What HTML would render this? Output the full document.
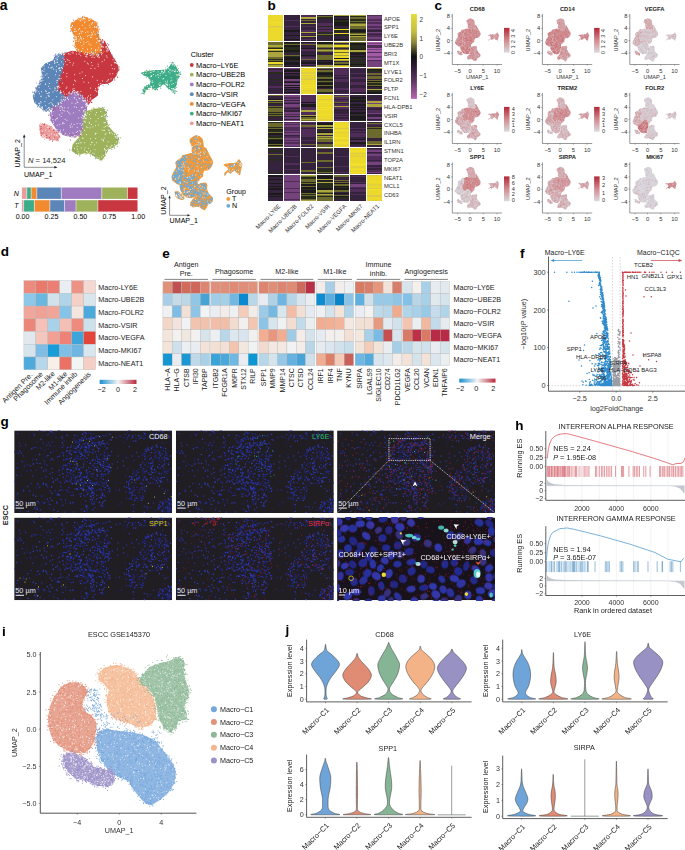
<!DOCTYPE html>
<html><head><meta charset="utf-8"><title>Figure</title>
<style>html,body{margin:0;padding:0;background:#fff;}svg{display:block;}text{font-family:"Liberation Sans", sans-serif;}</style>
</head><body>
<svg width="685" height="850" viewBox="0 0 685 850" font-family='"Liberation Sans", sans-serif'>
<rect width="685" height="850" fill="#fff"/>
<text x="-0.3" y="10.27" font-size="14" font-weight="bold" fill="#000">a</text>
<defs><path id="uVEGFA" d="M71.6 23.9L78.2 19.5L84 17.6L91.3 19.5L96.4 23.9L97.9 30.4L98.6 37.7L101.5 43.6L102.3 52.3L98.6 55.3L92.8 54.5L85.5 53.8L78.2 52.3L75.3 46.5L76 39.2L73.8 33.4L70.9 27.5Z"/><path id="uLY6E" d="M62.8 54.5L72.3 51.6L78.2 52.3L85.5 53.8L98.6 55.3L102.3 52.3L101.5 43.6L100.1 39.9L104.5 42.1L109.6 52.3L112 57L115.5 62L117.5 66.5L117.8 70L115.5 75.5L112 80L107.5 83L100.1 83.4L97.2 89.2L97.2 95L91.3 99.4L88.4 103.8L85.5 100.9L79.6 93.6L73.8 91.4L66.5 98L62.1 95L57 89.2L57.7 81.9L61.4 71.7L63.6 62.9Z"/><path id="uVSIR" d="M56.3 55.3L62.8 54.5L63.6 62.9L61.4 71.7L57.7 81.9L57 89.2L62.1 95L66.5 98L59.2 103.8L53.4 108.2L50.4 111.1L44.6 109.6L38.8 105.3L35.1 102.3L33.6 96.5L35.8 90.7L38.8 84.8L43.1 79L42.4 71.7L41.7 68.4L46.1 64L53.4 61.1Z"/><path id="uFOLR2" d="M66.5 98L73.8 91.4L79.6 93.6L85.5 100.9L86.2 109.6L84 118.4L82.6 127.2L79.6 134.5L72.3 136.6L63.6 134.5L57.7 130.1L51.9 121.3L50.4 114L51.9 109.6L59.2 103.8Z"/><path id="uUBE2B" d="M85.2 112.2L94.3 109.5L103.5 108.5L106.2 112.2L105.3 119.5L108 126.8L114.4 134.1L118 137.7L117.2 143.2L112.6 146.9L108 148.7L105.3 154.2L101.6 159.6L97.1 157.8L92.5 154.2L85.2 152.3L77.9 154.2L72.4 150.5L73.4 145L77.9 139.6L81.6 135.9L83.4 126.8L84.3 119.5Z"/><path id="uNEAT1" d="M40.2 125.7L44.6 124.2L51.9 128.6L57.7 133L58.5 138.8L53.4 139.6L46.1 137.4L41 133Z"/><path id="uMKI67" d="M142 73.3L146.8 71.9L150.4 71.5L155.5 70.8L161.4 70.8L167.2 70L170.1 66.8L172.3 63.5L174.5 65.3L176 68.2L178.9 72.6L178.1 77L176.7 79.9L176 84.3L174.5 87.2L175.2 90.8L173.8 91.9L170.1 88.7L167.2 86.5L165.7 84.3L162.8 83.5L159.9 85.7L157 87.2L155.5 89.4L152.6 87.2L148.9 86.5L145.3 90.1L143.5 93.4L143.8 88.7L148.2 85.7L151.1 83.5L150.4 79.1L148.2 76.2L144.6 74.8Z"/></defs>
<g id="umapA"><use href="#uVEGFA" fill="#f28a30" stroke="#f28a30" stroke-width="1.6" stroke-linejoin="round"/><use href="#uLY6E" fill="#c8373f" stroke="#c8373f" stroke-width="1.6" stroke-linejoin="round"/><use href="#uVSIR" fill="#5c86b8" stroke="#5c86b8" stroke-width="1.6" stroke-linejoin="round"/><use href="#uFOLR2" fill="#9e7cbf" stroke="#9e7cbf" stroke-width="1.6" stroke-linejoin="round"/><use href="#uUBE2B" fill="#9db25b" stroke="#9db25b" stroke-width="1.6" stroke-linejoin="round"/><use href="#uNEAT1" fill="#ec9b9c" stroke="#ec9b9c" stroke-width="1.6" stroke-linejoin="round"/><use href="#uMKI67" fill="#3dac88" stroke="#3dac88" stroke-width="1.6" stroke-linejoin="round"/><path d="M85.6 54h0M94.4 21.6h0M78 19.7h0M72.9 45h0M79.2 20.2h0M82.2 19.3h0M92.7 21.4h0M93.6 21.2h0M87.2 17.8h0M73.4 41.4h0M83.8 51.7h0M101.2 45.5h0M86.7 57h0M94.4 22.6h0M73 30.8h0M89.6 55.3h0M76.6 39.3h0M84 16.2h0M74.1 38.6h0M76.9 21h0M73.7 32.5h0M102.9 46.4h0M96 33h0M75.7 41.3h0M79.9 53.3h0M85.4 18.7h0M71.8 29.3h0M96.1 27.7h0M95.9 28.2h0M82.7 16.7h0M76.1 50.8h0M78.7 52.2h0M97.6 30.9h0M98.6 26.9h0M89.9 18.9h0M97.8 54.4h0M96.9 23.2h0M74 33h0M100.1 52.5h0M100.7 43.2h0M76.1 22.1h0M89 20h0M98.4 34.4h0M71.5 28.3h0M101.7 40.8h0M99.9 45.4h0M76.1 20.5h0M85.3 51.9h0M85.9 54.4h0M89.6 52.7h0M73.6 20.2h0M90.9 19.9h0M100.8 42.3h0M93.8 53.9h0M76.8 36.3h0M100 37.9h0M75.5 36.2h0M71.1 30.6h0M97 22.4h0M95.1 21.3h0M101.2 43.4h0M95.8 53.9h0M77.6 41.1h0M75.1 34.1h0M71.8 28.1h0M72.8 33.5h0M94.9 25.3h0M78.7 18.7h0M96.5 23.6h0M81.3 18h0M86.2 17.6h0M70.8 28.1h0M72.3 31.7h0M99.5 54.6h0M76.6 39.2h0M88.2 19.2h0M94.6 54.3h0M86.6 51.7h0M104 51.4h0M98.9 37.1h0M75 39.9h0M83.1 53.1h0M76 36.8h0M98.6 56.1h0M103 52.6h0M84.2 19.5h0M74.7 37.9h0M79 50.7h0M93.7 55h0M75.9 40.2h0M91.7 20.2h0M86.1 18.2h0M75.9 40.3h0M74.1 23.8h0M102.4 53.4h0M95.8 56h0M99.3 29h0M78.1 18.1h0M100.1 41.9h0M73.5 41.1h0M71.3 27.2h0M100.6 41.1h0M77.4 46.3h0M72 22.7h0M97.4 29.9h0M71.2 25.9h0M98.7 56.1h0M76.2 22h0M91.9 54.1h0M83.9 53.9h0" stroke="#f28a30" stroke-width="1.2" stroke-linecap="round" fill="none"/><path d="M107.5 48.5h0M63.9 53.7h0M98.1 89.6h0M102.6 39.5h0M100.6 51.1h0M117.5 67.9h0M111.1 55.4h0M57.3 90.8h0M81.6 96h0M103.4 83h0M88 101.1h0M82 96.4h0M91.9 102.3h0M101.3 83.9h0M104.2 41h0M74.6 91.3h0M106.9 82.2h0M84.6 55.4h0M104.6 41.3h0M118.3 66.3h0M75.7 51.7h0M98.8 52.9h0M94.2 97.5h0M110.1 52.5h0M109.5 80.7h0M114.2 78.9h0M112.1 56.8h0M111.7 75.7h0M108.7 44.8h0M83.3 54.2h0M62.1 58.9h0M108.8 50.4h0M60.4 73.4h0M62.3 59.1h0M99.7 54.4h0M112 54.9h0M97.9 55.4h0M77.2 93.8h0M56.7 85.8h0M108.8 51.2h0M88.3 102.6h0M106 48.3h0M63.8 93.8h0M91.1 100.2h0M102.2 41.5h0M114.8 80h0M112.3 79.9h0M110 82.1h0M73.8 93.1h0M110.5 54.1h0M91.5 102.4h0M108.6 81.9h0M71 94.9h0M78.6 52.2h0M113.9 62.2h0M73.2 92.9h0M100.8 42.5h0M106.4 49.2h0M103.3 82.7h0M107.9 52.3h0M116.9 73.4h0M62.3 55h0M64.4 96.6h0M119 69.2h0M112.1 80.4h0M99.7 54.8h0M57.3 89.3h0M115.2 75.8h0M100.8 53.8h0M111 55.9h0M116.5 74.1h0M100.8 84.2h0M64.8 96.3h0M113.7 78.7h0M102.3 41.8h0M63.1 59.1h0M100.3 40.7h0M104.7 44.9h0M111.2 81.1h0M88.2 102.7h0M58.2 88.3h0M111.9 57.1h0M107.6 52.5h0M110.3 81.1h0M63.5 65.6h0M119 66.9h0M118.7 70.7h0M60.1 75.1h0M84.7 54.3h0M61.6 67.3h0M76.7 93.5h0M102.6 51.6h0M117.6 77.2h0M101.1 41.3h0M65.8 97.1h0M115.7 64.8h0M75.5 91.8h0M62.9 96.7h0M116 75.4h0M78.4 92.8h0M114.7 61.2h0M82.3 95.4h0M76.6 91.2h0M63.8 61.9h0M80.9 93.6h0M109.4 50.9h0M111.8 78.8h0M59 91.6h0M56 88.3h0M81.4 53.5h0" stroke="#c8373f" stroke-width="1.2" stroke-linecap="round" fill="none"/><path d="M36.4 102.2h0M49 111.1h0M63.4 65.5h0M39.4 84.8h0M56.2 83.8h0M42.2 72.3h0M51.5 108.6h0M58.1 105.5h0M58.1 83.6h0M64 66.3h0M62.7 102.5h0M60.9 55.7h0M36.5 91.4h0M59.5 71h0M64.7 99.4h0M35.2 91.4h0M55.7 54.3h0M62.1 95.4h0M58.7 101.5h0M60.7 55.2h0M43.6 68.9h0M41.1 76.5h0M54.7 57.5h0M58.6 94.8h0M55.2 59h0M41.6 68.9h0M40 107.5h0M59.4 55.4h0M63.6 65.7h0M58.2 90.1h0M37.7 104.3h0M39.2 84.3h0M62.7 95.4h0M63.6 95.6h0M35.5 87.9h0M60.1 69.4h0M61.2 91.7h0M45.8 64.1h0M62.9 94.9h0M43.9 110.8h0M60.6 94.4h0M62.8 61.1h0M34.2 92.6h0M34.6 101.6h0M41.8 107.8h0M44.9 64.3h0M44.5 65.1h0M37.9 88.8h0M42.8 109.7h0M64.5 56.7h0M45.5 109.9h0M41.5 78h0M63.7 54.6h0M62 73.5h0M60.4 92.4h0M41 107.9h0M43.2 66.6h0M41.5 79.4h0M43.8 66.4h0M58.5 90.9h0M46.1 111.4h0M60.6 80.2h0M32.8 92.2h0M58.4 73.8h0M44.5 108.4h0M43.4 108.6h0M46.9 65.7h0M59.6 104.7h0M55.8 54.1h0M64.5 98.1h0M41.6 83.1h0M44.7 65.5h0M41.5 108.1h0M33.6 98.5h0M45.4 64.9h0M61 102.2h0M57.3 87.2h0M55.5 108.8h0M39.8 106.3h0M42 82.9h0M63.5 55.1h0M57.3 89.4h0M43 75.3h0M39.8 81.2h0M42.1 68.5h0M63.4 61.6h0M44.1 77.4h0M33.4 95.5h0M60.1 73.9h0M54.9 108.3h0M36.6 96.9h0M52.2 109.9h0M38.8 85.5h0M66.2 96.9h0M37.7 106.7h0M54.9 61.1h0M43.7 74.1h0M58.9 53.5h0M49.9 111.4h0M41.9 68.9h0M60.7 80.6h0M57.5 56.5h0M63.3 60h0M42.7 71.8h0M44.5 73.4h0M38.6 105.5h0M65.1 61.5h0M61.2 69.5h0M61.3 71.5h0M52.2 109.2h0" stroke="#5c86b8" stroke-width="1.2" stroke-linecap="round" fill="none"/><path d="M85.9 118.3h0M62.8 101.6h0M53.9 106h0M69.8 94.1h0M50.2 120.2h0M52.8 108.5h0M69.9 96.3h0M65.3 98h0M53.1 110.1h0M55.1 106.3h0M53.1 107.1h0M79.4 92.2h0M51.8 117.8h0M74.3 93.7h0M75.6 91.5h0M86.7 111.2h0M77.9 132.4h0M82.8 95.6h0M56.3 129.1h0M57.1 103.2h0M82 96.2h0M83.4 102.5h0M85.7 107.2h0M58.4 105.2h0M85.2 106.6h0M86.8 106.5h0M51.2 115.4h0M87.7 104h0M51.4 119.7h0M60.3 104.2h0M67.3 97h0M85 104.3h0M81.1 95.4h0M84.8 109.4h0M51.9 115.2h0M52.9 120.7h0M53.8 108.8h0M81.3 129.1h0M80.5 130h0M80 96h0M56.9 130.5h0M52.2 107h0M80.5 133h0M86 116h0M87 106.3h0M70.3 136.2h0M50.5 110.2h0M77.6 133.9h0M51.6 108.4h0M57.2 130.7h0M68.4 96.7h0M55.6 127.8h0M54.1 117.5h0M51.2 109.9h0M65.4 97.8h0M74.5 133.9h0M80.4 94.6h0M56.8 107.2h0M57.5 128.1h0M53.1 106.7h0M78.6 132.4h0M50.9 113.7h0M75.7 135.2h0M63.8 100.8h0M66.2 97.1h0M81.9 98.7h0M59.2 129.5h0M83 113.9h0M83.8 99.8h0M60.7 101.1h0M51.3 115.3h0M62.6 99.9h0M72.8 135.6h0M75.1 136.3h0M82.7 129.9h0M71.5 93.8h0M83.7 104.7h0M66.9 98.5h0M75.3 135h0M79.3 133.9h0M84.6 124.3h0M55.4 123.6h0M74.4 92.7h0M67.6 96.9h0M78 94.2h0M68.2 135h0M81.5 121.4h0M84.4 112.8h0M83.9 117.9h0M73.4 137h0M86.4 110.6h0M68.4 95h0M63.3 134.4h0M84.2 108.3h0M73.5 92h0M62 132.4h0M64.6 101.4h0M75.8 137.3h0M52.5 107h0M58 129.5h0M84.9 115.5h0M83.9 127.6h0M59.4 130.9h0M72.7 91.4h0M50.3 114.7h0M82.4 131.5h0M82 97.3h0M56.2 125h0M82.4 126.7h0M52.9 108.7h0" stroke="#9e7cbf" stroke-width="1.2" stroke-linecap="round" fill="none"/><path d="M86.6 111h0M112.7 134.9h0M85 112.8h0M81 130.8h0M113.3 146.7h0M93.3 107.8h0M104 111.3h0M79.7 155.9h0M90.5 155.8h0M104.9 113.6h0M95.1 154.9h0M112.8 145.7h0M98.9 107.3h0M76.7 136.5h0M106.5 125h0M117.1 138.4h0M117.3 142.2h0M117.3 146.3h0M98.4 111h0M76 143.9h0M74 146.2h0M103.9 110.6h0M118.8 139.8h0M84.4 119.8h0M101.2 159.8h0M102.1 108.2h0M75.4 153h0M115.8 136.3h0M102 158.8h0M107.1 120.7h0M105.4 115h0M105.6 153.1h0M86.7 114.1h0M74.8 142h0M117 144.2h0M81.5 136.3h0M117.8 137.9h0M100.3 108.1h0M104.2 109.8h0M85.1 113.9h0M82.9 134.5h0M112.4 132.5h0M120.3 137.7h0M104.3 107.4h0M94.9 109.1h0M85.9 153.9h0M116.4 137.9h0M81.4 135.7h0M105 115.8h0M108.7 125.4h0M118.4 138.7h0M107.6 110.2h0M109.8 124.5h0M97 157.2h0M107.2 151h0M104.8 155.3h0M85.6 115.4h0M105.5 121.8h0M114 147.2h0M114 147.2h0M104.5 113.2h0M82.3 119.3h0M106.3 115.1h0M113.1 146.7h0M111.8 149.4h0M111.2 146.2h0M76.1 153h0M76.1 153.4h0M95.6 156.8h0M111.4 131.3h0M79.5 140.1h0M79.9 154.3h0M84.6 120.3h0M114 132.9h0M98.6 109.7h0M83 128h0M83.8 151.8h0M76.7 141h0M103.8 156.5h0M86.4 152.8h0M118 141.5h0M83 112.1h0M109.8 148.1h0M78 153.5h0M117.3 143.7h0M103.3 113.5h0M85.8 111.3h0M92 109h0M119.2 142.9h0M84.3 119.4h0M75.5 142.8h0M96.9 157.8h0M116.2 137.7h0M115.6 133.9h0M85.4 115.3h0M98.2 158.2h0M99.9 160.2h0M78.7 139.6h0M69.7 149.9h0M103 156.3h0M105.3 155.7h0M116.8 136h0M99.5 157.6h0M94.1 108.8h0M82.6 120.8h0M100 110.2h0M96.5 157.1h0M104 158.7h0M74.2 151.6h0M104.2 122.5h0" stroke="#9db25b" stroke-width="1.2" stroke-linecap="round" fill="none"/><path d="M42.9 136.6h0M53.1 138.6h0M44.8 135.3h0M54.4 139.5h0M58.5 136.2h0M44.7 139.1h0M57.6 135.7h0M58 134.1h0M48.1 128.2h0M40.7 135.2h0M57.4 136.4h0M43.4 137.2h0M52.5 139.3h0M39.7 129.9h0M55.2 131.1h0M49.6 126.1h0M41.5 135.2h0M46.2 126.2h0M50.2 139.8h0M44.6 134.6h0M40.3 131.5h0M53.9 131.1h0M52.2 137.1h0M49.7 140.2h0M40.2 128h0M54 138.2h0M41.8 134.9h0M45.3 135.8h0M39.6 124.9h0M46 126h0M58.2 132.2h0M41.6 126.5h0M44.6 127.7h0M57.7 140.7h0M49.7 137.7h0M40.9 134.3h0M58.4 136.6h0M48.7 125.7h0M43.3 124.7h0M43.8 124.6h0M43.6 125.9h0M55.1 138.7h0M54.8 131.4h0M54.6 130.9h0M43.8 124.7h0M42.1 133.9h0M52.4 140.2h0M43.3 126.7h0M46.1 126.1h0M39.7 126.5h0M41.5 124.5h0M40.3 125.1h0M44.5 123.5h0M50.9 139.6h0M57.6 135.6h0M45.4 135.1h0M58.3 134.4h0M44.1 125.6h0M47.7 125h0M49.5 129.6h0M57 135.5h0M45.4 136.4h0M53.8 130.2h0M53.2 131.4h0M56.8 135.3h0M42.1 134.2h0M40.8 130.5h0M58.8 132.7h0M40 129.3h0M57.8 132.1h0M48.3 128.5h0M45.8 136.7h0M42.5 125.5h0M57.7 134.4h0M47.6 137.1h0M57.6 140.8h0M42.7 137.5h0M57.8 133.7h0M48.5 137.9h0M41.4 130.3h0M47.7 126.6h0M58.6 137.2h0M54.4 129.9h0M40.8 123h0M58 135.5h0M40.4 133.3h0M50.8 127h0M42.6 123.5h0M59.2 137.2h0M49.4 138.8h0M40.4 132.5h0M48.3 125.4h0M48.2 136h0M40.3 128.6h0M55.7 133.3h0M58.6 140.6h0M58.1 136.5h0M52.2 139.7h0M52.3 127.6h0M60 137.2h0M56.8 133.5h0M55.4 132.7h0M48.6 125.9h0M53.6 131.7h0M57.5 134.7h0M58.5 132.7h0M49.2 127.5h0M49.3 138.2h0M41.9 125h0M40.3 129.4h0" stroke="#ec9b9c" stroke-width="1.2" stroke-linecap="round" fill="none"/><path d="M172.2 91.6h0M175.7 84.3h0M167.3 66.1h0M173 90.7h0M150.1 70.8h0M174.4 79.4h0M178.6 72.1h0M161.1 83.5h0M173.8 88.2h0M174.3 91.5h0M146.8 89.3h0M150.3 76.9h0M167.7 70.1h0M149.7 87.1h0M176.4 81.1h0M146.3 77.2h0M145.9 75h0M146.3 70.3h0M180.6 74.3h0M154.8 88.7h0M145.8 73.7h0M180.3 72.1h0M159 72.2h0M142 93.4h0M161.7 83.3h0M176.4 79.2h0M176.9 72.2h0M144.7 92.5h0M174.4 93.6h0M173.6 62.5h0M176.3 83.5h0M148.4 85h0M143 74.1h0M166.9 71.1h0M145.7 74.7h0M148.4 75.1h0M178.6 78h0M167.7 69.2h0M176.8 91.3h0M175.7 86h0M170 67h0M156.7 86.6h0M146.7 72.9h0M142.1 73.1h0M155 86.8h0M173.1 63.1h0M154.7 88.3h0M144.8 88.4h0M172.3 91h0M148.8 86.2h0M168.4 86.7h0M177.1 70.4h0M149.6 70.4h0M147.5 89.2h0M146.6 86.4h0M162.6 70.3h0M176 67.2h0M152.8 88.9h0M155.9 89h0M171.4 88.1h0M153.5 70.5h0M150.7 87h0M144.2 75.2h0M172.3 62.4h0M170.5 67.5h0M177.4 73h0M153.3 87.5h0M147.2 86.1h0M152.3 80h0M157.4 89.7h0M147.9 86h0M179.5 76.6h0M168.7 88.8h0M160.6 88.1h0M176.9 78.9h0M145.6 89h0M160.1 86.3h0M149 71h0M147 72.2h0M165.5 84h0M160.8 70.5h0M158.7 86.8h0M145.7 72.1h0M161.5 85.6h0M160.7 84.5h0M168.4 69.1h0M147.8 87.5h0M161.5 84.7h0M160.2 86h0M144.3 74.7h0M142.7 89.8h0M177.1 70.5h0M170.5 89.3h0M162.2 83.3h0M168.2 87.7h0M172.2 92.1h0M154.3 88.3h0M169.5 66.6h0M147.6 75.1h0M155.2 86.5h0M177.5 76.3h0M146.6 85.8h0M155.1 89.7h0M147.1 71.5h0M146 89.6h0M153.4 85.6h0M176.2 87.5h0M175.4 92.8h0M170 88h0M180.2 73.9h0" stroke="#3dac88" stroke-width="1.2" stroke-linecap="round" fill="none"/><path d="M80.3 20.9h0M78.7 29.7h0M90.1 53.7h0M95.5 49.7h0M95.2 34.2h0M84.6 22.9h0M100.3 43.4h0M80.4 36.5h0M81.9 45.9h0M85.5 32.6h0M83.9 41.8h0M91.8 32.6h0M81.4 51.3h0M89.3 25.2h0M89 43.9h0M87.9 41.5h0M87.5 49.3h0M101.4 49.8h0M71.4 27.7h0M81.1 19.2h0M85.1 28.2h0M81.3 33.1h0M79.3 33.5h0M87.9 32h0M75.6 46.3h0M98.6 47.9h0M99.1 41.5h0M78.4 36.5h0M96.8 42.6h0M83.6 38.7h0M92.4 34.3h0M91.9 34.8h0M89 35.4h0M91.2 35.3h0M81.7 38.2h0M82.8 48.7h0M95.7 50.4h0M82.1 20h0M91.6 48.7h0M91.8 52.4h0M94.9 27.5h0M97.3 49.9h0M81.8 39.8h0M82.3 25.3h0M76.2 31.4h0M92.1 23.3h0M91.7 24.3h0M100.6 49.9h0M91.4 51.9h0M81 31.2h0M98 33.7h0M83.8 44.1h0M82.7 31.4h0M91.7 37.3h0M80.4 42.6h0M79.5 28.6h0M84.9 21.8h0M90.8 45.1h0M76.4 37.1h0M86.2 42.5h0M90.5 37.3h0M96.1 27.1h0M79.1 39.9h0M80.5 38.1h0M79.2 34.1h0M87.4 36.2h0M95.4 52.3h0M93.4 31.8h0M90 27.3h0M78.4 49.6h0" stroke="#ffffff" stroke-width="1" stroke-linecap="round" fill="none"/><path d="M99.1 33.4h0M85.8 56.4h0M88.3 20.2h0M69.5 25.9h0M92.8 22.5h0M72.7 44h0M76.7 38.7h0M75.9 19.5h0M83.2 18.9h0M76.7 48.5h0M89.8 18.8h0M102.2 41.7h0M91.3 54.9h0M76.8 41.4h0M84 18.8h0M72.3 25.6h0M70.7 27.5h0M93.9 54.8h0M80 20.3h0M75.9 41.2h0M77.5 16.4h0M73.8 31.7h0M92.9 53.5h0M83 18.1h0M92.8 56h0M101.3 40.1h0M75 35.9h0M96.9 38.8h0M80.9 17.5h0M74.9 31.5h0M97.3 32.2h0M93.1 54.5h0M99.2 40.9h0M89.2 20.5h0M98.3 54.9h0M84.1 18.4h0M75.6 39.3h0M87.4 52.8h0M101.5 52.6h0M103.2 47.3h0M96.7 54.9h0M76.2 39.5h0M78.2 51h0M103.1 42.9h0M98.2 55.2h0M85.2 19.1h0M83.1 18.4h0M101.4 50.4h0M94.4 26.5h0M97.5 56.6h0M101.3 47h0M93.7 53.1h0M94 22.1h0M77.2 18.7h0M97.3 26.1h0M97.8 32.5h0M78.3 19.1h0M97.6 26.2h0M96.5 27h0M75.1 37.6h0M101.4 54.7h0M103.4 42.3h0M71.6 27h0M81.5 16.8h0M102.8 46.7h0M73.9 21.6h0M90.8 19.4h0M72.4 25.3h0M87.5 54.3h0M97.1 38.5h0M75.2 36.9h0M78.3 41.3h0M97.2 27.9h0M80.8 55.7h0M87.7 54h0M72.5 33h0M88.9 18.3h0M83.2 17.3h0M81.8 51.4h0M75 29.7h0M83.8 15.9h0M99.3 31.4h0M72.8 26h0M92.2 17.3h0M100.2 44.7h0M74.8 28.8h0M81 16.3h0M86.3 54.3h0M89.2 53.2h0M98.3 55.3h0" stroke="#ffffff" stroke-width="1" stroke-linecap="round" fill="none"/><path d="M63.7 91.8h0M82.5 78.5h0M84.8 61.3h0M70 62.5h0M108.3 79.5h0M73.5 84.7h0M83.9 82.1h0M106.1 47.6h0M107 51.7h0M79 54.2h0M111.1 78.9h0M111.3 65.1h0M87.4 101h0M87.8 103.1h0M68.5 93h0M66.9 73.6h0M114.5 68.9h0M106.2 55.9h0M90.6 95h0M88.2 64h0M94.9 68.3h0M115.2 63h0M97.2 80.3h0M79.9 73.3h0M87.3 63.1h0M90.9 68.5h0M92.7 76.8h0M102.4 80.9h0M74.1 88.6h0M74.7 74.7h0M96.4 91.3h0M98.1 64.2h0M99 57.6h0M66.8 76.7h0M88.4 96h0M66.9 87.1h0M67.4 59.8h0M69 60.4h0M72.8 65.1h0M73.2 52.9h0M112.3 68.7h0M107.9 80.6h0M104.3 60h0M66.2 88.3h0M85.6 75.6h0M97.8 88h0M73.7 63.1h0M112.8 73.7h0M74.5 80.2h0M72.8 89.2h0M91.4 62.5h0M90.4 88.1h0M98.2 66.3h0M106.1 47h0M75.7 81.1h0M102.1 61.7h0M80.9 91.4h0M110 73.9h0M88.7 82.7h0M82.1 72h0M92.1 65.7h0M91.9 57.4h0M108 49.6h0M87.4 97.3h0M106.9 81.4h0M94.2 57.5h0M61.1 78.5h0M107.1 57.3h0M70 54.2h0M62.7 83.1h0" stroke="#ffffff" stroke-width="1" stroke-linecap="round" fill="none"/><path d="M59.3 75.4h0M80 52.2h0M114 79.2h0M76.5 51.3h0M72.9 51h0M104.7 39.1h0M103.8 85.7h0M102.9 42.3h0M85.4 100.3h0M103.1 85.6h0M107 48.8h0M98.7 84.5h0M62.6 68.4h0M114.3 62.3h0M95.2 90.6h0M82.6 98.2h0M90.6 55.3h0M76.8 91.9h0M63.8 96.9h0M98.5 86.8h0M64.3 94.1h0M78.6 94.7h0M57.4 88h0M106.1 46.5h0M115.3 62.4h0M101.4 46.4h0M83.3 98h0M101.2 53.1h0M85.3 52.1h0M58.1 87.9h0M107.4 48.3h0M72.1 52.8h0M55 90.2h0M118.7 66.2h0M99.1 57.1h0M119 63.1h0M84.4 53.8h0M98.3 87.7h0M95.5 88.7h0M101.9 44.8h0M57.5 80.4h0M98.1 40.6h0M85.9 101.9h0M76 91.4h0M89.1 101.4h0M91.3 100.2h0M97 54.9h0M103.7 41.6h0M98.1 92h0M76 95.2h0M100.8 40.7h0M106.6 41.4h0M75.8 49.8h0M103.1 42.8h0M65.7 61.7h0M100.3 50.7h0M113 54.7h0M63.6 64.1h0M87 103h0M90.4 98h0M86.5 103.6h0M68.4 53.7h0M100.8 83.5h0M87.3 99.1h0M90.2 98.9h0M86.9 56.8h0M86.5 55.1h0M106.9 50.6h0M72.8 92.9h0M85 100.8h0M113.7 79.1h0M99.9 37.7h0M63.6 72.3h0M87.3 100.6h0M57 80.5h0M108.1 50.5h0M114.9 62.7h0M99.7 41.1h0M69.3 93.2h0M113 59.8h0M64.8 53.2h0M60.7 90.7h0M59.7 78.8h0M76.4 54h0M116.7 63.4h0M99.7 40.2h0M64.4 54.5h0M67.6 98.3h0M113.1 54.4h0M117 73.9h0" stroke="#ffffff" stroke-width="1" stroke-linecap="round" fill="none"/><path d="M48 93.4h0M56.3 96.7h0M58.4 68.6h0M56.3 66.3h0M54.8 88h0M55.2 88.3h0M56.5 71.7h0M49.8 109.4h0M56.2 70h0M58.9 64.6h0M47.1 93.5h0M48.2 95.7h0M44.9 101.6h0M41 102.9h0M39.8 105.7h0M38.8 91.8h0M52.9 91.9h0M46.2 91.4h0M52.3 67.1h0M61.6 61.9h0M57.4 62.3h0M59.5 68.7h0M45.6 84.1h0M59.8 70.6h0M46.1 97.8h0M45.6 90.8h0M49.1 103.7h0M61.1 67.8h0M57 59.8h0M49 107.5h0M40.9 96.6h0M52.1 103.8h0M50.9 68.1h0M39.2 103.4h0M42.3 106.8h0M48.8 95.9h0M44.1 66.1h0M55.4 74.9h0M49.4 64.7h0M49.1 96.4h0M51.3 67.7h0M50 88.7h0M55 62.7h0M58 103h0M45.7 105.6h0M53.3 105.5h0M49.3 83.5h0M40.7 101.7h0M48.6 67.3h0M47 73.9h0M53.6 69.1h0M48.5 86.3h0M57 62.3h0M52.7 104.7h0M39.1 87.6h0M48.5 77.6h0M42.4 107.8h0M51 102.5h0M41.6 91.7h0M52.9 99.8h0M39.6 93.7h0M45.7 84.2h0M55.9 58.7h0M49.1 92.5h0M59.9 55h0M49.2 92.9h0M56.9 91.1h0M59.4 67.7h0M47.8 108.7h0M41.2 96.1h0" stroke="#ffffff" stroke-width="1" stroke-linecap="round" fill="none"/><path d="M41.1 108h0M62.3 101.2h0M38.2 84.8h0M61.4 67.4h0M42.4 75h0M60.4 91.9h0M60.5 92.8h0M49.6 109.1h0M42.5 70.8h0M51.7 110.5h0M36.8 90.3h0M64.9 96.9h0M43 77.1h0M57.4 90.6h0M57.4 86.7h0M57 55.6h0M61.9 96.9h0M48.7 107.8h0M50.8 111.4h0M67 64.7h0M57 86.4h0M32.9 87.3h0M64.2 59.6h0M51.6 112.8h0M35.3 89.7h0M35.6 90.9h0M60.3 70.4h0M57 54.8h0M49.4 61h0M41 81.4h0M57.2 57.1h0M35.7 92.4h0M51 110.6h0M63.3 53.8h0M56.5 54.4h0M46.5 112.6h0M51.5 111.5h0M56.9 82.4h0M58.8 56.3h0M41.9 78.3h0M51.5 110.8h0M39.5 105h0M39.1 85h0M32.9 98.9h0M48 111.1h0M54.7 63.4h0M41.1 78.5h0M52.7 108.5h0M49.1 111.2h0M58.7 78.6h0M54.2 60.6h0M60 93.1h0M65.4 97.5h0M49.5 109.6h0M42.9 80.4h0M38.9 103.4h0M50.4 111h0M58.6 86.5h0M40.3 83.9h0M37 82.3h0M44.2 69h0M46.2 109.7h0M61.7 54.5h0M58.5 104.4h0M47.9 113.4h0M41.8 107.4h0M53.5 111.6h0M34.2 96.1h0M60.3 102.4h0M61.3 92.6h0M47.4 63.5h0M61.2 103.3h0M40 106.8h0M59.8 87.4h0M45.3 75.1h0M43.9 71.3h0M36 91.3h0M49 110.8h0M63.5 54.8h0M41.9 67.2h0M34.4 94.3h0M35.7 102.2h0M35.3 91h0M42.7 108.3h0M38.9 84.5h0M54.5 61.5h0M57.6 59.3h0M62.9 58.2h0M58.8 86h0M41.6 81h0" stroke="#ffffff" stroke-width="1" stroke-linecap="round" fill="none"/><path d="M77.1 127.6h0M64 123.5h0M83.7 100.5h0M61.2 106.3h0M76.6 99.8h0M70 114h0M74.3 97.9h0M70.5 127.3h0M70.1 125.7h0M81.5 107.7h0M83.5 100.8h0M51.2 114.1h0M84.6 114.5h0M83.8 116.7h0M55.5 119.9h0M79.2 110.6h0M72 103.1h0M60.3 110.4h0M68.8 112.6h0M62.6 123.8h0M77.2 102.1h0M59.6 114.8h0M56.7 118.7h0M82.8 100.5h0M71.4 124h0M77.2 123.6h0M75.8 103.7h0M74.7 97.8h0M66.9 120.3h0M77.8 102.5h0M65.1 119.3h0M57.3 105.7h0M68.5 99.7h0M67.6 111.3h0M85.2 113.4h0M84.2 112.7h0M57.5 118.2h0M85 109.6h0M63.1 110.6h0M63 122.6h0M81.3 117.3h0M76.5 107.4h0M73 133h0M64.8 111h0M61.1 116.5h0M74.1 124.6h0M63.5 129.9h0M78.7 118.1h0M74.6 106.8h0M84.2 116.2h0M64.8 99.6h0M62 113.1h0M68.1 107.8h0M82.4 107.2h0M69.4 133.4h0M73.3 113h0M62.3 108.9h0M72.2 126.9h0M59.7 108.1h0M64.3 107.8h0M83.1 115.8h0M60.3 106.4h0M79.8 98.6h0M75.1 92.4h0M79.2 98h0M59.8 124.6h0M76.2 132.5h0M84.3 116.3h0M83.5 111h0M57.3 125.2h0" stroke="#ffffff" stroke-width="1" stroke-linecap="round" fill="none"/><path d="M55.5 106.3h0M47.6 113.6h0M67.3 97.8h0M82.5 124.1h0M80.7 95.6h0M87.2 103.8h0M79.9 130.7h0M73.5 90.6h0M85.4 98.2h0M55.3 129.2h0M69.4 92h0M71.2 93.7h0M82.3 124.2h0M72.5 91.7h0M84.8 100.3h0M65.7 133.3h0M71.2 94.1h0M85.7 104.4h0M74.4 135.7h0M84.4 130.4h0M86.7 105.3h0M58.6 133.6h0M83.5 118.2h0M67.5 138.7h0M76.9 92.1h0M77.6 131.4h0M60.6 132.1h0M59.9 131.8h0M74.7 93.9h0M50.5 110.9h0M74.6 90.5h0M77.4 94.2h0M61.2 100.8h0M52.1 109.3h0M74 137.8h0M52.9 119.4h0M83.9 101.3h0M55.8 105.7h0M53.4 121.8h0M71.4 136.6h0M58.4 104.4h0M60.4 130.2h0M80.1 123.6h0M53.6 123.5h0M71.6 138.7h0M86.1 104h0M62.2 107.5h0M84.3 116.2h0M67.8 135.1h0M80.6 131.9h0M50.4 117.2h0M64.7 134.2h0M55.8 131.7h0M58.6 103.3h0M86.3 115.5h0M61.3 133.6h0M80.5 134.1h0M61 134.9h0M82.4 96.1h0M78.1 93.9h0M51.3 108.6h0M61.1 99.4h0M57 129.4h0M84.2 121.9h0M76.4 92.8h0M69.8 137.3h0M56.9 129.8h0M86 106.7h0M74.6 92.2h0M64.8 100.6h0M63.5 99.5h0M63.5 136h0M76.4 93.1h0M49.5 120.8h0M81.5 134.8h0M52.2 115.6h0M82.5 115.4h0M77.9 91.5h0M59.5 133.1h0M81.3 125.6h0M85.4 115.1h0M77.5 91.9h0M68.7 136.3h0M76.1 135.7h0M82.3 128.2h0M65.2 99.6h0M73.9 136.4h0M66.8 94.2h0M72.4 137h0M61 103h0" stroke="#ffffff" stroke-width="1" stroke-linecap="round" fill="none"/><path d="M87.5 113h0M102 130.1h0M86.5 134.7h0M104.6 130.4h0M78 151.8h0M102 116.5h0M100.9 111.5h0M95.5 125.6h0M77.1 146.4h0M105.1 134.6h0M80.1 142.7h0M92.2 142.3h0M90.6 118.6h0M76.4 143.6h0M84.5 142.8h0M103.8 130.5h0M95.3 133.5h0M81.2 142.7h0M95 149.8h0M109.5 132.7h0M78.2 143.5h0M104.2 138h0M105 149.4h0M105.4 126.3h0M104.1 127.2h0M104.9 122.7h0M105.5 152.7h0M101.4 116.4h0M112.2 145.1h0M103 108.7h0M99.2 158h0M101.8 156.9h0M98.2 118.5h0M96.1 133.2h0M87.8 127.6h0M95.7 138.5h0M95.3 134.2h0M91.5 142.4h0M85 147.8h0M104.5 148.4h0M96 121.2h0M114.6 134.6h0M89.5 123.3h0M90.7 144.7h0M109.7 133.2h0M93 126.8h0M86.4 126.9h0M106.8 146h0M108.2 141.9h0M103.2 141h0M104 122.4h0M96.3 142.7h0M77.4 149.2h0M106 133.4h0M89.2 122.3h0M94.6 144.9h0M91.6 124.5h0M87.5 152h0M81.2 148h0M89.5 114.6h0M90.5 138.9h0M90.2 127.9h0M107.1 125.5h0M103.4 140.4h0M103.1 139.7h0M85.8 118.7h0M83 138.4h0M98.6 125h0M101.8 139.3h0M95.7 114.8h0" stroke="#ffffff" stroke-width="1" stroke-linecap="round" fill="none"/><path d="M119.1 135.6h0M96.5 112.5h0M116.4 141.9h0M120.1 140.4h0M111.6 145.8h0M85 112.7h0M77.3 138h0M104.6 158.3h0M86.5 151.6h0M119.7 137.8h0M108.8 130.2h0M107.6 149.7h0M82.8 118.2h0M103.3 155.5h0M99 160.6h0M74.8 141.6h0M86.2 118.2h0M74.4 148.6h0M102.8 116.4h0M109.5 155.5h0M115.4 137h0M117.6 137.8h0M103.6 159.1h0M105.4 151h0M78.8 153.7h0M112.3 133.9h0M107.5 122.6h0M105 149.8h0M78.1 140.4h0M114.6 134.4h0M76.1 138.5h0M106.5 150.5h0M88.7 153.6h0M104.8 111.5h0M85 111.3h0M104.8 107.7h0M90.9 111.1h0M84.8 117.1h0M105.4 153.9h0M107.2 150.6h0M105.5 110.6h0M110.7 147h0M89.8 152.7h0M92.5 109h0M105.2 110.6h0M82.4 138.1h0M90.7 151h0M117.7 136.6h0M117.7 138.8h0M107.3 113.4h0M74 153.1h0M84.9 118.1h0M85.6 122h0M91.2 154.8h0M116.8 138.3h0M105.5 114.7h0M110 147.1h0M94.2 154h0M105.2 122.4h0M108.2 126.4h0M104.4 115.6h0M92.9 153.3h0M107.5 116h0M108.3 148.9h0M105.1 117.6h0M109.6 129.9h0M78.4 154.7h0M117.6 134.4h0M106.2 118.5h0M107 146.2h0M111 132.7h0M106.8 113.1h0M114.6 144.6h0M78.3 140.6h0M104.7 108.5h0M109.1 130.1h0M105.4 154.5h0M119.1 144h0M88.3 148.3h0M115.1 136.6h0M82.3 128.2h0M106 108.6h0M84.1 121h0M84.6 150.1h0M97.1 157.3h0M79.1 140.1h0M104.2 114.9h0M83.9 110.7h0M116.9 136.7h0M85.6 114.5h0" stroke="#ffffff" stroke-width="1" stroke-linecap="round" fill="none"/><path d="M45.6 130.1h0M53.4 132.2h0M44.4 125.2h0M41.1 125.4h0M41 128.7h0M54.8 134.8h0M43.2 125.6h0M45.7 136.2h0M57 135.1h0M51.5 134h0M53.7 138h0M42.4 131.3h0M49.1 131h0M47.2 127.3h0M49 135.2h0" stroke="#ffffff" stroke-width="1" stroke-linecap="round" fill="none"/><path d="M44.1 134.5h0M48.2 125.9h0M56.3 135.1h0M50.8 139.1h0M54.1 141.3h0M44.1 135.7h0M51.6 140.4h0M52.3 129h0M42.1 126.4h0M45.3 125.1h0M48.7 127.2h0M46.2 123.5h0" stroke="#ffffff" stroke-width="1" stroke-linecap="round" fill="none"/><path d="M173 64.9h0M176.9 75.7h0M167.6 81.1h0M168.6 71.8h0M158.1 71.9h0M163.6 72.4h0M152.1 82.7h0M160.6 85h0M155.8 75.8h0M174.9 71.7h0M171.9 80.2h0M144.9 89.3h0M159.1 84.8h0M166 84.1h0M177.4 75.2h0M157.7 74.7h0M167.7 85.6h0M166 75.5h0M163 78.9h0M173 70.7h0M169.4 84.9h0M174.4 71.5h0M171.1 77.7h0M153.5 74.5h0M171.5 88.7h0M173.2 83.5h0M153.2 71.5h0M158.1 74.9h0M163.5 78.6h0M151.1 72.1h0M177.8 74.6h0M171.9 84.3h0M151.8 75.4h0M165.2 81.4h0M162.9 73.3h0M176.2 74.6h0M145.8 73.5h0M165.8 83.3h0M158.4 77.3h0M170 73h0M171.9 70.9h0M160.2 73.5h0M170.8 81h0M150.8 72.6h0M160.1 75.3h0" stroke="#ffffff" stroke-width="1" stroke-linecap="round" fill="none"/><path d="M150.6 76.8h0M143.4 92.6h0M173.6 61.8h0M151.5 76.5h0M151.8 86.9h0M173.9 90.2h0M142.2 74.3h0M169.7 65.8h0M144.9 70.2h0M167.1 82.8h0M169.7 87.3h0M174.1 91.3h0M154.4 69.9h0M141.6 88h0M149.8 70.4h0M175.8 71.2h0M154.2 70.9h0M160 82.8h0M173.7 88.8h0M175.4 89.6h0M142.3 71.4h0M179.4 69h0M177.2 89h0M179.1 73.3h0M166.9 84.6h0M152.2 80.8h0M140.8 71.8h0M164.5 71.1h0M166.9 84.6h0M151.3 86.6h0M175.1 62.9h0M178 91.5h0M173.7 89.2h0M143.7 73.4h0M175.1 69.9h0M177.4 71.5h0M172.3 91.7h0M153 89.6h0M172.7 64h0M162 86.1h0M149.1 83.5h0M168.8 68.3h0M169.9 70.2h0M148.6 88.9h0M145.2 93.1h0M177.1 78.8h0M149.5 83.8h0M151.3 87.7h0M172.3 64.9h0M150.5 81.7h0M170.7 63.2h0M171.2 90.9h0M178.5 75h0M150.8 86.3h0M173.4 63.9h0M145.9 90.5h0M167.3 84.8h0M150 80.2h0M172.4 88.8h0M146.2 71.4h0M179.9 86.1h0M176 82.4h0M175.1 89.6h0M149.6 84.8h0M164.9 72.1h0M142.3 91.4h0M172.4 90.9h0M139.5 95.4h0M142.3 88.6h0M161.4 71.2h0M170 69.6h0M147.3 86.3h0M162.6 71.3h0M179.2 71.2h0M161.6 72h0M172 63.6h0M146.4 90.2h0M173.9 88.3h0M152.9 82.2h0M174.6 65.9h0M164.6 70.3h0M175.3 92.2h0M174.9 89.6h0M143.5 88.6h0M175.1 90.2h0M154.9 88.6h0M153.5 85.8h0M148.2 69.8h0M159.5 85.4h0M177.6 86.3h0" stroke="#ffffff" stroke-width="1" stroke-linecap="round" fill="none"/><path d="M90.5 54.2h0M95.1 28.9h0M98.5 39.4h0M101.2 43.7h0M96.3 53.1h0M97.9 34.8h0M97 32.6h0M78.1 42.2h0M92.7 51.6h0M94.5 53.2h0M73.4 25.5h0M74.2 46.6h0M93.3 54.8h0M97.8 26.2h0M93.3 22h0M73.7 37.7h0M82.5 17.5h0M97.8 34.6h0M102.8 56.1h0M101.2 42.8h0M70.6 31.4h0M100.7 43.4h0M73.2 31.9h0M99.2 53.5h0M97.3 36h0" stroke="#5c86b8" stroke-width="1" stroke-linecap="round" fill="none"/><path d="M56.6 88.3h0M114.9 58.8h0M117.6 66.9h0M108.6 84.5h0M62.2 53.2h0M62.4 56.2h0M64.2 63.4h0M89.8 99.4h0M69.2 97h0M60.3 96.1h0M112 55.3h0M103.7 49.9h0M117.3 70.5h0M87.5 101.2h0M94.7 95.3h0M63.6 56.8h0M65 52.6h0M107.7 43.4h0M103.3 43.1h0M87.8 103.2h0M60.8 56.3h0M103.1 85.7h0M58.8 89h0M99.6 53.9h0M105.8 81.9h0" stroke="#5c86b8" stroke-width="1" stroke-linecap="round" fill="none"/><path d="M57.8 106.6h0M51.1 64.6h0M43.8 75.2h0M57 56.3h0M66.4 58.7h0M36.7 83h0M64.7 99.6h0M62 93.9h0M34.7 92h0M45.5 110.3h0M60.9 71.5h0M40.2 80.1h0M54.2 55.7h0M37.1 87.5h0M46.5 111.2h0M41.9 75.1h0M57.7 105.3h0M59.7 56.2h0M59.3 93.5h0M59.5 55.9h0M37.8 90.8h0M60.5 104h0M37.8 88.7h0M40.3 106.7h0M37.2 90.9h0" stroke="#9e7cbf" stroke-width="1" stroke-linecap="round" fill="none"/><path d="M76.1 93.7h0M53.6 109.2h0M79.4 93h0M64.1 133.9h0M86.5 107.8h0M76.7 91.5h0M53.5 117h0M75.1 91.7h0M80.6 135.6h0M53.5 110.8h0M83.9 99.7h0M71.9 134.8h0M74.5 137.1h0M76.5 133.7h0M78.9 136.1h0M79.2 135.9h0M81.8 128.7h0M58.6 108.4h0M70.5 140h0M54 107.9h0M48.7 115.2h0M79.5 96.8h0M68.8 133.8h0M79.9 95.1h0M52 107.9h0" stroke="#c8373f" stroke-width="1" stroke-linecap="round" fill="none"/><path d="M112.6 144h0M102.4 107.4h0M107.6 116.7h0M75.4 151.7h0M117.8 134.7h0M107.5 150.2h0M106.3 112.5h0M73.5 149.5h0M79.8 136.1h0M114.7 148.1h0M104.6 111.5h0M95.3 158.7h0M82.1 127h0M78 140.9h0M116.9 139.7h0M92.6 154.7h0M103.2 109.3h0M78.6 140.5h0M84.3 112.4h0M92.9 155.1h0M109.6 129.1h0M107 122.7h0M117.9 139.3h0M104 152.7h0M102.9 117.2h0" stroke="#5c86b8" stroke-width="1" stroke-linecap="round" fill="none"/><path d="M56.2 140.4h0M46.8 137.9h0M43 133h0M56.1 132.7h0M52.5 141.2h0M41.7 128.6h0M51.1 126.5h0M41.4 135.9h0M50.5 139h0M54.5 137.2h0M46.6 135.5h0M53.7 130.2h0M59.2 135.3h0M44.5 124.4h0M59.6 136.7h0M49.6 128.7h0M41.2 133h0M57.4 139.2h0M41.8 126.6h0M54 132.2h0M49.6 137.6h0M40.4 128.9h0M41.1 126.5h0M43.8 124.9h0M44.4 125.2h0" stroke="#c8373f" stroke-width="1" stroke-linecap="round" fill="none"/><path d="M165.7 67.9h0M144.5 86.6h0M150.6 75.6h0M144.5 94h0M177.3 65.8h0M174.8 88.1h0M148.2 72h0M143.9 89.4h0M161.6 82.7h0M177.3 74.9h0M152.1 71h0M146.7 72.8h0M148.7 78h0M170.1 62.5h0M152.6 88.7h0M158.4 83.5h0M178.5 68.5h0M165.4 70.3h0M176.3 91.5h0M145.4 91.6h0M144.8 71.4h0M153.1 88.4h0M149.2 89.4h0M149.3 72h0M147.2 71.2h0" stroke="#9db25b" stroke-width="1" stroke-linecap="round" fill="none"/></g>
<line x1="24.2" y1="167.3" x2="24.2" y2="136.5" stroke="#231f20" stroke-width="0.5"/>
<path d="M24.2 134.2L22.9 137.4L25.5 137.4Z" fill="#231f20"/>
<line x1="24.2" y1="167.3" x2="55.5" y2="167.3" stroke="#231f20" stroke-width="0.5"/>
<path d="M57.6 167.3L54.4 166L54.4 168.6Z" fill="#231f20"/>
<text transform="translate(17.3 153.3) rotate(-90)" x="0" y="2.52" font-size="7.1" text-anchor="middle">UMAP_2</text>
<text x="24" y="176.52" font-size="7.1">UMAP_1</text>
<text x="28" y="162.9" font-size="7.6" fill="#231f20"><tspan font-style="italic">N</tspan> = 14,524</text>
<text x="190.7" y="57.29" font-size="7.3">Cluster</text>
<circle cx="191.8" cy="65" r="1.9" fill="#c8373f"/>
<text x="196" y="67.63" font-size="7.4">Macro−LY6E</text>
<circle cx="191.8" cy="74.72" r="1.9" fill="#9db25b"/>
<text x="196" y="77.35" font-size="7.4">Macro−UBE2B</text>
<circle cx="191.8" cy="84.44" r="1.9" fill="#9e7cbf"/>
<text x="196" y="87.07" font-size="7.4">Macro−FOLR2</text>
<circle cx="191.8" cy="94.16" r="1.9" fill="#5c86b8"/>
<text x="196" y="96.79" font-size="7.4">Macro−VSIR</text>
<circle cx="191.8" cy="103.88" r="1.9" fill="#f28a30"/>
<text x="196" y="106.51" font-size="7.4">Macro−VEGFA</text>
<circle cx="191.8" cy="113.6" r="1.9" fill="#3dac88"/>
<text x="196" y="116.23" font-size="7.4">Macro−MKI67</text>
<circle cx="191.8" cy="123.32" r="1.9" fill="#ec9b9c"/>
<text x="196" y="125.95" font-size="7.4">Macro−NEAT1</text>
<rect x="21.9" y="187.5" width="4.86" height="11.4" fill="#ec9b9c"/>
<rect x="26.76" y="187.5" width="4.39" height="11.4" fill="#3dac88"/>
<rect x="31.15" y="187.5" width="5.66" height="11.4" fill="#f28a30"/>
<rect x="36.81" y="187.5" width="24.51" height="11.4" fill="#5c86b8"/>
<rect x="61.32" y="187.5" width="40.46" height="11.4" fill="#9e7cbf"/>
<rect x="101.78" y="187.5" width="25.66" height="11.4" fill="#9db25b"/>
<rect x="127.44" y="187.5" width="10.06" height="11.4" fill="#c8373f"/>
<line x1="26.76" y1="187.5" x2="26.76" y2="198.9" stroke="#fff" stroke-width="0.5"/>
<line x1="31.15" y1="187.5" x2="31.15" y2="198.9" stroke="#fff" stroke-width="0.5"/>
<line x1="36.81" y1="187.5" x2="36.81" y2="198.9" stroke="#fff" stroke-width="0.5"/>
<line x1="61.32" y1="187.5" x2="61.32" y2="198.9" stroke="#fff" stroke-width="0.5"/>
<line x1="101.78" y1="187.5" x2="101.78" y2="198.9" stroke="#fff" stroke-width="0.5"/>
<line x1="127.44" y1="187.5" x2="127.44" y2="198.9" stroke="#fff" stroke-width="0.5"/>
<rect x="21.9" y="200.2" width="1.73" height="11.4" fill="#ec9b9c"/>
<rect x="23.63" y="200.2" width="10.75" height="11.4" fill="#3dac88"/>
<rect x="34.38" y="200.2" width="15.49" height="11.4" fill="#f28a30"/>
<rect x="49.88" y="200.2" width="14.68" height="11.4" fill="#5c86b8"/>
<rect x="64.56" y="200.2" width="11.44" height="11.4" fill="#9e7cbf"/>
<rect x="76" y="200.2" width="21.85" height="11.4" fill="#9db25b"/>
<rect x="97.85" y="200.2" width="39.65" height="11.4" fill="#c8373f"/>
<line x1="23.63" y1="200.2" x2="23.63" y2="211.6" stroke="#fff" stroke-width="0.5"/>
<line x1="34.38" y1="200.2" x2="34.38" y2="211.6" stroke="#fff" stroke-width="0.5"/>
<line x1="49.88" y1="200.2" x2="49.88" y2="211.6" stroke="#fff" stroke-width="0.5"/>
<line x1="64.56" y1="200.2" x2="64.56" y2="211.6" stroke="#fff" stroke-width="0.5"/>
<line x1="76" y1="200.2" x2="76" y2="211.6" stroke="#fff" stroke-width="0.5"/>
<line x1="97.85" y1="200.2" x2="97.85" y2="211.6" stroke="#fff" stroke-width="0.5"/>
<text x="16.4" y="195.72" font-size="7.1" text-anchor="middle" font-style="italic">N</text>
<text x="16.4" y="208.42" font-size="7.1" text-anchor="middle" font-style="italic">T</text>
<text x="22.6" y="219.32" font-size="7.1" text-anchor="middle">0.00</text>
<text x="51.5" y="219.32" font-size="7.1" text-anchor="middle">0.25</text>
<text x="80.4" y="219.32" font-size="7.1" text-anchor="middle">0.50</text>
<text x="109.3" y="219.32" font-size="7.1" text-anchor="middle">0.75</text>
<text x="138.2" y="219.32" font-size="7.1" text-anchor="middle">1.00</text>
<g transform="matrix(0.481 0 0 0.52 155.83 126.75)" fill="#f29a3a" stroke="#f29a3a" stroke-width="2.2" stroke-linejoin="round"><use href="#uVEGFA"/><use href="#uLY6E"/><use href="#uVSIR"/><use href="#uFOLR2"/><use href="#uUBE2B"/><use href="#uNEAT1"/><use href="#uMKI67"/></g>
<path d="M200.6 148.7h0M195.2 138.7h0M202 144.9h0M201.9 154.9h0M194.1 146.1h0M200 152.4h0M196.1 146.9h0M198 147.2h0M196.6 139.5h0M196.1 147.5h0M196.4 136h0M191.9 140.9h0M202.1 152.8h0M199 143h0M193.5 147.4h0M191.6 140.3h0M194.8 142.1h0M197.1 139.1h0M196 149.6h0M194.8 151.5h0M192.7 137.9h0M199.4 144.8h0M201.2 149h0M195.5 138.4h0M199.2 150.8h0M197.1 145.2h0M200.3 147.8h0M196.3 139.5h0M196.9 146.7h0M198.3 142.3h0M193.3 148.3h0M201.1 140.8h0M195.8 154.3h0M196.5 148.7h0M190.9 141.9h0M197.1 150.5h0M199.5 154.1h0M196.4 136.4h0M197.9 148.3h0M193 152.7h0M193.7 168.1h0M199.1 156.2h0M190.5 158.2h0M209 164.1h0M201.1 174.4h0M186.4 173.4h0M194.7 164.9h0M195.6 162.1h0M202.9 168.5h0M192.4 156.4h0M210.2 165.2h0M186 175.5h0M207.5 164.6h0M186.8 158.3h0M195.4 173.1h0M206.7 166.8h0M185.6 172.4h0M189.9 158.3h0M197.8 170.8h0M198.5 173h0M193.1 161.2h0M209.2 157.8h0M200 161.1h0M199.8 160.6h0M208.5 168.5h0M191 164.4h0M199 163.5h0M209.8 166.7h0M201.9 166.9h0M206.2 159.7h0M206.4 151.7h0M194.4 154.3h0M190.4 158.3h0M195.4 159.5h0M186.8 164.1h0M192.6 168h0M202.9 168.4h0M201.4 160.1h0M205.7 153.2h0M193.4 154.2h0M207.6 160.2h0M200 169.9h0M190.1 160.2h0M186.2 174h0M191.4 168.8h0M201.9 164.9h0M189.4 165.3h0M188.2 155.5h0M189.6 167.2h0M186 166.3h0M205.8 155.5h0M200.5 165.1h0M194.8 161.6h0M199 175.4h0M199 171.3h0M189.6 166.4h0M196.1 155.2h0M206.1 154.8h0M204 163.8h0M195.7 171h0M191 169.7h0M197.7 178.7h0M196.3 159.4h0M198.8 157.7h0M186.3 163.6h0M196.2 159.1h0M197.9 165.1h0M193.5 158.1h0M205 163.9h0M194 160.8h0M196.1 166.6h0M200.6 175h0M211.2 165.3h0M205 159.9h0M202 156.9h0M210.1 159.8h0M189.8 156.5h0M206.5 150h0M195.4 173.5h0M193.7 174.5h0M197 177.1h0M197.2 156.1h0M187.7 164h0M208.8 166.6h0M197.3 163.1h0M180 173h0M185.8 159.9h0M180.1 172.2h0M179.3 168.9h0M174.2 176.2h0M180.5 164.2h0M179.1 162.6h0M179.2 170.3h0M184.4 160.6h0M173.5 177.2h0M178.7 182.3h0M175.5 180.9h0M178.1 183.7h0M177.6 176.2h0M181.2 168.2h0M177.2 179.5h0M182.9 158.6h0M176.2 173.8h0M185.7 158.7h0M184.5 177.5h0M181.5 158.6h0M181.6 173.5h0M185.6 155.4h0M176.1 162.9h0M185.7 158.4h0M180.9 173h0M181.7 177.8h0M175.5 174.3h0M176 178.5h0M180.6 165.6h0M175.8 171.7h0M178.9 172.1h0M174.9 172.2h0M177.1 169h0M183.3 155.7h0M180 164.3h0M181.5 179.2h0M179.4 173.6h0M176.6 162.6h0M180.1 170.8h0M175.5 177.6h0M179.9 165.6h0M176 179.7h0M177.3 168.1h0M182.8 159.8h0M177.8 178.2h0M182.8 172.3h0M182.1 171.9h0M180.2 163.4h0M179.3 182.7h0M177.6 160.9h0M181.9 170.1h0M179.5 182.4h0M184.1 157.7h0M172.5 175.7h0M181.4 174.3h0M179.1 179.7h0M180.6 159.9h0M184.8 157.7h0M179.3 178.9h0M180.8 183.2h0M181.8 180.9h0M182.2 181.7h0M184.1 157.3h0M173.3 175.8h0M180.5 181.6h0M179.8 164.7h0M182.5 176h0M179.3 163.2h0M178.6 176.1h0M179.6 174.5h0M184.2 164.1h0M185.7 178h0M172.7 175.8h0M181.8 169.3h0M182.5 170.4h0M174.9 175.6h0M180.1 176h0M179.8 166.4h0M182.3 159.7h0M181.6 176.9h0M176.2 179.6h0M180.6 177.4h0M185.3 162.6h0M178.5 165.7h0M182.8 169.5h0M180.6 181h0M182.9 170.8h0M179.9 162.7h0M175.5 174.8h0M177.4 182.7h0M176.4 170.2h0M187.1 177.5h0M177.7 163.2h0M182.2 166.5h0M178.7 173h0M180.3 180.6h0M182.2 174.4h0M179.5 183.7h0M175.1 173.8h0M183.7 159.7h0M185.1 178.4h0M180.7 179.4h0M182.6 160.3h0M177.3 164.7h0M185.6 178.1h0M178.1 180.2h0M180.4 173.6h0M179 168.6h0M180.3 169.2h0M180 178.6h0M186 156.4h0M182.3 159.4h0M183.9 167.9h0M178.6 166.9h0M180.2 163.4h0M177.5 176.3h0M177.8 182.4h0M176.7 167.8h0M177 170.8h0M176.4 174.8h0M178.5 175.9h0M176.6 168.5h0M180.8 176.2h0M182.3 167.7h0M174.9 174.6h0M177.4 181.8h0M182.8 172.1h0M176 178.9h0M182.7 167.7h0M181.6 174.4h0M177.8 182.9h0M177.9 173.9h0M173.4 177.9h0M177.9 170.2h0M174 175.3h0M180 183.2h0M181.7 173.3h0M178.9 167.6h0M181.1 163.2h0M185.1 161.2h0M182.2 171.4h0M179.7 170.5h0M184.9 161.1h0M184.7 161.9h0M173.3 175.9h0M179.5 182.8h0M178.2 171.5h0M178.6 170h0M181.2 165.3h0M178 172.8h0M180.7 161h0M172.5 176.7h0M174.6 171.7h0M174.6 174.3h0M182.4 170.5h0M179.7 180.3h0M172.7 179.7h0M179.5 161.5h0M181.2 161.5h0M183.1 160.2h0M182.9 173.3h0M176.7 175.2h0M178.3 181.4h0M185 177.6h0M181.5 162.8h0M185.3 178.7h0M179.2 166.7h0M180.5 180.8h0M185.3 157.7h0M174.1 177.3h0M182.7 167.2h0M181.4 171.4h0M180.5 168.7h0M178.5 175.4h0M173.8 175.5h0M186.7 177.5h0M180.6 165.5h0M180.5 181h0M185.7 160.5h0M183.8 178.8h0M179.6 180.3h0M180.1 176.5h0M179.1 164h0M178.6 161.7h0M179.6 175.9h0M177.7 174.6h0M180.6 183.3h0M180.1 160.2h0M176.8 181.7h0M179 162h0M180.2 174.2h0M176.9 177h0M181.7 181.9h0M181.6 160.5h0M174.9 175.8h0M184.8 156.9h0M178.6 163.4h0M179.4 180.8h0M180.8 177h0M184.1 163.3h0M181.8 166.1h0M179.5 170.7h0M182.5 160h0M185.3 159.8h0M176.9 180.1h0M172.5 177.5h0M174.5 177.2h0M179.4 165.3h0M180.3 160.1h0M177.1 161.6h0M175.1 173.2h0M177.1 177.7h0M181.1 179.4h0M173.4 180h0M180 173.7h0M175.8 175.6h0M178.4 176.3h0M181.2 159.2h0M176.7 177.2h0M180.6 176.1h0M177.2 169.1h0M179.5 177.1h0M176.1 172.4h0M175.7 181.4h0M177.7 181h0M183.6 163h0M179.8 174.8h0M176.6 181.9h0M176.8 176h0M173.1 179.7h0M175.9 178.7h0M182.9 168.8h0M186.3 178.7h0M181.1 176.7h0M182.6 166.9h0M179.9 170h0M183 175.4h0M180.1 172h0M179 183.6h0M185 156.1h0M184.6 178.6h0M179.1 183.1h0M180.6 175.1h0M185 162.4h0M175 176h0M177 170.6h0M173.2 179.6h0M182.9 165.1h0M174 177.1h0M193.8 181.7h0M190.7 183.4h0M196.9 180.4h0M196.5 181.6h0M187.3 181.7h0M191.3 195h0M191.9 178.6h0M188.8 194.2h0M181.9 188.3h0M193.6 192.5h0M191.7 175.7h0M188.3 180.6h0M190.5 183.6h0M187.9 186.9h0M190.2 195.2h0M184.9 180.7h0M182.2 182.7h0M184.4 186.1h0M188.2 190.3h0M193.8 194.9h0M194.6 189.6h0M185.2 193.6h0M196.5 179.5h0M191.2 177.7h0M191.5 190.1h0M184.1 185.5h0M190.9 190.5h0M190.8 175.7h0M195.3 192.6h0M188.9 188.2h0M188.5 192h0M189.2 180.8h0M189 179.3h0M195.1 191.2h0M183.7 186.2h0M190.1 187.9h0M188 186.2h0M191.9 195h0M188.9 192.7h0M191.8 177.1h0M184.5 181.6h0M186.2 185.8h0M192.7 183h0M192.1 196h0M182.8 189.1h0M196.6 183.1h0M195.2 193.2h0M194 184h0M186.1 185.2h0M192.6 195.3h0M183.1 183h0M188.3 177.4h0M191.3 183.9h0M184.3 190.4h0M194.5 192h0M195.2 181.2h0M184.6 190.6h0M191.3 187.2h0M182.6 188.2h0M192.9 193.4h0M193 178.5h0M189.6 176.2h0M186.6 193.2h0M189.4 193h0M181.8 191.3h0M188.8 192.2h0M183.7 194.3h0M192.2 177.9h0M192.6 175.2h0M188.1 180.3h0M193.2 191.2h0M191.8 178.9h0M180.8 189.3h0M194.5 195.4h0M186.3 186.5h0M191.3 196h0M191.3 186.4h0M193.3 185.8h0M180.6 187.1h0M187.2 182.2h0M186.9 179.5h0M185.4 191.8h0M195.3 185h0M194.6 177.2h0M189 191.8h0M193.5 183.4h0M190.6 189.6h0M189.9 183.8h0M195.4 189.9h0M193.1 187.7h0M193 177.4h0M190.4 178.7h0M181.6 190.9h0M192.6 189.9h0M184.5 185.7h0M193.3 189.3h0M190.8 186.8h0M181.3 184.1h0M191.6 194.7h0M181.4 186.3h0M193.8 177h0M187.3 190.9h0M196.2 187.4h0M196.5 184.3h0M189.1 186.6h0M191.7 183.8h0M181.7 185.5h0M181.4 187.2h0M182 187h0M192.2 188.5h0M184.5 184.5h0M189.1 183.2h0M189.8 176.4h0M186.9 186.2h0M193 193.4h0M192.8 183.2h0M192.3 179h0M186.1 191.6h0M187.8 194.4h0M191.2 192.5h0M189.1 188.5h0M191.9 178.5h0M189.8 197h0M184.4 193.5h0M187.7 184.1h0M186.3 194.9h0M189.8 195.4h0M195.5 191h0M187.8 180h0M189.8 181.6h0M191 182.2h0M187.3 187h0M196.5 186.6h0M189.8 178.9h0M193.7 185.7h0M193.2 195.9h0M190.8 190.6h0M189.5 177.4h0M190.5 179.6h0M183.8 189.2h0M192.4 188h0M188.5 184.2h0M189.1 182.2h0M194.6 193.3h0M193.8 185.8h0M188.7 194.1h0M180.3 185.8h0M187.9 196.7h0M196.1 183.8h0M193 186.5h0M193.7 182.2h0M184.2 181.6h0M194.7 176.7h0M191.7 195.1h0M180.9 185.6h0M184.3 191.6h0M190 177.3h0M188.2 196.9h0M190.9 188.3h0M189 192.5h0M189.2 181.7h0M191.6 196.6h0M180.9 185.7h0M182.5 191.8h0M187.5 194h0M191.6 196.8h0M190.1 188.3h0M191.5 196.6h0M190.5 191.8h0M190.3 179.5h0M189.7 180.5h0M184.6 194.9h0M190.7 191.9h0M194.1 184.5h0M187.8 184.4h0M186.2 192.6h0M195.3 181.3h0M192.3 179.3h0M193.4 182h0M185.6 192.1h0M194.6 177.6h0M195.8 184.5h0M184.8 183.2h0M189.2 186.7h0M190.9 191.1h0M192 183.6h0M189.6 186.6h0M184 186.6h0M181.3 189.7h0M188.8 186.9h0M194.5 189.3h0M194.2 181.8h0M186.8 186.6h0M193.5 175.6h0M189.4 187.6h0M192.4 182.3h0M190.5 191.6h0M186.6 190.3h0M195.6 183h0M189.1 185.7h0M196.9 193.6h0M205 187.3h0M206.7 194.1h0M203.2 185.6h0M212.1 198.8h0M200.7 183.9h0M196.1 192.1h0M204.9 187.8h0M201.3 190.4h0M203 201.5h0M202 203.1h0M204.3 185.4h0M205.1 196h0M198.4 205.8h0M195.7 200.4h0M190.8 205.1h0M200.4 195.2h0M201.6 193.1h0M195.7 201.6h0M204.4 184.6h0M196.9 191h0M203.3 193.1h0M196.9 201.1h0M197.4 186.7h0M200.1 192.8h0M204.8 186.7h0M204 206.6h0M205.9 203.4h0M191.2 202.7h0M198.7 191.9h0M198.7 189h0M200.4 191.4h0M200.9 205.9h0M199.4 194.4h0M207.2 201.9h0M211.6 197.3h0M202.2 192.6h0M207.8 201.1h0M205.4 196.1h0M192.7 205.3h0M207.3 195.9h0M203 204.5h0M201.5 195.8h0M201.3 202.7h0M206.8 192.1h0M207.7 193.1h0M205.4 193.2h0M207.7 193.3h0M198.4 194.7h0M203.9 184.1h0M202.6 207.8h0M206.5 202.3h0M207.2 194.4h0M193.2 205.9h0M209.9 202.3h0M195.4 196.4h0M201.9 192.8h0M201.4 195.3h0M212.2 199.8h0M194.5 203.7h0M199 199h0M203 202.8h0M197.2 201.2h0M198.8 204h0M201.5 200.3h0M202.2 200.3h0M199.2 202.5h0M199.9 192.9h0M198.2 194.1h0M202.9 200.2h0M197.2 203.5h0M201.6 189h0M196.2 205.8h0M204.7 195h0M204.7 188.1h0M203.3 188.1h0M202.5 191.8h0M196.4 202.8h0M198.6 202.9h0M207.1 193.1h0M202.7 198.6h0M205.7 197.7h0M211.9 199.5h0M210.3 199h0M199.7 198.4h0M202.3 208.1h0M198.8 200.2h0M198.4 201h0M203.4 202.4h0M205.3 184.9h0M211 201.5h0M204.6 198.7h0M201.9 200.6h0M201.5 193.7h0M199.6 201.2h0M200.2 193.8h0M201.1 190.7h0M203.3 203.7h0M194.8 200.3h0M205.5 189h0M199.3 195.3h0M199.3 188.4h0M201.3 184.6h0M205.8 196.8h0M208.2 202.3h0M196.2 199.1h0M206.5 196.3h0M198.6 185.2h0M202.8 203.7h0M205.7 195.7h0M208 194.1h0M197.7 197.4h0M203.5 195.1h0M208.6 201.9h0M201.7 197.6h0M203.5 183.6h0M208.5 195.1h0M194.1 205.9h0M202.9 202.8h0M206.9 199.7h0M198 187.5h0M204.6 189h0M200.6 195.5h0M199.4 187.6h0M200.8 187.5h0M197.8 185.1h0M204.9 203.3h0M201.2 206.8h0M193.9 202.3h0M209.3 194.8h0M201.9 205.7h0M199 190h0M197.4 192.5h0M200.2 186h0M198.7 190.9h0M192.3 204.1h0M203.7 190.7h0M208.9 194.6h0M212.2 198h0M198.9 201.5h0M206.6 200.6h0M202.6 186h0M200 188h0M200 199.3h0M205.2 201.4h0M204.9 204.5h0M208.5 199.8h0M211.4 200.9h0M204.7 191.3h0M201.3 196.5h0M210.2 202.4h0M203.1 208.3h0M210 203.1h0M202.6 184.3h0M195.5 200.5h0M193.2 200.3h0M198.3 193.5h0M207 195h0M211 199.3h0M205.1 188.4h0M207.2 201.4h0M201 205.1h0M211.2 201.7h0M206.1 192.9h0M192.8 202.5h0M193 199.9h0M204.8 188.5h0M204.4 197.8h0M204.2 188.1h0M201.1 205.4h0M204.2 189.6h0M201.9 194.6h0M209.1 195.3h0M197.1 195.2h0M208.8 203.4h0M202.1 203.2h0M201.7 205.7h0M205.4 186.6h0M199.6 197.9h0M203.7 186.3h0M198 193h0M206.8 204h0M205.9 188h0M200.8 197.2h0M203.8 191.6h0M207.2 202.2h0M199.8 187.2h0M207.4 201.8h0M203 203h0M205.8 204.6h0M182.9 197.6h0M178.4 195h0M180.3 197.8h0M177.1 195.5h0M176.4 192.7h0M177.7 191.7h0M180.2 196.3h0M178.6 197.7h0M180 196.8h0M175.9 194h0M175.3 192.6h0M180.4 194.4h0M181.1 198.3h0M182.5 199.1h0M177.6 194h0M179.8 198.1h0M181.1 196.1h0M178.7 194.4h0M178.7 197.1h0M179.1 197h0M178.7 193.1h0M182.9 197.3h0M177.4 194.6h0M178.8 197h0M177.7 194.2h0M179.6 193.2h0M178.9 197.3h0M178.2 195.9h0M177.2 194.4h0M180.1 194.3h0M225.3 173.9h0M233.8 166.1h0M231 164.8h0M236.4 168.6h0M240.3 162.3h0M230.2 170.5h0M240.2 167h0M238.1 161.5h0M235.5 164.9h0M236.4 164.4h0M237 170.8h0M240.3 166.2h0M228.7 170.9h0M232.8 166.7h0M237.4 166.9h0M239.8 172.3h0M239.6 162.1h0M234.4 164h0M230.9 167h0M236 169.5h0M229.1 165.4h0M235.2 163.8h0M230.4 166.7h0M239.9 171.8h0M230.5 172.5h0M231.8 165.8h0M235.6 170.4h0M239.3 163.8h0M233.5 165.1h0M233.9 165.8h0" stroke="#6aaad9" stroke-width="1.3" stroke-linecap="round" fill="none"/>
<path d="M195.1 154h0M195 145h0M195.5 152.9h0M195.5 149.2h0M192.6 146.5h0M194 153.8h0M198.5 142.6h0M198.3 154.1h0M200.4 152.1h0M198.5 148h0M199.6 148.6h0M194.5 150.9h0M197.9 142.2h0M200.2 152.4h0M200.4 143.4h0M204.4 153.7h0M200.1 144.4h0M197.5 136.8h0M203.4 152.2h0M198.9 145h0M196 140.8h0M199.1 142.8h0M199.1 153.5h0M196.1 138.2h0M197 144.6h0M197.1 166.5h0M189.7 169h0M186.2 157.1h0M206.9 156.6h0M200.4 175.8h0M201.7 167.6h0M195.7 174.8h0M198.8 159.2h0M197.7 163.2h0M188.7 169.8h0M207.6 169.2h0M205.7 151.9h0M198 170.2h0M198.9 158.5h0M183.7 170.9h0M188.1 167.5h0M198.6 171.5h0M188.6 171.4h0M194.3 170.8h0M203.7 161.1h0M211 162.1h0M196.9 171.3h0M187.7 177.3h0M200.5 155.5h0M184.6 166.9h0M173.3 176.2h0M180.6 182.5h0M183.1 174.7h0M182 170.2h0M179.2 182.1h0M187 177.5h0M178.9 159.7h0M179.8 169.5h0M178.1 178.2h0M185.1 162h0M183.5 163.1h0M178.5 168.9h0M175.9 179.3h0M179 176.9h0M180.6 183.4h0M183.9 164.4h0M174.9 170.9h0M175.6 179h0M178.6 168.1h0M179.1 183.9h0M176.8 171h0M182.2 164.9h0M181.9 167.5h0M183 166.6h0M179.6 175.8h0M192.4 175.2h0M195 186.2h0M187.1 182.4h0M187.5 192.4h0M188 191.2h0M188.9 191.7h0M188.6 187.9h0M187.3 196.3h0M189.7 176.7h0M189.8 196.1h0M184.2 192.5h0M184.5 191.1h0M184.9 188.3h0M194.5 186.6h0M184.3 181.5h0M189.6 191.7h0M184.1 189.2h0M187 192.2h0M192.6 182.9h0M190.2 177.7h0M190.6 189.5h0M184.1 189.9h0M189.5 195.9h0M191.6 179.3h0M192.7 188.7h0M199 201.6h0M207.3 201.2h0M198.2 188.2h0M196 196.2h0M204.1 194h0M206.2 190h0M201.1 188.8h0M198.7 191h0M202.5 186.9h0M199.7 206.4h0M204.9 197.7h0M198.7 202.1h0M195.5 199.3h0M199.8 186.9h0M208.2 203.4h0M200.2 195.2h0M205.9 193h0M203 192.9h0M207.4 194.7h0M194 206.4h0M210.9 201.8h0M208.9 194.4h0M200.2 185.7h0M202.4 197.8h0M204.5 187.8h0M182.1 198.3h0M178.9 192.4h0M180.2 193.7h0M180.1 193.5h0M177.3 197.1h0M179.3 196h0M177.8 196.2h0M176.2 194.6h0M176.5 195.7h0M180.4 196.3h0M183 196.2h0M182.8 198.8h0M180.4 198h0M180 194.8h0M176.6 195.2h0M181.4 197.7h0M183 195.5h0M179.9 197.5h0M177.2 191.5h0M182.7 195.9h0M176.4 195.5h0M176.5 196.1h0M181.1 196.2h0M175.6 195.6h0M178.3 194.5h0M229.2 170.5h0M234.2 164.2h0M240.3 163.7h0M236.6 170.5h0M234.7 165h0M233.9 170h0M238.7 173.3h0M240.3 165.2h0M229 171.8h0M240.4 163.1h0M231.1 171.7h0M231.8 166.7h0M239.7 163.8h0M234.3 164.5h0M241.2 164.1h0M240.8 166.6h0M238.7 170.3h0M239.7 165.5h0M232.5 169.4h0M241.4 165.5h0M233.8 166.2h0M238.1 162.4h0M228.1 166.8h0M229.9 169.2h0M234.2 165h0" stroke="#ffffff" stroke-width="0.8" stroke-linecap="round" fill="none"/>
<line x1="169.6" y1="215.3" x2="169.6" y2="197.5" stroke="#231f20" stroke-width="0.5"/>
<path d="M169.6 195.4L168.5 198.3L170.7 198.3Z" fill="#231f20"/>
<line x1="169.6" y1="215.3" x2="188.2" y2="215.3" stroke="#231f20" stroke-width="0.5"/>
<path d="M190.3 215.3L187.4 214.2L187.4 216.4Z" fill="#231f20"/>
<text transform="translate(163.2 200.5) rotate(-90)" x="0" y="2.52" font-size="7.1" text-anchor="middle">UMAP_2</text>
<text x="169.6" y="223.42" font-size="7.1">UMAP_1</text>
<text x="226.3" y="193.82" font-size="7.1">Group</text>
<circle cx="228.3" cy="198.9" r="1.9" fill="#f29a3a"/>
<circle cx="228.3" cy="205.8" r="1.9" fill="#6aaad9"/>
<text x="232" y="201.42" font-size="7.1">T</text>
<text x="232" y="208.32" font-size="7.1">N</text>
<text x="267.6" y="9.79" font-size="13.5" font-weight="bold" fill="#000">b</text>
<g shape-rendering="crispEdges">
<path d="M268 15h15v26h-15zM301 68h15v26h-15zM317 95h16v26h-16zM334 122h15v25h-15zM350 148h16v26h-16zM367 175h15v26h-15z" fill="#edd92b"/>
<path d="M268 22.09h15v1.18h-15zM301 73.91h15v1.18h-15zM301 84.55h15v1.18h-15zM301 86.91h15v1.18h-15zM317 102.09h16v1.18h-16zM317 106.82h16v1.18h-16zM317 109.18h16v1.18h-16zM317 113.91h16v1.18h-16zM334 129.95h15v1.14h-15zM334 136.77h15v1.14h-15zM334 137.91h15v1.14h-15zM334 142.45h15v1.14h-15zM350 150.36h16v1.18h-16zM350 163.36h16v1.18h-16zM350 164.55h16v1.18h-16zM350 169.27h16v1.18h-16zM350 171.64h16v1.18h-16zM367 180.91h15v1.18h-15zM367 189.18h15v1.18h-15z" fill="#f2df2a"/>
<path d="M268 25.64h15v1.18h-15zM301 72.73h15v1.18h-15zM301 75.09h15v1.18h-15zM301 78.64h15v1.18h-15zM317 98.55h16v1.18h-16zM334 127.68h15v1.14h-15zM350 152.73h16v1.18h-16zM367 175h15v1.18h-15zM367 188h15v1.18h-15zM367 195.09h15v1.18h-15zM367 196.27h15v1.18h-15z" fill="#dccb45"/>
<path d="M268 26.82h15v1.18h-15zM268 39.82h15v1.18h-15zM301 71.55h15v1.18h-15zM301 77.45h15v1.18h-15zM301 90.45h15v1.18h-15zM317 118.64h16v1.18h-16zM317 119.82h16v1.18h-16zM334 122h15v1.14h-15zM334 132.23h15v1.14h-15zM334 140.18h15v1.14h-15zM334 144.73h15v1.14h-15zM350 155.09h16v1.18h-16zM350 156.27h16v1.18h-16zM350 165.73h16v1.18h-16zM350 166.91h16v1.18h-16zM367 184.45h15v1.18h-15zM367 199.82h15v1.18h-15z" fill="#e3d23a"/>
<path d="M284 15h16v1.19h-16zM284 16.18h16v1.19h-16zM284 17.36h16v1.19h-16zM284 18.55h16v1.19h-16zM284 20.91h16v1.19h-16zM284 22.09h16v1.19h-16zM284 23.27h16v1.19h-16zM284 24.45h16v1.19h-16zM284 26.82h16v1.19h-16zM284 28h16v1.19h-16zM284 29.18h16v1.19h-16zM284 31.55h16v1.19h-16zM284 32.73h16v1.19h-16zM284 33.91h16v1.19h-16zM284 36.27h16v1.19h-16zM284 37.45h16v1.19h-16zM284 39.82h16v1.19h-16zM301 18.55h15v1.19h-15zM301 20.91h15v1.19h-15zM301 22.09h15v1.19h-15zM301 24.45h15v1.19h-15zM301 26.82h15v1.19h-15zM301 28h15v1.19h-15zM301 29.18h15v1.19h-15zM301 32.73h15v1.19h-15zM301 35.09h15v1.19h-15zM301 37.45h15v1.19h-15zM301 39.82h15v1.19h-15zM317 15h16v1.19h-16zM317 18.55h16v1.19h-16zM317 19.73h16v1.19h-16zM317 20.91h16v1.19h-16zM317 22.09h16v1.19h-16zM317 29.18h16v1.19h-16zM317 32.73h16v1.19h-16zM317 36.27h16v1.19h-16zM317 37.45h16v1.19h-16zM317 38.64h16v1.19h-16zM317 39.82h16v1.19h-16zM334 17.36h15v1.19h-15zM334 25.64h15v1.19h-15zM334 26.82h15v1.19h-15zM334 31.55h15v1.19h-15zM334 36.27h15v1.19h-15zM334 37.45h15v1.19h-15zM334 39.82h15v1.19h-15zM367 30.36h15v1.19h-15zM367 33.91h15v1.19h-15zM284 53.36h16v1.15h-16zM284 61.32h16v1.15h-16zM284 64.73h16v1.15h-16zM301 45.41h15v1.15h-15zM301 46.55h15v1.15h-15zM301 51.09h15v1.15h-15zM301 52.23h15v1.15h-15zM301 53.36h15v1.15h-15zM301 55.64h15v1.15h-15zM301 60.18h15v1.15h-15zM301 61.32h15v1.15h-15zM301 64.73h15v1.15h-15zM317 47.68h16v1.15h-16zM317 52.23h16v1.15h-16zM317 53.36h16v1.15h-16zM317 61.32h16v1.15h-16zM317 63.59h16v1.15h-16zM334 43.14h15v1.15h-15zM334 47.68h15v1.15h-15zM334 61.32h15v1.15h-15zM350 54.5h16v1.15h-16zM350 57.91h16v1.15h-16zM350 61.32h16v1.15h-16zM268 69.18h15v1.19h-15zM268 73.91h15v1.19h-15zM268 75.09h15v1.19h-15zM268 76.27h15v1.19h-15zM268 77.45h15v1.19h-15zM268 79.82h15v1.19h-15zM268 81h15v1.19h-15zM268 83.36h15v1.19h-15zM268 84.55h15v1.19h-15zM268 88.09h15v1.19h-15zM268 89.27h15v1.19h-15zM268 90.45h15v1.19h-15zM268 91.64h15v1.19h-15zM284 69.18h16v1.19h-16zM284 73.91h16v1.19h-16zM284 75.09h16v1.19h-16zM284 81h16v1.19h-16zM284 90.45h16v1.19h-16zM317 69.18h16v1.19h-16zM317 88.09h16v1.19h-16zM317 92.82h16v1.19h-16zM334 75.09h15v1.19h-15zM334 77.45h15v1.19h-15zM334 82.18h15v1.19h-15zM334 83.36h15v1.19h-15zM334 84.55h15v1.19h-15zM334 85.73h15v1.19h-15zM334 86.91h15v1.19h-15zM334 90.45h15v1.19h-15zM334 91.64h15v1.19h-15zM350 69.18h16v1.19h-16zM350 70.36h16v1.19h-16zM350 71.55h16v1.19h-16zM350 73.91h16v1.19h-16zM350 75.09h16v1.19h-16zM350 76.27h16v1.19h-16zM350 78.64h16v1.19h-16zM350 79.82h16v1.19h-16zM350 81h16v1.19h-16zM350 84.55h16v1.19h-16zM350 85.73h16v1.19h-16zM350 86.91h16v1.19h-16zM350 91.64h16v1.19h-16zM350 92.82h16v1.19h-16zM367 71.55h15v1.19h-15zM367 75.09h15v1.19h-15zM367 78.64h15v1.19h-15zM367 86.91h15v1.19h-15zM367 88.09h15v1.19h-15zM268 96.18h15v1.19h-15zM268 97.36h15v1.19h-15zM268 100.91h15v1.19h-15zM268 104.45h15v1.19h-15zM268 117.45h15v1.19h-15zM268 118.64h15v1.19h-15zM284 99.73h16v1.19h-16zM284 103.27h16v1.19h-16zM284 108h16v1.19h-16zM284 110.36h16v1.19h-16zM284 116.27h16v1.19h-16zM284 118.64h16v1.19h-16zM334 98.55h15v1.19h-15zM334 103.27h15v1.19h-15zM334 109.18h15v1.19h-15zM334 110.36h15v1.19h-15zM334 111.55h15v1.19h-15zM334 112.73h15v1.19h-15zM334 115.09h15v1.19h-15zM334 117.45h15v1.19h-15zM350 95h16v1.19h-16zM350 96.18h16v1.19h-16zM350 102.09h16v1.19h-16zM350 103.27h16v1.19h-16zM350 105.64h16v1.19h-16zM350 108h16v1.19h-16zM350 110.36h16v1.19h-16zM350 113.91h16v1.19h-16zM367 95h15v1.19h-15zM367 96.18h15v1.19h-15zM367 97.36h15v1.19h-15zM367 98.55h15v1.19h-15zM367 108h15v1.19h-15zM367 109.18h15v1.19h-15zM367 113.91h15v1.19h-15zM367 115.09h15v1.19h-15zM367 116.27h15v1.19h-15zM367 118.64h15v1.19h-15zM268 134.5h15v1.15h-15zM284 134.5h16v1.15h-16zM301 123.14h15v1.15h-15zM301 127.68h15v1.15h-15zM301 136.77h15v1.15h-15zM301 137.91h15v1.15h-15zM301 139.05h15v1.15h-15zM301 141.32h15v1.15h-15zM301 142.45h15v1.15h-15zM301 145.86h15v1.15h-15zM317 122h16v1.15h-16zM317 128.82h16v1.15h-16zM317 131.09h16v1.15h-16zM317 134.5h16v1.15h-16zM317 142.45h16v1.15h-16zM350 122h16v1.15h-16zM350 123.14h16v1.15h-16zM350 124.27h16v1.15h-16zM350 125.41h16v1.15h-16zM350 126.55h16v1.15h-16zM350 128.82h16v1.15h-16zM350 129.95h16v1.15h-16zM350 132.23h16v1.15h-16zM350 136.77h16v1.15h-16zM350 137.91h16v1.15h-16zM350 143.59h16v1.15h-16zM350 144.73h16v1.15h-16zM367 122h15v1.15h-15zM367 125.41h15v1.15h-15zM367 137.91h15v1.15h-15zM367 139.05h15v1.15h-15zM367 140.18h15v1.15h-15zM367 144.73h15v1.15h-15zM367 145.86h15v1.15h-15zM268 148h15v1.19h-15zM268 149.18h15v1.19h-15zM268 151.55h15v1.19h-15zM268 152.73h15v1.19h-15zM268 155.09h15v1.19h-15zM268 157.45h15v1.19h-15zM268 159.82h15v1.19h-15zM268 162.18h15v1.19h-15zM268 163.36h15v1.19h-15zM268 164.55h15v1.19h-15zM268 165.73h15v1.19h-15zM268 166.91h15v1.19h-15zM268 168.09h15v1.19h-15zM268 169.27h15v1.19h-15zM268 170.45h15v1.19h-15zM268 172.82h15v1.19h-15zM284 148h16v1.19h-16zM284 149.18h16v1.19h-16zM284 150.36h16v1.19h-16zM284 151.55h16v1.19h-16zM284 152.73h16v1.19h-16zM284 153.91h16v1.19h-16zM284 155.09h16v1.19h-16zM284 157.45h16v1.19h-16zM284 158.64h16v1.19h-16zM284 159.82h16v1.19h-16zM284 161h16v1.19h-16zM284 162.18h16v1.19h-16zM284 164.55h16v1.19h-16zM284 165.73h16v1.19h-16zM284 166.91h16v1.19h-16zM284 168.09h16v1.19h-16zM284 170.45h16v1.19h-16zM284 171.64h16v1.19h-16zM301 148h15v1.19h-15zM301 149.18h15v1.19h-15zM301 150.36h15v1.19h-15zM301 151.55h15v1.19h-15zM301 152.73h15v1.19h-15zM301 153.91h15v1.19h-15zM301 155.09h15v1.19h-15zM301 156.27h15v1.19h-15zM301 157.45h15v1.19h-15zM301 158.64h15v1.19h-15zM301 159.82h15v1.19h-15zM301 161h15v1.19h-15zM301 163.36h15v1.19h-15zM301 164.55h15v1.19h-15zM301 165.73h15v1.19h-15zM301 166.91h15v1.19h-15zM301 168.09h15v1.19h-15zM301 169.27h15v1.19h-15zM301 171.64h15v1.19h-15zM301 172.82h15v1.19h-15zM317 149.18h16v1.19h-16zM317 150.36h16v1.19h-16zM317 153.91h16v1.19h-16zM317 155.09h16v1.19h-16zM317 156.27h16v1.19h-16zM317 157.45h16v1.19h-16zM317 158.64h16v1.19h-16zM317 162.18h16v1.19h-16zM317 163.36h16v1.19h-16zM317 164.55h16v1.19h-16zM317 165.73h16v1.19h-16zM317 168.09h16v1.19h-16zM317 172.82h16v1.19h-16zM334 148h15v1.19h-15zM334 149.18h15v1.19h-15zM334 150.36h15v1.19h-15zM334 151.55h15v1.19h-15zM334 152.73h15v1.19h-15zM334 153.91h15v1.19h-15zM334 155.09h15v1.19h-15zM334 157.45h15v1.19h-15zM334 158.64h15v1.19h-15zM334 159.82h15v1.19h-15zM334 161h15v1.19h-15zM334 162.18h15v1.19h-15zM334 163.36h15v1.19h-15zM334 164.55h15v1.19h-15zM334 166.91h15v1.19h-15zM334 168.09h15v1.19h-15zM334 169.27h15v1.19h-15zM334 170.45h15v1.19h-15zM334 172.82h15v1.19h-15zM367 148h15v1.19h-15zM367 151.55h15v1.19h-15zM367 159.82h15v1.19h-15zM367 164.55h15v1.19h-15zM367 165.73h15v1.19h-15zM367 168.09h15v1.19h-15zM367 169.27h15v1.19h-15zM367 172.82h15v1.19h-15zM268 177.36h15v1.19h-15zM268 179.73h15v1.19h-15zM268 180.91h15v1.19h-15zM268 182.09h15v1.19h-15zM268 184.45h15v1.19h-15zM268 186.82h15v1.19h-15zM268 190.36h15v1.19h-15zM268 191.55h15v1.19h-15zM268 195.09h15v1.19h-15zM268 197.45h15v1.19h-15zM268 198.64h15v1.19h-15zM268 199.82h15v1.19h-15zM334 177.36h15v1.19h-15zM334 178.55h15v1.19h-15zM334 180.91h15v1.19h-15zM334 191.55h15v1.19h-15zM334 193.91h15v1.19h-15zM334 198.64h15v1.19h-15zM334 199.82h15v1.19h-15zM350 175h16v1.19h-16zM350 177.36h16v1.19h-16zM350 178.55h16v1.19h-16zM350 179.73h16v1.19h-16zM350 180.91h16v1.19h-16zM350 183.27h16v1.19h-16zM350 188h16v1.19h-16zM350 191.55h16v1.19h-16zM350 192.73h16v1.19h-16zM350 195.09h16v1.19h-16zM350 196.27h16v1.19h-16zM350 197.45h16v1.19h-16zM350 198.64h16v1.19h-16zM350 199.82h16v1.19h-16z" fill="#35223d"/>
<path d="M284 19.73h16v1.19h-16zM284 25.64h16v1.19h-16zM301 15h15v1.19h-15zM301 16.18h15v1.19h-15zM301 25.64h15v1.19h-15zM301 30.36h15v1.19h-15zM301 33.91h15v1.19h-15zM301 38.64h15v1.19h-15zM317 23.27h16v1.19h-16zM317 24.45h16v1.19h-16zM317 26.82h16v1.19h-16zM317 28h16v1.19h-16zM317 30.36h16v1.19h-16zM367 15h15v1.19h-15zM367 18.55h15v1.19h-15zM367 19.73h15v1.19h-15zM367 22.09h15v1.19h-15zM367 23.27h15v1.19h-15zM367 25.64h15v1.19h-15zM367 26.82h15v1.19h-15zM367 29.18h15v1.19h-15zM367 32.73h15v1.19h-15zM367 35.09h15v1.19h-15zM367 36.27h15v1.19h-15zM367 38.64h15v1.19h-15zM367 39.82h15v1.19h-15zM301 43.14h15v1.15h-15zM301 48.82h15v1.15h-15zM301 49.95h15v1.15h-15zM301 56.77h15v1.15h-15zM301 57.91h15v1.15h-15zM301 63.59h15v1.15h-15zM367 45.41h15v1.15h-15zM367 46.55h15v1.15h-15zM367 52.23h15v1.15h-15zM367 60.18h15v1.15h-15zM268 68h15v1.19h-15zM268 70.36h15v1.19h-15zM268 85.73h15v1.19h-15zM268 86.91h15v1.19h-15zM268 92.82h15v1.19h-15zM284 71.55h16v1.19h-16zM284 88.09h16v1.19h-16zM284 92.82h16v1.19h-16zM334 68h15v1.19h-15zM334 69.18h15v1.19h-15zM334 70.36h15v1.19h-15zM334 71.55h15v1.19h-15zM334 72.73h15v1.19h-15zM334 73.91h15v1.19h-15zM334 76.27h15v1.19h-15zM334 78.64h15v1.19h-15zM334 79.82h15v1.19h-15zM334 81h15v1.19h-15zM334 88.09h15v1.19h-15zM334 89.27h15v1.19h-15zM334 92.82h15v1.19h-15zM350 68h16v1.19h-16zM350 72.73h16v1.19h-16zM350 77.45h16v1.19h-16zM350 82.18h16v1.19h-16zM350 83.36h16v1.19h-16zM350 88.09h16v1.19h-16zM350 89.27h16v1.19h-16zM350 90.45h16v1.19h-16zM284 97.36h16v1.19h-16zM284 102.09h16v1.19h-16zM284 106.82h16v1.19h-16zM284 109.18h16v1.19h-16zM284 113.91h16v1.19h-16zM301 95h15v1.19h-15zM301 96.18h15v1.19h-15zM301 97.36h15v1.19h-15zM301 98.55h15v1.19h-15zM301 99.73h15v1.19h-15zM301 100.91h15v1.19h-15zM301 103.27h15v1.19h-15zM301 106.82h15v1.19h-15zM301 108h15v1.19h-15zM301 109.18h15v1.19h-15zM301 111.55h15v1.19h-15zM301 112.73h15v1.19h-15zM301 113.91h15v1.19h-15zM334 95h15v1.19h-15zM334 97.36h15v1.19h-15zM334 99.73h15v1.19h-15zM334 100.91h15v1.19h-15zM334 104.45h15v1.19h-15zM334 106.82h15v1.19h-15zM334 108h15v1.19h-15zM334 113.91h15v1.19h-15zM334 116.27h15v1.19h-15zM334 118.64h15v1.19h-15zM334 119.82h15v1.19h-15zM367 99.73h15v1.19h-15zM367 106.82h15v1.19h-15zM367 110.36h15v1.19h-15zM367 111.55h15v1.19h-15zM367 119.82h15v1.19h-15zM284 122h16v1.15h-16zM284 124.27h16v1.15h-16zM284 126.55h16v1.15h-16zM284 127.68h16v1.15h-16zM284 128.82h16v1.15h-16zM284 129.95h16v1.15h-16zM284 132.23h16v1.15h-16zM284 135.64h16v1.15h-16zM284 136.77h16v1.15h-16zM284 140.18h16v1.15h-16zM284 142.45h16v1.15h-16zM284 145.86h16v1.15h-16zM301 122h15v1.15h-15zM301 124.27h15v1.15h-15zM301 126.55h15v1.15h-15zM301 128.82h15v1.15h-15zM301 129.95h15v1.15h-15zM301 131.09h15v1.15h-15zM301 132.23h15v1.15h-15zM301 133.36h15v1.15h-15zM301 134.5h15v1.15h-15zM301 135.64h15v1.15h-15zM301 140.18h15v1.15h-15zM301 144.73h15v1.15h-15zM350 127.68h16v1.15h-16zM350 131.09h16v1.15h-16zM350 133.36h16v1.15h-16zM350 134.5h16v1.15h-16zM350 135.64h16v1.15h-16zM350 140.18h16v1.15h-16zM350 141.32h16v1.15h-16zM350 145.86h16v1.15h-16zM367 124.27h15v1.15h-15zM284 156.27h16v1.19h-16zM284 163.36h16v1.19h-16zM284 169.27h16v1.19h-16zM284 172.82h16v1.19h-16zM334 156.27h15v1.19h-15zM334 165.73h15v1.19h-15zM334 171.64h15v1.19h-15zM367 149.18h15v1.19h-15zM367 152.73h15v1.19h-15zM367 156.27h15v1.19h-15zM367 157.45h15v1.19h-15zM367 158.64h15v1.19h-15zM367 161h15v1.19h-15zM367 166.91h15v1.19h-15zM367 170.45h15v1.19h-15zM284 180.91h16v1.19h-16zM284 188h16v1.19h-16zM284 191.55h16v1.19h-16zM284 198.64h16v1.19h-16zM350 176.18h16v1.19h-16zM350 182.09h16v1.19h-16zM350 186.82h16v1.19h-16zM350 189.18h16v1.19h-16zM350 190.36h16v1.19h-16zM350 193.91h16v1.19h-16z" fill="#4f2d58"/>
<path d="M284 30.36h16v1.19h-16zM284 35.09h16v1.19h-16zM284 38.64h16v1.19h-16zM334 16.18h15v1.19h-15zM334 18.55h15v1.19h-15zM334 22.09h15v1.19h-15zM334 23.27h15v1.19h-15zM334 24.45h15v1.19h-15zM334 38.64h15v1.19h-15zM350 30.36h16v1.19h-16zM284 42h16v1.15h-16zM284 45.41h16v1.15h-16zM284 49.95h16v1.15h-16zM284 51.09h16v1.15h-16zM284 56.77h16v1.15h-16zM284 57.91h16v1.15h-16zM284 59.05h16v1.15h-16zM284 62.45h16v1.15h-16zM284 63.59h16v1.15h-16zM284 65.86h16v1.15h-16zM301 42h15v1.15h-15zM301 47.68h15v1.15h-15zM301 54.5h15v1.15h-15zM301 62.45h15v1.15h-15zM317 42h16v1.15h-16zM317 43.14h16v1.15h-16zM317 60.18h16v1.15h-16zM317 62.45h16v1.15h-16zM334 57.91h15v1.15h-15zM334 63.59h15v1.15h-15zM350 43.14h16v1.15h-16zM350 44.27h16v1.15h-16zM350 48.82h16v1.15h-16zM350 53.36h16v1.15h-16zM350 55.64h16v1.15h-16zM350 63.59h16v1.15h-16zM284 70.36h16v1.19h-16zM284 72.73h16v1.19h-16zM284 76.27h16v1.19h-16zM284 77.45h16v1.19h-16zM284 82.18h16v1.19h-16zM284 84.55h16v1.19h-16zM284 86.91h16v1.19h-16zM284 89.27h16v1.19h-16zM284 91.64h16v1.19h-16zM317 72.73h16v1.19h-16zM317 73.91h16v1.19h-16zM317 78.64h16v1.19h-16zM317 83.36h16v1.19h-16zM317 85.73h16v1.19h-16zM317 86.91h16v1.19h-16zM367 69.18h15v1.19h-15zM367 81h15v1.19h-15zM367 85.73h15v1.19h-15zM367 91.64h15v1.19h-15zM367 92.82h15v1.19h-15zM268 98.55h15v1.19h-15zM301 102.09h15v1.19h-15zM301 104.45h15v1.19h-15zM301 105.64h15v1.19h-15zM301 116.27h15v1.19h-15zM350 97.36h16v1.19h-16zM350 99.73h16v1.19h-16zM350 100.91h16v1.19h-16zM350 104.45h16v1.19h-16zM350 106.82h16v1.19h-16zM350 109.18h16v1.19h-16zM350 111.55h16v1.19h-16zM350 112.73h16v1.19h-16zM350 116.27h16v1.19h-16zM350 117.45h16v1.19h-16zM350 118.64h16v1.19h-16zM268 128.82h15v1.15h-15zM268 133.36h15v1.15h-15zM268 140.18h15v1.15h-15zM268 141.32h15v1.15h-15zM268 142.45h15v1.15h-15zM268 144.73h15v1.15h-15zM317 123.14h16v1.15h-16zM317 124.27h16v1.15h-16zM317 132.23h16v1.15h-16zM350 139.05h16v1.15h-16zM350 142.45h16v1.15h-16zM268 175h15v1.19h-15zM268 176.18h15v1.19h-15zM268 178.55h15v1.19h-15zM268 183.27h15v1.19h-15zM268 185.64h15v1.19h-15zM268 188h15v1.19h-15zM268 189.18h15v1.19h-15zM268 192.73h15v1.19h-15zM268 193.91h15v1.19h-15zM268 196.27h15v1.19h-15zM301 184.45h15v1.19h-15zM301 186.82h15v1.19h-15zM301 188h15v1.19h-15zM301 190.36h15v1.19h-15zM301 191.55h15v1.19h-15zM317 176.18h16v1.19h-16zM317 177.36h16v1.19h-16zM317 179.73h16v1.19h-16zM317 188h16v1.19h-16zM317 189.18h16v1.19h-16zM334 183.27h15v1.19h-15zM334 185.64h15v1.19h-15zM334 188h15v1.19h-15zM334 189.18h15v1.19h-15zM334 192.73h15v1.19h-15zM334 196.27h15v1.19h-15z" fill="#1d1a1e"/>
<path d="M301 17.36h15v1.19h-15zM301 23.27h15v1.19h-15zM301 31.55h15v1.19h-15zM301 36.27h15v1.19h-15zM334 15h15v1.19h-15zM350 15h16v1.19h-16zM350 24.45h16v1.19h-16zM350 33.91h16v1.19h-16zM350 36.27h16v1.19h-16zM268 45.41h15v1.15h-15zM268 49.95h15v1.15h-15zM268 52.23h15v1.15h-15zM268 53.36h15v1.15h-15zM268 54.5h15v1.15h-15zM268 55.64h15v1.15h-15zM268 64.73h15v1.15h-15zM268 65.86h15v1.15h-15zM317 45.41h16v1.15h-16zM317 49.95h16v1.15h-16zM317 64.73h16v1.15h-16zM317 65.86h16v1.15h-16zM334 42h15v1.15h-15zM334 54.5h15v1.15h-15zM334 60.18h15v1.15h-15zM334 64.73h15v1.15h-15zM350 49.95h16v1.15h-16zM350 51.09h16v1.15h-16zM367 68h15v1.19h-15zM367 89.27h15v1.19h-15zM268 99.73h15v1.19h-15zM301 110.36h15v1.19h-15zM301 115.09h15v1.19h-15zM301 118.64h15v1.19h-15zM334 105.64h15v1.19h-15zM367 100.91h15v1.19h-15zM367 102.09h15v1.19h-15zM367 104.45h15v1.19h-15zM367 105.64h15v1.19h-15zM317 125.41h16v1.15h-16zM317 127.68h16v1.15h-16zM317 133.36h16v1.15h-16zM317 135.64h16v1.15h-16zM317 137.91h16v1.15h-16zM367 143.59h15v1.15h-15zM301 175h15v1.19h-15zM301 199.82h15v1.19h-15zM317 178.55h16v1.19h-16zM317 182.09h16v1.19h-16zM317 190.36h16v1.19h-16zM317 193.91h16v1.19h-16z" fill="#aba63e"/>
<path d="M301 19.73h15v1.19h-15zM317 16.18h16v1.19h-16zM317 33.91h16v1.19h-16zM350 17.36h16v1.19h-16zM350 20.91h16v1.19h-16zM350 23.27h16v1.19h-16zM350 25.64h16v1.19h-16zM350 26.82h16v1.19h-16zM350 28h16v1.19h-16zM350 32.73h16v1.19h-16zM350 37.45h16v1.19h-16zM350 38.64h16v1.19h-16zM350 39.82h16v1.19h-16zM268 42h15v1.15h-15zM268 43.14h15v1.15h-15zM268 44.27h15v1.15h-15zM268 46.55h15v1.15h-15zM268 56.77h15v1.15h-15zM268 57.91h15v1.15h-15zM268 60.18h15v1.15h-15zM268 63.59h15v1.15h-15zM284 44.27h16v1.15h-16zM284 54.5h16v1.15h-16zM301 44.27h15v1.15h-15zM301 59.05h15v1.15h-15zM301 65.86h15v1.15h-15zM317 44.27h16v1.15h-16zM317 46.55h16v1.15h-16zM317 48.82h16v1.15h-16zM317 51.09h16v1.15h-16zM317 54.5h16v1.15h-16zM317 55.64h16v1.15h-16zM317 56.77h16v1.15h-16zM317 57.91h16v1.15h-16zM317 59.05h16v1.15h-16zM334 44.27h15v1.15h-15zM334 46.55h15v1.15h-15zM334 48.82h15v1.15h-15zM334 52.23h15v1.15h-15zM334 62.45h15v1.15h-15zM350 42h16v1.15h-16zM317 68h16v1.19h-16zM317 70.36h16v1.19h-16zM317 77.45h16v1.19h-16zM317 81h16v1.19h-16zM317 84.55h16v1.19h-16zM317 89.27h16v1.19h-16zM317 90.45h16v1.19h-16zM367 72.73h15v1.19h-15zM367 73.91h15v1.19h-15zM367 76.27h15v1.19h-15zM367 77.45h15v1.19h-15zM367 79.82h15v1.19h-15zM367 82.18h15v1.19h-15zM367 84.55h15v1.19h-15zM268 95h15v1.19h-15zM268 102.09h15v1.19h-15zM268 105.64h15v1.19h-15zM268 108h15v1.19h-15zM268 109.18h15v1.19h-15zM268 110.36h15v1.19h-15zM268 112.73h15v1.19h-15zM268 115.09h15v1.19h-15zM301 117.45h15v1.19h-15zM301 119.82h15v1.19h-15zM334 96.18h15v1.19h-15zM334 102.09h15v1.19h-15zM268 123.14h15v1.15h-15zM268 124.27h15v1.15h-15zM268 125.41h15v1.15h-15zM268 127.68h15v1.15h-15zM268 132.23h15v1.15h-15zM268 137.91h15v1.15h-15zM268 143.59h15v1.15h-15zM268 145.86h15v1.15h-15zM301 125.41h15v1.15h-15zM301 143.59h15v1.15h-15zM317 136.77h16v1.15h-16zM317 139.05h16v1.15h-16zM317 140.18h16v1.15h-16zM317 141.32h16v1.15h-16zM317 143.59h16v1.15h-16zM317 144.73h16v1.15h-16zM317 145.86h16v1.15h-16zM367 123.14h15v1.15h-15zM367 126.55h15v1.15h-15zM367 128.82h15v1.15h-15zM367 129.95h15v1.15h-15zM367 131.09h15v1.15h-15zM367 132.23h15v1.15h-15zM367 133.36h15v1.15h-15zM367 134.5h15v1.15h-15zM367 135.64h15v1.15h-15zM367 136.77h15v1.15h-15zM367 141.32h15v1.15h-15zM367 142.45h15v1.15h-15zM268 153.91h15v1.19h-15zM301 162.18h15v1.19h-15zM301 170.45h15v1.19h-15zM317 148h16v1.19h-16zM317 151.55h16v1.19h-16zM317 152.73h16v1.19h-16zM317 159.82h16v1.19h-16zM317 161h16v1.19h-16zM317 166.91h16v1.19h-16zM317 171.64h16v1.19h-16zM301 176.18h15v1.19h-15zM301 178.55h15v1.19h-15zM301 179.73h15v1.19h-15zM301 180.91h15v1.19h-15zM301 183.27h15v1.19h-15zM301 185.64h15v1.19h-15zM301 192.73h15v1.19h-15zM301 195.09h15v1.19h-15zM301 198.64h15v1.19h-15zM317 191.55h16v1.19h-16zM317 195.09h16v1.19h-16zM317 197.45h16v1.19h-16zM317 198.64h16v1.19h-16zM317 199.82h16v1.19h-16zM334 175h15v1.19h-15zM334 176.18h15v1.19h-15zM334 179.73h15v1.19h-15zM334 182.09h15v1.19h-15zM334 184.45h15v1.19h-15zM334 190.36h15v1.19h-15zM334 195.09h15v1.19h-15z" fill="#6c6a2d"/>
<path d="M317 17.36h16v1.19h-16zM317 25.64h16v1.19h-16zM317 31.55h16v1.19h-16zM317 35.09h16v1.19h-16zM334 19.73h15v1.19h-15zM334 20.91h15v1.19h-15zM334 28h15v1.19h-15zM334 30.36h15v1.19h-15zM334 33.91h15v1.19h-15zM334 35.09h15v1.19h-15zM350 16.18h16v1.19h-16zM350 18.55h16v1.19h-16zM350 19.73h16v1.19h-16zM350 22.09h16v1.19h-16zM350 29.18h16v1.19h-16zM350 31.55h16v1.19h-16zM350 35.09h16v1.19h-16zM268 47.68h15v1.15h-15zM268 51.09h15v1.15h-15zM268 59.05h15v1.15h-15zM268 61.32h15v1.15h-15zM284 43.14h16v1.15h-16zM284 46.55h16v1.15h-16zM284 47.68h16v1.15h-16zM284 48.82h16v1.15h-16zM284 52.23h16v1.15h-16zM284 55.64h16v1.15h-16zM284 60.18h16v1.15h-16zM350 45.41h16v1.15h-16zM350 46.55h16v1.15h-16zM350 47.68h16v1.15h-16zM350 52.23h16v1.15h-16zM350 56.77h16v1.15h-16zM350 59.05h16v1.15h-16zM350 60.18h16v1.15h-16zM350 62.45h16v1.15h-16zM350 64.73h16v1.15h-16zM350 65.86h16v1.15h-16zM268 71.55h15v1.19h-15zM268 72.73h15v1.19h-15zM268 78.64h15v1.19h-15zM268 82.18h15v1.19h-15zM317 71.55h16v1.19h-16zM317 75.09h16v1.19h-16zM317 76.27h16v1.19h-16zM317 79.82h16v1.19h-16zM317 82.18h16v1.19h-16zM317 91.64h16v1.19h-16zM367 70.36h15v1.19h-15zM367 83.36h15v1.19h-15zM367 90.45h15v1.19h-15zM268 103.27h15v1.19h-15zM268 106.82h15v1.19h-15zM268 111.55h15v1.19h-15zM268 113.91h15v1.19h-15zM268 116.27h15v1.19h-15zM268 119.82h15v1.19h-15zM350 98.55h16v1.19h-16zM350 115.09h16v1.19h-16zM350 119.82h16v1.19h-16zM268 122h15v1.15h-15zM268 126.55h15v1.15h-15zM268 129.95h15v1.15h-15zM268 131.09h15v1.15h-15zM268 135.64h15v1.15h-15zM268 136.77h15v1.15h-15zM268 139.05h15v1.15h-15zM317 126.55h16v1.15h-16zM317 129.95h16v1.15h-16zM367 127.68h15v1.15h-15zM268 150.36h15v1.19h-15zM268 156.27h15v1.19h-15zM268 158.64h15v1.19h-15zM268 161h15v1.19h-15zM268 171.64h15v1.19h-15zM317 169.27h16v1.19h-16zM317 170.45h16v1.19h-16zM301 177.36h15v1.19h-15zM301 182.09h15v1.19h-15zM301 189.18h15v1.19h-15zM301 193.91h15v1.19h-15zM301 196.27h15v1.19h-15zM301 197.45h15v1.19h-15zM317 175h16v1.19h-16zM317 180.91h16v1.19h-16zM317 183.27h16v1.19h-16zM317 184.45h16v1.19h-16zM317 185.64h16v1.19h-16zM317 186.82h16v1.19h-16zM317 192.73h16v1.19h-16zM317 196.27h16v1.19h-16zM334 186.82h15v1.19h-15zM334 197.45h15v1.19h-15z" fill="#272c1d"/>
<path d="M334 29.18h15v1.19h-15zM334 32.73h15v1.19h-15zM268 48.82h15v1.15h-15zM268 62.45h15v1.15h-15zM334 45.41h15v1.15h-15zM334 49.95h15v1.15h-15zM334 51.09h15v1.15h-15zM334 53.36h15v1.15h-15zM334 55.64h15v1.15h-15zM334 56.77h15v1.15h-15zM334 59.05h15v1.15h-15zM334 65.86h15v1.15h-15z" fill="#ecd92c"/>
<path d="M367 16.18h15v1.19h-15zM367 17.36h15v1.19h-15zM367 20.91h15v1.19h-15zM367 24.45h15v1.19h-15zM367 28h15v1.19h-15zM367 31.55h15v1.19h-15zM367 37.45h15v1.19h-15zM367 43.14h15v1.15h-15zM367 48.82h15v1.15h-15zM367 55.64h15v1.15h-15zM367 56.77h15v1.15h-15zM367 61.32h15v1.15h-15zM367 62.45h15v1.15h-15zM367 63.59h15v1.15h-15zM367 64.73h15v1.15h-15zM367 65.86h15v1.15h-15zM284 68h16v1.19h-16zM284 78.64h16v1.19h-16zM284 79.82h16v1.19h-16zM284 83.36h16v1.19h-16zM284 85.73h16v1.19h-16zM284 95h16v1.19h-16zM284 96.18h16v1.19h-16zM284 98.55h16v1.19h-16zM284 100.91h16v1.19h-16zM284 104.45h16v1.19h-16zM284 105.64h16v1.19h-16zM284 111.55h16v1.19h-16zM284 112.73h16v1.19h-16zM284 115.09h16v1.19h-16zM284 117.45h16v1.19h-16zM284 119.82h16v1.19h-16zM367 103.27h15v1.19h-15zM367 112.73h15v1.19h-15zM367 117.45h15v1.19h-15zM284 123.14h16v1.15h-16zM284 125.41h16v1.15h-16zM284 131.09h16v1.15h-16zM284 133.36h16v1.15h-16zM284 137.91h16v1.15h-16zM284 139.05h16v1.15h-16zM284 141.32h16v1.15h-16zM284 143.59h16v1.15h-16zM284 144.73h16v1.15h-16zM367 150.36h15v1.19h-15zM367 153.91h15v1.19h-15zM367 155.09h15v1.19h-15zM367 162.18h15v1.19h-15zM367 163.36h15v1.19h-15zM367 171.64h15v1.19h-15zM284 175h16v1.19h-16zM284 176.18h16v1.19h-16zM284 177.36h16v1.19h-16zM284 178.55h16v1.19h-16zM284 179.73h16v1.19h-16zM284 182.09h16v1.19h-16zM284 183.27h16v1.19h-16zM284 184.45h16v1.19h-16zM284 185.64h16v1.19h-16zM284 186.82h16v1.19h-16zM284 189.18h16v1.19h-16zM284 190.36h16v1.19h-16zM284 192.73h16v1.19h-16zM284 193.91h16v1.19h-16zM284 195.09h16v1.19h-16zM284 196.27h16v1.19h-16zM284 197.45h16v1.19h-16zM284 199.82h16v1.19h-16zM350 184.45h16v1.19h-16zM350 185.64h16v1.19h-16z" fill="#74437c"/>
<path d="M367 42h15v1.15h-15zM367 44.27h15v1.15h-15zM367 47.68h15v1.15h-15zM367 49.95h15v1.15h-15zM367 51.09h15v1.15h-15zM367 53.36h15v1.15h-15zM367 54.5h15v1.15h-15zM367 57.91h15v1.15h-15zM367 59.05h15v1.15h-15z" fill="#a45ca6"/>
</g>
<text x="384" y="20.66" font-size="5.8" fill="#333">APOE</text>
<text x="384" y="29.49" font-size="5.8" fill="#333">SPP1</text>
<text x="384" y="38.32" font-size="5.8" fill="#333">LY6E</text>
<text x="384" y="47.15" font-size="5.8" fill="#333">UBE2B</text>
<text x="384" y="55.98" font-size="5.8" fill="#333">BRI3</text>
<text x="384" y="64.81" font-size="5.8" fill="#333">MT1X</text>
<text x="384" y="73.64" font-size="5.8" fill="#333">LYVE1</text>
<text x="384" y="82.47" font-size="5.8" fill="#333">FOLR2</text>
<text x="384" y="91.3" font-size="5.8" fill="#333">PLTP</text>
<text x="384" y="100.13" font-size="5.8" fill="#333">FCN1</text>
<text x="384" y="108.96" font-size="5.8" fill="#333">HLA-DPB1</text>
<text x="384" y="117.79" font-size="5.8" fill="#333">VSIR</text>
<text x="384" y="126.62" font-size="5.8" fill="#333">CXCL5</text>
<text x="384" y="135.45" font-size="5.8" fill="#333">INHBA</text>
<text x="384" y="144.28" font-size="5.8" fill="#333">IL1RN</text>
<text x="384" y="153.11" font-size="5.8" fill="#333">STMN1</text>
<text x="384" y="161.94" font-size="5.8" fill="#333">TOP2A</text>
<text x="384" y="170.77" font-size="5.8" fill="#333">MKI67</text>
<text x="384" y="179.6" font-size="5.8" fill="#333">NEAT1</text>
<text x="384" y="188.43" font-size="5.8" fill="#333">MCL1</text>
<text x="384" y="197.26" font-size="5.8" fill="#333">CD63</text>
<text transform="translate(279.4 205.2) rotate(-45)" x="0" y="2.09" font-size="5.9" text-anchor="end" fill="#333">Macro-LY6E</text>
<text transform="translate(295.85 205.2) rotate(-45)" x="0" y="2.09" font-size="5.9" text-anchor="end" fill="#333">Macro-UBE2B</text>
<text transform="translate(312.3 205.2) rotate(-45)" x="0" y="2.09" font-size="5.9" text-anchor="end" fill="#333">Macro-FOLR2</text>
<text transform="translate(328.75 205.2) rotate(-45)" x="0" y="2.09" font-size="5.9" text-anchor="end" fill="#333">Macro-VSIR</text>
<text transform="translate(345.2 205.2) rotate(-45)" x="0" y="2.09" font-size="5.9" text-anchor="end" fill="#333">Macro-VEGFA</text>
<text transform="translate(361.65 205.2) rotate(-45)" x="0" y="2.09" font-size="5.9" text-anchor="end" fill="#333">Macro-MKI67</text>
<text transform="translate(378.1 205.2) rotate(-45)" x="0" y="2.09" font-size="5.9" text-anchor="end" fill="#333">Macro-NEAT1</text>
<defs><linearGradient id="gb" x1="0" y1="0" x2="0" y2="1"><stop offset="0" stop-color="#e6dc3c"/><stop offset="0.2" stop-color="#c6c042"/><stop offset="0.33" stop-color="#8e8a3c"/><stop offset="0.5" stop-color="#121112"/><stop offset="0.62" stop-color="#2e1b35"/><stop offset="0.78" stop-color="#5a3563"/><stop offset="1" stop-color="#b865b0"/></linearGradient></defs>
<rect x="411" y="14" width="5.9" height="84.9" fill="url(#gb)"/>
<text x="419.5" y="21.87" font-size="6.4" fill="#333">2</text>
<text x="419.5" y="40.57" font-size="6.4" fill="#333">1</text>
<text x="419.5" y="59.17" font-size="6.4" fill="#333">0</text>
<text x="419.5" y="77.97" font-size="6.4" fill="#333">−1</text>
<text x="419.5" y="96.57" font-size="6.4" fill="#333">−2</text>
<text x="434.6" y="10.09" font-size="13.5" font-weight="bold" fill="#000">c</text>
<defs><linearGradient id="gc" x1="0" y1="1" x2="0" y2="0"><stop offset="0" stop-color="#d9d9df"/><stop offset="0.5" stop-color="#d28a8e"/><stop offset="1" stop-color="#b3283a"/></linearGradient></defs>
<g transform="matrix(0.303 0 0 0.303 444.9 12.97)"><use href="#uVEGFA" fill="#d2999e"/><use href="#uLY6E" fill="#d08b8f"/><use href="#uVSIR" fill="#d19297"/><use href="#uFOLR2" fill="#d08b8f"/><use href="#uUBE2B" fill="#d2999e"/><use href="#uNEAT1" fill="#d3aeb3"/><use href="#uMKI67" fill="#d2999e"/></g>
<path d="M466.5 20.8h0M475.1 27h0M472.3 19.7h0M469.2 22.4h0M469.3 25.2h0M472.8 22.2h0M474.2 23.8h0M471 26.3h0M473.5 28h0M474 28.1h0M475.6 46.4h0M468.9 57.9h0M470.6 53.1h0M476 47.8h0M473.2 47h0M475.1 48h0M472 57.8h0M476.5 47.2h0M475.7 51.6h0M470.2 54.6h0M474.4 57.2h0M473.5 56.8h0M475.3 58.1h0M473.8 46.4h0M477 54h0M474.5 58.7h0M478.3 55.5h0M475.5 49.6h0M477.1 54.5h0M467.4 58.6h0M475.3 55.3h0M467.7 56.4h0M473.3 48.2h0M471.7 47.1h0M475.4 55.9h0M470.9 47.5h0M477.5 51.1h0M470.4 52.2h0M473.8 47.5h0M474.6 50.3h0M474.3 52.6h0M475.6 60.1h0M478 54h0M474.8 53.6h0M497.3 33.5h0M493.3 36.9h0M497.4 37.8h0M495.6 34.2h0M493 35.9h0M497.8 38.7h0M490.1 35.2h0M497.3 35.5h0M494.7 35.5h0M494.7 37.1h0M496.1 35.9h0M497.5 39.3h0" stroke="#d5c2c8" stroke-width="0.84" stroke-linecap="round" fill="none"/>
<path d="M472.2 31.1h0M477.4 33.9h0M473.8 40.3h0M477.7 30.8h0M480.2 33.8h0M475.6 34.3h0M471.4 31.6h0M468.9 38.7h0M474.1 36.3h0M471.7 35.3h0M473.9 39h0M464.6 31.2h0M467.3 33h0M477.5 32.3h0M472.6 37h0M469.1 33.4h0M479 36.6h0M480.2 34.7h0M471.2 30.6h0M464.4 37.1h0M476.6 29.8h0M467.6 36.8h0M464.3 39.8h0M472 31.6h0M471.9 34h0M475.9 36.5h0M478.5 35.6h0M475.2 37.3h0M479 32.5h0M477.9 28.9h0M471 35.7h0M473 40.8h0M464.9 36.9h0M465.1 37.1h0M469.2 47.4h0M468 53h0M465.7 48.7h0M464.4 45h0M463.6 45.9h0M465.8 44.6h0M463.2 50.5h0M468.2 49h0M465.8 52.9h0M466.8 46h0M464.2 52.8h0M468.5 43.7h0M468.1 46.4h0M465.9 53.1h0M468.1 41.5h0M469.3 47.2h0M467 53.9h0M462.4 45.8h0M467.6 50.8h0M464.5 48.1h0M461.4 48.8h0M468.4 50.5h0M461.4 47.2h0M468.2 53.2h0M468.7 48.5h0M460.7 46.4h0M467.4 41.7h0M468.5 45.6h0M462.9 46.9h0M465 47.1h0M467.6 47.6h0M464.4 51.3h0" stroke="#d4b4b9" stroke-width="0.84" stroke-linecap="round" fill="none"/>
<path d="M458.2 39.8h0M455.6 41.4h0M460.6 40.1h0M455.4 41.9h0M461.9 33.3h0M458.6 33.5h0M461.2 35.5h0M459.9 42.5h0M459.4 37.5h0M457.9 33.5h0M456.3 40.9h0M461.8 42h0M459.1 46.2h0M458.2 37.5h0M462.4 41.8h0M460 45.5h0M459.1 38.6h0M463.6 33.2h0M459.6 43.7h0M460.8 33.7h0M462.1 30.3h0M457.9 35.9h0M457.7 41.1h0M461.2 33.4h0M458.7 35.1h0M456.8 41.6h0M464.4 43.1h0M458.2 45.2h0M456.1 43.4h0M459.9 44.6h0M457.1 39.1h0M462.6 33.6h0M461.2 36.4h0" stroke="#d5bbc1" stroke-width="0.84" stroke-linecap="round" fill="none"/>
<path d="M458 51h0M460.5 54.6h0M460.3 51.8h0M457.8 52.6h0M457.3 53.1h0M461.7 53.6h0M459.9 52.6h0" stroke="#d7d7dd" stroke-width="0.84" stroke-linecap="round" fill="none"/>
<path d="M472.3 26.8h0M475.4 26.8h0M475.4 25.7h0M468.7 24.5h0M472.8 20.6h0M473 29.3h0M473.9 22.5h0M468.3 26.9h0M469.8 24.3h0M469.6 25.3h0M477.5 52.2h0M472.8 50h0M473.4 54.8h0M477.5 52.3h0M471 52.8h0M474.2 56.9h0M471 48.4h0M471.7 53.5h0M471.6 48.1h0M470.5 50.1h0M475 47.7h0M475.8 59.7h0M477.3 53.8h0M476.3 52.8h0M470.5 53.5h0M479.3 54.4h0M472.6 58h0M470.5 55.6h0M475.6 58.9h0M472.1 55.7h0M476.7 52.2h0M473.9 60.3h0M473.3 47.4h0M472.8 49.1h0M473.3 52.7h0M473.3 57.6h0M496.8 39.2h0M497.3 37.8h0M492.7 34.9h0M495.6 39.1h0M492.6 38.2h0M497.3 35.2h0M492.7 36.2h0M490.5 34.9h0" stroke="#ca7479" stroke-width="0.84" stroke-linecap="round" fill="none"/>
<path d="M464.9 38.4h0M469.6 29.7h0M467.2 40.2h0M468.8 40.3h0M475 37.9h0M471.1 40h0M472.2 29.9h0M470.7 40.9h0M476.9 31.8h0M471 38.4h0M476.5 36.3h0M469.9 37.1h0M465.1 33.6h0M466.2 38.3h0M470.7 32.4h0M473 29.7h0M472.2 31.6h0M469.9 40.8h0M473.2 36h0M467.6 40.2h0M474.1 36.7h0M466.8 33.9h0M476.5 33.3h0M470.1 30.6h0M466.4 40.9h0M466.2 37.6h0M468.8 45.1h0M469.5 49.2h0M467.8 46.1h0M469 53.3h0M467.4 48h0M464.1 48.8h0M466.5 51.1h0M468.3 49.8h0M469.9 50.1h0M467.3 53h0M467.6 48.2h0M463.5 44.3h0M469.9 43h0M466.3 52h0M463.2 49h0M461.4 48.4h0M466.6 49.5h0M463.6 52.3h0M470.2 43.8h0M466.9 42.1h0M468.2 51.8h0M467.9 53.3h0M467.6 47.4h0M463.3 47.5h0M463.8 52.3h0M461.2 47.2h0M466 46h0M466.6 53h0" stroke="#c6656b" stroke-width="0.84" stroke-linecap="round" fill="none"/>
<path d="M460.8 42.2h0M461.4 38.2h0M460.6 33.8h0M462.4 32.6h0M461.6 30.9h0M461 33.6h0M459.9 35h0M463.3 31.9h0M456.4 43.7h0M461 39.3h0M459.8 44.7h0M458.8 36.1h0M458.8 45.6h0M461.8 37.6h0M457.5 41h0M461.5 36.9h0M460.5 45.3h0M460.5 37.8h0M458.8 40.2h0M456 42.7h0M459.3 34.9h0M460.6 44.8h0M459.5 43.5h0M462.1 34.1h0M455.7 42.6h0M460.9 43.7h0M459.4 37.1h0" stroke="#c86d72" stroke-width="0.84" stroke-linecap="round" fill="none"/>
<path d="M457.8 51.5h0M458.9 53.4h0M459.8 54.7h0M458.6 52.2h0M460.7 54.1h0M460.7 52.6h0M460.8 52.2h0M459.9 53.9h0M461.5 54.2h0M457.7 51.5h0M460.7 53.3h0M461.2 52.3h0M461.3 52.7h0" stroke="#d08a8e" stroke-width="0.84" stroke-linecap="round" fill="none"/>
<line x1="452.3" y1="13.9" x2="452.3" y2="64.5" stroke="#333" stroke-width="0.5"/>
<line x1="452.3" y1="64.5" x2="502.1" y2="64.5" stroke="#333" stroke-width="0.5"/>
<line x1="451.1" y1="16" x2="452.3" y2="16" stroke="#333" stroke-width="0.4"/>
<text x="450.1" y="18.06" font-size="5.8" text-anchor="end" fill="#333">8</text>
<line x1="451.1" y1="28.4" x2="452.3" y2="28.4" stroke="#333" stroke-width="0.4"/>
<text x="450.1" y="30.46" font-size="5.8" text-anchor="end" fill="#333">4</text>
<line x1="451.1" y1="40.6" x2="452.3" y2="40.6" stroke="#333" stroke-width="0.4"/>
<text x="450.1" y="42.66" font-size="5.8" text-anchor="end" fill="#333">0</text>
<line x1="451.1" y1="53.1" x2="452.3" y2="53.1" stroke="#333" stroke-width="0.4"/>
<text x="450.1" y="55.16" font-size="5.8" text-anchor="end" fill="#333">−4</text>
<line x1="457.6" y1="64.5" x2="457.6" y2="65.7" stroke="#333" stroke-width="0.4"/>
<text x="457.6" y="72.76" font-size="5.8" text-anchor="middle" fill="#333">−5</text>
<line x1="470" y1="64.5" x2="470" y2="65.7" stroke="#333" stroke-width="0.4"/>
<text x="470" y="72.76" font-size="5.8" text-anchor="middle" fill="#333">0</text>
<line x1="483.3" y1="64.5" x2="483.3" y2="65.7" stroke="#333" stroke-width="0.4"/>
<text x="483.3" y="72.76" font-size="5.8" text-anchor="middle" fill="#333">5</text>
<line x1="497.1" y1="64.5" x2="497.1" y2="65.7" stroke="#333" stroke-width="0.4"/>
<text x="497.1" y="72.76" font-size="5.8" text-anchor="middle" fill="#333">10</text>
<text x="477.3" y="78.99" font-size="5.6" text-anchor="middle" fill="#333">UMAP_1</text>
<text transform="translate(438.2 40.2) rotate(-90)" x="0" y="1.99" font-size="5.6" text-anchor="middle" fill="#333">UMAP_2</text>
<text x="477.2" y="10.66" font-size="5.8" text-anchor="middle" font-weight="bold" fill="#222">CD68</text>
<rect x="504" y="27.9" width="5.5" height="24.8" fill="url(#gc)"/>
<text transform="translate(512.9 52.5) rotate(-90)" x="0" y="1.99" font-size="5.6" text-anchor="middle" fill="#333">0</text>
<text transform="translate(512.9 47.05) rotate(-90)" x="0" y="1.99" font-size="5.6" text-anchor="middle" fill="#333">1</text>
<text transform="translate(512.9 41.6) rotate(-90)" x="0" y="1.99" font-size="5.6" text-anchor="middle" fill="#333">2</text>
<text transform="translate(512.9 36.15) rotate(-90)" x="0" y="1.99" font-size="5.6" text-anchor="middle" fill="#333">3</text>
<text transform="translate(512.9 30.7) rotate(-90)" x="0" y="1.99" font-size="5.6" text-anchor="middle" fill="#333">4</text>
<g transform="matrix(0.303 0 0 0.303 535 12.97)"><use href="#uVEGFA" fill="#d2a0a5"/><use href="#uLY6E" fill="#d08b8f"/><use href="#uVSIR" fill="#d08b8f"/><use href="#uFOLR2" fill="#d08b8f"/><use href="#uUBE2B" fill="#d2a0a5"/><use href="#uNEAT1" fill="#d3aeb3"/><use href="#uMKI67" fill="#d19297"/></g>
<path d="M565.2 25.6h0M561.4 23.7h0M557.9 21.5h0M558.8 21.6h0M559.4 28.9h0M557.3 22.2h0M563 23.6h0M557 20.9h0M562.3 22.9h0M562.1 20.3h0M559.2 25.8h0M560.8 20.1h0M566.3 49.9h0M563.2 49.5h0M558.9 57.3h0M559.8 56.8h0M569.3 56.1h0M563 56.8h0M569.7 55.9h0M567.7 56.9h0M565.7 60.2h0M558.4 56.4h0M567.7 57.1h0M563.7 52h0M566.2 58.5h0M560.4 58.2h0M562.1 57.9h0M561.2 53.5h0M570.2 56.2h0M566.6 57.5h0M560.8 50.6h0M561.6 57.1h0M565.9 53.8h0M567.1 47.4h0M564.8 58.9h0M569.7 54h0M567 57h0M563.7 50h0M561.8 55.1h0M564.7 54.7h0M560.6 52.1h0" stroke="#d6c9cf" stroke-width="0.84" stroke-linecap="round" fill="none"/>
<path d="M555.5 34.2h0M560.7 30.4h0M560.3 36.9h0M567.3 37.8h0M557.3 35.2h0M566.8 29.3h0M558 29.9h0M555.5 39h0M569.1 35.8h0M562.8 30.5h0M557.1 33.9h0M563.2 31.3h0M566.8 30.8h0M557.8 29.5h0M564.5 36.4h0M563.9 38.4h0M554 39.4h0M564.3 31.1h0M561.5 30.8h0M565.1 37.2h0M560.4 30h0M564.6 39h0M561.6 37.9h0M566.2 29.4h0M560.9 43.2h0M570.2 34.6h0M564.4 35.9h0M568.8 34.3h0M548.7 33.8h0M551.5 37.7h0M550.4 34.1h0M553 31.3h0M552.5 43.4h0M550.7 34.7h0M549.4 38.4h0M548.3 45.7h0M548.2 42.8h0M551.9 38.4h0M548.5 33.5h0M550.1 42.9h0M550 44.7h0M547.4 38.3h0M549.9 41.9h0M548.7 36.6h0M547.4 40.4h0M549.9 45.7h0M552.3 32.8h0M552 35.1h0M551.9 35.6h0M548.4 34h0M550.1 36.7h0M551 39.4h0M546.5 42h0M552.8 36.1h0M552.1 34.2h0M552 40.7h0M553.3 35.1h0M552.7 41.1h0M557.2 54.2h0M554 44h0M560.1 48.8h0M557.1 41.3h0M554.3 44.2h0M556.4 51.9h0M557.9 45.8h0M558.6 50.4h0M552.4 50.7h0M555.4 50h0M556.7 43.5h0M553.1 45.4h0M557.8 43.2h0M557.6 47.8h0M551.5 46.7h0M555.4 52.8h0M553.2 46.4h0M556.3 48.9h0M559.2 48.3h0M558.4 43.3h0M558.2 44.3h0M556.5 51.5h0M553 45.8h0M552 46h0M555.7 43.4h0M559.3 49.4h0M553.5 47.1h0M557.1 52.7h0" stroke="#d4b4b9" stroke-width="0.84" stroke-linecap="round" fill="none"/>
<path d="M552 53.6h0M551.7 53.6h0M552.5 54.2h0M550.2 52.2h0M548.8 50.9h0M548.5 51.4h0M547.5 53.1h0M548.9 51.2h0M548.3 52.8h0M548.7 51.6h0M550 52.3h0M551.1 52.9h0" stroke="#d7d7dd" stroke-width="0.84" stroke-linecap="round" fill="none"/>
<path d="M582.8 38.6h0M583.5 36.7h0M579.6 39.4h0M588.2 34.1h0M583.3 37h0M582.9 35.3h0M586.7 36.1h0" stroke="#d5bbc1" stroke-width="0.84" stroke-linecap="round" fill="none"/>
<path d="M562.9 19.7h0M557.4 22.2h0M563 23.5h0M559 27.7h0M559.8 24.1h0M561.9 23.5h0M557.7 23.3h0M559.4 22.5h0M564.4 54.5h0M559.6 57.9h0M563.3 49.4h0M561.4 53.1h0M562.2 53.1h0M568.8 55.6h0M559.5 58.3h0M563.7 56.3h0M561.5 54.3h0M560.9 54.1h0M566.6 50h0M565.4 51.6h0M558.7 59.4h0M562.7 49.6h0M565.3 50.5h0M567.4 51.1h0M562.8 56.6h0M562.6 46.5h0M567.8 53.7h0M558.8 57.4h0M561.1 51.8h0M561 52.7h0M563 48.5h0M568.8 55h0M565.4 57.5h0M565.8 61.2h0M563.7 52.9h0M565.4 53.4h0M559.4 55.8h0M566 57.9h0M566.4 54.6h0" stroke="#cd7c80" stroke-width="0.84" stroke-linecap="round" fill="none"/>
<path d="M565 34.9h0M567.8 37h0M568.6 32.2h0M559.5 41.6h0M554.7 39.5h0M559.7 30h0M561.5 36.3h0M557.9 31.6h0M561.2 41.3h0M558.1 37.3h0M565.7 29.1h0M554.5 36.5h0M565.8 34.5h0M555.7 34.1h0M561 35.2h0M557.8 35.9h0M560.9 36.7h0M554.7 33.7h0M556.5 30.5h0M562.2 40h0M564.9 32.2h0M563.6 38h0M565.2 29.5h0M561.9 39h0M558.2 38.9h0M553.8 40.1h0M562.2 40.3h0M555 34.5h0M566.2 31.5h0M562.1 38h0M557.4 30.8h0M556.7 38h0M548.2 37.5h0M554.2 32h0M551.4 38.5h0M550.1 33.1h0M550.9 34.5h0M551.7 45.1h0M552.6 42.4h0M546.9 44.6h0M548.2 34.7h0M550.2 37.8h0M551.4 39.6h0M551.9 45h0M547 39.4h0M548 44.7h0M552.3 31.9h0M548 40.1h0M549.9 39.1h0M551.4 44.1h0M548.9 42.5h0M550.4 42.3h0M546.5 43.5h0M552.8 33.2h0M551.1 43h0M552.5 36.9h0M548.2 33.4h0M551.2 45.1h0M550.2 40.6h0M549.2 34.1h0M554 29.9h0M547.1 43.3h0M560.4 45.2h0M557.7 41.6h0M560.6 47.5h0M557.7 44.3h0M556.9 53.8h0M551.1 48.3h0M553.7 48.6h0M558.8 48.6h0M560 49h0M553.2 45.6h0M555.3 43.5h0M556.2 46.5h0M554.2 52.1h0M555.9 44.2h0M553.2 52.4h0M560.4 43.8h0M556.1 44.2h0M554.3 52.8h0M555.3 52.9h0M557.7 50.1h0M555.3 47.4h0M557.5 47.4h0M557 42.4h0M557.3 52.7h0M554.4 46h0M555 51.6h0M554.8 53.3h0M553.3 45.4h0M557.4 52.5h0M556.8 45.9h0M556.3 43.1h0M552.9 49.3h0" stroke="#c6656b" stroke-width="0.84" stroke-linecap="round" fill="none"/>
<path d="M551.3 53.2h0M547.9 52.6h0M548.8 53.9h0M548.2 52.5h0M550.9 55h0M549.8 53.5h0M551 53h0M550 51.5h0" stroke="#d08a8e" stroke-width="0.84" stroke-linecap="round" fill="none"/>
<path d="M584.5 34.7h0M586.6 39.6h0M584 37.2h0M586.9 39.7h0M585.1 36.6h0M587.3 38.8h0M581.7 38.8h0M587.3 36.5h0M587.4 36.9h0M586.7 37.5h0M580.2 35.7h0M582.3 37.4h0M587.3 36.1h0" stroke="#c86d72" stroke-width="0.84" stroke-linecap="round" fill="none"/>
<line x1="542.4" y1="13.9" x2="542.4" y2="64.5" stroke="#333" stroke-width="0.5"/>
<line x1="542.4" y1="64.5" x2="592.2" y2="64.5" stroke="#333" stroke-width="0.5"/>
<line x1="541.2" y1="16" x2="542.4" y2="16" stroke="#333" stroke-width="0.4"/>
<text x="540.2" y="18.06" font-size="5.8" text-anchor="end" fill="#333">8</text>
<line x1="541.2" y1="28.4" x2="542.4" y2="28.4" stroke="#333" stroke-width="0.4"/>
<text x="540.2" y="30.46" font-size="5.8" text-anchor="end" fill="#333">4</text>
<line x1="541.2" y1="40.6" x2="542.4" y2="40.6" stroke="#333" stroke-width="0.4"/>
<text x="540.2" y="42.66" font-size="5.8" text-anchor="end" fill="#333">0</text>
<line x1="541.2" y1="53.1" x2="542.4" y2="53.1" stroke="#333" stroke-width="0.4"/>
<text x="540.2" y="55.16" font-size="5.8" text-anchor="end" fill="#333">−4</text>
<line x1="547.7" y1="64.5" x2="547.7" y2="65.7" stroke="#333" stroke-width="0.4"/>
<text x="547.7" y="72.76" font-size="5.8" text-anchor="middle" fill="#333">−5</text>
<line x1="560.1" y1="64.5" x2="560.1" y2="65.7" stroke="#333" stroke-width="0.4"/>
<text x="560.1" y="72.76" font-size="5.8" text-anchor="middle" fill="#333">0</text>
<line x1="573.4" y1="64.5" x2="573.4" y2="65.7" stroke="#333" stroke-width="0.4"/>
<text x="573.4" y="72.76" font-size="5.8" text-anchor="middle" fill="#333">5</text>
<line x1="587.2" y1="64.5" x2="587.2" y2="65.7" stroke="#333" stroke-width="0.4"/>
<text x="587.2" y="72.76" font-size="5.8" text-anchor="middle" fill="#333">10</text>
<text x="567.4" y="78.99" font-size="5.6" text-anchor="middle" fill="#333">UMAP_1</text>
<text transform="translate(528.3 40.2) rotate(-90)" x="0" y="1.99" font-size="5.6" text-anchor="middle" fill="#333">UMAP_2</text>
<text x="567.3" y="10.66" font-size="5.8" text-anchor="middle" font-weight="bold" fill="#222">CD14</text>
<rect x="594.1" y="27.9" width="5.5" height="24.8" fill="url(#gc)"/>
<text transform="translate(603 52.5) rotate(-90)" x="0" y="1.99" font-size="5.6" text-anchor="middle" fill="#333">0</text>
<text transform="translate(603 47.05) rotate(-90)" x="0" y="1.99" font-size="5.6" text-anchor="middle" fill="#333">1</text>
<text transform="translate(603 41.6) rotate(-90)" x="0" y="1.99" font-size="5.6" text-anchor="middle" fill="#333">2</text>
<text transform="translate(603 36.15) rotate(-90)" x="0" y="1.99" font-size="5.6" text-anchor="middle" fill="#333">3</text>
<text transform="translate(603 30.7) rotate(-90)" x="0" y="1.99" font-size="5.6" text-anchor="middle" fill="#333">4</text>
<g transform="matrix(0.303 0 0 0.303 622.4 12.97)"><use href="#uVEGFA" fill="#d3abb0"/><use href="#uLY6E" fill="#d6c7cd"/><use href="#uVSIR" fill="#d4b9bf"/><use href="#uFOLR2" fill="#d6d0d5"/><use href="#uUBE2B" fill="#d7d2d8"/><use href="#uNEAT1" fill="#d3aeb3"/><use href="#uMKI67" fill="#d6c7cd"/></g>
<path d="M651.8 26.6h0M645.7 26.7h0M648.5 28.4h0M647.1 20h0M644.1 21.8h0M646.3 22.2h0M646.6 24.5h0M649.3 21.5h0M651.7 22.7h0M645.5 26.4h0M647.6 27.1h0M647.8 19.8h0" stroke="#d7d4da" stroke-width="0.84" stroke-linecap="round" fill="none"/>
<path d="M657.5 32.9h0M646 32.2h0M642.7 30.9h0M648.2 40.1h0M655.8 35.4h0M644.9 39.4h0M644.1 34.6h0M643.3 35.2h0M654.1 28.8h0M649.6 29.5h0M656.1 31.1h0M656.3 35.6h0M651.6 40.6h0M656.9 35h0M651.1 42.1h0M644.8 36.1h0M652.5 34.3h0M644.9 40.1h0M648.1 29.9h0M651.5 31.2h0M647.7 38.8h0M650.3 34.2h0M643 31.7h0M643.5 41.8h0M648.3 39.5h0M650.8 40.8h0M656.5 30.6h0M647.4 40.4h0M651.5 34.6h0M649.9 35.5h0M640.3 31.3h0M641.3 32.8h0M634.7 44.6h0M640.9 33.9h0M638.4 39.8h0M636.1 34.6h0M636.7 41.6h0M639.2 37.6h0M637.6 38h0M641.6 42.2h0M634.1 42.4h0M638 38.4h0M634.5 41.3h0M637.1 44h0M634.9 39.9h0M640.4 42.9h0M640.4 43.1h0M638.8 34.6h0M640.4 44.3h0M638.4 39.2h0M637.9 41.5h0M641.5 42.4h0M636.2 33.6h0M635.9 39.9h0M638.6 40.9h0M639.7 36h0M643.9 48.8h0M641.7 49.4h0M647.6 48h0M645 44.2h0M645 49.5h0M644.6 41h0M643.3 47.1h0M644.7 45.5h0M644.5 48.9h0M647.6 48.7h0M645.7 46.5h0M645.5 41.1h0M643.3 45.7h0M645.3 43.8h0M641.9 49h0M640.2 48.1h0M640.4 47.6h0M644.9 44.6h0M641.3 48.2h0M645.4 43.2h0M647.5 47.1h0M639.6 50.5h0M644.4 50.5h0M643.5 43.3h0M647.8 44.6h0M645 53.4h0M644.1 49.7h0M647.8 46.7h0M647.3 50.7h0M644.6 51.4h0M640 46.3h0M645.2 49.4h0M640.2 51.3h0M652.2 54.1h0M653.6 48.9h0M651.5 50h0M651.4 55.4h0M654.3 58.8h0M650.3 52.9h0M650 53.9h0M653 51.7h0M654.9 55.1h0M645.1 58.8h0M645.9 58.9h0M653.9 50h0M655 57.2h0M650.1 54h0M645.4 57.7h0M645.1 58.6h0M646.7 54.6h0M650.7 52.8h0M653 60.3h0M653.2 61.1h0M652.5 53.5h0M648.1 57.7h0M651 47.5h0M650.8 47h0M649.9 53.8h0M645.7 57.7h0M648.6 56.2h0M654.3 48.4h0M651.2 50.9h0M650.5 51.1h0M653 59.6h0M670.8 36.1h0M675.2 38.9h0M674.1 38h0M672.9 37.4h0M674 37.6h0M673.3 39.3h0M673.8 36.3h0M674.3 37.9h0M668.6 35h0" stroke="#d7d8de" stroke-width="0.84" stroke-linecap="round" fill="none"/>
<path d="M636.5 53.4h0M636.5 53.8h0M639.5 53.9h0M637.8 54.6h0M636.8 53.7h0M636.2 51h0M636.4 52.1h0M637.3 54.2h0M637.6 54.8h0M635.9 53h0" stroke="#d7d7dd" stroke-width="0.84" stroke-linecap="round" fill="none"/>
<path d="M646.4 21.2h0M650 29h0M647.8 27.7h0M644.9 19.8h0M652.4 29h0M644.8 22.5h0M647.2 28.4h0M649.5 28.8h0" stroke="#d0878b" stroke-width="0.84" stroke-linecap="round" fill="none"/>
<path d="M654 30.9h0M642.5 35.6h0M652.6 31.6h0M647 41.3h0M643.6 41.4h0M650.3 42.8h0M655.3 36h0M645.8 32.2h0M644.4 37.1h0M640.6 36h0M656 33.2h0M647.9 36.4h0M643.9 35.6h0M653.5 36.3h0M647.8 32.8h0M653.2 26h0M647.9 38.5h0M655.1 28.7h0M649.3 32.7h0M649 42.3h0M645.8 36.1h0M651.5 40.9h0M645.6 31.8h0M657.6 34.9h0M654.9 31.2h0M642 41.9h0M642.2 31.8h0M644.8 40.4h0M652.3 32.5h0M652 36.3h0M669.5 37.7h0M673.3 34.6h0M674.7 38.1h0M675.2 36.7h0M672.2 36.6h0M672.1 35.9h0M673.6 36.5h0M675.7 37.8h0M667.5 38.9h0M672.8 38.4h0M674.2 34.8h0" stroke="#d2a3a8" stroke-width="0.84" stroke-linecap="round" fill="none"/>
<path d="M635.2 37.7h0M634.5 38.8h0M639 41h0M638.9 34.5h0M640 30h0M638.3 35.1h0M637.6 37.1h0M637.9 36.2h0M633 43.1h0M637.3 44.4h0M636.6 36h0M638.7 41.4h0M638.7 34.9h0M638.8 39.7h0M641.2 42h0M639.8 43.3h0M638.6 37h0M639 39.8h0M641.6 32.1h0M635.5 38.3h0M638.3 39.6h0M640.7 29.6h0M635.1 40.2h0M640.7 32.4h0M640.1 36.7h0M635.5 41.2h0M638.7 38.8h0M641.3 42.1h0M636 42.2h0M641.3 33h0M637.3 32.3h0M636.1 42.5h0M637.7 40.8h0M635.1 44.4h0" stroke="#d1959a" stroke-width="0.84" stroke-linecap="round" fill="none"/>
<path d="M647.3 46.1h0M642.5 52.7h0M646.3 52.9h0M641.7 49.8h0M648.2 45.7h0M643.8 44.5h0M645.9 48h0M642.6 52.7h0M646.6 44.2h0M640.7 48.7h0M646.3 43.9h0M642.4 52.7h0M638.9 47.7h0M645.5 43.9h0M642.4 52.3h0M641.3 50.2h0M644.9 46.5h0M643.3 42.1h0M645.4 47.2h0M647.5 49.2h0M643.5 52.4h0M642.4 43.1h0M638.9 47.7h0M644.7 42h0M645.8 48.3h0M643.5 45.9h0M645.2 41.2h0" stroke="#d3acb0" stroke-width="0.84" stroke-linecap="round" fill="none"/>
<path d="M652.4 57.1h0M653.2 58h0M652.8 53.1h0M653.8 47.4h0M648.3 52.3h0M652.8 47.3h0M654.1 55.4h0M653 46.4h0M656.9 54.3h0M651 52.4h0M653.1 61.1h0M650.5 46.5h0M650.8 56.9h0M646.7 59.3h0M645.4 59h0M651.6 52.9h0M648 53.6h0M649.4 53.7h0M653.7 56.1h0M653.3 56.5h0M652.8 53.6h0M649.1 49.6h0M651.5 60.2h0M648.6 48.8h0M648.7 49h0M653.9 50h0M654.2 56.5h0M650.6 59.5h0M649 58.3h0" stroke="#d3aeb3" stroke-width="0.84" stroke-linecap="round" fill="none"/>
<path d="M639.1 54.8h0M638.9 54.3h0M638.8 53.8h0M639.6 54.1h0M636.5 53.8h0M639.3 55.1h0M637 51.7h0M636.3 53.1h0M639 53.4h0M636.9 54.3h0" stroke="#d08a8e" stroke-width="0.84" stroke-linecap="round" fill="none"/>
<line x1="629.8" y1="13.9" x2="629.8" y2="64.5" stroke="#333" stroke-width="0.5"/>
<line x1="629.8" y1="64.5" x2="679.6" y2="64.5" stroke="#333" stroke-width="0.5"/>
<line x1="628.6" y1="16" x2="629.8" y2="16" stroke="#333" stroke-width="0.4"/>
<text x="627.6" y="18.06" font-size="5.8" text-anchor="end" fill="#333">8</text>
<line x1="628.6" y1="28.4" x2="629.8" y2="28.4" stroke="#333" stroke-width="0.4"/>
<text x="627.6" y="30.46" font-size="5.8" text-anchor="end" fill="#333">4</text>
<line x1="628.6" y1="40.6" x2="629.8" y2="40.6" stroke="#333" stroke-width="0.4"/>
<text x="627.6" y="42.66" font-size="5.8" text-anchor="end" fill="#333">0</text>
<line x1="628.6" y1="53.1" x2="629.8" y2="53.1" stroke="#333" stroke-width="0.4"/>
<text x="627.6" y="55.16" font-size="5.8" text-anchor="end" fill="#333">−4</text>
<line x1="635.1" y1="64.5" x2="635.1" y2="65.7" stroke="#333" stroke-width="0.4"/>
<text x="635.1" y="72.76" font-size="5.8" text-anchor="middle" fill="#333">−5</text>
<line x1="647.5" y1="64.5" x2="647.5" y2="65.7" stroke="#333" stroke-width="0.4"/>
<text x="647.5" y="72.76" font-size="5.8" text-anchor="middle" fill="#333">0</text>
<line x1="660.8" y1="64.5" x2="660.8" y2="65.7" stroke="#333" stroke-width="0.4"/>
<text x="660.8" y="72.76" font-size="5.8" text-anchor="middle" fill="#333">5</text>
<line x1="674.6" y1="64.5" x2="674.6" y2="65.7" stroke="#333" stroke-width="0.4"/>
<text x="674.6" y="72.76" font-size="5.8" text-anchor="middle" fill="#333">10</text>
<text x="654.8" y="78.99" font-size="5.6" text-anchor="middle" fill="#333">UMAP_1</text>
<text transform="translate(615.7 40.2) rotate(-90)" x="0" y="1.99" font-size="5.6" text-anchor="middle" fill="#333">UMAP_2</text>
<text x="654.7" y="10.66" font-size="5.8" text-anchor="middle" font-weight="bold" fill="#222">VEGFA</text>
<g transform="matrix(0.303 0 0 0.303 444.9 91.97)"><use href="#uVEGFA" fill="#d6c7cd"/><use href="#uLY6E" fill="#d19297"/><use href="#uVSIR" fill="#d3aeb3"/><use href="#uFOLR2" fill="#d4b9bf"/><use href="#uUBE2B" fill="#d4b1b6"/><use href="#uNEAT1" fill="#d5c3c9"/><use href="#uMKI67" fill="#d2a0a5"/></g>
<path d="M472.9 101.6h0M470.3 97.7h0M472 99.2h0M474.2 102.9h0M471.4 107.4h0M472.2 101.6h0M472.6 103.2h0M471.3 97.8h0M470.6 104.8h0M468.8 103.5h0M468.5 129.6h0M463.1 125.1h0M462.6 124.6h0M463.4 128.9h0M464.5 130.4h0M467.3 126.4h0M465 122h0M468 124.1h0M465 125.3h0M467.5 132h0M464.9 126.3h0M460.7 127h0M466.1 129h0M465.8 122.5h0M467.5 132.5h0M464 123.9h0M461.4 124.6h0M468.4 127.1h0M465.1 123.2h0M465.3 125.7h0M465.1 131.4h0M470.7 123.4h0M465.3 121.5h0M467.6 128h0M461 125.8h0M466.9 123.9h0M469 130.9h0M469.1 130.7h0M466.9 126.2h0M470 131.7h0M474.7 130.9h0M475.3 129h0M473.4 126.8h0M473.7 136h0M476.3 129.8h0M477.1 132.8h0M473.6 136.5h0M475.4 134h0M473.5 138.3h0M477.9 131.7h0M471.5 129.9h0M471.1 132.1h0M470.6 137.7h0M475.3 132.4h0M475.4 135.2h0M470.4 131.8h0M475 137.5h0M478.5 134.1h0M474.5 134.2h0M473.7 132h0M477.3 129.9h0M472 131.3h0M470.2 137.6h0M460.1 132.6h0M460.5 133.7h0M460.8 133.2h0M461 134h0M458.3 132.7h0M460.6 132.5h0M457.9 131.2h0M459.8 132.3h0M458 132.3h0M458.4 132.4h0M458.2 130.4h0M461.4 132h0" stroke="#d7d8de" stroke-width="0.84" stroke-linecap="round" fill="none"/>
<path d="M463.5 113.7h0M466.1 111h0M475.6 113.9h0M474.6 117.1h0M463.3 118.5h0M475 116.3h0M472.3 112.9h0M476.6 110.5h0M473.8 110.7h0M473.4 119.1h0M465.7 120h0M477.2 115.3h0M468.4 117h0M464.6 111.7h0M476.3 115.6h0M472.4 115.6h0M477.6 112h0M473 109.2h0M466.1 119.3h0M474.4 117.2h0M465.3 112.6h0M475.5 109.5h0M470.7 110.5h0M476.2 113.1h0M478.2 108.3h0M474.3 108.8h0M471.5 121.5h0M467.7 109.1h0M469 114.6h0M478.8 112.9h0M468.2 115h0M468.8 115h0M477 109.5h0" stroke="#d5bbc1" stroke-width="0.84" stroke-linecap="round" fill="none"/>
<path d="M460.9 116.1h0M461 117.8h0M460.1 115.6h0M459.9 122.6h0M456.1 119.6h0M459.8 114.6h0M460.9 111.2h0M460 115.5h0M459.3 120.2h0M457.4 117.1h0M459.6 119.4h0M457.9 112.7h0M461.2 113.9h0M461.7 114.6h0M460.5 117.2h0M459.6 123.4h0M458.4 120.5h0M462 123.3h0M461.4 116.9h0M457.8 118.2h0M459 113.4h0M461 121.3h0M462.5 122.9h0M459.3 124.4h0M459.6 119.7h0M457.4 119.7h0M464 121.1h0M460.2 118.8h0M461.6 122h0" stroke="#d7d7dd" stroke-width="0.84" stroke-linecap="round" fill="none"/>
<path d="M489 119.1h0M491.1 118h0M495.4 116.2h0M490.9 115.1h0M492.5 116.7h0M496.5 117.9h0M496.9 118.7h0M489 113.9h0M492.2 117h0M492.7 116.9h0" stroke="#d6c9cf" stroke-width="0.84" stroke-linecap="round" fill="none"/>
<path d="M468.7 103.1h0M472 105.9h0M470.9 106.4h0M467 100.3h0M472.2 101.8h0M469.4 102.1h0M475.6 105.6h0M471 99.6h0M470.9 107.8h0M470.3 107.1h0" stroke="#d2a3a8" stroke-width="0.84" stroke-linecap="round" fill="none"/>
<path d="M473.8 111.6h0M476.1 111.6h0M475.6 111.8h0M476.7 112.8h0M466.2 119.4h0M469 109.9h0M469.9 118.1h0M478.6 114.5h0M471.2 113.9h0M477.5 115.4h0M478.6 111.7h0M466.3 117.6h0M475.9 104.9h0M463.3 116.4h0M479.9 113.4h0M471.8 109h0M473.8 109.5h0M472.9 116.4h0M475.6 108.2h0M475.9 108.6h0M467.4 110h0M464.9 109.6h0M472.6 122h0M479.1 113.2h0M466.3 115.6h0M476 111.1h0M465.9 110.9h0" stroke="#c86d72" stroke-width="0.84" stroke-linecap="round" fill="none"/>
<path d="M458.3 113h0M460.5 117.6h0M459.1 125h0M457 121.2h0M460.2 118.9h0M461.3 112.5h0M464.9 121.8h0M457.5 120.2h0M457.5 118.7h0M458.6 123.7h0M457.3 119h0M456.8 117.5h0M462.3 120.2h0M462.3 116.1h0M462.3 121.7h0M459.3 123.9h0M458.5 118.7h0M463.1 112.5h0M458.2 113.6h0M461.4 118.8h0M457.7 121.6h0M460.7 113.8h0M462.3 112h0M461 123.4h0M462.1 112.7h0M457.2 120.2h0M457.9 120h0M455.6 120.7h0M457.6 120.1h0M462.4 111.1h0M456.2 121.9h0" stroke="#d08a8e" stroke-width="0.84" stroke-linecap="round" fill="none"/>
<path d="M464.1 123.5h0M467.9 127.9h0M469.6 121.5h0M467.2 126.7h0M462.4 128.3h0M468.2 125.2h0M465.5 123h0M467.1 123.8h0M462.3 128.8h0M462.7 124.3h0M470.3 124.6h0M464.7 132.5h0M467.9 124.6h0M460.8 128h0M466.8 127.8h0M460.7 125.8h0M469.7 122.7h0M460.5 126.1h0M469.7 122.3h0M462.6 124.2h0M465.7 128.2h0M468.6 125.8h0M463.6 123.5h0M469.6 129.3h0M466.7 129.9h0M462.7 127.1h0M467.1 128.1h0M463.3 127.6h0M464.6 127.2h0M461.3 124.8h0M465.7 126h0" stroke="#d1959a" stroke-width="0.84" stroke-linecap="round" fill="none"/>
<path d="M474.1 132.7h0M477.3 130.5h0M477.8 134.9h0M475.9 125.4h0M479.5 134.2h0M474.2 136.4h0M467.5 136.4h0M469.2 136.4h0M475.3 132.3h0M474.3 125.6h0M467.4 136.1h0M477.9 132.2h0M472.4 133.1h0M468.6 135.5h0M476.8 126.8h0M478.6 135.6h0M473.9 132.2h0M468.5 137.2h0M473.9 133.7h0M471.8 132.2h0M473.7 134.9h0M472.8 129.5h0M472.2 132.6h0M469.4 133.5h0M475.1 139.9h0M475.5 136.1h0M476.8 126.8h0M475.6 136.9h0M473.5 134.1h0M475.8 130.1h0M472.4 133.9h0M475 137.8h0M471.2 136.8h0M469.5 135.5h0M470.9 134.3h0M474.8 134h0" stroke="#d18d91" stroke-width="0.84" stroke-linecap="round" fill="none"/>
<path d="M461.9 133.9h0M459 131.2h0M461.4 132.4h0M460.5 133h0M457.7 132h0M461.6 133.7h0M458.3 131.5h0M461.6 133.1h0" stroke="#d29fa4" stroke-width="0.84" stroke-linecap="round" fill="none"/>
<path d="M494.4 116.1h0M493.6 115.1h0M492.1 118.7h0M493.3 114.2h0M496.3 114.1h0M497.6 114.7h0M496.7 116.5h0M492.8 114.4h0M498.8 114.6h0M496.8 118.7h0" stroke="#cd7c80" stroke-width="0.84" stroke-linecap="round" fill="none"/>
<line x1="452.3" y1="92.9" x2="452.3" y2="143.5" stroke="#333" stroke-width="0.5"/>
<line x1="452.3" y1="143.5" x2="502.1" y2="143.5" stroke="#333" stroke-width="0.5"/>
<line x1="451.1" y1="95" x2="452.3" y2="95" stroke="#333" stroke-width="0.4"/>
<text x="450.1" y="97.06" font-size="5.8" text-anchor="end" fill="#333">8</text>
<line x1="451.1" y1="107.4" x2="452.3" y2="107.4" stroke="#333" stroke-width="0.4"/>
<text x="450.1" y="109.46" font-size="5.8" text-anchor="end" fill="#333">4</text>
<line x1="451.1" y1="119.6" x2="452.3" y2="119.6" stroke="#333" stroke-width="0.4"/>
<text x="450.1" y="121.66" font-size="5.8" text-anchor="end" fill="#333">0</text>
<line x1="451.1" y1="132.1" x2="452.3" y2="132.1" stroke="#333" stroke-width="0.4"/>
<text x="450.1" y="134.16" font-size="5.8" text-anchor="end" fill="#333">−4</text>
<line x1="457.6" y1="143.5" x2="457.6" y2="144.7" stroke="#333" stroke-width="0.4"/>
<text x="457.6" y="151.76" font-size="5.8" text-anchor="middle" fill="#333">−5</text>
<line x1="470" y1="143.5" x2="470" y2="144.7" stroke="#333" stroke-width="0.4"/>
<text x="470" y="151.76" font-size="5.8" text-anchor="middle" fill="#333">0</text>
<line x1="483.3" y1="143.5" x2="483.3" y2="144.7" stroke="#333" stroke-width="0.4"/>
<text x="483.3" y="151.76" font-size="5.8" text-anchor="middle" fill="#333">5</text>
<line x1="497.1" y1="143.5" x2="497.1" y2="144.7" stroke="#333" stroke-width="0.4"/>
<text x="497.1" y="151.76" font-size="5.8" text-anchor="middle" fill="#333">10</text>
<text transform="translate(438.2 119.2) rotate(-90)" x="0" y="1.99" font-size="5.6" text-anchor="middle" fill="#333">UMAP_2</text>
<text x="477.2" y="89.66" font-size="5.8" text-anchor="middle" font-weight="bold" fill="#222">LY6E</text>
<rect x="504" y="106.9" width="5.5" height="24.8" fill="url(#gc)"/>
<text x="513.4" y="132.69" font-size="5.6" text-anchor="middle" fill="#333">0</text>
<text x="513.4" y="127.26" font-size="5.6" text-anchor="middle" fill="#333">1</text>
<text x="513.4" y="121.83" font-size="5.6" text-anchor="middle" fill="#333">2</text>
<text x="513.4" y="116.4" font-size="5.6" text-anchor="middle" fill="#333">3</text>
<text x="513.4" y="110.97" font-size="5.6" text-anchor="middle" fill="#333">4</text>
<g transform="matrix(0.303 0 0 0.303 535 91.97)"><use href="#uVEGFA" fill="#d4b5ba"/><use href="#uLY6E" fill="#d19297"/><use href="#uVSIR" fill="#d3aeb3"/><use href="#uFOLR2" fill="#d4b5ba"/><use href="#uUBE2B" fill="#d5bcc1"/><use href="#uNEAT1" fill="#d6cad0"/><use href="#uMKI67" fill="#d3a7ac"/></g>
<path d="M565.6 106h0M563.8 107.1h0M562 103.1h0M564.7 106.3h0M564.2 101.7h0M561.3 98.3h0M558.3 99.2h0M560.4 103.1h0M560.4 104.8h0M559.4 98.2h0M562.8 102.8h0M560.6 123.4h0M555.3 131.6h0M560.1 128.2h0M556.4 122.7h0M554.7 127h0M557.8 129.9h0M559.4 123.6h0M553 130.7h0M553.8 132.1h0M559.2 127.5h0M559.8 125.6h0M557.7 124h0M552.5 125.9h0M558.6 131.2h0M556.2 123.7h0M554.7 131.2h0M560.4 121.9h0M557.4 132.8h0M552.9 131.6h0M556.5 124.2h0M552.7 124.4h0M559.7 127.3h0M557.5 123.8h0M560.1 126.9h0M558.5 128.6h0M557.2 132.4h0M555.2 125.5h0M558.5 125.3h0M566 128.9h0M568.7 135.9h0M565.5 125.4h0M562.4 128.1h0M563.1 127.8h0M564.8 137.8h0M560.9 126.4h0M565.6 130.6h0M562.3 126.2h0M563.7 131.1h0M565.6 130.3h0M558.5 136.8h0M566.9 128.7h0M563.8 138.7h0M561.5 129.1h0M566.8 138.8h0M568.4 133.7h0M563.2 136.3h0M562.5 129.5h0M566.9 134.7h0M563.2 132.8h0M565.6 130h0M566.6 134.2h0M564.8 133.6h0M563.2 131.8h0M563.1 134.2h0M562.7 126.3h0M564.8 132.7h0M563.5 132.4h0M549.3 132.2h0M551 132.4h0M549.3 131.4h0M548.9 132.1h0M550 131.7h0M548 129.9h0M549.8 131.3h0M548.9 132.9h0M551.8 132.7h0M551.1 131.6h0M550.5 133.2h0M552.4 134h0" stroke="#d7d8de" stroke-width="0.84" stroke-linecap="round" fill="none"/>
<path d="M559.6 110.6h0M561.8 118.6h0M556.7 111.2h0M556.1 114.7h0M555.1 120.1h0M564.5 109.3h0M562 121h0M555.6 119.7h0M568.7 111.7h0M565.3 116.8h0M568.2 113h0M563.4 109.4h0M567.7 112.6h0M560.1 111.3h0M556.4 118.3h0M556.6 112.6h0M557.8 112.7h0M558.4 108.9h0M555.2 109.7h0M564.1 113.2h0M561.8 116.7h0M559.5 120.6h0M552.7 117.2h0M559.7 119.1h0M569.7 110.9h0M565 110.3h0M565 118h0M560.4 114.5h0" stroke="#d5bbc1" stroke-width="0.84" stroke-linecap="round" fill="none"/>
<path d="M553.5 120.5h0M550.5 124.5h0M548.1 121.9h0M549.7 113.4h0M548.5 123.2h0M552.9 119.8h0M550.2 122.6h0M552.1 113.7h0M549.5 122.8h0M548.5 125h0M550.8 113h0M547.3 123.7h0M550.4 124.1h0M551.7 113h0M551.8 114h0M551.9 111h0M550 125.4h0M549.3 123.2h0M547.2 124h0M551.5 119.1h0M552.4 114.4h0M552.7 114.8h0" stroke="#d7d7dd" stroke-width="0.84" stroke-linecap="round" fill="none"/>
<path d="M580.9 113.9h0M582.6 115.9h0M588.3 116.8h0M585.3 114.6h0M587.6 112.1h0M587.6 113.7h0M580.8 116.6h0" stroke="#d6d0d6" stroke-width="0.84" stroke-linecap="round" fill="none"/>
<path d="M559.6 107.1h0M561.3 100.1h0M564.4 105h0M559.6 98.4h0M562 101.3h0M558.1 106.1h0M559.6 103.5h0M562.8 107.8h0M563.4 106.9h0M559.5 128.4h0M554 123.1h0M552.5 130.4h0M558 122.8h0M557 128.8h0M555.3 128.6h0M555.4 131.9h0M552.1 130.2h0M560.7 123.1h0M554.1 126.6h0M558.2 124.5h0M553.5 126.7h0M559.2 130.7h0M557.7 121.7h0M557.4 120.7h0M556 122.7h0M556.8 123.7h0M555.4 125.8h0M558 125.7h0M554.8 126h0M560.4 123.6h0M558.4 132.1h0M555.6 122.4h0M556.2 133h0M558 124h0M556.4 123.2h0M556.5 128h0M559.2 123.3h0M559.6 126.2h0M557 131.4h0M559.4 122h0M555.9 124.3h0" stroke="#d19195" stroke-width="0.84" stroke-linecap="round" fill="none"/>
<path d="M567.9 107.3h0M566.5 115.9h0M560.6 114.4h0M566.7 113.1h0M555.6 120.7h0M560.2 113.5h0M565.3 111.1h0M566.4 112.6h0M565 115.2h0M560.2 112.1h0M566 106.4h0M564.2 108.8h0M553.2 118.2h0M564.4 117.3h0M558.1 111.9h0M565.4 109.8h0M563.2 112.8h0M563.1 116h0M565.3 114.4h0M560.8 113.1h0M556.3 116h0M560.6 119.8h0M569.1 111.4h0M556 116.5h0M555.6 115.1h0M561.9 113.8h0M559 119.8h0M555.4 114h0M555 120.2h0M554.7 113.3h0M562.3 109.9h0M560 116.6h0" stroke="#c86d72" stroke-width="0.84" stroke-linecap="round" fill="none"/>
<path d="M550.1 118h0M551.9 115.6h0M553.8 111.4h0M552.7 109h0M547.3 123.1h0M550.1 116.6h0M548.7 120.5h0M551.9 111.1h0M550.9 120.7h0M548.4 118.1h0M550.7 122.6h0M549.2 111.4h0M547.4 123.7h0M548.7 120.2h0M552.1 111.2h0M547.3 122.8h0M550.1 118.2h0M551.6 119.7h0M546.3 119.8h0M547.7 119.7h0M545.4 121.4h0M548.1 116.3h0M553.8 122.4h0M552.2 109h0M553 122.3h0M549.5 112.8h0M549.6 121.7h0M550.5 118.8h0M548.1 114.5h0M547 120.7h0M550.3 112.7h0M549.2 120.3h0M549.8 119.9h0M550.7 124.9h0M553.9 112.3h0M553 120.1h0M550 116.1h0M549.2 122.7h0" stroke="#d08a8e" stroke-width="0.84" stroke-linecap="round" fill="none"/>
<path d="M565.6 134.7h0M568.3 131.6h0M568.8 134.5h0M562.6 134.8h0M566.8 129.7h0M561.8 127h0M570.2 135.3h0M568.3 133.6h0M563.1 136.6h0M566.5 136.5h0M564 129.2h0M568.7 134.6h0M562.4 135.8h0M564.6 139.2h0M565.9 138h0M560 133.6h0M565.2 135.8h0M564.7 134h0M559.3 134.4h0M562.7 135.2h0M568.2 134.2h0M561.6 133.2h0M563 126.1h0M566.5 138.8h0M568.5 135.2h0M564.9 132.9h0M561.7 131.2h0M564.8 130h0M562.1 132.5h0M561.7 128.9h0M562.2 134.6h0" stroke="#d2989c" stroke-width="0.84" stroke-linecap="round" fill="none"/>
<path d="M547.5 130.9h0M548.1 131.2h0M547.7 132h0M550.9 133.2h0M551.1 133.3h0M548 131.6h0M552.1 132.3h0M548.7 132.9h0" stroke="#d3a6ab" stroke-width="0.84" stroke-linecap="round" fill="none"/>
<path d="M587.4 117.2h0M586.4 116h0M587.7 112.6h0M586.7 114.8h0M583.7 116.4h0M586 117.4h0M585.1 113.6h0M585.6 117h0M587 118h0M580.7 114h0M586.1 116.2h0M586 115h0M585.7 114.1h0" stroke="#cf8387" stroke-width="0.84" stroke-linecap="round" fill="none"/>
<line x1="542.4" y1="92.9" x2="542.4" y2="143.5" stroke="#333" stroke-width="0.5"/>
<line x1="542.4" y1="143.5" x2="592.2" y2="143.5" stroke="#333" stroke-width="0.5"/>
<line x1="541.2" y1="95" x2="542.4" y2="95" stroke="#333" stroke-width="0.4"/>
<text x="540.2" y="97.06" font-size="5.8" text-anchor="end" fill="#333">8</text>
<line x1="541.2" y1="107.4" x2="542.4" y2="107.4" stroke="#333" stroke-width="0.4"/>
<text x="540.2" y="109.46" font-size="5.8" text-anchor="end" fill="#333">4</text>
<line x1="541.2" y1="119.6" x2="542.4" y2="119.6" stroke="#333" stroke-width="0.4"/>
<text x="540.2" y="121.66" font-size="5.8" text-anchor="end" fill="#333">0</text>
<line x1="541.2" y1="132.1" x2="542.4" y2="132.1" stroke="#333" stroke-width="0.4"/>
<text x="540.2" y="134.16" font-size="5.8" text-anchor="end" fill="#333">−4</text>
<line x1="547.7" y1="143.5" x2="547.7" y2="144.7" stroke="#333" stroke-width="0.4"/>
<text x="547.7" y="151.76" font-size="5.8" text-anchor="middle" fill="#333">−5</text>
<line x1="560.1" y1="143.5" x2="560.1" y2="144.7" stroke="#333" stroke-width="0.4"/>
<text x="560.1" y="151.76" font-size="5.8" text-anchor="middle" fill="#333">0</text>
<line x1="573.4" y1="143.5" x2="573.4" y2="144.7" stroke="#333" stroke-width="0.4"/>
<text x="573.4" y="151.76" font-size="5.8" text-anchor="middle" fill="#333">5</text>
<line x1="587.2" y1="143.5" x2="587.2" y2="144.7" stroke="#333" stroke-width="0.4"/>
<text x="587.2" y="151.76" font-size="5.8" text-anchor="middle" fill="#333">10</text>
<text transform="translate(528.3 119.2) rotate(-90)" x="0" y="1.99" font-size="5.6" text-anchor="middle" fill="#333">UMAP_2</text>
<text x="567.3" y="89.66" font-size="5.8" text-anchor="middle" font-weight="bold" fill="#222">TREM2</text>
<rect x="594.1" y="106.9" width="5.5" height="24.8" fill="url(#gc)"/>
<text x="603.5" y="132.69" font-size="5.6" text-anchor="middle" fill="#333">0</text>
<text x="603.5" y="127.26" font-size="5.6" text-anchor="middle" fill="#333">1</text>
<text x="603.5" y="121.83" font-size="5.6" text-anchor="middle" fill="#333">2</text>
<text x="603.5" y="116.4" font-size="5.6" text-anchor="middle" fill="#333">3</text>
<text x="603.5" y="110.97" font-size="5.6" text-anchor="middle" fill="#333">4</text>
<g transform="matrix(0.303 0 0 0.303 622.4 91.97)"><use href="#uVEGFA" fill="#d7d2d8"/><use href="#uLY6E" fill="#d6c7cd"/><use href="#uVSIR" fill="#d4b5ba"/><use href="#uFOLR2" fill="#d0878b"/><use href="#uUBE2B" fill="#d6cdd3"/><use href="#uNEAT1" fill="#d5c3c9"/><use href="#uMKI67" fill="#d6c7cd"/></g>
<path d="M648.2 97.6h0M650.3 105.2h0M650.8 101.2h0M645.7 98.8h0M650.8 103.1h0M647.6 99.8h0M648.2 101.6h0M651.8 106.1h0M650 104.1h0M641.1 118.4h0M641 118.3h0M654.1 111.1h0M646.9 112.4h0M649.4 114.7h0M647.5 111.3h0M642.3 119.5h0M650.7 113.5h0M650.4 115.5h0M647.1 109.6h0M652 118.5h0M644.4 107.6h0M644.8 110.4h0M652.8 111.5h0M649.2 111.1h0M642.8 114.6h0M642.8 116.5h0M649.7 110.5h0M640.9 116.9h0M649.1 119.9h0M648.9 112.6h0M648.1 110.7h0M650.6 120.5h0M645.2 111.6h0M643.5 109.3h0M651.1 118.3h0M647.4 113.6h0M650.6 115h0M651.8 118.7h0M651.4 119.4h0M654.7 106.9h0M644.6 115.3h0M648.4 120.1h0M648.3 120.7h0M642.6 117.6h0M637.6 123.5h0M637.7 112h0M637.9 111.6h0M638.6 117.9h0M635.3 123.4h0M635.1 118.2h0M637.9 114.6h0M638.8 117h0M639.8 113.8h0M639 111.4h0M637.3 123.7h0M636.9 123.4h0M638.4 118.4h0M638.1 115.6h0M639 118.5h0M640 109.1h0M633.7 122.6h0M637.4 115.5h0M633.1 123h0M637.1 111.5h0M633.6 119.7h0M638.8 119h0M639.9 111.8h0M641.1 110.7h0M640 110.9h0M637.1 111.9h0M639.6 114.6h0M635.2 119.1h0M655.6 131.5h0M652.1 127.1h0M654.3 129.6h0M657.3 134.2h0M653.1 132.1h0M655.8 132.4h0M652 139.6h0M648.7 135h0M653.5 127.9h0M648.7 127.3h0M655.6 131.2h0M649.5 135.9h0M650.9 126.3h0M648.6 134.7h0M648.5 136.2h0M646 136.4h0M654.3 127.3h0M655 133.4h0M651.4 133.6h0M654 125.8h0M654.6 134.4h0M650.4 130.3h0M657.2 135.8h0M652.2 136.5h0M652 138.3h0M656.2 133.6h0M650.6 128.5h0M657.1 135.4h0M648.1 127.3h0M655.4 133.3h0M651.1 130.6h0M648 128.4h0M635.5 131.3h0M638 131.4h0M639.2 133.6h0M634.7 130.2h0M639.6 133.1h0M636.8 131.7h0M639.6 134.1h0M638 130.9h0M635.7 130.4h0M637.5 132.4h0M668.5 117.3h0M669 114.9h0M669.9 114.9h0M671.6 114.2h0M670.3 114.9h0M674.1 112.4h0M675.8 115.4h0M670.6 113.9h0M669.3 117.1h0M668.1 116.6h0" stroke="#d7d8de" stroke-width="0.84" stroke-linecap="round" fill="none"/>
<path d="M645.3 126.4h0M643.3 125.4h0M646.5 121.4h0M643.6 130.4h0M645.6 127.5h0M644.7 129.4h0M638.1 127h0M641.9 132.3h0M644.1 132.2h0M643.7 130.8h0M641 129.6h0M646.9 131h0M643.3 125.7h0M641.1 130.8h0M645.4 125h0M643.3 122.7h0M644.1 127.6h0M642 124.2h0M647.1 122.9h0M644.5 127.1h0M640.2 126.9h0M641 129.6h0M644.6 131.1h0M638.3 128.2h0M645 120h0M643.7 122.5h0M638.3 128.7h0M644.3 124.4h0M647 121.4h0M646.1 121.5h0" stroke="#d4b0b5" stroke-width="0.84" stroke-linecap="round" fill="none"/>
<path d="M644.7 100.3h0M650.8 101.1h0M648 100.7h0M651 101.4h0M648.9 105.1h0M645.7 105.1h0M647.8 103.8h0M648.3 107.9h0M650.9 100h0M646.7 105.7h0M648 99.3h0" stroke="#d3aeb3" stroke-width="0.84" stroke-linecap="round" fill="none"/>
<path d="M647.2 117.8h0M655.3 114.2h0M655.4 115.6h0M650.1 113h0M650.1 120h0M645 108.6h0M645.4 113.6h0M641.1 117.8h0M653.3 114.3h0M641.6 113.8h0M649.1 122.7h0M655.8 108.9h0M651.3 116h0M642.4 112h0M644 116.2h0M643.8 108.5h0M650.9 109.4h0M644.2 107.9h0M648.9 121.7h0M651.7 110.5h0M647.4 111h0M647.6 108.9h0M644.2 118.9h0M651.4 120.2h0M645.6 118h0M669.1 113.8h0M670.2 114.2h0M668.7 115.3h0M675.7 112.9h0M670 113.9h0M674.6 115h0M674.9 113.1h0M669.3 114.9h0M675.3 112.3h0M670 113.5h0" stroke="#d2a3a8" stroke-width="0.84" stroke-linecap="round" fill="none"/>
<path d="M639.3 116h0M640.6 114.5h0M637.7 125.1h0M638 122.6h0M634.2 123.5h0M639.5 113.3h0M636.1 116.8h0M638.7 114.4h0M637.2 124.8h0M635.6 121.6h0M634.9 116.7h0M641.1 113.3h0M638.2 124.9h0M640.8 121.6h0M634.4 118.9h0M637.8 117.4h0M634.9 123.9h0M635.7 120.3h0M635.6 112.5h0M635.2 121.1h0M636.9 119.8h0M638.6 117.3h0M639.6 118h0M639.4 116.5h0M639.4 110.2h0M639.8 120.4h0M636.1 114.4h0M639.1 114.6h0M640.3 112.2h0M637.4 112.2h0M640.3 114.3h0M636 117.4h0" stroke="#d19195" stroke-width="0.84" stroke-linecap="round" fill="none"/>
<path d="M639.1 127.4h0M638.6 128.5h0M643.6 126.8h0M640.7 128.3h0M639.6 126.9h0M643.5 122.6h0M646.4 127.5h0M641.6 128.5h0M647.6 126.8h0M643.8 126.9h0M640.5 126.2h0M645.1 128.2h0M639.8 127.1h0M647.6 127.3h0M647.8 123.8h0M646.1 120.3h0M639.5 126.8h0M643.6 121.9h0M646.3 123.4h0M646.7 127.7h0M641.6 124.8h0M639.5 129.3h0M645.2 131.6h0M645.7 123.6h0M641.3 130.8h0M646.4 132.5h0M641.3 129.1h0M646.8 128h0M645.7 131.9h0M640.6 128.2h0" stroke="#c46167" stroke-width="0.84" stroke-linecap="round" fill="none"/>
<path d="M647.7 137.7h0M654.1 137.3h0M650.9 138.7h0M646.4 134.3h0M649.9 138.1h0M654.1 133.9h0M656.1 133.3h0M652.2 135.3h0M649.5 133.4h0M657.3 133.1h0M650.2 138.2h0M648.7 137.2h0M653.7 137.4h0M656.1 135h0M652.4 134.1h0M647.8 135.6h0M651.2 126.2h0M644.9 136.6h0M649.4 137.8h0M651.1 137.3h0M652.4 138.6h0M648.3 135.1h0M652 131.8h0M652.9 137.7h0M649.5 127h0M656.5 135.8h0M651.7 125.3h0M650.6 135.8h0" stroke="#d3a9ae" stroke-width="0.84" stroke-linecap="round" fill="none"/>
<path d="M637.2 131.2h0M635.5 132.1h0M637 133.5h0M637 133.2h0M636.9 131.1h0M636 130.7h0M637.5 130.6h0M637.3 133.2h0M639.8 132.5h0M636.7 133.4h0" stroke="#d29fa4" stroke-width="0.84" stroke-linecap="round" fill="none"/>
<line x1="629.8" y1="92.9" x2="629.8" y2="143.5" stroke="#333" stroke-width="0.5"/>
<line x1="629.8" y1="143.5" x2="679.6" y2="143.5" stroke="#333" stroke-width="0.5"/>
<line x1="628.6" y1="95" x2="629.8" y2="95" stroke="#333" stroke-width="0.4"/>
<text x="627.6" y="97.06" font-size="5.8" text-anchor="end" fill="#333">8</text>
<line x1="628.6" y1="107.4" x2="629.8" y2="107.4" stroke="#333" stroke-width="0.4"/>
<text x="627.6" y="109.46" font-size="5.8" text-anchor="end" fill="#333">4</text>
<line x1="628.6" y1="119.6" x2="629.8" y2="119.6" stroke="#333" stroke-width="0.4"/>
<text x="627.6" y="121.66" font-size="5.8" text-anchor="end" fill="#333">0</text>
<line x1="628.6" y1="132.1" x2="629.8" y2="132.1" stroke="#333" stroke-width="0.4"/>
<text x="627.6" y="134.16" font-size="5.8" text-anchor="end" fill="#333">−4</text>
<line x1="635.1" y1="143.5" x2="635.1" y2="144.7" stroke="#333" stroke-width="0.4"/>
<text x="635.1" y="151.76" font-size="5.8" text-anchor="middle" fill="#333">−5</text>
<line x1="647.5" y1="143.5" x2="647.5" y2="144.7" stroke="#333" stroke-width="0.4"/>
<text x="647.5" y="151.76" font-size="5.8" text-anchor="middle" fill="#333">0</text>
<line x1="660.8" y1="143.5" x2="660.8" y2="144.7" stroke="#333" stroke-width="0.4"/>
<text x="660.8" y="151.76" font-size="5.8" text-anchor="middle" fill="#333">5</text>
<line x1="674.6" y1="143.5" x2="674.6" y2="144.7" stroke="#333" stroke-width="0.4"/>
<text x="674.6" y="151.76" font-size="5.8" text-anchor="middle" fill="#333">10</text>
<text transform="translate(615.7 119.2) rotate(-90)" x="0" y="1.99" font-size="5.6" text-anchor="middle" fill="#333">UMAP_2</text>
<text x="654.7" y="89.66" font-size="5.8" text-anchor="middle" font-weight="bold" fill="#222">FOLR2</text>
<g transform="matrix(0.303 0 0 0.303 444.9 161.47)"><use href="#uVEGFA" fill="#d3a7ac"/><use href="#uLY6E" fill="#d08b8f"/><use href="#uVSIR" fill="#d6d0d5"/><use href="#uFOLR2" fill="#d6d0d5"/><use href="#uUBE2B" fill="#d5bfc4"/><use href="#uNEAT1" fill="#d6d1d7"/><use href="#uMKI67" fill="#d3a7ac"/></g>
<path d="M471.2 171.4h0M471.5 168.3h0M468.4 175.2h0M469.7 175.6h0M468.6 171.2h0M473.9 171.1h0M472.7 176h0M469 168.9h0M470.4 176.2h0M467.8 172h0M471.7 177.8h0M475.3 176.1h0M471.2 170h0M469.7 171h0M490 183.2h0M492.9 187.3h0M492.3 186.4h0M490.2 187.6h0M493.7 183.4h0M494.7 186.7h0M498.3 183.4h0M496.5 183.4h0M497.7 188.9h0M495.3 186.3h0M496.3 182h0M491.1 184.9h0M498.6 184.3h0M495.3 185.2h0" stroke="#d6d0d6" stroke-width="0.84" stroke-linecap="round" fill="none"/>
<path d="M468.3 182.1h0M467.6 180.4h0M471 184.2h0M472.2 180.9h0M471.2 180.3h0M473.1 179.4h0M466.2 180.5h0M473.4 189.3h0M472.4 179.3h0M470.6 180.3h0M475.9 185.4h0M479 183.5h0M472.2 189.4h0M476.5 183.4h0M474.2 185.8h0M470.1 180.5h0M464.4 181.5h0M466.8 189.1h0M479.3 181.7h0M465.4 189.6h0M473.2 189.9h0M477.4 181.4h0M471.7 182.4h0M475.5 185.1h0M470.8 183.3h0M477.4 185.1h0M469 184.9h0M467.5 178h0M478.6 178.3h0M477.5 179.9h0M462.7 189h0M472.6 181.1h0M472.6 190.8h0M465.6 179.9h0M464.1 185.7h0M474.2 181.2h0" stroke="#d4b4b9" stroke-width="0.84" stroke-linecap="round" fill="none"/>
<path d="M458.8 183.6h0M462.7 182.9h0M460.4 181.8h0M460.2 181.9h0M461.9 181.9h0M461.5 180.8h0M460.4 190.2h0M459.6 181.5h0M462.7 193h0M462.4 180.2h0M458.3 190.8h0M462.2 182.5h0M462.4 189h0M460.5 188.3h0M457.4 188.4h0M459 188.1h0M461.9 185.7h0M461.9 183.4h0M455.9 191.5h0M459.4 185.8h0M458 192h0M460.5 193.7h0M461.9 178.7h0M457.9 184.5h0M459.5 184.1h0M461.9 184.8h0M460.8 193.3h0M456.3 188.6h0M459.3 180.8h0M462.9 180.9h0M462.2 183h0M460.9 181.5h0M462.7 183.9h0M463.3 180.7h0M468.1 196.1h0M463.4 196h0M468.5 198.6h0M463.7 201.6h0M464.7 193.1h0M467.2 191.8h0M463.8 194h0M468.2 191.2h0M461.9 196.5h0M464 192.2h0M468.5 201.9h0M466.1 193.6h0M468.8 198h0M465.6 197h0M465.7 191.1h0M468.5 199h0M462.7 196.2h0M466.3 191.2h0M466.6 194.6h0M472.8 194.9h0M468 207.2h0M475.1 206.8h0M475.4 200.4h0M476.5 200.6h0M476.5 196.3h0M475.7 195h0M474.1 203.6h0M469.9 207h0M474.8 199.2h0M473.9 202.6h0M475.8 207.9h0M478.5 202.4h0M472.5 197.5h0M474.9 203.9h0M470.8 206.2h0M470.2 207.2h0M470.4 197.9h0M475.7 196.9h0M474.7 206.2h0M474.9 196.4h0M471.4 205.4h0M477.9 200.7h0M474.2 199.9h0M469.8 204.3h0M476.3 201h0M471.7 199.8h0M476.8 204h0M476.9 204.9h0M472.2 197.7h0M476.1 195.4h0M468.3 208h0M462 203.2h0M461.7 202.7h0M461.9 201.7h0M461.8 203.6h0M459.7 201.9h0M460.2 202.9h0M459.9 201.5h0M457.8 201.9h0" stroke="#d7d8de" stroke-width="0.84" stroke-linecap="round" fill="none"/>
<path d="M467.1 170.1h0M467.1 169.4h0M474.4 172.2h0M471.2 168.2h0M471.8 177.4h0M467.9 172.1h0M490.6 187.5h0M491.6 188.2h0M493.5 187h0M494.2 184.8h0M497.5 185.6h0M495.6 184.2h0" stroke="#cf8387" stroke-width="0.84" stroke-linecap="round" fill="none"/>
<path d="M466.5 179.1h0M475 179.8h0M466.3 177.5h0M479.9 184.1h0M466.9 188.5h0M470.4 184.6h0M467.6 187.2h0M466.9 182.1h0M467.2 178.3h0M474.1 178.5h0M478.1 184.2h0M464.9 189.3h0M472.4 182.7h0M472 179.6h0M470 186.6h0M462.8 185.9h0M469.5 183.6h0M467.7 180.3h0M467.2 185h0M467.9 184.5h0M477.5 181.3h0M469.2 180h0M469.9 177.8h0M465.6 179.1h0" stroke="#c6656b" stroke-width="0.84" stroke-linecap="round" fill="none"/>
<path d="M461.7 182h0M461 183.4h0M461.4 180h0M457.1 187.4h0M462.2 191.8h0M459.9 193.3h0M455.2 190.7h0M458.1 193.2h0M459.2 189.1h0M459.4 187.8h0M459.7 193.7h0M461 182.8h0M461 182.9h0M457.9 188.9h0M455.4 191.1h0M459.1 181.7h0M462.2 183.6h0M458 187.8h0M463.5 190.3h0M461.1 189.1h0M461.7 184.2h0M460.7 184.7h0M463.1 178.1h0M461.4 181.9h0M461.4 183.7h0M459 186.3h0M469.5 197.7h0M469.1 199.9h0M464.3 199h0M468.4 190.1h0M461.4 196.1h0M470.4 196.4h0M467.1 200.2h0M465.8 197.2h0M466.4 196.5h0M464.7 200.6h0M467 201.4h0M462.1 199.2h0M467.1 196.1h0M467 202.6h0M467 196.2h0M468.7 198h0M465 197.1h0M466.3 194h0M467.4 193.2h0M462.2 199.3h0M462.7 195.5h0M468.1 192.1h0M462.4 195.7h0M464 201.6h0M468.4 191.7h0M464.4 194.7h0M467.2 192h0M467 195.6h0M462.7 198.9h0M461.6 195.8h0M462.7 198.1h0M463.7 201.7h0M464.4 202h0M462.9 194.4h0M463.9 198.4h0M466.1 194.8h0M470.7 192.5h0M468.5 197.3h0M466.9 197.9h0M463.1 195.5h0M469.1 200h0" stroke="#d3acb0" stroke-width="0.84" stroke-linecap="round" fill="none"/>
<path d="M477.4 206.3h0M475 201.8h0M470.6 204h0M472.9 199h0M473 195.9h0M471.6 205.9h0M479.2 202.6h0M475.3 199h0M479.6 204.7h0M476.7 195.3h0M474.5 207.6h0M471.9 201.9h0M480 203.9h0M472.6 203.1h0M476.9 203h0M476.2 195.1h0M467.9 205.3h0M476.2 196.4h0M471.4 201.1h0M472.8 200.4h0M473.7 203.4h0M470.5 205.4h0M472.4 205.5h0M478.2 203.6h0M472.3 195.8h0M468.4 205.2h0M473.1 199.1h0M475.1 208.9h0" stroke="#d29b9f" stroke-width="0.84" stroke-linecap="round" fill="none"/>
<path d="M461 201h0M461.6 203.6h0M458.2 202.4h0M458.3 200.7h0M457.5 200.5h0M459.3 201.4h0M460.3 203.1h0M459.1 201.8h0M458.5 201.1h0M458.3 199.6h0M461.4 201.5h0M459.4 202.1h0" stroke="#d3adb2" stroke-width="0.84" stroke-linecap="round" fill="none"/>
<line x1="452.3" y1="162.4" x2="452.3" y2="213" stroke="#333" stroke-width="0.5"/>
<line x1="452.3" y1="213" x2="502.1" y2="213" stroke="#333" stroke-width="0.5"/>
<line x1="451.1" y1="164.5" x2="452.3" y2="164.5" stroke="#333" stroke-width="0.4"/>
<text x="450.1" y="166.56" font-size="5.8" text-anchor="end" fill="#333">8</text>
<line x1="451.1" y1="176.9" x2="452.3" y2="176.9" stroke="#333" stroke-width="0.4"/>
<text x="450.1" y="178.96" font-size="5.8" text-anchor="end" fill="#333">4</text>
<line x1="451.1" y1="189.1" x2="452.3" y2="189.1" stroke="#333" stroke-width="0.4"/>
<text x="450.1" y="191.16" font-size="5.8" text-anchor="end" fill="#333">0</text>
<line x1="451.1" y1="201.6" x2="452.3" y2="201.6" stroke="#333" stroke-width="0.4"/>
<text x="450.1" y="203.66" font-size="5.8" text-anchor="end" fill="#333">−4</text>
<line x1="457.6" y1="213" x2="457.6" y2="214.2" stroke="#333" stroke-width="0.4"/>
<text x="457.6" y="221.26" font-size="5.8" text-anchor="middle" fill="#333">−5</text>
<line x1="470" y1="213" x2="470" y2="214.2" stroke="#333" stroke-width="0.4"/>
<text x="470" y="221.26" font-size="5.8" text-anchor="middle" fill="#333">0</text>
<line x1="483.3" y1="213" x2="483.3" y2="214.2" stroke="#333" stroke-width="0.4"/>
<text x="483.3" y="221.26" font-size="5.8" text-anchor="middle" fill="#333">5</text>
<line x1="497.1" y1="213" x2="497.1" y2="214.2" stroke="#333" stroke-width="0.4"/>
<text x="497.1" y="221.26" font-size="5.8" text-anchor="middle" fill="#333">10</text>
<text transform="translate(438.2 188.7) rotate(-90)" x="0" y="1.99" font-size="5.6" text-anchor="middle" fill="#333">UMAP_2</text>
<text x="477.2" y="159.16" font-size="5.8" text-anchor="middle" font-weight="bold" fill="#222">SPP1</text>
<rect x="504" y="176.4" width="5.5" height="24.8" fill="url(#gc)"/>
<text x="513.4" y="202.19" font-size="5.6" text-anchor="middle" fill="#333">0</text>
<text x="513.4" y="196.49" font-size="5.6" text-anchor="middle" fill="#333">2</text>
<text x="513.4" y="190.79" font-size="5.6" text-anchor="middle" fill="#333">4</text>
<text x="513.4" y="185.09" font-size="5.6" text-anchor="middle" fill="#333">6</text>
<text x="513.4" y="179.39" font-size="5.6" text-anchor="middle" fill="#333">8</text>
<g transform="matrix(0.303 0 0 0.303 535 161.47)"><use href="#uVEGFA" fill="#d3aeb3"/><use href="#uLY6E" fill="#d2999e"/><use href="#uVSIR" fill="#d3aeb3"/><use href="#uFOLR2" fill="#d4b1b6"/><use href="#uUBE2B" fill="#d4b9bf"/><use href="#uNEAT1" fill="#d4b5ba"/><use href="#uMKI67" fill="#d3a7ac"/></g>
<path d="M561.5 167.8h0M562.5 168.4h0M561.8 167.9h0M564.1 171.7h0M558.5 176.4h0M562.2 174.8h0M564.2 175.8h0M559.2 173.2h0M561.9 172.2h0M550.9 182.9h0M548.3 185.6h0M548.5 187.4h0M552.1 190.6h0M552.5 189.6h0M552.7 183.7h0M546.2 190.4h0M547.3 191.9h0M550.1 181.7h0M553.8 191h0M547.8 182.2h0M547.2 193.3h0M546.4 190.2h0M554.4 191.7h0M548.9 187.6h0M551.1 183.3h0M548.3 182.1h0M549.8 188h0M547.7 188h0M548 188.3h0M552 188h0M548.5 189.8h0M550.2 192.9h0M548.9 188.6h0M548.3 193.3h0M553.2 182.3h0M552.5 179.4h0M548 183.9h0" stroke="#d7d7dd" stroke-width="0.84" stroke-linecap="round" fill="none"/>
<path d="M560.4 183.3h0M561.4 184.1h0M566.1 186.6h0M554.5 187.1h0M562 187.4h0M557.8 178h0M559.5 185.5h0M569.3 182.9h0M566.9 183.6h0M567.1 185.8h0M564.3 187.8h0M566.3 179.5h0M556.6 183h0M555.8 184.1h0M556.3 183.8h0M552.9 188.8h0M563.2 188.6h0M566.3 174.2h0M558.8 184.4h0M562.5 178.7h0M556 178.3h0M557.1 181.1h0M559.8 182.7h0M556.8 184.5h0M566.9 184h0M560.3 179.2h0M568.6 181.9h0M553.9 183.8h0M563.9 187.2h0M562 184.9h0M560 186.4h0M560.2 180.2h0M567 179.1h0M564.3 186.4h0M560.2 183.3h0M556.3 179.1h0M559.3 178.7h0" stroke="#d5c2c8" stroke-width="0.84" stroke-linecap="round" fill="none"/>
<path d="M555.8 201.3h0M558 197.3h0M559.6 193.4h0M556.3 201.9h0M559 199.2h0M554.7 197.1h0M559.7 192.6h0M556.7 198.2h0M560.7 193.9h0M560.1 191.6h0M556.2 199.4h0M553.4 195.7h0M555.8 202.1h0M560.6 193.1h0M554 199.3h0M557.3 202.3h0M553.8 192.8h0M558.6 192.1h0M555.8 192.7h0M558 193.8h0M552.9 196.3h0M553.9 195h0M557.4 202.3h0M551.3 198.5h0M553.7 198.6h0M554.8 191.5h0M557.6 199.2h0M560.4 196h0M559.3 200.2h0M556.7 200.8h0M556.5 198.9h0M554.7 192.5h0M558.8 190.8h0M566.6 196.9h0M567.1 199.5h0M565.1 206.2h0M567.9 200.4h0M559.8 204.3h0M565.8 204.3h0M561.9 199.5h0M562 203.2h0M563.5 201.4h0M563.3 206.2h0M560.6 200.3h0M562.4 206.1h0M568.6 205.5h0M568.8 202.6h0M569.8 204.8h0M557.4 206.8h0M562.5 197.6h0M566 202.9h0M557.7 206.5h0M567.9 204.2h0M551.3 202.2h0M550.3 201.7h0M549.8 200h0M552.1 202.4h0M549.3 201.7h0M548 201.9h0M550.5 203.3h0M551 201.2h0M551.7 202.1h0M550.1 202.1h0M549.5 200.3h0M548.3 202.1h0" stroke="#d7d8de" stroke-width="0.84" stroke-linecap="round" fill="none"/>
<path d="M578.6 188.5h0M581.3 183.8h0M585.4 183.7h0M582.2 188.1h0M587.5 185.7h0M582.6 184.5h0M586.5 184.6h0M583 185.7h0M584.3 183.3h0M588.2 183.9h0" stroke="#d6d0d6" stroke-width="0.84" stroke-linecap="round" fill="none"/>
<path d="M559.8 168.5h0M562.6 170.2h0M559.3 172.8h0M563.5 174h0M562.8 174.9h0M559.9 170.3h0M560.3 173.1h0M563.3 176.4h0M558.8 168.9h0M562.6 168.2h0M560 176.8h0M553.6 180.7h0M547.5 188.1h0M549 183h0M551.9 180.1h0M550.4 190.6h0M549.3 194.2h0M548.9 184.3h0M549.2 182h0M548.9 186.2h0M550.8 189.3h0M550.7 188.9h0M545.8 191.5h0M549.4 187.9h0M552.6 193.1h0M546.6 193.1h0M551.6 190h0M552.2 189.5h0M550 182.2h0M553.2 178.7h0M554.2 180.8h0M550.8 182.6h0M552.3 189.6h0M551.9 190.3h0M549.7 184.7h0M552.5 185h0M551.6 190.6h0M553.4 192.5h0M553.3 192.5h0M549.3 191h0M550.1 189.8h0M546.5 191h0M553.3 182.4h0" stroke="#d08a8e" stroke-width="0.84" stroke-linecap="round" fill="none"/>
<path d="M553.9 182.4h0M569.5 181.6h0M560.5 184h0M568.9 179.9h0M558.6 182h0M559 180.4h0M559.2 188.7h0M562 181.6h0M562.4 180.8h0M568.2 182.7h0M552.5 186.3h0M567.2 176.4h0M553.5 184.4h0M566.5 178.4h0M557.7 180.6h0M564.5 188.2h0M562.6 185.3h0M559 179h0M560.9 186.3h0M565.4 180.5h0M557.7 186.4h0M565.7 174.4h0M561.5 178.8h0" stroke="#ca7479" stroke-width="0.84" stroke-linecap="round" fill="none"/>
<path d="M554.5 201.4h0M555.4 200.6h0M556.8 192.8h0M559.3 197.5h0M557.3 202.3h0M555.2 192.6h0M557.9 195.3h0M555.2 197.7h0M560 191.4h0M554.5 198.8h0M560.3 193.5h0M555.6 202.5h0M560.3 195.2h0M556.6 199.9h0M551.9 198.9h0M558.1 196.2h0M552.1 196h0M559.8 195.4h0M553.1 195.7h0M560.8 195.7h0M554.3 201.7h0M559.8 196.5h0M559 191h0M557.7 189.9h0M557.1 202.4h0M555.3 194.7h0M557.3 193.3h0" stroke="#d18d91" stroke-width="0.84" stroke-linecap="round" fill="none"/>
<path d="M565.8 195h0M563.1 204.6h0M566.2 195.3h0M560.8 197h0M560.9 204.4h0M561.6 205.7h0M565.8 198.1h0M563.3 200h0M558.6 206.3h0M561.8 202.7h0M564.7 204.8h0M563.5 201.8h0M558.3 207.4h0M565.4 199h0M569.9 203.9h0M560.6 206.6h0M560.6 203.7h0M569.8 202.7h0M560.4 205.4h0M559.2 203.9h0M567.1 199.7h0M564 195.7h0M566.4 196.4h0M565 204.7h0M564.1 204h0M563 203h0M559.8 206.5h0M560.8 201.9h0M566.1 203.5h0M563.1 203.5h0M569.3 205.8h0M565.4 198.8h0M560.7 206.9h0M563.6 195.4h0M563.2 196.2h0M562.4 196.5h0M562 204.7h0M561.5 202.1h0M567 206.2h0M569.7 203h0" stroke="#d1959a" stroke-width="0.84" stroke-linecap="round" fill="none"/>
<path d="M550.8 202.8h0M550.6 201.9h0M550.7 200.5h0M548.3 199.4h0M551.8 202.8h0M550.3 203.3h0M549.7 201.9h0M548.7 200.4h0" stroke="#d19195" stroke-width="0.84" stroke-linecap="round" fill="none"/>
<path d="M584.1 185.2h0M586.8 182.6h0M586.2 182.9h0M587.1 188.7h0M582.9 185.2h0M587 185.9h0M582.1 185.2h0M586.2 187.9h0M579.5 183.3h0M583.5 184.9h0" stroke="#cf8387" stroke-width="0.84" stroke-linecap="round" fill="none"/>
<line x1="542.4" y1="162.4" x2="542.4" y2="213" stroke="#333" stroke-width="0.5"/>
<line x1="542.4" y1="213" x2="592.2" y2="213" stroke="#333" stroke-width="0.5"/>
<line x1="541.2" y1="164.5" x2="542.4" y2="164.5" stroke="#333" stroke-width="0.4"/>
<text x="540.2" y="166.56" font-size="5.8" text-anchor="end" fill="#333">8</text>
<line x1="541.2" y1="176.9" x2="542.4" y2="176.9" stroke="#333" stroke-width="0.4"/>
<text x="540.2" y="178.96" font-size="5.8" text-anchor="end" fill="#333">4</text>
<line x1="541.2" y1="189.1" x2="542.4" y2="189.1" stroke="#333" stroke-width="0.4"/>
<text x="540.2" y="191.16" font-size="5.8" text-anchor="end" fill="#333">0</text>
<line x1="541.2" y1="201.6" x2="542.4" y2="201.6" stroke="#333" stroke-width="0.4"/>
<text x="540.2" y="203.66" font-size="5.8" text-anchor="end" fill="#333">−4</text>
<line x1="547.7" y1="213" x2="547.7" y2="214.2" stroke="#333" stroke-width="0.4"/>
<text x="547.7" y="221.26" font-size="5.8" text-anchor="middle" fill="#333">−5</text>
<line x1="560.1" y1="213" x2="560.1" y2="214.2" stroke="#333" stroke-width="0.4"/>
<text x="560.1" y="221.26" font-size="5.8" text-anchor="middle" fill="#333">0</text>
<line x1="573.4" y1="213" x2="573.4" y2="214.2" stroke="#333" stroke-width="0.4"/>
<text x="573.4" y="221.26" font-size="5.8" text-anchor="middle" fill="#333">5</text>
<line x1="587.2" y1="213" x2="587.2" y2="214.2" stroke="#333" stroke-width="0.4"/>
<text x="587.2" y="221.26" font-size="5.8" text-anchor="middle" fill="#333">10</text>
<text transform="translate(528.3 188.7) rotate(-90)" x="0" y="1.99" font-size="5.6" text-anchor="middle" fill="#333">UMAP_2</text>
<text x="567.3" y="159.16" font-size="5.8" text-anchor="middle" font-weight="bold" fill="#222">SIRPA</text>
<rect x="594.1" y="176.4" width="5.5" height="24.8" fill="url(#gc)"/>
<text x="603.5" y="202.19" font-size="5.6" text-anchor="middle" fill="#333">0</text>
<text x="603.5" y="194.79" font-size="5.6" text-anchor="middle" fill="#333">1</text>
<text x="603.5" y="187.39" font-size="5.6" text-anchor="middle" fill="#333">2</text>
<text x="603.5" y="179.99" font-size="5.6" text-anchor="middle" fill="#333">3</text>
<g transform="matrix(0.303 0 0 0.303 622.4 161.47)"><use href="#uVEGFA" fill="#d7d5db"/><use href="#uLY6E" fill="#d7d5db"/><use href="#uVSIR" fill="#d7d5db"/><use href="#uFOLR2" fill="#d7d5db"/><use href="#uUBE2B" fill="#d7d5db"/><use href="#uNEAT1" fill="#d7d5db"/><use href="#uMKI67" fill="#d19297"/></g>
<path d="M648.8 175.7h0M652.7 177.2h0M648.6 173.3h0M648.7 167.9h0M650.2 176.9h0M649.8 173.9h0M650.5 176.8h0M650.3 168h0M651.3 173.8h0M651.3 174.8h0M647.5 173.3h0M650.3 181.9h0M656.9 181.9h0M655.8 181.7h0M640.9 188.5h0M645.7 186.7h0M648 187.9h0M655.6 183.8h0M651 181.3h0M650.8 182.1h0M642.2 186h0M643.6 181.2h0M649.5 181.2h0M645.3 183.4h0M653.1 183.1h0M653.9 177.4h0M641.6 182.1h0M640.4 185.3h0M651 188.5h0M656.9 182.8h0M645.2 177.4h0M642.9 188.6h0M655.8 185.2h0M646.2 187.4h0M641.9 179.8h0M651 183.2h0M652.3 181.6h0M638.8 192.1h0M634.7 189h0M639.4 193h0M635.1 189.5h0M636.9 188.6h0M638.2 180.9h0M641.5 191.7h0M634.3 192.8h0M639.4 188.3h0M635 189.5h0M635.4 191.3h0M639.3 185.2h0M635.4 193h0M635.5 192.2h0M638.7 183.6h0M636.6 190h0M635 192.5h0M638.9 191.4h0M638.3 189.8h0M640.5 180.3h0M635.4 191.6h0M634.9 186.7h0M632.6 190.7h0M639.3 191.5h0M640.4 192.8h0M633 191.6h0M638 188.5h0M637.5 192.6h0M637.8 182h0M637.8 192.8h0M639.2 189h0M639.8 199.7h0M638.9 198h0M643.7 196.5h0M642.1 192.1h0M645.2 194.9h0M647.4 198.8h0M638.3 195.9h0M646 198.5h0M642.2 197.1h0M642.4 199.6h0M638 197.5h0M642.4 191.5h0M644.1 200.8h0M642.7 199.5h0M643.6 198.9h0M643.9 200.8h0M647.8 194h0M640.8 194.4h0M639.9 198h0M643.9 200.5h0M645.9 199h0M647 196.3h0M645.3 197.9h0M642.5 199.9h0M645.8 197.2h0M645 196.8h0M645.1 189.4h0M653.6 207.9h0M650.7 201.4h0M657.7 204.2h0M653 198.3h0M651.1 195.6h0M653.3 196.6h0M656.8 203.4h0M649.2 207.8h0M648.6 206.4h0M649.6 205.8h0M648.9 196.1h0M653.5 202.4h0M651 203.2h0M655.7 202.2h0M644.7 205.4h0M651 204.8h0M647.3 205.8h0M649.4 198.3h0M653.3 205.9h0M650.9 203h0M655.8 201.1h0M653.8 208.8h0M649.4 199.9h0M650.5 208.1h0M653.2 201.4h0M648.3 206h0M653.1 208.3h0M654.8 204h0M656.9 205.4h0M649.2 196.2h0M655.6 203.8h0M653.3 209h0M638.7 203.1h0M637.2 202h0M635.5 202.3h0M639.7 203.4h0M635.3 201.8h0M635.8 199.5h0M635.2 201.6h0M636.6 200.5h0M639.4 201.9h0M635.8 199.8h0" stroke="#d7d8de" stroke-width="0.84" stroke-linecap="round" fill="none"/>
<path d="M665.6 183.7h0M672.8 186.1h0M673.1 184.3h0M673.8 185.1h0M670.9 183.1h0M672.8 186.9h0M672.6 186h0M675.1 182.3h0M666 183.6h0" stroke="#d5bbc1" stroke-width="0.84" stroke-linecap="round" fill="none"/>
<path d="M647 177.2h0M646.3 172.1h0M652.8 176.2h0M646.8 169.3h0M648.5 172h0M646.4 169.4h0M646 174.3h0M647.3 170.2h0M647.8 175.4h0M647.9 187.5h0M647.1 189.2h0M648.9 183.8h0M646.1 180.9h0M646.4 187.9h0M640.8 184.5h0M647.2 190.6h0M651.9 180.7h0M650.6 187.4h0M643.8 181h0M649 181.9h0M652.9 179.5h0M646.4 187.7h0M646.6 183.6h0M653.3 174.2h0M648.6 184.3h0M655.6 180.1h0M650.2 179.1h0M656.9 181.9h0M644 183.4h0M649 179.9h0M650.4 190h0M649.2 181.7h0M655.5 181.5h0M644.2 189.3h0M650.9 186.8h0M646.8 180.4h0M648.3 190.9h0M649.3 185.2h0M651 187.4h0M647.9 184.4h0M643.1 180.9h0M646.4 180.4h0M647.9 179.3h0M635.5 186.3h0M638.3 193.4h0M636.4 186.7h0M634.3 189.1h0M636.9 187.1h0M636.8 193.7h0M638.8 181.4h0M637.1 183.5h0M636.3 193.4h0M635.7 189h0M636.6 186.2h0M640.6 183.3h0M639.2 185.4h0M635.1 192.5h0M635.8 192h0M636.3 192.6h0M640.5 178.7h0M638.8 193.9h0M639.9 190.2h0M634.2 193h0M636.9 184.9h0M639.6 190.4h0M637.6 190.4h0M637.6 182.4h0M633.1 189.6h0M634.8 193.3h0M635.1 186.9h0M637 193.6h0M637.9 191.1h0M643.4 197h0M646 190.7h0M644.5 195.9h0M641.9 194.4h0M640.6 201h0M646.2 202h0M644.3 194.1h0M646.8 190.5h0M638.7 195.1h0M642.6 193.5h0M648.1 193.4h0M642 195.7h0M640.6 196.2h0M639.8 199.4h0M642.9 194.2h0M647.2 199.3h0M639.6 198.5h0M644.2 197.7h0M643.5 196.9h0M642 199.2h0M645.3 195.7h0M646.7 192.4h0M646.8 190.6h0M639.2 194.7h0M643 194.7h0M641.6 197.6h0M648.3 192.7h0M639.3 198.9h0M639.9 194.6h0M639.9 199.7h0M644.4 200.4h0M644.5 193.7h0M645.5 197.4h0M648.3 202.8h0M652.9 195.2h0M653.4 201.9h0M650.1 206.4h0M651.6 197.5h0M652.9 208.1h0M653.1 194.8h0M647.5 206.6h0M656.6 202h0M650.7 196.9h0M648.3 203.2h0M650.5 198.5h0M652.5 199.9h0M646.4 206.5h0M650.5 201.2h0M651.3 205.4h0M655.1 205.8h0M650.6 206.4h0M652.1 199h0M652.2 196.8h0M650.8 204.3h0M651.2 205.3h0M656.2 204.8h0M655.7 206.3h0M655.4 204.7h0M653.4 197.5h0M656.4 204h0M655.9 203.6h0M639.2 202.4h0M639.7 201.6h0M635.4 201.6h0M637.6 201.2h0M635.2 201.4h0M639.1 201.6h0M639.9 202.4h0M635.1 199.8h0M637.2 201.2h0M637.9 201.7h0" stroke="#d4b1b6" stroke-width="0.84" stroke-linecap="round" fill="none"/>
<path d="M669.7 186.7h0M674.9 185.9h0M669.6 188h0M668.5 187.8h0M671 183h0M668 187.6h0M670.2 183.9h0M675.6 185.3h0M673.4 186.1h0M670.9 184.8h0M672.2 186.3h0" stroke="#c86d72" stroke-width="0.84" stroke-linecap="round" fill="none"/>
<line x1="629.8" y1="162.4" x2="629.8" y2="213" stroke="#333" stroke-width="0.5"/>
<line x1="629.8" y1="213" x2="679.6" y2="213" stroke="#333" stroke-width="0.5"/>
<line x1="628.6" y1="164.5" x2="629.8" y2="164.5" stroke="#333" stroke-width="0.4"/>
<text x="627.6" y="166.56" font-size="5.8" text-anchor="end" fill="#333">8</text>
<line x1="628.6" y1="176.9" x2="629.8" y2="176.9" stroke="#333" stroke-width="0.4"/>
<text x="627.6" y="178.96" font-size="5.8" text-anchor="end" fill="#333">4</text>
<line x1="628.6" y1="189.1" x2="629.8" y2="189.1" stroke="#333" stroke-width="0.4"/>
<text x="627.6" y="191.16" font-size="5.8" text-anchor="end" fill="#333">0</text>
<line x1="628.6" y1="201.6" x2="629.8" y2="201.6" stroke="#333" stroke-width="0.4"/>
<text x="627.6" y="203.66" font-size="5.8" text-anchor="end" fill="#333">−4</text>
<line x1="635.1" y1="213" x2="635.1" y2="214.2" stroke="#333" stroke-width="0.4"/>
<text x="635.1" y="221.26" font-size="5.8" text-anchor="middle" fill="#333">−5</text>
<line x1="647.5" y1="213" x2="647.5" y2="214.2" stroke="#333" stroke-width="0.4"/>
<text x="647.5" y="221.26" font-size="5.8" text-anchor="middle" fill="#333">0</text>
<line x1="660.8" y1="213" x2="660.8" y2="214.2" stroke="#333" stroke-width="0.4"/>
<text x="660.8" y="221.26" font-size="5.8" text-anchor="middle" fill="#333">5</text>
<line x1="674.6" y1="213" x2="674.6" y2="214.2" stroke="#333" stroke-width="0.4"/>
<text x="674.6" y="221.26" font-size="5.8" text-anchor="middle" fill="#333">10</text>
<text transform="translate(615.7 188.7) rotate(-90)" x="0" y="1.99" font-size="5.6" text-anchor="middle" fill="#333">UMAP_2</text>
<text x="654.7" y="159.16" font-size="5.8" text-anchor="middle" font-weight="bold" fill="#222">MKI67</text>
<text x="0.8" y="255.99" font-size="13.5" font-weight="bold" fill="#000">d</text>
<rect x="23.9" y="280.6" width="11.95" height="12.73" fill="#ec8a7e" stroke="#b4b4b4" stroke-width="0.35"/>
<rect x="35.85" y="280.6" width="11.95" height="12.73" fill="#e9796b" stroke="#b4b4b4" stroke-width="0.35"/>
<rect x="47.8" y="280.6" width="11.95" height="12.73" fill="#ec7f73" stroke="#b4b4b4" stroke-width="0.35"/>
<rect x="59.75" y="280.6" width="11.95" height="12.73" fill="#e8eef2" stroke="#b4b4b4" stroke-width="0.35"/>
<rect x="71.7" y="280.6" width="11.95" height="12.73" fill="#ee9286" stroke="#b4b4b4" stroke-width="0.35"/>
<rect x="83.65" y="280.6" width="11.95" height="12.73" fill="#f3d9d1" stroke="#b4b4b4" stroke-width="0.35"/>
<text x="98.3" y="289.52" font-size="7.2" fill="#222">Macro-LY6E</text>
<rect x="23.9" y="293.33" width="11.95" height="12.73" fill="#8ec8e8" stroke="#b4b4b4" stroke-width="0.35"/>
<rect x="35.85" y="293.33" width="11.95" height="12.73" fill="#6ab7e0" stroke="#b4b4b4" stroke-width="0.35"/>
<rect x="47.8" y="293.33" width="11.95" height="12.73" fill="#d2e2ea" stroke="#b4b4b4" stroke-width="0.35"/>
<rect x="59.75" y="293.33" width="11.95" height="12.73" fill="#b1d5e8" stroke="#b4b4b4" stroke-width="0.35"/>
<rect x="71.7" y="293.33" width="11.95" height="12.73" fill="#f5d0c6" stroke="#b4b4b4" stroke-width="0.35"/>
<rect x="83.65" y="293.33" width="11.95" height="12.73" fill="#d9e6ed" stroke="#b4b4b4" stroke-width="0.35"/>
<text x="98.3" y="302.25" font-size="7.2" fill="#222">Macro-UBE2B</text>
<rect x="23.9" y="306.06" width="11.95" height="12.73" fill="#f0a69b" stroke="#b4b4b4" stroke-width="0.35"/>
<rect x="35.85" y="306.06" width="11.95" height="12.73" fill="#efa196" stroke="#b4b4b4" stroke-width="0.35"/>
<rect x="47.8" y="306.06" width="11.95" height="12.73" fill="#f0a599" stroke="#b4b4b4" stroke-width="0.35"/>
<rect x="59.75" y="306.06" width="11.95" height="12.73" fill="#85c3e8" stroke="#b4b4b4" stroke-width="0.35"/>
<rect x="71.7" y="306.06" width="11.95" height="12.73" fill="#f4e6df" stroke="#b4b4b4" stroke-width="0.35"/>
<rect x="83.65" y="306.06" width="11.95" height="12.73" fill="#4ca9dc" stroke="#b4b4b4" stroke-width="0.35"/>
<text x="98.3" y="314.98" font-size="7.2" fill="#222">Macro-FOLR2</text>
<rect x="23.9" y="318.79" width="11.95" height="12.73" fill="#ec867a" stroke="#b4b4b4" stroke-width="0.35"/>
<rect x="35.85" y="318.79" width="11.95" height="12.73" fill="#f5c1b8" stroke="#b4b4b4" stroke-width="0.35"/>
<rect x="47.8" y="318.79" width="11.95" height="12.73" fill="#a8d2ea" stroke="#b4b4b4" stroke-width="0.35"/>
<rect x="59.75" y="318.79" width="11.95" height="12.73" fill="#f4c0b6" stroke="#b4b4b4" stroke-width="0.35"/>
<rect x="71.7" y="318.79" width="11.95" height="12.73" fill="#ee8a7e" stroke="#b4b4b4" stroke-width="0.35"/>
<rect x="83.65" y="318.79" width="11.95" height="12.73" fill="#cde1ea" stroke="#b4b4b4" stroke-width="0.35"/>
<text x="98.3" y="327.71" font-size="7.2" fill="#222">Macro-VSIR</text>
<rect x="23.9" y="331.52" width="11.95" height="12.73" fill="#e1e9ef" stroke="#b4b4b4" stroke-width="0.35"/>
<rect x="35.85" y="331.52" width="11.95" height="12.73" fill="#f5c6bd" stroke="#b4b4b4" stroke-width="0.35"/>
<rect x="47.8" y="331.52" width="11.95" height="12.73" fill="#f1a094" stroke="#b4b4b4" stroke-width="0.35"/>
<rect x="59.75" y="331.52" width="11.95" height="12.73" fill="#ee8277" stroke="#b4b4b4" stroke-width="0.35"/>
<rect x="71.7" y="331.52" width="11.95" height="12.73" fill="#3da5d9" stroke="#b4b4b4" stroke-width="0.35"/>
<rect x="83.65" y="331.52" width="11.95" height="12.73" fill="#e2463b" stroke="#b4b4b4" stroke-width="0.35"/>
<text x="98.3" y="340.44" font-size="7.2" fill="#222">Macro-VEGFA</text>
<rect x="23.9" y="344.25" width="11.95" height="12.73" fill="#d6e4ee" stroke="#b4b4b4" stroke-width="0.35"/>
<rect x="35.85" y="344.25" width="11.95" height="12.73" fill="#80bde6" stroke="#b4b4b4" stroke-width="0.35"/>
<rect x="47.8" y="344.25" width="11.95" height="12.73" fill="#1a9cd8" stroke="#b4b4b4" stroke-width="0.35"/>
<rect x="59.75" y="344.25" width="11.95" height="12.73" fill="#7fbee6" stroke="#b4b4b4" stroke-width="0.35"/>
<rect x="71.7" y="344.25" width="11.95" height="12.73" fill="#6fb7e2" stroke="#b4b4b4" stroke-width="0.35"/>
<rect x="83.65" y="344.25" width="11.95" height="12.73" fill="#d8e6ed" stroke="#b4b4b4" stroke-width="0.35"/>
<text x="98.3" y="353.17" font-size="7.2" fill="#222">Macro-MKI67</text>
<rect x="23.9" y="356.98" width="11.95" height="12.73" fill="#4eaadb" stroke="#b4b4b4" stroke-width="0.35"/>
<rect x="35.85" y="356.98" width="11.95" height="12.73" fill="#b7d7ea" stroke="#b4b4b4" stroke-width="0.35"/>
<rect x="47.8" y="356.98" width="11.95" height="12.73" fill="#f7efe8" stroke="#b4b4b4" stroke-width="0.35"/>
<rect x="59.75" y="356.98" width="11.95" height="12.73" fill="#ea7164" stroke="#b4b4b4" stroke-width="0.35"/>
<rect x="71.7" y="356.98" width="11.95" height="12.73" fill="#f1f5f3" stroke="#b4b4b4" stroke-width="0.35"/>
<rect x="83.65" y="356.98" width="11.95" height="12.73" fill="#f5cfc5" stroke="#b4b4b4" stroke-width="0.35"/>
<text x="98.3" y="365.9" font-size="7.2" fill="#222">Macro-NEAT1</text>
<text transform="translate(31.2 373.6) rotate(-45)" x="0" y="2.56" font-size="7.2" text-anchor="end" fill="#222">Antigen Pre.</text>
<text transform="translate(41.6 372.8) rotate(-45)" x="0" y="2.56" font-size="7.2" text-anchor="end" fill="#222">Phagosome</text>
<text transform="translate(53.4 372.4) rotate(-45)" x="0" y="2.56" font-size="7.2" text-anchor="end" fill="#222">M2-like</text>
<text transform="translate(66 372.6) rotate(-45)" x="0" y="2.56" font-size="7.2" text-anchor="end" fill="#222">M1-like</text>
<text transform="translate(76 372.8) rotate(-45)" x="0" y="2.56" font-size="7.2" text-anchor="end" fill="#222">Immune inhib</text>
<text transform="translate(89.6 372.8) rotate(-45)" x="0" y="2.56" font-size="7.2" text-anchor="end" fill="#222">Angiogenesis</text>
<defs><linearGradient id="gd" x1="0" y1="0" x2="1" y2="0"><stop offset="0" stop-color="#1a8fd0"/><stop offset="0.5" stop-color="#f4f4f4"/><stop offset="1" stop-color="#b8283a"/></linearGradient></defs>
<rect x="99.7" y="379.8" width="36.8" height="4.2" fill="url(#gd)"/>
<text x="101.6" y="392.16" font-size="7.2" text-anchor="middle" fill="#222">−2</text>
<text x="118.1" y="392.16" font-size="7.2" text-anchor="middle" fill="#222">0</text>
<text x="134.9" y="392.16" font-size="7.2" text-anchor="middle" fill="#222">2</text>
<text x="162.2" y="257.99" font-size="13.5" font-weight="bold" fill="#000">e</text>
<rect x="162.9" y="281.6" width="9.34" height="12" fill="#e0917a" stroke="#b4b4b4" stroke-width="0.35"/>
<rect x="172.24" y="281.6" width="9.34" height="12" fill="#c0504f" stroke="#b4b4b4" stroke-width="0.35"/>
<rect x="181.58" y="281.6" width="9.34" height="12" fill="#d16b5b" stroke="#b4b4b4" stroke-width="0.35"/>
<rect x="190.92" y="281.6" width="9.34" height="12" fill="#cf665b" stroke="#b4b4b4" stroke-width="0.35"/>
<rect x="200.26" y="281.6" width="9.34" height="12" fill="#dd8570" stroke="#b4b4b4" stroke-width="0.35"/>
<rect x="162.9" y="293.6" width="9.34" height="12" fill="#a9cfe6" stroke="#b4b4b4" stroke-width="0.35"/>
<rect x="172.24" y="293.6" width="9.34" height="12" fill="#c5dbe8" stroke="#b4b4b4" stroke-width="0.35"/>
<rect x="181.58" y="293.6" width="9.34" height="12" fill="#bcd8e6" stroke="#b4b4b4" stroke-width="0.35"/>
<rect x="190.92" y="293.6" width="9.34" height="12" fill="#92c6e6" stroke="#b4b4b4" stroke-width="0.35"/>
<rect x="200.26" y="293.6" width="9.34" height="12" fill="#47a3d6" stroke="#b4b4b4" stroke-width="0.35"/>
<rect x="162.9" y="305.6" width="9.34" height="12" fill="#eef0f2" stroke="#b4b4b4" stroke-width="0.35"/>
<rect x="172.24" y="305.6" width="9.34" height="12" fill="#7fbde6" stroke="#b4b4b4" stroke-width="0.35"/>
<rect x="181.58" y="305.6" width="9.34" height="12" fill="#f3e0d4" stroke="#b4b4b4" stroke-width="0.35"/>
<rect x="190.92" y="305.6" width="9.34" height="12" fill="#8ec4e6" stroke="#b4b4b4" stroke-width="0.35"/>
<rect x="200.26" y="305.6" width="9.34" height="12" fill="#f1f3f5" stroke="#b4b4b4" stroke-width="0.35"/>
<rect x="162.9" y="317.6" width="9.34" height="12" fill="#f3d6c8" stroke="#b4b4b4" stroke-width="0.35"/>
<rect x="172.24" y="317.6" width="9.34" height="12" fill="#f2e4dc" stroke="#b4b4b4" stroke-width="0.35"/>
<rect x="181.58" y="317.6" width="9.34" height="12" fill="#f1f2f4" stroke="#b4b4b4" stroke-width="0.35"/>
<rect x="190.92" y="317.6" width="9.34" height="12" fill="#f2c4b0" stroke="#b4b4b4" stroke-width="0.35"/>
<rect x="200.26" y="317.6" width="9.34" height="12" fill="#f3c2ad" stroke="#b4b4b4" stroke-width="0.35"/>
<rect x="162.9" y="329.6" width="9.34" height="12" fill="#f3e5dc" stroke="#b4b4b4" stroke-width="0.35"/>
<rect x="172.24" y="329.6" width="9.34" height="12" fill="#f2f1f0" stroke="#b4b4b4" stroke-width="0.35"/>
<rect x="181.58" y="329.6" width="9.34" height="12" fill="#f1e7e1" stroke="#b4b4b4" stroke-width="0.35"/>
<rect x="190.92" y="329.6" width="9.34" height="12" fill="#f2f1f0" stroke="#b4b4b4" stroke-width="0.35"/>
<rect x="200.26" y="329.6" width="9.34" height="12" fill="#d8e4ec" stroke="#b4b4b4" stroke-width="0.35"/>
<rect x="162.9" y="341.6" width="9.34" height="12" fill="#f3e4da" stroke="#b4b4b4" stroke-width="0.35"/>
<rect x="172.24" y="341.6" width="9.34" height="12" fill="#cde0ec" stroke="#b4b4b4" stroke-width="0.35"/>
<rect x="181.58" y="341.6" width="9.34" height="12" fill="#eceff2" stroke="#b4b4b4" stroke-width="0.35"/>
<rect x="190.92" y="341.6" width="9.34" height="12" fill="#e9edf1" stroke="#b4b4b4" stroke-width="0.35"/>
<rect x="200.26" y="341.6" width="9.34" height="12" fill="#f3e2d8" stroke="#b4b4b4" stroke-width="0.35"/>
<rect x="162.9" y="353.6" width="9.34" height="12" fill="#1596d2" stroke="#b4b4b4" stroke-width="0.35"/>
<rect x="172.24" y="353.6" width="9.34" height="12" fill="#e8ecf0" stroke="#b4b4b4" stroke-width="0.35"/>
<rect x="181.58" y="353.6" width="9.34" height="12" fill="#1a98d3" stroke="#b4b4b4" stroke-width="0.35"/>
<rect x="190.92" y="353.6" width="9.34" height="12" fill="#c0d9e8" stroke="#b4b4b4" stroke-width="0.35"/>
<rect x="200.26" y="353.6" width="9.34" height="12" fill="#a8d0e6" stroke="#b4b4b4" stroke-width="0.35"/>
<line x1="164.5" y1="279.4" x2="208" y2="279.4" stroke="#333" stroke-width="0.6"/>
<text x="186.25" y="266.76" font-size="7.2" text-anchor="middle" fill="#222">Antigen</text>
<text x="186.25" y="275.56" font-size="7.2" text-anchor="middle" fill="#222">Pre.</text>
<text transform="translate(167.57 368.3) rotate(-90)" x="0" y="2.48" font-size="7.0" text-anchor="end" fill="#222">HLA−A</text>
<text transform="translate(176.91 368.3) rotate(-90)" x="0" y="2.48" font-size="7.0" text-anchor="end" fill="#222">HLA−G</text>
<text transform="translate(186.25 368.3) rotate(-90)" x="0" y="2.48" font-size="7.0" text-anchor="end" fill="#222">CTSB</text>
<text transform="translate(195.59 368.3) rotate(-90)" x="0" y="2.48" font-size="7.0" text-anchor="end" fill="#222">IFI30</text>
<text transform="translate(204.93 368.3) rotate(-90)" x="0" y="2.48" font-size="7.0" text-anchor="end" fill="#222">TAPBP</text>
<rect x="210.8" y="281.6" width="9.34" height="12" fill="#e0907a" stroke="#b4b4b4" stroke-width="0.35"/>
<rect x="220.14" y="281.6" width="9.34" height="12" fill="#e08e78" stroke="#b4b4b4" stroke-width="0.35"/>
<rect x="229.48" y="281.6" width="9.34" height="12" fill="#de8a74" stroke="#b4b4b4" stroke-width="0.35"/>
<rect x="238.82" y="281.6" width="9.34" height="12" fill="#e08e78" stroke="#b4b4b4" stroke-width="0.35"/>
<rect x="248.16" y="281.6" width="9.34" height="12" fill="#e0917a" stroke="#b4b4b4" stroke-width="0.35"/>
<rect x="210.8" y="293.6" width="9.34" height="12" fill="#a2cde7" stroke="#b4b4b4" stroke-width="0.35"/>
<rect x="220.14" y="293.6" width="9.34" height="12" fill="#a5cee7" stroke="#b4b4b4" stroke-width="0.35"/>
<rect x="229.48" y="293.6" width="9.34" height="12" fill="#72b8e2" stroke="#b4b4b4" stroke-width="0.35"/>
<rect x="238.82" y="293.6" width="9.34" height="12" fill="#0a88d0" stroke="#b4b4b4" stroke-width="0.35"/>
<rect x="248.16" y="293.6" width="9.34" height="12" fill="#b8d7e8" stroke="#b4b4b4" stroke-width="0.35"/>
<rect x="210.8" y="305.6" width="9.34" height="12" fill="#eaedf1" stroke="#b4b4b4" stroke-width="0.35"/>
<rect x="220.14" y="305.6" width="9.34" height="12" fill="#f3ece8" stroke="#b4b4b4" stroke-width="0.35"/>
<rect x="229.48" y="305.6" width="9.34" height="12" fill="#eef0f2" stroke="#b4b4b4" stroke-width="0.35"/>
<rect x="238.82" y="305.6" width="9.34" height="12" fill="#f3cdb9" stroke="#b4b4b4" stroke-width="0.35"/>
<rect x="248.16" y="305.6" width="9.34" height="12" fill="#f2ece8" stroke="#b4b4b4" stroke-width="0.35"/>
<rect x="210.8" y="317.6" width="9.34" height="12" fill="#f2bea8" stroke="#b4b4b4" stroke-width="0.35"/>
<rect x="220.14" y="317.6" width="9.34" height="12" fill="#f2bea8" stroke="#b4b4b4" stroke-width="0.35"/>
<rect x="229.48" y="317.6" width="9.34" height="12" fill="#f3dccf" stroke="#b4b4b4" stroke-width="0.35"/>
<rect x="238.82" y="317.6" width="9.34" height="12" fill="#f2f0ef" stroke="#b4b4b4" stroke-width="0.35"/>
<rect x="248.16" y="317.6" width="9.34" height="12" fill="#f3c6b1" stroke="#b4b4b4" stroke-width="0.35"/>
<rect x="210.8" y="329.6" width="9.34" height="12" fill="#edf0f2" stroke="#b4b4b4" stroke-width="0.35"/>
<rect x="220.14" y="329.6" width="9.34" height="12" fill="#b8d8ea" stroke="#b4b4b4" stroke-width="0.35"/>
<rect x="229.48" y="329.6" width="9.34" height="12" fill="#dde7ee" stroke="#b4b4b4" stroke-width="0.35"/>
<rect x="238.82" y="329.6" width="9.34" height="12" fill="#d8e5ee" stroke="#b4b4b4" stroke-width="0.35"/>
<rect x="248.16" y="329.6" width="9.34" height="12" fill="#f0f0f0" stroke="#b4b4b4" stroke-width="0.35"/>
<rect x="210.8" y="341.6" width="9.34" height="12" fill="#f3e0d4" stroke="#b4b4b4" stroke-width="0.35"/>
<rect x="220.14" y="341.6" width="9.34" height="12" fill="#f3e0d4" stroke="#b4b4b4" stroke-width="0.35"/>
<rect x="229.48" y="341.6" width="9.34" height="12" fill="#f3c4ae" stroke="#b4b4b4" stroke-width="0.35"/>
<rect x="238.82" y="341.6" width="9.34" height="12" fill="#f3e8e0" stroke="#b4b4b4" stroke-width="0.35"/>
<rect x="248.16" y="341.6" width="9.34" height="12" fill="#f1f2f3" stroke="#b4b4b4" stroke-width="0.35"/>
<rect x="210.8" y="353.6" width="9.34" height="12" fill="#3aa3d8" stroke="#b4b4b4" stroke-width="0.35"/>
<rect x="220.14" y="353.6" width="9.34" height="12" fill="#4ba8da" stroke="#b4b4b4" stroke-width="0.35"/>
<rect x="229.48" y="353.6" width="9.34" height="12" fill="#6fb8e2" stroke="#b4b4b4" stroke-width="0.35"/>
<rect x="238.82" y="353.6" width="9.34" height="12" fill="#e9edf1" stroke="#b4b4b4" stroke-width="0.35"/>
<rect x="248.16" y="353.6" width="9.34" height="12" fill="#0b96d4" stroke="#b4b4b4" stroke-width="0.35"/>
<line x1="212.4" y1="279.4" x2="255.9" y2="279.4" stroke="#333" stroke-width="0.6"/>
<text x="234.15" y="274.06" font-size="7.2" text-anchor="middle" fill="#222">Phagosome</text>
<text transform="translate(215.47 368.3) rotate(-90)" x="0" y="2.48" font-size="7.0" text-anchor="end" fill="#222">ITGB2</text>
<text transform="translate(224.81 368.3) rotate(-90)" x="0" y="2.48" font-size="7.0" text-anchor="end" fill="#222">FCGR1A</text>
<text transform="translate(234.15 368.3) rotate(-90)" x="0" y="2.48" font-size="7.0" text-anchor="end" fill="#222">M6PR</text>
<text transform="translate(243.49 368.3) rotate(-90)" x="0" y="2.48" font-size="7.0" text-anchor="end" fill="#222">STX12</text>
<text transform="translate(252.83 368.3) rotate(-90)" x="0" y="2.48" font-size="7.0" text-anchor="end" fill="#222">RILP</text>
<rect x="258.9" y="281.6" width="9.34" height="12" fill="#dd8570" stroke="#b4b4b4" stroke-width="0.35"/>
<rect x="268.24" y="281.6" width="9.34" height="12" fill="#e08e78" stroke="#b4b4b4" stroke-width="0.35"/>
<rect x="277.58" y="281.6" width="9.34" height="12" fill="#dc8570" stroke="#b4b4b4" stroke-width="0.35"/>
<rect x="286.92" y="281.6" width="9.34" height="12" fill="#df8a73" stroke="#b4b4b4" stroke-width="0.35"/>
<rect x="296.26" y="281.6" width="9.34" height="12" fill="#cd6a5c" stroke="#b4b4b4" stroke-width="0.35"/>
<rect x="305.6" y="281.6" width="9.34" height="12" fill="#b83045" stroke="#b4b4b4" stroke-width="0.35"/>
<rect x="258.9" y="293.6" width="9.34" height="12" fill="#e6ecf1" stroke="#b4b4b4" stroke-width="0.35"/>
<rect x="268.24" y="293.6" width="9.34" height="12" fill="#aed2e8" stroke="#b4b4b4" stroke-width="0.35"/>
<rect x="277.58" y="293.6" width="9.34" height="12" fill="#6fb5e1" stroke="#b4b4b4" stroke-width="0.35"/>
<rect x="286.92" y="293.6" width="9.34" height="12" fill="#b6d6e8" stroke="#b4b4b4" stroke-width="0.35"/>
<rect x="296.26" y="293.6" width="9.34" height="12" fill="#d8e5ee" stroke="#b4b4b4" stroke-width="0.35"/>
<rect x="305.6" y="293.6" width="9.34" height="12" fill="#eaedf0" stroke="#b4b4b4" stroke-width="0.35"/>
<rect x="258.9" y="305.6" width="9.34" height="12" fill="#9dcbe7" stroke="#b4b4b4" stroke-width="0.35"/>
<rect x="268.24" y="305.6" width="9.34" height="12" fill="#75b9e2" stroke="#b4b4b4" stroke-width="0.35"/>
<rect x="277.58" y="305.6" width="9.34" height="12" fill="#d8e6ee" stroke="#b4b4b4" stroke-width="0.35"/>
<rect x="286.92" y="305.6" width="9.34" height="12" fill="#f2bca5" stroke="#b4b4b4" stroke-width="0.35"/>
<rect x="296.26" y="305.6" width="9.34" height="12" fill="#f3dfd3" stroke="#b4b4b4" stroke-width="0.35"/>
<rect x="305.6" y="305.6" width="9.34" height="12" fill="#e4eaef" stroke="#b4b4b4" stroke-width="0.35"/>
<rect x="258.9" y="317.6" width="9.34" height="12" fill="#8dc4e6" stroke="#b4b4b4" stroke-width="0.35"/>
<rect x="268.24" y="317.6" width="9.34" height="12" fill="#d7e5ee" stroke="#b4b4b4" stroke-width="0.35"/>
<rect x="277.58" y="317.6" width="9.34" height="12" fill="#eff1f3" stroke="#b4b4b4" stroke-width="0.35"/>
<rect x="286.92" y="317.6" width="9.34" height="12" fill="#f3dcd0" stroke="#b4b4b4" stroke-width="0.35"/>
<rect x="296.26" y="317.6" width="9.34" height="12" fill="#c1dbea" stroke="#b4b4b4" stroke-width="0.35"/>
<rect x="305.6" y="317.6" width="9.34" height="12" fill="#ebeef1" stroke="#b4b4b4" stroke-width="0.35"/>
<rect x="258.9" y="329.6" width="9.34" height="12" fill="#f2ae92" stroke="#b4b4b4" stroke-width="0.35"/>
<rect x="268.24" y="329.6" width="9.34" height="12" fill="#e8977e" stroke="#b4b4b4" stroke-width="0.35"/>
<rect x="277.58" y="329.6" width="9.34" height="12" fill="#f2ae92" stroke="#b4b4b4" stroke-width="0.35"/>
<rect x="286.92" y="329.6" width="9.34" height="12" fill="#a0cbe6" stroke="#b4b4b4" stroke-width="0.35"/>
<rect x="296.26" y="329.6" width="9.34" height="12" fill="#f3ece8" stroke="#b4b4b4" stroke-width="0.35"/>
<rect x="305.6" y="329.6" width="9.34" height="12" fill="#d5e3ec" stroke="#b4b4b4" stroke-width="0.35"/>
<rect x="258.9" y="341.6" width="9.34" height="12" fill="#f3dace" stroke="#b4b4b4" stroke-width="0.35"/>
<rect x="268.24" y="341.6" width="9.34" height="12" fill="#f3e8e2" stroke="#b4b4b4" stroke-width="0.35"/>
<rect x="277.58" y="341.6" width="9.34" height="12" fill="#f3e8e2" stroke="#b4b4b4" stroke-width="0.35"/>
<rect x="286.92" y="341.6" width="9.34" height="12" fill="#f1f2f3" stroke="#b4b4b4" stroke-width="0.35"/>
<rect x="296.26" y="341.6" width="9.34" height="12" fill="#f3ece8" stroke="#b4b4b4" stroke-width="0.35"/>
<rect x="305.6" y="341.6" width="9.34" height="12" fill="#b8d6e8" stroke="#b4b4b4" stroke-width="0.35"/>
<rect x="258.9" y="353.6" width="9.34" height="12" fill="#b7d6e8" stroke="#b4b4b4" stroke-width="0.35"/>
<rect x="268.24" y="353.6" width="9.34" height="12" fill="#d5e3ec" stroke="#b4b4b4" stroke-width="0.35"/>
<rect x="277.58" y="353.6" width="9.34" height="12" fill="#96c7e6" stroke="#b4b4b4" stroke-width="0.35"/>
<rect x="286.92" y="353.6" width="9.34" height="12" fill="#65b1df" stroke="#b4b4b4" stroke-width="0.35"/>
<rect x="296.26" y="353.6" width="9.34" height="12" fill="#48a4d8" stroke="#b4b4b4" stroke-width="0.35"/>
<rect x="305.6" y="353.6" width="9.34" height="12" fill="#cfe0eb" stroke="#b4b4b4" stroke-width="0.35"/>
<line x1="260.5" y1="279.4" x2="313.34" y2="279.4" stroke="#333" stroke-width="0.6"/>
<text x="286.92" y="274.06" font-size="7.2" text-anchor="middle" fill="#222">M2-like</text>
<text transform="translate(263.57 368.3) rotate(-90)" x="0" y="2.48" font-size="7.0" text-anchor="end" fill="#222">SPP1</text>
<text transform="translate(272.91 368.3) rotate(-90)" x="0" y="2.48" font-size="7.0" text-anchor="end" fill="#222">MMP9</text>
<text transform="translate(282.25 368.3) rotate(-90)" x="0" y="2.48" font-size="7.0" text-anchor="end" fill="#222">MMP14</text>
<text transform="translate(291.59 368.3) rotate(-90)" x="0" y="2.48" font-size="7.0" text-anchor="end" fill="#222">CTSC</text>
<text transform="translate(300.93 368.3) rotate(-90)" x="0" y="2.48" font-size="7.0" text-anchor="end" fill="#222">CTSD</text>
<text transform="translate(310.27 368.3) rotate(-90)" x="0" y="2.48" font-size="7.0" text-anchor="end" fill="#222">CCL24</text>
<rect x="316.2" y="281.6" width="9.34" height="12" fill="#f3ece8" stroke="#b4b4b4" stroke-width="0.35"/>
<rect x="325.54" y="281.6" width="9.34" height="12" fill="#a7cfe7" stroke="#b4b4b4" stroke-width="0.35"/>
<rect x="334.88" y="281.6" width="9.34" height="12" fill="#f3eeeb" stroke="#b4b4b4" stroke-width="0.35"/>
<rect x="344.22" y="281.6" width="9.34" height="12" fill="#edf0f2" stroke="#b4b4b4" stroke-width="0.35"/>
<rect x="316.2" y="293.6" width="9.34" height="12" fill="#0c8cd2" stroke="#b4b4b4" stroke-width="0.35"/>
<rect x="325.54" y="293.6" width="9.34" height="12" fill="#5aaddf" stroke="#b4b4b4" stroke-width="0.35"/>
<rect x="334.88" y="293.6" width="9.34" height="12" fill="#0a84c8" stroke="#b4b4b4" stroke-width="0.35"/>
<rect x="344.22" y="293.6" width="9.34" height="12" fill="#8bc3e6" stroke="#b4b4b4" stroke-width="0.35"/>
<rect x="316.2" y="305.6" width="9.34" height="12" fill="#eef0f2" stroke="#b4b4b4" stroke-width="0.35"/>
<rect x="325.54" y="305.6" width="9.34" height="12" fill="#d5e3ec" stroke="#b4b4b4" stroke-width="0.35"/>
<rect x="334.88" y="305.6" width="9.34" height="12" fill="#f3e4da" stroke="#b4b4b4" stroke-width="0.35"/>
<rect x="344.22" y="305.6" width="9.34" height="12" fill="#b2d4e8" stroke="#b4b4b4" stroke-width="0.35"/>
<rect x="316.2" y="317.6" width="9.34" height="12" fill="#f0ad92" stroke="#b4b4b4" stroke-width="0.35"/>
<rect x="325.54" y="317.6" width="9.34" height="12" fill="#f1b094" stroke="#b4b4b4" stroke-width="0.35"/>
<rect x="334.88" y="317.6" width="9.34" height="12" fill="#f2b59b" stroke="#b4b4b4" stroke-width="0.35"/>
<rect x="344.22" y="317.6" width="9.34" height="12" fill="#f3e8e2" stroke="#b4b4b4" stroke-width="0.35"/>
<rect x="316.2" y="329.6" width="9.34" height="12" fill="#e5ebf0" stroke="#b4b4b4" stroke-width="0.35"/>
<rect x="325.54" y="329.6" width="9.34" height="12" fill="#f3efed" stroke="#b4b4b4" stroke-width="0.35"/>
<rect x="334.88" y="329.6" width="9.34" height="12" fill="#f3efed" stroke="#b4b4b4" stroke-width="0.35"/>
<rect x="344.22" y="329.6" width="9.34" height="12" fill="#f3dfd3" stroke="#b4b4b4" stroke-width="0.35"/>
<rect x="316.2" y="341.6" width="9.34" height="12" fill="#e6ebf0" stroke="#b4b4b4" stroke-width="0.35"/>
<rect x="325.54" y="341.6" width="9.34" height="12" fill="#dce6ee" stroke="#b4b4b4" stroke-width="0.35"/>
<rect x="334.88" y="341.6" width="9.34" height="12" fill="#d2e2ec" stroke="#b4b4b4" stroke-width="0.35"/>
<rect x="344.22" y="341.6" width="9.34" height="12" fill="#c8deeb" stroke="#b4b4b4" stroke-width="0.35"/>
<rect x="316.2" y="353.6" width="9.34" height="12" fill="#f0ad92" stroke="#b4b4b4" stroke-width="0.35"/>
<rect x="325.54" y="353.6" width="9.34" height="12" fill="#dd8068" stroke="#b4b4b4" stroke-width="0.35"/>
<rect x="334.88" y="353.6" width="9.34" height="12" fill="#f3cbb8" stroke="#b4b4b4" stroke-width="0.35"/>
<rect x="344.22" y="353.6" width="9.34" height="12" fill="#c9605a" stroke="#b4b4b4" stroke-width="0.35"/>
<line x1="317.8" y1="279.4" x2="351.96" y2="279.4" stroke="#333" stroke-width="0.6"/>
<text x="334.88" y="274.06" font-size="7.2" text-anchor="middle" fill="#222">M1-like</text>
<text transform="translate(320.87 368.3) rotate(-90)" x="0" y="2.48" font-size="7.0" text-anchor="end" fill="#222">IRF1</text>
<text transform="translate(330.21 368.3) rotate(-90)" x="0" y="2.48" font-size="7.0" text-anchor="end" fill="#222">IRF4</text>
<text transform="translate(339.55 368.3) rotate(-90)" x="0" y="2.48" font-size="7.0" text-anchor="end" fill="#222">TNF</text>
<text transform="translate(348.89 368.3) rotate(-90)" x="0" y="2.48" font-size="7.0" text-anchor="end" fill="#222">KYNU</text>
<rect x="355.1" y="281.6" width="9.34" height="12" fill="#d67a64" stroke="#b4b4b4" stroke-width="0.35"/>
<rect x="364.44" y="281.6" width="9.34" height="12" fill="#d97e68" stroke="#b4b4b4" stroke-width="0.35"/>
<rect x="373.78" y="281.6" width="9.34" height="12" fill="#e6967c" stroke="#b4b4b4" stroke-width="0.35"/>
<rect x="383.12" y="281.6" width="9.34" height="12" fill="#f3e2d8" stroke="#b4b4b4" stroke-width="0.35"/>
<rect x="392.46" y="281.6" width="9.34" height="12" fill="#d67e6a" stroke="#b4b4b4" stroke-width="0.35"/>
<rect x="355.1" y="293.6" width="9.34" height="12" fill="#5eb0e0" stroke="#b4b4b4" stroke-width="0.35"/>
<rect x="364.44" y="293.6" width="9.34" height="12" fill="#cfe0eb" stroke="#b4b4b4" stroke-width="0.35"/>
<rect x="373.78" y="293.6" width="9.34" height="12" fill="#98c9e6" stroke="#b4b4b4" stroke-width="0.35"/>
<rect x="383.12" y="293.6" width="9.34" height="12" fill="#98c9e6" stroke="#b4b4b4" stroke-width="0.35"/>
<rect x="392.46" y="293.6" width="9.34" height="12" fill="#8ec4e6" stroke="#b4b4b4" stroke-width="0.35"/>
<rect x="355.1" y="305.6" width="9.34" height="12" fill="#eaeef2" stroke="#b4b4b4" stroke-width="0.35"/>
<rect x="364.44" y="305.6" width="9.34" height="12" fill="#f3f2f1" stroke="#b4b4b4" stroke-width="0.35"/>
<rect x="373.78" y="305.6" width="9.34" height="12" fill="#bed9e8" stroke="#b4b4b4" stroke-width="0.35"/>
<rect x="383.12" y="305.6" width="9.34" height="12" fill="#b8d6e8" stroke="#b4b4b4" stroke-width="0.35"/>
<rect x="392.46" y="305.6" width="9.34" height="12" fill="#f0aa8e" stroke="#b4b4b4" stroke-width="0.35"/>
<rect x="355.1" y="317.6" width="9.34" height="12" fill="#f3e0d4" stroke="#b4b4b4" stroke-width="0.35"/>
<rect x="364.44" y="317.6" width="9.34" height="12" fill="#f3dfd3" stroke="#b4b4b4" stroke-width="0.35"/>
<rect x="373.78" y="317.6" width="9.34" height="12" fill="#e89a80" stroke="#b4b4b4" stroke-width="0.35"/>
<rect x="383.12" y="317.6" width="9.34" height="12" fill="#e2e9ef" stroke="#b4b4b4" stroke-width="0.35"/>
<rect x="392.46" y="317.6" width="9.34" height="12" fill="#d1e2ec" stroke="#b4b4b4" stroke-width="0.35"/>
<rect x="355.1" y="329.6" width="9.34" height="12" fill="#f3e8e0" stroke="#b4b4b4" stroke-width="0.35"/>
<rect x="364.44" y="329.6" width="9.34" height="12" fill="#a8d0e8" stroke="#b4b4b4" stroke-width="0.35"/>
<rect x="373.78" y="329.6" width="9.34" height="12" fill="#7abbe4" stroke="#b4b4b4" stroke-width="0.35"/>
<rect x="383.12" y="329.6" width="9.34" height="12" fill="#c54e50" stroke="#b4b4b4" stroke-width="0.35"/>
<rect x="392.46" y="329.6" width="9.34" height="12" fill="#d8e5ee" stroke="#b4b4b4" stroke-width="0.35"/>
<rect x="355.1" y="341.6" width="9.34" height="12" fill="#f3e4da" stroke="#b4b4b4" stroke-width="0.35"/>
<rect x="364.44" y="341.6" width="9.34" height="12" fill="#f3cdb9" stroke="#b4b4b4" stroke-width="0.35"/>
<rect x="373.78" y="341.6" width="9.34" height="12" fill="#f3e4da" stroke="#b4b4b4" stroke-width="0.35"/>
<rect x="383.12" y="341.6" width="9.34" height="12" fill="#e9edf1" stroke="#b4b4b4" stroke-width="0.35"/>
<rect x="392.46" y="341.6" width="9.34" height="12" fill="#a5cfe8" stroke="#b4b4b4" stroke-width="0.35"/>
<rect x="355.1" y="353.6" width="9.34" height="12" fill="#6db7e2" stroke="#b4b4b4" stroke-width="0.35"/>
<rect x="364.44" y="353.6" width="9.34" height="12" fill="#52abdc" stroke="#b4b4b4" stroke-width="0.35"/>
<rect x="373.78" y="353.6" width="9.34" height="12" fill="#d8e5ee" stroke="#b4b4b4" stroke-width="0.35"/>
<rect x="383.12" y="353.6" width="9.34" height="12" fill="#dce7ee" stroke="#b4b4b4" stroke-width="0.35"/>
<rect x="392.46" y="353.6" width="9.34" height="12" fill="#f3ece8" stroke="#b4b4b4" stroke-width="0.35"/>
<line x1="356.7" y1="279.4" x2="400.2" y2="279.4" stroke="#333" stroke-width="0.6"/>
<text x="378.45" y="266.76" font-size="7.2" text-anchor="middle" fill="#222">Immune</text>
<text x="378.45" y="275.56" font-size="7.2" text-anchor="middle" fill="#222">inhib.</text>
<text transform="translate(359.77 368.3) rotate(-90)" x="0" y="2.48" font-size="7.0" text-anchor="end" fill="#222">SIRPA</text>
<text transform="translate(369.11 368.3) rotate(-90)" x="0" y="2.48" font-size="7.0" text-anchor="end" fill="#222">LGALS9</text>
<text transform="translate(378.45 368.3) rotate(-90)" x="0" y="2.48" font-size="7.0" text-anchor="end" fill="#222">SIGLEC10</text>
<text transform="translate(387.79 368.3) rotate(-90)" x="0" y="2.48" font-size="7.0" text-anchor="end" fill="#222">CD274</text>
<text transform="translate(397.13 368.3) rotate(-90)" x="0" y="2.48" font-size="7.0" text-anchor="end" fill="#222">PDCD1LG2</text>
<rect x="402.8" y="281.6" width="9.34" height="12" fill="#d8e4ec" stroke="#b4b4b4" stroke-width="0.35"/>
<rect x="412.14" y="281.6" width="9.34" height="12" fill="#f3f0ee" stroke="#b4b4b4" stroke-width="0.35"/>
<rect x="421.48" y="281.6" width="9.34" height="12" fill="#a8d0e8" stroke="#b4b4b4" stroke-width="0.35"/>
<rect x="430.82" y="281.6" width="9.34" height="12" fill="#e8ecf0" stroke="#b4b4b4" stroke-width="0.35"/>
<rect x="440.16" y="281.6" width="9.34" height="12" fill="#e2e9ef" stroke="#b4b4b4" stroke-width="0.35"/>
<rect x="402.8" y="293.6" width="9.34" height="12" fill="#85c0e6" stroke="#b4b4b4" stroke-width="0.35"/>
<rect x="412.14" y="293.6" width="9.34" height="12" fill="#b8d6e8" stroke="#b4b4b4" stroke-width="0.35"/>
<rect x="421.48" y="293.6" width="9.34" height="12" fill="#a8d0e8" stroke="#b4b4b4" stroke-width="0.35"/>
<rect x="430.82" y="293.6" width="9.34" height="12" fill="#e1e8ee" stroke="#b4b4b4" stroke-width="0.35"/>
<rect x="440.16" y="293.6" width="9.34" height="12" fill="#d5e3ec" stroke="#b4b4b4" stroke-width="0.35"/>
<rect x="402.8" y="305.6" width="9.34" height="12" fill="#b0d4e8" stroke="#b4b4b4" stroke-width="0.35"/>
<rect x="412.14" y="305.6" width="9.34" height="12" fill="#a8d0e8" stroke="#b4b4b4" stroke-width="0.35"/>
<rect x="421.48" y="305.6" width="9.34" height="12" fill="#98c9e6" stroke="#b4b4b4" stroke-width="0.35"/>
<rect x="430.82" y="305.6" width="9.34" height="12" fill="#c6dcea" stroke="#b4b4b4" stroke-width="0.35"/>
<rect x="440.16" y="305.6" width="9.34" height="12" fill="#b0d4e8" stroke="#b4b4b4" stroke-width="0.35"/>
<rect x="402.8" y="317.6" width="9.34" height="12" fill="#f3c5b0" stroke="#b4b4b4" stroke-width="0.35"/>
<rect x="412.14" y="317.6" width="9.34" height="12" fill="#eceff2" stroke="#b4b4b4" stroke-width="0.35"/>
<rect x="421.48" y="317.6" width="9.34" height="12" fill="#f2b8a0" stroke="#b4b4b4" stroke-width="0.35"/>
<rect x="430.82" y="317.6" width="9.34" height="12" fill="#c2dbea" stroke="#b4b4b4" stroke-width="0.35"/>
<rect x="440.16" y="317.6" width="9.34" height="12" fill="#e6ebf0" stroke="#b4b4b4" stroke-width="0.35"/>
<rect x="402.8" y="329.6" width="9.34" height="12" fill="#d77a66" stroke="#b4b4b4" stroke-width="0.35"/>
<rect x="412.14" y="329.6" width="9.34" height="12" fill="#bd3045" stroke="#b4b4b4" stroke-width="0.35"/>
<rect x="421.48" y="329.6" width="9.34" height="12" fill="#d77a66" stroke="#b4b4b4" stroke-width="0.35"/>
<rect x="430.82" y="329.6" width="9.34" height="12" fill="#b82a45" stroke="#b4b4b4" stroke-width="0.35"/>
<rect x="440.16" y="329.6" width="9.34" height="12" fill="#b82a45" stroke="#b4b4b4" stroke-width="0.35"/>
<rect x="402.8" y="341.6" width="9.34" height="12" fill="#bcd8e8" stroke="#b4b4b4" stroke-width="0.35"/>
<rect x="412.14" y="341.6" width="9.34" height="12" fill="#d6e4ec" stroke="#b4b4b4" stroke-width="0.35"/>
<rect x="421.48" y="341.6" width="9.34" height="12" fill="#d2e2ec" stroke="#b4b4b4" stroke-width="0.35"/>
<rect x="430.82" y="341.6" width="9.34" height="12" fill="#e9edf1" stroke="#b4b4b4" stroke-width="0.35"/>
<rect x="440.16" y="341.6" width="9.34" height="12" fill="#d6e4ec" stroke="#b4b4b4" stroke-width="0.35"/>
<rect x="402.8" y="353.6" width="9.34" height="12" fill="#f3e2d8" stroke="#b4b4b4" stroke-width="0.35"/>
<rect x="412.14" y="353.6" width="9.34" height="12" fill="#d5e3ec" stroke="#b4b4b4" stroke-width="0.35"/>
<rect x="421.48" y="353.6" width="9.34" height="12" fill="#f3e2d8" stroke="#b4b4b4" stroke-width="0.35"/>
<rect x="430.82" y="353.6" width="9.34" height="12" fill="#dbe6ee" stroke="#b4b4b4" stroke-width="0.35"/>
<rect x="440.16" y="353.6" width="9.34" height="12" fill="#eceff2" stroke="#b4b4b4" stroke-width="0.35"/>
<line x1="404.4" y1="279.4" x2="447.9" y2="279.4" stroke="#333" stroke-width="0.6"/>
<text x="426.15" y="274.06" font-size="7.2" text-anchor="middle" fill="#222">Angiogenesis</text>
<text transform="translate(407.47 368.3) rotate(-90)" x="0" y="2.48" font-size="7.0" text-anchor="end" fill="#222">VEGFA</text>
<text transform="translate(416.81 368.3) rotate(-90)" x="0" y="2.48" font-size="7.0" text-anchor="end" fill="#222">CCL20</text>
<text transform="translate(426.15 368.3) rotate(-90)" x="0" y="2.48" font-size="7.0" text-anchor="end" fill="#222">VCAN</text>
<text transform="translate(435.49 368.3) rotate(-90)" x="0" y="2.48" font-size="7.0" text-anchor="end" fill="#222">EDN1</text>
<text transform="translate(444.83 368.3) rotate(-90)" x="0" y="2.48" font-size="7.0" text-anchor="end" fill="#222">TNFAIP6</text>
<text x="453.4" y="290.16" font-size="7.2" fill="#222">Macro−LY6E</text>
<text x="453.4" y="302.16" font-size="7.2" fill="#222">Macro−UBE2B</text>
<text x="453.4" y="314.16" font-size="7.2" fill="#222">Macro−FOLR2</text>
<text x="453.4" y="326.16" font-size="7.2" fill="#222">Macro−VSIR</text>
<text x="453.4" y="338.16" font-size="7.2" fill="#222">Macro−VEGFA</text>
<text x="453.4" y="350.16" font-size="7.2" fill="#222">Macro−MKI67</text>
<text x="453.4" y="362.16" font-size="7.2" fill="#222">Macro−NEAT1</text>
<rect x="459.3" y="378.6" width="36.2" height="4" fill="url(#gd)"/>
<text x="460.2" y="390.66" font-size="7.2" text-anchor="middle" fill="#222">−2</text>
<text x="476.2" y="390.66" font-size="7.2" text-anchor="middle" fill="#222">0</text>
<text x="493.3" y="390.66" font-size="7.2" text-anchor="middle" fill="#222">2</text>
<text x="520" y="258.29" font-size="13.5" font-weight="bold" fill="#000">f</text>
<line x1="548.5" y1="256.5" x2="548.5" y2="391.2" stroke="#2a2a2a" stroke-width="0.75"/>
<line x1="548.5" y1="391.2" x2="685" y2="391.2" stroke="#2a2a2a" stroke-width="0.75"/>
<line x1="547" y1="385.5" x2="548.5" y2="385.5" stroke="#333" stroke-width="0.5"/>
<text x="545.5" y="388.07" font-size="7.25" text-anchor="end" fill="#333">0</text>
<line x1="547" y1="347.73" x2="548.5" y2="347.73" stroke="#333" stroke-width="0.5"/>
<text x="545.5" y="350.3" font-size="7.25" text-anchor="end" fill="#333">100</text>
<line x1="547" y1="309.96" x2="548.5" y2="309.96" stroke="#333" stroke-width="0.5"/>
<text x="545.5" y="312.53" font-size="7.25" text-anchor="end" fill="#333">200</text>
<line x1="547" y1="272.19" x2="548.5" y2="272.19" stroke="#333" stroke-width="0.5"/>
<text x="545.5" y="274.76" font-size="7.25" text-anchor="end" fill="#333">300</text>
<line x1="579.7" y1="391.2" x2="579.7" y2="392.7" stroke="#333" stroke-width="0.5"/>
<text x="579.7" y="400.87" font-size="7.25" text-anchor="middle" fill="#333">−2.5</text>
<line x1="616.2" y1="391.2" x2="616.2" y2="392.7" stroke="#333" stroke-width="0.5"/>
<text x="616.2" y="400.87" font-size="7.25" text-anchor="middle" fill="#333">0.0</text>
<line x1="652.7" y1="391.2" x2="652.7" y2="392.7" stroke="#333" stroke-width="0.5"/>
<text x="652.7" y="400.87" font-size="7.25" text-anchor="middle" fill="#333">2.5</text>
<text x="616.8" y="411.47" font-size="7.25" text-anchor="middle" fill="#333">log2FoldChange</text>
<text transform="translate(523.9 324.3) rotate(-90)" x="0" y="2.48" font-size="7.25" text-anchor="middle" fill="#333">−log10(<tspan font-style="italic">P</tspan> value)</text>
<line x1="612.55" y1="257" x2="612.55" y2="391" stroke="#aaa" stroke-width="0.5" stroke-dasharray="1.5 1.5"/>
<line x1="620.14" y1="257" x2="620.14" y2="391" stroke="#aaa" stroke-width="0.5" stroke-dasharray="1.5 1.5"/>
<line x1="548.5" y1="385.7" x2="685" y2="385.7" stroke="#aaa" stroke-width="0.5" stroke-dasharray="1.5 1.5"/>
<path d="M619.5 383.3h0M618 377.5h0M613.9 367.5h0M618.7 385h0M616 365.7h0M613.2 385.5h0M617.9 366.5h0M617.7 380.7h0M613 366.2h0M619.8 368.8h0M619.2 363.5h0M617.2 379h0M618.5 384.9h0M615.8 372.1h0M614.2 385.4h0M619.4 380h0M619.1 378.2h0M614.8 384.1h0M615 383.4h0M615.6 366.7h0M617.8 381.9h0M619.1 378.9h0M618.8 370.8h0M615.8 379.4h0M619.9 378.7h0M617 360h0M613.5 377.6h0M617.3 364h0M614.2 379.8h0M618 378.2h0M614.8 382.8h0M616.5 377h0M613.4 385.5h0M618 380.7h0M613.1 380.5h0M614.4 383.3h0M614.6 368h0M615 358.1h0M613.1 384.2h0M616.6 377.6h0M617.7 367.3h0M613.4 376.1h0M614.7 360.8h0M614.2 383.4h0M617.6 374.6h0M614.8 381.9h0M617.1 385.5h0M613.8 370.1h0M618.3 383.3h0M613.9 370.2h0M618 357.8h0M615.2 370h0M616.1 358.9h0M619.9 372.9h0M614.2 365h0M614.5 384.8h0M619.2 384.9h0M616.3 376.1h0M616.5 380.8h0M618.1 379.1h0M619.1 379.7h0M619.1 364.5h0M614.2 368.6h0M618.9 379.5h0M617 381.1h0M618.8 383.8h0M615.5 381.6h0M613.6 365.8h0M616 385.5h0M613.8 378.9h0M618.4 380.2h0M619.5 362.8h0M613.5 366.8h0M616.1 380.9h0M618.5 385.5h0M618.5 382.7h0M614.9 371.5h0M616.1 381.4h0M613.1 384h0M614.6 379.5h0M618.5 383.1h0M615.9 368.9h0M618.3 385.5h0M613.7 382.9h0M619.3 368.5h0M616.8 383.1h0M616.6 362.6h0M614.1 381.2h0M619.2 385.5h0M614.3 366h0M614.3 372.6h0M615.6 368.7h0M616.7 370.7h0M617 385.2h0M613.3 372.3h0M614.9 385.4h0M619.8 369.7h0M619 378.9h0M614.9 370.2h0M618.9 378.9h0M616.5 377.9h0M614 369.7h0M616.6 378.5h0M617.8 375.3h0M616.3 382.8h0M613.7 378.5h0M619.7 367.1h0M615.9 375.5h0M616.2 380.8h0M614.9 380.8h0M615.6 359.7h0M617.6 383.7h0M615.5 385.5h0M618.7 375.5h0M613.4 382.2h0M613.1 358.8h0M616.6 379.6h0M615.5 357.8h0M615 383.3h0M614 380.6h0M616.6 362.1h0M614.9 369.3h0M619.4 371.9h0M619.7 383.5h0M618 382.5h0M616.2 360.1h0M615.8 360.6h0M619.5 379.1h0M613.4 374.1h0M616.7 384.6h0M613.4 381.4h0M615.3 365.9h0M615.6 361.9h0M616 384.2h0M619.3 365.4h0M614.8 375.4h0M614.8 376.5h0M613 381h0M619.5 385.5h0M614.7 367.9h0M613.3 373.7h0M617.3 365.3h0M616 369.8h0M618.7 379.2h0M613.5 381.9h0M619.4 384.9h0M613.4 382.7h0M613.9 375.3h0M618.4 379.4h0M615.9 383.4h0M619.1 360.5h0M613.2 363.5h0M616.9 358.5h0M619.9 384.6h0M619.9 384.8h0M613.5 385.4h0M617.3 378.1h0M618.7 374.7h0M618.1 385h0M619.7 381.8h0M617.8 373.3h0M619.4 384.8h0M614.4 382.5h0M618.5 379.5h0M616.3 381.8h0M614.7 374.1h0M615.8 384.9h0M617.7 370.1h0M617.6 383.8h0M617.9 365h0M613.3 384.2h0M618 357.9h0M618.2 382.8h0M617.4 374.9h0M617.7 381h0M615.7 380.5h0M618.2 381.8h0M615 363.9h0M614.8 385.2h0M615.5 368.4h0M618.9 385.5h0M613.5 379.2h0M616.5 368.7h0M618.8 364.5h0M619.2 365.5h0M618.7 380.4h0M617.6 377.5h0M617.4 383.7h0M619 385.2h0M617 384.2h0M618.8 364.7h0M616 364.1h0M619.9 385.3h0M619 382.2h0M616.1 379.8h0M616.8 376.1h0M617.1 367.4h0M616.7 384.4h0M619 385.1h0M615.5 384.3h0M615.4 374.5h0M618.5 362.3h0M616 381.6h0M616.6 369.1h0M615.3 372.9h0M617.1 375.2h0M615.5 362.1h0M614.5 366.5h0M614.6 382.4h0M613.7 360.7h0M616.3 382.5h0M617.6 370.2h0M615.7 384.9h0M614 369.8h0M618.8 384.9h0M613.5 385.5h0M618.8 384.1h0M616 381.3h0M619.2 376.1h0M614.3 385.4h0M617.5 380h0M616 384.7h0M613.4 375.2h0M613.4 381.6h0M613.1 361.6h0M617.3 384.5h0M617 383.5h0M619.9 381.4h0M615.5 375.3h0M616.4 384.2h0M618 367.7h0M616.6 370.4h0M615.8 360.4h0M619.7 375.9h0M616.3 367h0M618.4 366.7h0M615.8 382.4h0M615.6 368.3h0M616.8 381.2h0M614.8 385.2h0M614.7 357.8h0M613 366.3h0M616.6 382.1h0M619.6 382h0M615.1 359.3h0M619.4 384.7h0M616.6 366.8h0M613.1 385.3h0M617.8 371h0M615.3 378.3h0M615.6 382.7h0M617.3 379.6h0M615.4 379.7h0M617.6 383.6h0M614.3 360.3h0M617.5 367.7h0M613.9 383.5h0M614 365h0M613.6 384.9h0M615.6 365.9h0M615 385.5h0M616.3 376.8h0M618.9 384.6h0M614.9 370.7h0M614.8 381.9h0M617.3 385.5h0M617.6 382.7h0M615.2 364.9h0M615.5 382.5h0M613.3 378.1h0M615.2 380.3h0M618.8 385h0M616.4 370.7h0M618.1 385.2h0M619.2 380.5h0M614.7 372.6h0M617.1 368.5h0M618.6 381.1h0M614 381.7h0M617.3 385.4h0M614.1 382.8h0M618.4 385.4h0M619 382.7h0M618.7 362.4h0M619.6 383.6h0M618.9 373.4h0M615.2 361.7h0M619.3 380.6h0M613.7 382.4h0M616.9 385.4h0M619.6 382.1h0M615.8 385.5h0M617.2 370.1h0M617.5 365.1h0M619.8 363.3h0M617.2 363.8h0M616.7 380.1h0M614.8 383.6h0M616.1 376.8h0M613.6 380.3h0M618.6 329.6h0M618.6 350.5h0M619.7 347.3h0M619.2 331.4h0M618.7 331.4h0M618.6 350.7h0M618.1 330.3h0M619.6 361h0M618 360.5h0M618.9 355.1h0M618.4 351.5h0M618.5 355.9h0M619 363.1h0M618.3 360.9h0M619.9 331.8h0M619.1 354.6h0M617.8 366.4h0M620.1 349.1h0M618.9 367.1h0M617.8 337.4h0M618.4 346h0M619.8 339.1h0M619.7 333.7h0M619.4 366.8h0M618.5 347.1h0M618.9 362h0M618.8 352.8h0M618.4 330.8h0M618.1 334.8h0M618.9 341.7h0M618.9 354h0M618.3 364.9h0M618.3 353.3h0M619.5 335.3h0M619.5 344.2h0M617.8 363.6h0M619.9 367.1h0M620.1 350.1h0M618.7 356.9h0M619.8 343.4h0M619 352.6h0M618.4 355.6h0M620 332.7h0M618.1 352.3h0M618.9 334.2h0M618.8 339.4h0M619.6 367h0M620 366h0M618.6 363.4h0M618.3 370.2h0M618 343.4h0M617.9 365.7h0M619 369.8h0M619.6 361h0M619 342.2h0M620.1 331.8h0M619.7 357.6h0M618.2 341.6h0M617.9 337.8h0M620 342.4h0" stroke="#9c9ca4" stroke-width="1.5" stroke-linecap="round" fill="none"/>
<path d="M602.9 379.1h0M608.1 344.2h0M608.4 341.1h0M604.6 306h0M608.7 377.9h0M589.9 360.4h0M602.6 306.2h0M609.8 382.9h0M605.7 339.8h0M604.8 323.2h0M603.2 334.4h0M606.5 345.9h0M594.2 375.2h0M608.2 360.2h0M604.4 327h0M601 289.4h0M608.7 367.8h0M600.7 286.3h0M603 298h0M608.8 380.2h0M599.4 279.9h0M606.8 375.2h0M606.3 356.3h0M606.7 346.7h0M603.9 346.8h0M601.1 287.7h0M602.1 302.4h0M611.1 382.5h0M601.2 301.6h0M607.4 348.8h0M606.2 327.8h0M601.1 348.2h0M595.3 376.3h0M599.1 274.5h0M608.5 384.6h0M601.8 382.9h0M609.5 375.7h0M589.9 385.3h0M602.9 342.7h0M607.8 373.1h0M602 297.6h0M599.4 272.5h0M601.1 374.6h0M605.1 385.4h0M600.3 381.1h0M604.1 382.7h0M605.6 385.3h0M600.3 281.4h0M602.1 294.4h0M606 354.9h0M604.8 338.5h0M606.1 341.9h0M600.5 285.2h0M607.2 326.7h0M603.4 379.1h0M595.8 354.7h0M604.7 351.4h0M609.2 347.4h0M600.4 385.5h0M601.7 385.1h0M603.2 340.9h0M608.9 371.4h0M607.5 328.9h0M609.7 385.1h0M605.8 333.7h0M609.7 361.9h0M607.6 345.7h0M604.1 374.4h0M605.8 370.1h0M607.6 369.4h0M603.6 317.9h0M606.5 324.3h0M608.9 374.6h0M594.7 379h0M597.5 381.5h0M605.4 384.3h0M603.4 373.8h0M599.7 363.7h0M603.6 302.6h0M605.8 337.6h0M602.5 296.8h0M609.7 383.8h0M606.6 353.7h0M602.1 305.8h0M608.6 381.7h0M602.2 338.8h0M604.9 311.8h0M607.8 375.8h0M605.5 314.1h0M604.5 365.8h0M597.5 365.5h0M599.3 382.7h0M590.8 385.5h0M599.3 275.1h0M595.9 364.1h0M604.9 379.9h0M605.1 322.5h0M603.2 355h0M608.2 376h0M605.4 385h0M607.6 346.2h0M592.6 385.3h0M601.9 293h0M600.5 294.4h0M602.7 293.8h0M606.6 322.6h0M607.3 382.2h0M602.5 354.3h0M601.9 366.1h0M607.2 372.3h0M604.8 378.3h0M604.3 316.2h0M608.2 371.5h0M603.3 309.9h0M605.9 382.2h0M601.7 311.9h0M602.8 308.7h0M603.9 301.2h0M610.8 385.2h0M605.9 354h0M598.9 365.2h0M608.8 385.5h0M608.1 385.2h0M608 385h0M600.2 277.9h0M608.5 356.9h0M608.4 374.2h0M605.6 338.1h0M607.6 346.5h0M607.3 373.3h0M596.1 383.8h0M607.1 369.1h0M607.4 384.8h0M605.6 344.1h0M603.5 316.1h0M604.2 341.5h0M605.3 364.4h0M605.3 329.5h0M608.3 365.5h0M601.8 378.7h0M609.4 353h0M608.5 365h0M599 365h0M598.7 369.6h0M602.7 294.2h0M605.9 361.1h0M605.9 383.8h0M601.6 296.3h0M604.3 314.3h0M602.9 349.5h0M611.1 384.3h0M611.4 383.2h0M605.3 317.6h0M610.7 384.4h0M603.4 297.7h0M604.3 305.3h0M603.1 383.8h0M602.8 306.3h0M599.6 282.7h0M602.6 385.4h0M603.1 318.8h0M610.8 384.2h0M606 321.9h0M610.4 373.6h0M608.1 349.5h0M605.2 381.8h0M599.9 378.4h0M602.8 367.9h0M605.5 370.2h0M607.1 365.7h0M582.9 384.7h0M611.1 366.2h0M604.9 322.2h0M603.7 320.7h0M604.5 334h0M608.2 338.7h0M602.7 294.2h0M605.9 322.1h0M601.2 290.3h0M607 326.9h0M611.2 381.6h0M606.5 346.6h0M610.1 374.3h0M599.6 282.5h0M609.1 375.6h0M602.9 302.9h0M609.2 346.8h0M604.3 385.4h0M607.8 359.4h0M608.1 370.8h0M610.9 373.7h0M599.3 274.2h0M605 359.4h0M603.7 306.6h0M603.3 309h0M606.3 326.6h0M602.3 302.3h0M600 281h0M610.1 360.7h0M605.5 327.1h0M602.1 333.8h0M607 378.9h0M611.6 381.4h0M605.8 329.2h0M603.2 302h0M603.3 300.7h0M599.1 374.4h0M603.9 384.7h0M607.5 384.5h0M605.6 371.1h0M609.3 347.3h0M610.6 372.8h0M606.2 363.9h0M609.2 346.7h0M600.1 282.1h0M603.5 383.9h0M609.5 376.9h0M602.8 296.3h0M600.4 291.9h0M600.6 369.6h0M606.2 317.9h0M605.5 333.7h0M607.6 337h0M605 321h0M600.3 280.8h0M600.3 384h0M604.8 357.9h0M604.1 333.3h0M606.9 349.2h0M603.9 340.4h0M600.4 381.9h0M602.1 383.8h0M601.3 287.1h0M605.5 326.7h0M603.5 345.1h0M607.6 361.8h0M610.1 374.4h0M606.5 327.4h0M603.1 321h0M607.9 370.9h0M597.7 377.5h0M597.1 385.3h0M610.2 356.6h0M597.5 371.3h0M602.9 372.9h0M604.8 318h0M609.2 371.4h0M608 377.2h0M597.8 384.4h0M604.3 325.6h0M608 381.6h0M604.6 322.9h0M605.2 310.1h0M597.9 383.1h0M608 367.5h0M604.2 348.9h0M611.9 380.9h0M592.8 385.4h0M602.2 312.4h0M599.4 368.9h0M603.7 350.9h0M599.6 277.3h0M606.1 332.1h0M599 358.9h0M609.2 344.5h0M606.1 318.2h0M604.3 335.9h0M610.4 361.5h0M609.2 381.3h0M610.1 357.1h0M604.3 338.2h0M600.5 281.3h0M601.7 295.3h0M603.7 341.5h0M606.9 385.2h0M605.9 384.8h0M605.9 352.6h0M603.3 299.6h0M604 330.8h0M603 344.6h0M601.7 288.1h0M598.2 372.1h0M602.3 311.8h0M605.3 363.9h0M605.5 320.6h0M611.5 385.3h0M610 384.8h0M607.1 357.5h0M604.8 330.1h0M607.7 337.7h0M597.1 375h0M608.4 367.2h0M598.8 381.8h0M603.9 370.2h0M600.9 369.9h0M609.4 379.8h0M607.1 385.5h0M594.2 383.2h0M609.3 361.5h0M605.3 382.2h0M610.3 367h0M609.8 384.1h0M608.3 382.3h0M611.8 385.4h0M602.1 362.8h0M602.7 385.2h0M609.8 367.1h0M600.6 279.9h0M602.6 380.1h0M605.4 382.4h0M607.8 341.6h0M607.4 385.2h0M606.5 325.5h0M599.6 361h0M601.6 286.9h0M605 377.5h0M604.2 310.3h0M604.8 384.5h0M604 332.7h0M609.2 385.5h0M606.3 385.4h0M608.4 385.3h0M598.7 385.2h0M594.1 380.9h0M598.7 278h0M602.1 290.1h0M600.7 285.4h0M608.4 343.8h0M600.7 284h0M603.7 303.7h0M604.6 384h0M606.3 333.1h0M601.2 287.8h0M603.5 324.5h0M601.5 306.4h0M605.4 370.6h0M609.5 366h0M599.9 359.3h0M604.6 377.3h0M603.4 343.9h0M605.1 328.3h0M604.1 382.8h0M604.5 328.3h0M606.2 320.3h0M606.2 333.5h0M603.9 304.9h0M603.3 338.7h0M601.5 362.6h0M602.9 294.4h0M604.3 370h0M590.1 384.9h0M596.2 384.3h0M608.2 348.8h0M607.7 337.8h0M606.5 378.9h0M608 338.4h0M606.2 346.6h0M600.6 279.5h0M602.4 380h0M605.3 316.4h0M608 344.1h0M599.7 381.5h0M595.1 381.9h0M602.5 384.1h0M604.8 385.4h0M602.9 295.1h0M604.5 384.7h0M604.6 307.5h0M604.8 342.6h0M602 299.4h0M604.3 371.9h0M605 384.1h0M602.4 306.4h0M601.7 380.7h0M601.8 352.6h0M608.1 384.8h0M608.3 371.9h0M609.7 350.9h0M603.9 324.2h0M606.4 343.9h0M592.6 380.3h0M589.1 372.8h0M606.8 364.5h0M608.3 382.4h0M601.6 287.3h0M598 275.2h0M604.5 343h0M607.4 365.6h0M599.3 283.7h0M602 358.9h0M600.4 317.7h0M600.2 289.5h0M606.4 375.8h0M609.2 384.5h0M606.4 326.4h0M604.4 339.2h0M611.7 385.3h0M605.4 364.3h0M610.8 372h0M596.7 376.1h0M608.6 384.3h0M601.4 384.8h0M610.7 382.8h0M598.8 277.5h0M599.6 276.8h0M604.9 382.6h0M601.2 374.5h0M608.6 352.2h0M607.4 370.8h0M606.5 361.2h0M602.9 296.4h0M604.3 378.8h0M604.5 311.8h0M609.9 353.6h0M609.2 353h0M609.1 380.8h0M600.7 318.3h0M604.8 315.6h0M599.6 276.8h0M610.5 385.5h0M609.8 364.3h0M608.6 351.7h0M608.9 384.5h0M604.3 312.6h0M610.9 365.7h0M608.9 364.6h0M605.1 340.9h0M602 311.4h0M601.2 378.6h0M603.5 314.9h0M606.8 356.2h0M601.6 376.6h0M597.2 382.3h0M602.8 294.3h0M601.1 292.5h0M601.7 287.8h0M603.9 310.4h0M606.8 355h0M605.6 382.2h0M598.4 274h0M606 351.6h0M607.5 362.1h0M601.3 312.4h0M604.2 382.8h0M602.7 374.3h0M604.1 303.4h0M603 307.9h0M605.7 385.4h0M604.5 348.1h0M608.5 376.6h0M606.5 328.5h0M607.5 334.8h0M594.6 369.9h0M600.7 281h0M605.9 338.6h0M590.3 381.8h0M608.1 368.9h0M604.6 377.2h0M600.4 283.3h0M609 368h0M607 376.5h0M599.7 276.6h0M611.1 384.8h0M604.8 384.8h0M609.7 354.1h0M601.6 340.4h0M603.8 309.7h0M600.9 280.8h0M610.6 385h0M601.1 377.4h0M606.4 351.7h0M600.8 281.6h0M606.5 383.1h0M599.4 273.8h0M607.1 333.9h0M607.2 385.2h0M605.9 320.1h0M604.1 308.8h0M600.6 298.8h0M606 353.1h0M605.3 368.9h0M599.3 275h0M608.2 376.6h0M607.6 383.7h0M608.6 371.4h0M609.9 381.3h0M598.7 285.5h0M611.3 378.6h0M602.5 371.3h0M606.7 329.4h0M603.7 374.4h0M606.5 322.1h0M604.1 316.2h0M607.6 352.7h0M598.3 363.3h0M607.8 380.9h0M601.6 345.5h0M603.8 381.9h0M600.5 280.3h0M607 377.5h0M585.7 380.9h0M604.5 366.5h0M603.5 299.2h0M603.6 299.8h0M603 314.1h0M609.7 354.2h0M604.2 319h0M606.3 363.4h0M604.5 383.1h0M607.4 356.4h0M608.3 369.7h0M605.6 344.6h0M598.4 276.6h0M603.5 306.5h0M604.6 376.2h0M610.7 383.8h0M609.8 357.1h0M605.4 338.3h0M601.9 376.5h0M609.2 359.6h0M599 353.5h0M598.9 353.9h0M609 363.4h0M609.2 365h0M604.3 304.1h0M603.7 302.8h0M604 368.8h0M610.8 380.3h0M605.9 351.4h0M602.9 300.2h0M606 328.2h0M606.6 356.6h0M603.6 367.5h0M602.3 298.7h0M607.6 346.8h0M606.9 369.9h0M608 342.7h0M608.9 373.9h0M600.6 376.4h0M602 289.3h0M609.3 353.1h0M601.9 306h0M600.9 291h0M606.2 383.8h0M602.5 297.8h0M602.2 295.7h0M605.5 376.2h0M601.9 344.9h0M602.1 384.7h0M610.2 385.5h0M604.3 307h0M605.7 368.4h0M603 355.8h0M606.4 336.2h0M595.2 363.9h0M603.1 331.4h0M595.1 384.7h0M599.2 274h0M599.6 385h0M610.6 365.3h0M602.6 294.9h0M605.4 365.6h0M607.2 347h0M607.9 368.1h0M610.4 384.6h0M601.6 286.4h0M608.1 354.4h0M610 379.4h0M605.8 360.6h0M602.9 376.3h0M599.5 276.2h0M601.5 380.9h0M607.8 375.4h0M608.4 353.5h0M604.9 341.9h0M601.1 291.7h0M604 302.2h0M604.7 385.1h0M609.3 364.3h0M602.9 299.5h0M601.6 380.2h0M589.5 383.9h0M601.9 290.9h0M607.7 381.6h0M601.2 385.3h0M604.3 303.4h0M603.3 306.9h0M608.6 368.3h0M611.9 381.9h0M605.5 330.9h0M607 372.4h0M607.8 363.3h0M609.5 349.3h0M596.6 380.2h0M606.7 334.5h0M605.8 321.6h0M601.4 367.9h0M607.6 340.8h0M599.7 363.3h0M603.2 301.8h0M606.3 358.3h0M602.5 294h0M607 332.2h0M598.2 275.3h0M602 371.9h0M611.6 381.9h0M605.1 327.3h0M603.3 346.9h0M591.4 384.2h0M608.5 359.6h0M606.3 352.5h0M605.6 358h0M608.2 347h0M605.5 384.5h0M604.8 319.8h0M602.8 295.3h0M599.8 296.8h0M603.5 306.3h0M606.7 322.1h0M607.6 333.3h0M605.4 324.3h0M605.3 349h0M607.9 378.4h0M601.9 368.7h0M603.1 384.1h0M606.5 326h0M606.6 382.1h0M608.2 366.6h0M608.4 347.9h0M609.3 359.1h0M605.8 380.9h0M611.8 384.3h0M600.7 352.8h0M605 355.4h0M605.7 367.6h0M608.8 374.3h0M599.7 285.1h0M600.4 359.7h0M609.6 364.2h0M586 381.6h0M606.5 348.5h0M611.4 379.9h0M599.6 275.5h0M601 293.1h0M606.8 384.4h0M596.3 379.7h0M605 361.8h0M606.2 319.6h0M607.9 382.4h0M606.4 356.2h0M602.4 369.8h0M603.4 356.7h0M603 332h0M604.3 378h0M605.6 351.9h0M606.4 385.3h0M607.4 382.2h0M605.4 320.4h0M599.6 356.6h0M605.8 325.6h0M601.7 369.8h0M606 322.5h0M602 289.4h0M599.7 276.6h0M603.1 323.5h0M610.3 383h0M606.6 352h0M599.6 382.6h0M596.5 383.4h0M596.5 383.3h0M595.3 385.5h0M604.6 368.2h0M601.8 362h0M611.3 377.6h0M605.4 329.8h0M607.7 330.2h0M599.8 382.2h0M609.5 373.3h0M599.1 278.6h0M603.1 368.4h0M603.1 312h0M607.3 373.4h0M595.1 379.8h0M607.1 372h0M608.1 379.5h0M609.6 374.2h0M603.6 348.3h0M608.3 376h0M602.1 385.4h0M610.4 381.1h0M608.9 348.8h0M602.1 344.5h0M608 335.8h0M602.5 364.9h0M597.2 374.7h0M606.4 357.2h0M599.3 384.4h0M606.7 341.4h0M592.1 363.7h0M583.2 382.3h0M607.3 370.3h0M610.4 357.2h0M610.4 359.4h0M594.6 366.1h0M610.9 385.5h0M607.5 328.6h0M603.5 299.9h0M607.6 333.8h0M604.3 375h0M610.4 375h0M608.8 383.5h0M600.5 280.2h0M605 385.3h0M610.4 384.7h0M602.9 322.6h0M608.5 356.2h0M603.9 340.4h0M606.1 355.7h0M600.5 280.6h0M608.1 333.7h0M600.6 288.3h0M606.2 349.9h0M601.2 368.2h0M608.8 385.4h0M611.1 374.9h0M605.8 360.1h0M603.2 378h0M604.2 322.8h0M600.4 281.8h0M610.7 372.6h0M611 385.1h0M603.7 343.2h0M610 378.9h0M607.7 381.9h0M610 357h0M599.7 349.3h0M609.3 372.4h0M606.8 324.6h0M604.3 321.6h0M600.5 377.1h0M611 380h0M606.5 343.9h0M608.5 338.8h0M605.4 319h0M605.3 359.6h0M605.3 364.3h0M600.5 381h0M605.1 327.5h0M601.6 290.6h0M602.1 312.9h0M606 327.9h0M606 317.2h0M601.8 293.8h0M600.4 283.9h0M599.7 375.8h0M599.1 364h0M607.7 383.1h0M598 365.3h0M592.9 374.2h0M604.2 378.2h0M602.9 385.5h0M609.2 368.7h0M600.3 277.6h0M602.8 296.2h0M607.8 378.8h0M589.3 379.5h0M602.4 293.5h0M604.6 380.2h0M605.1 352.2h0M608.2 356.3h0M600.8 375.4h0M602.2 321.2h0M604 309.4h0M608.6 380.8h0M589.8 382.8h0M602 290.8h0M606 350.2h0M604.3 385.1h0M602.7 292.8h0M600.6 284.1h0M604.2 380.9h0M607 335.4h0M603.3 384.2h0M606.5 372h0M606.3 337h0M607.5 383.8h0M600.3 348h0M608.9 372.1h0M609.6 382.2h0M607.8 374.1h0M606.1 352.1h0M607.2 375.9h0M609.4 358.7h0M604.1 318.7h0M607.9 359.1h0M603.8 304.1h0M605.1 359.5h0M603.3 304.4h0M606.5 369.5h0M604 385.5h0M604 351.9h0M609.8 362.4h0M609.8 360.2h0M599.6 276.4h0M607.6 384h0M604.9 313.8h0M601.5 377.8h0M603.7 305.7h0M601.6 304.5h0M590.7 385.2h0M601.1 369.2h0M603.9 362.4h0M604.4 322.8h0M596.9 333.6h0M603.1 298.7h0M603 295.5h0M594.5 384.6h0M602.9 376.6h0M606.1 335.8h0M607.1 327.5h0M586.2 385.3h0M610.3 380.3h0M607.5 329.2h0M603.5 319h0M605.9 330.3h0M609.8 352.9h0M600.3 278.9h0M598.2 383.6h0M602.8 304.2h0M606.9 334.7h0M609.5 383.4h0M601.7 301.8h0M611.2 376.5h0M602.2 293.8h0M604.5 363.8h0M605.5 330.2h0M604 374h0M603.2 317.1h0M593.3 375.6h0M604.6 325.2h0M600.3 345.5h0M601 364.5h0M604.5 380.2h0M607 344.6h0M600.4 370.4h0M607.7 361.7h0M604.6 336.1h0M605.6 357.7h0M599.9 354.5h0M610.9 381.3h0M604.8 315.6h0M591.8 384.9h0M601.5 358.8h0M606.4 380.9h0M603.7 377.7h0M605.2 347.8h0M608.8 385.5h0M600.4 281.7h0M605.8 362h0M607.3 336.2h0M605.2 310.6h0M610.6 363.6h0M600.3 358.4h0M607.4 374h0M603.3 375.7h0M604.9 357.6h0M602.8 301.8h0M610.8 385h0M605.8 350.9h0M603.7 371.8h0M605.7 385.5h0M610.5 384.5h0M603.4 303.4h0M606.5 328.3h0M603 339.9h0M605.7 379.6h0M599.1 272.8h0M605.7 378.5h0M603.3 301.3h0M599.5 383h0M610.3 364.7h0M601.9 289.4h0M602.5 305.3h0M606.5 342.3h0M600.3 277.8h0M603 383.8h0M610.6 381.8h0M605.9 322.8h0M602.1 367.7h0M604.4 332h0M603.4 304.6h0M609.7 370.1h0M604.1 364.6h0M602.6 323.4h0M601.7 287.8h0M605.3 356.3h0M605.9 322h0M604.3 371.2h0M608 342.7h0M589.4 385.5h0M606.3 337.8h0M609.4 348.7h0M598 360h0M607.3 346.5h0M603.2 299.5h0M604.3 307.9h0M602.2 306.8h0M610.5 368.1h0M608 380.7h0M605.3 320.5h0M607.6 348.1h0M604.3 375.1h0M602.2 292.8h0M605.7 349.9h0M605.8 364h0M603.1 376.3h0M599 276.8h0M601.5 376.7h0M609.7 381.2h0M602.1 337.2h0M609.6 380.3h0M601.9 369.7h0M603.3 346.2h0M605.7 321.5h0M599.1 276.1h0M600.6 284.2h0M602.6 336.6h0M601.7 385.4h0M604 314.3h0M603.5 374.6h0M605.6 342.1h0M603.6 378h0M601.5 287.2h0M604.3 320.9h0M606.8 368.7h0M604 302.1h0M606.4 319.4h0M604.4 309.4h0M600.3 385.5h0M607 385.1h0M603.5 365.3h0M603.7 374.3h0M603.1 310.4h0M598.7 367.3h0M607.9 384.8h0M611.2 378.2h0M604.3 318.1h0M603 301.9h0M605.1 346.1h0M602.8 308.3h0M591.5 272.2h0M592.3 272.2h0M586.6 272.2h0M588.2 272.2h0M599.2 272.2h0M598.9 272.2h0M580.5 272.2h0M584.2 272.2h0M584.8 272.2h0M595.5 272.2h0M584.3 272.2h0M583.7 272.2h0M595 272.2h0M583.7 272.2h0M599 272.2h0M589.1 272.2h0M597.5 272.2h0M596 272.2h0M584.4 272.2h0M595.3 272.2h0M588.3 272.2h0M584.7 272.2h0M581.4 272.2h0M593.8 272.2h0M591.1 272.2h0M586.2 272.2h0M596.2 272.2h0M584.2 272.2h0M588.9 272.2h0M582.1 272.2h0M587.1 272.2h0M597.2 272.2h0M590 272.2h0M583.4 272.2h0M572 272.2h0M574.5 272.2h0M577 272.2h0M579 272.2h0M554.5 272.2h0M566.9 272.2h0M568.9 301.2h0M592.4 281.2h0M591.7 287.4h0M593 308h0M596 306h0M583.5 350.5h0M584.5 345h0M582 381h0M587 373.5h0M579 360h0M581.5 366h0" stroke="#2f8bcb" stroke-width="1.5" stroke-linecap="round" fill="none"/>
<path d="M625.2 379.2h0M622.9 296.3h0M629.5 385.1h0M623 308.9h0M624.5 371.3h0M622.8 341h0M632.7 385.4h0M623 298.1h0M622.9 302.5h0M623 298.7h0M623 330.4h0M625.2 385.4h0M622.4 384.6h0M630.3 383.8h0M623.1 278.8h0M622.9 295.2h0M633.3 379.7h0M630.8 377.4h0M627 383.7h0M623.2 313.3h0M623.6 366.6h0M624.1 379.3h0M622.5 365.6h0M622.9 287.9h0M627.9 385.4h0M622.7 309.5h0M623 309.7h0M622.8 330.2h0M623.6 375.8h0M622.8 297h0M624.4 345.7h0M626.3 374.2h0M622.4 385h0M623.6 376.5h0M623.2 328.4h0M622.8 302.9h0M622.8 308.9h0M627.5 378.3h0M626.7 382.7h0M622.7 323.5h0M627.1 373.9h0M623 340.8h0M622.8 382.8h0M631.4 380.4h0M623.1 334.4h0M622.8 280.7h0M623.4 342.7h0M622.8 321.3h0M622.8 332.7h0M623.6 347.3h0M624.9 361.1h0M623.2 313.9h0M623 310.7h0M623.4 340.9h0M622.9 285.7h0M622.8 277.6h0M623.7 369.8h0M626.3 367.6h0M628.8 363.7h0M624 353.3h0M622.8 314.7h0M623.7 344.1h0M622.8 322.9h0M622.9 279.5h0M622.7 343.3h0M630.5 384.4h0M627.1 379.4h0M623.1 300.5h0M627.4 382.5h0M623.5 357.7h0M622.8 328.2h0M623.9 346.8h0M622.9 376.1h0M622.9 345.8h0M629.3 381.5h0M623 354.9h0M623.7 343h0M623.1 315.8h0M639.5 382.8h0M622.7 366.4h0M627.3 384.3h0M631.4 382h0M623.9 369.7h0M623.1 337.1h0M622.9 283.6h0M623.5 341.1h0M626.5 374.6h0M623.5 346.5h0M622.6 358.2h0M622.9 327.8h0M623 277h0M622.8 275.4h0M626.4 384.7h0M631.4 385h0M623.8 340.6h0M622.9 375.1h0M622.9 288.8h0M623.4 367.1h0M622.5 382.9h0M625.7 384.9h0M625.8 384h0M624.9 373.7h0M624.7 362.9h0M622.9 283.9h0M630 372.4h0M624.1 378.8h0M625.3 382.1h0M622.9 295.4h0M622.9 308.9h0M627.1 384.3h0M623 299h0M624.5 382h0M624.5 379.7h0M623 350.7h0M623.4 341.3h0M622.9 367.6h0M628.1 381.3h0M624.5 349.5h0M625.5 378.3h0M624.7 382.2h0M623 341.1h0M630.6 384.1h0M622.9 276.9h0M623 274.8h0M622.7 314.4h0M622.8 303.3h0M627.6 367.4h0M622.8 287.4h0M638.1 385.2h0M624.9 373h0M623.3 375.1h0M623.1 272.6h0M623 302.5h0M629.9 381.2h0M623.1 332h0M623.1 349.1h0M625.6 374.9h0M629.6 370.2h0M630.9 384.2h0M622.7 333.7h0M624.5 372.5h0M622.9 306.8h0M626 377h0M622.9 294.3h0M625.6 381.9h0M623.6 383h0M623.7 354.6h0M627.9 380.2h0M626.5 374.6h0M636.7 384.8h0M624.6 365.9h0M627.8 378.1h0M622.9 272.8h0M625 385.5h0M623.7 363.6h0M625.4 376.3h0M622.7 313.3h0M622.7 335.6h0M626.4 384.6h0M622.7 344.5h0M622.9 303.4h0M622.8 341.5h0M622.9 330h0M623.3 369.4h0M622.9 356.5h0M630 378.1h0M622.9 292.7h0M626.6 384.8h0M625.5 383.7h0M627.8 365.8h0M628.3 363.3h0M622.9 319.1h0M625.5 379h0M627.9 378h0M623.1 371.8h0M622.9 321.9h0M623.4 344.2h0M622.9 342.9h0M623.4 332.4h0M623.1 361.2h0M628.7 372.2h0M624.1 371.6h0M630 385.4h0M623.8 369.6h0M627.3 384.4h0M622.8 319.7h0M623.2 353.8h0M626.5 362.8h0M622.8 384.7h0M623.3 364.6h0M623.1 291.9h0M626 382.8h0M624 379h0M623.2 339.4h0M630.4 385.4h0M622.7 336h0M623 308.1h0M626.5 377.1h0M623 362.1h0M622.9 355.6h0M623 356.9h0M622.9 308.5h0M623.5 371.7h0M623.6 354.7h0M624 367.5h0M626.6 380.2h0M623.1 356.7h0M622.8 346h0M632.7 374.8h0M624.6 383.5h0M622.8 330.6h0M622.8 298.6h0M622.8 292h0M623.1 277.1h0M623.3 350.5h0M623.1 301.8h0M622.8 302.5h0M623.3 351.7h0M623.6 346.1h0M623.1 303.9h0M623.3 332.1h0M624.5 381.2h0M623.1 311.6h0M623.6 341.2h0M624.9 376.8h0M625.1 361.1h0M623.3 330.5h0M625.4 364.6h0M622.7 363.6h0M625.6 363.1h0M623.6 375.8h0M622.7 378.1h0M622.8 308.2h0M622.8 304h0M626.8 369.7h0M622.7 327.1h0M622.5 374h0M622.7 304.1h0M625.1 374.6h0M622.9 321.9h0M624.8 369.5h0M622.9 307h0M622.8 317.1h0M623.2 284.9h0M627.1 379.1h0M623.3 280.4h0M625 383.6h0M634.1 377.6h0M622.8 316.4h0M625.1 356.2h0M624.5 360.2h0M623 329.9h0M624.4 375.9h0M623.1 377.9h0M622.8 273h0M623.3 321.8h0M635.2 383.5h0M623.1 303.3h0M623 274.1h0M623.1 319.5h0M622.8 290.6h0M622.9 374.4h0M623.8 385.5h0M628.9 376.9h0M626.6 378.5h0M623.3 355.3h0M622.9 345.9h0M623.1 378.1h0M631.9 384.8h0M622.9 336.7h0M623.3 310.5h0M622.6 373h0M623.5 340.7h0M626.7 375.2h0M622.5 376.8h0M625.9 361.9h0M627.7 382.8h0M625.9 369.8h0M623.2 345.7h0M623 312.7h0M629.7 375.1h0M624.8 353.7h0M633.5 385.4h0M623 300.2h0M623.1 326h0M622.8 384h0M623.1 344.9h0M622.6 343.3h0M622.9 303.5h0M626.6 379.1h0M623.3 324.7h0M625.1 367.3h0M622.8 322.7h0M622.9 320.8h0M622.5 368.6h0M622.7 326h0M622.8 321.3h0M622.9 374h0M622.9 380.6h0M623.1 346.7h0M623.8 351.1h0M626.3 363.8h0M623.3 355.8h0M628 381.6h0M622.8 282.6h0M624.6 357.6h0M622.7 342.3h0M623 351.8h0M623.3 293.7h0M627.9 369.7h0M622.8 272.6h0M627.1 380.4h0M623.2 296.1h0M622.8 346.8h0M623 352h0M623.2 306.6h0M627.9 376.1h0M624.6 348.1h0M626.5 385.5h0M625.9 365h0M623 290.1h0M630.5 382.9h0M623.3 354.3h0M623.3 293.4h0M636.6 377.6h0M622.6 384.6h0M627.4 384.9h0M628.5 373.5h0M623 328.8h0M634.7 385.3h0M622.8 331.8h0M623.1 300.9h0M623.1 309.7h0M624.1 351.9h0M626 384.2h0M631.3 372.7h0M624.6 360.3h0M623 314.7h0M623.3 360.4h0M622.5 381h0M630.3 382.7h0M624.5 384.9h0M623.1 339.8h0M626.9 385.4h0M625.3 359.9h0M629 370.7h0M622.9 307.6h0M622.8 305.6h0M629.5 376.9h0M622.8 273.5h0M623 329.4h0M622.9 282.8h0M622.8 302.7h0M624.4 377.3h0M622.9 320.6h0M632.1 377.5h0M622.7 331.6h0M623.5 355h0M622.7 340.8h0M623.4 340.9h0M622.8 281.6h0M623.5 356.4h0M624.3 345.1h0M623.5 380.9h0M623.5 356.2h0M622.8 362.1h0M625.1 362.3h0M623.1 275.3h0M622.8 279.1h0M623 283.4h0M624.6 384.7h0M622.8 281.1h0M623.2 356.5h0M622.8 296.9h0M623 273.8h0M624.6 348.9h0M624 374.5h0M627.6 383h0M623.4 370.1h0M622.8 294.3h0M622.8 304h0M624.4 362.5h0M622.8 352.1h0M623.8 355.8h0M623.1 351.3h0M628.3 385.5h0M623.8 367h0M622.9 341h0M623.7 383.5h0M632.5 384.3h0M624.3 362.1h0M622.8 320.7h0M622.8 304.3h0M623.2 320.8h0M623.5 345.3h0M622.9 323.5h0M622.7 331.4h0M623.2 328.2h0M623.9 361.3h0M623.2 351h0M623.1 348.9h0M622.8 334.9h0M630 384h0M622.7 330.7h0M622.9 302.1h0M622.8 291.7h0M623.1 360.2h0M622.7 301.8h0M623.2 379.6h0M627.1 379.3h0M623.8 376h0M626.7 370.8h0M623.3 320.7h0M625.6 369.5h0M622.7 332.7h0M627.1 367.4h0M622.8 381.3h0M627.8 371.5h0M623.4 335.2h0M622.9 294h0M623.1 278.8h0M623 316.3h0M625.8 383.2h0M624.8 380.1h0M625.2 385.4h0M624.2 346.5h0M622.8 313.5h0M622.8 304.2h0M622.9 294.5h0M627.1 382h0M623.8 363.7h0M622.9 334h0M622.6 339.8h0M623.5 357.3h0M622.9 328.2h0M623.1 294.3h0M623.1 320.4h0M622.9 335.4h0M624.3 372.3h0M623 327.1h0M622.8 321.6h0M631.2 384.9h0M623.9 345h0M622.9 301.5h0M626.9 385.2h0M622.8 280.2h0M622.8 275.5h0M628 383.1h0M622.8 291.6h0M623.4 311.7h0M623 370.8h0M626.2 373.2h0M623.2 364.9h0M623.4 349.9h0M622.9 349h0M625.3 365.5h0M624.3 350.5h0M625.2 384.2h0M628.8 381.9h0M622.8 303.9h0M623.8 344.7h0M623.2 309h0M623.4 375.8h0M629.4 379.5h0M623.3 345.2h0M622.8 326.4h0M627.6 378.1h0M630.7 381.3h0M623.1 293.4h0M624.3 353.4h0M622.6 358.4h0M622.9 282.5h0M634.2 380.1h0M624 352.8h0M623.8 347.2h0M626.5 377.9h0M626.5 376.4h0M629.6 379.8h0M624.3 378.4h0M622.7 312.1h0M637.7 272.2h0M625.9 272.2h0M635.8 272.2h0M636.1 272.2h0M624.5 272.2h0M632.4 272.2h0M640.8 272.2h0M633 272.2h0M639.3 272.2h0M627.8 272.2h0M645.6 272.2h0M637.9 272.2h0M635.4 272.2h0M622.7 272.2h0M630.7 272.2h0M622.4 272.2h0M632.6 272.2h0M626.5 272.2h0M628.1 272.2h0M629.5 272.2h0M625.8 272.2h0M629 272.2h0M634.1 272.2h0M625.5 272.2h0M635.4 272.2h0M644.4 272.2h0M639.1 272.2h0M644.5 272.2h0M624.9 272.2h0M637.7 272.2h0M649.5 272.2h0M652 272.2h0M654 272.2h0M661 272.2h0M666.4 272.2h0M672.2 272.2h0M680.4 272.2h0M644 296.7h0M625.5 290h0M626 296h0M651.3 296.8h0M648.6 359.8h0M656.5 361.5h0M644 356h0M637 371h0M640 366h0M633 355h0M629.5 341h0M631 333h0" stroke="#c53a42" stroke-width="1.5" stroke-linecap="round" fill="none"/>
<text x="643.5" y="267.09" font-size="5.9" text-anchor="middle" fill="#222">TCEB2</text>
<text x="632.6" y="278.59" font-size="5.9" text-anchor="middle" fill="#222">HN1</text>
<text x="652.7" y="278.39" font-size="5.9" text-anchor="middle" fill="#222">GNB2L1</text>
<text x="674.6" y="278.59" font-size="5.9" text-anchor="middle" fill="#222">GPX1</text>
<text x="655.3" y="290.59" font-size="5.9" text-anchor="middle" fill="#222">CCL3L3</text>
<text x="598.2" y="338.69" font-size="5.9" text-anchor="middle" fill="#222">APOE</text>
<text x="574.3" y="351.09" font-size="5.9" text-anchor="middle" fill="#222">SPP1</text>
<text x="591.3" y="359.09" font-size="5.9" text-anchor="middle" fill="#222">HLA−DRB5</text>
<text x="618.3" y="365.39" font-size="5.9" text-anchor="middle" fill="#222">SIRPA</text>
<text x="597.4" y="371.79" font-size="5.9" text-anchor="middle" fill="#222">LY6E</text>
<text x="624.2" y="372.09" font-size="5.9" text-anchor="middle" fill="#222">HLA−DQB1</text>
<text x="649" y="372.09" font-size="5.9" text-anchor="middle" fill="#222">BAG3</text>
<text x="651.9" y="356.89" font-size="5.9" text-anchor="middle" fill="#222">HSPA8</text>
<text x="601" y="380.29" font-size="5.9" text-anchor="middle" fill="#222">IFI6</text>
<text x="544.8" y="255.27" font-size="6.95" fill="#222">Macro−LY6E</text>
<text x="637.1" y="255.27" font-size="6.95" fill="#222">Macro−C1QC</text>
<line x1="582" y1="260.5" x2="553" y2="260.5" stroke="#3a90cf" stroke-width="0.7"/>
<path d="M550.6 260.5L554.2 259.1L554.2 261.9Z" fill="#3a90cf"/>
<line x1="651" y1="260.5" x2="679.8" y2="260.5" stroke="#c8404a" stroke-width="0.7"/>
<path d="M682.2 260.5L678.6 259.1L678.6 261.9Z" fill="#c8404a"/>
<text x="0.5" y="426.49" font-size="13.5" font-weight="bold" fill="#000">g</text>
<text transform="translate(5.6 515) rotate(-90)" x="0" y="2.59" font-size="7.3" text-anchor="middle" font-weight="bold" fill="#222">ESCC</text>
<defs><filter id="nblur" x="-5%" y="-5%" width="110%" height="110%"><feGaussianBlur stdDeviation="0.55"/></filter></defs>
<defs><clipPath id="gclip"><rect x="0" y="0" width="157.9" height="82.6"/></clipPath><g id="fld"><path d="M130.1 56.5h0M77.5 9.9h0M105.3 59.6h0M42.9 73.1h0M145.2 34.2h0M50.3 81.9h0M138.4 16.4h0M112.3 27.3h0M78.9 53.1h0M142.2 8.2h0M147.1 0.3h0M76.9 52.9h0M66.4 9.3h0M133.5 49.4h0M49.4 14.6h0M94 37.6h0M72.9 64.4h0M90.9 14.2h0M127.4 53.1h0M128.5 32h0M64.8 20.2h0M155.3 73.5h0M112.3 67.9h0M76.9 6.3h0M152.4 41.1h0M88.9 5.3h0M80.7 77h0M16.6 40.2h0M86.6 14.7h0M147.8 28h0M157.6 63.7h0M148 35.5h0M153.4 49.3h0M60.8 58.7h0M81.2 29.8h0M72.3 59.8h0M139.5 42.2h0M140.4 48.5h0M138.4 31.3h0M89.8 52.7h0M3.5 3.4h0M55.1 33.4h0M77.7 58.6h0M149.5 73.4h0M87.3 46.2h0M68.6 7.7h0M124.9 61.8h0M145.6 23.4h0M60.7 21.5h0M77.9 52.6h0M152.8 71.4h0M116.3 58.7h0M114.5 55.7h0M51.7 35h0M120.2 59.5h0M88.3 75.9h0M128.4 58.8h0M127.4 6.8h0M65.5 53.2h0M146.2 4.7h0M115 68.2h0M103.4 37.7h0M130.2 3.5h0M147.9 1h0M152.5 23h0M79 58h0M18.6 45.6h0M122.1 44h0M89.2 55.8h0M16.9 53h0M52.9 60h0M92.6 28h0M151 70.7h0M66.1 53.9h0M22 79.1h0M91.3 5.5h0M55.8 49.8h0M155.4 81h0M37.9 11.6h0M86.3 24.4h0M87 67.5h0M11.4 71.7h0M95 33.9h0M66.2 18h0M83.2 51.9h0M62.8 46.6h0M140.4 39.4h0M116.8 61.9h0M94.9 34.4h0M68 16.8h0M139 29.4h0M113.3 7.3h0M73.5 63.6h0M146 51.6h0M139 34.8h0M53.2 42.1h0M71.4 19.5h0M69.9 65.2h0M151.3 24.5h0M157 79.4h0M69.9 58.8h0M121.6 68.2h0M39.3 29.7h0M94.1 25.2h0M32.7 34.5h0M79.9 63.7h0M77.2 59.7h0M72.6 45.7h0M48.3 39h0M154.9 70.1h0M76.2 32.3h0M61.5 12.3h0M88.1 62.8h0M55.6 42.8h0M82.1 52.6h0M155.3 0.6h0M66.8 37.3h0M69.6 54.9h0M110.8 4.1h0M71.8 21.1h0M49 37.8h0M144 77.6h0M79.9 12.7h0M120 30h0M134.4 32.3h0M93 12.5h0M57.5 47.5h0M67.2 63.4h0M133.7 17h0M83.6 28.5h0M71.2 2.3h0M75.3 52.2h0M137.2 40.8h0M91.9 39.1h0M73.8 14h0M124.6 26.2h0M17.6 72.2h0M48.3 8.2h0M61.5 31.4h0M30.4 33.5h0M157.8 73.2h0M146 37.5h0M111.9 61.7h0M61.5 27.7h0M46.6 56.4h0M74.1 15h0M149.8 6.5h0M48.3 22.3h0M94.1 39.5h0M71.7 12.8h0M9.4 25.5h0M148.6 2h0M5.9 15.7h0M121.7 45.3h0M81.9 48.6h0M77.7 43.5h0M34.3 12.6h0M128.8 65.5h0M56.9 65h0M51.3 69.7h0M64.7 38.7h0M88.5 63h0M147.2 43.4h0M49.3 22.8h0M46.2 52.5h0M67.4 48.9h0M19 72.7h0M154 81.8h0M69.6 28.1h0M84.2 5.4h0M80.6 54h0M69 58.3h0M67.7 78.9h0M79.7 7.1h0M86.3 75.4h0M60.2 52.3h0M68.7 58.5h0M45.6 0.2h0M39.5 79.3h0M117.8 7.7h0M76.4 3.4h0M93.1 26.1h0M2.6 37.6h0M106 6.1h0M71.6 70.6h0M77.1 53.5h0M124.8 48h0M60.2 21.3h0M130.8 34.7h0M74.6 57.1h0M61.1 38h0M56.1 30.5h0M82.6 65.1h0M33.7 4.5h0M78.9 7.6h0M39.1 51.2h0M84.9 31.9h0M10.1 35.6h0M115.4 50.1h0M52.7 45.3h0M129.8 8.4h0M139.3 72.7h0M5.1 12.6h0M29.1 12.5h0M144.2 48.6h0M33.6 56.4h0M43 64.6h0M126 59.2h0M118.3 5.4h0M65.3 22.1h0M60.5 9.8h0M102 7h0M73.1 42.7h0M136.8 36.8h0M48.1 59.6h0M134.1 42.6h0M27.5 65.5h0M57.3 15.7h0M83.5 17.3h0M121.5 52.4h0M93.7 56.2h0M145.2 77.8h0M68.6 3.7h0M87.2 59.9h0" stroke="#27309a" stroke-width="1.48" stroke-linecap="round" fill="none"/><path d="M43.6 63.5h0M30 30.6h0M72.1 16.7h0M67.2 16.5h0M26.1 79.6h0M129.6 38.3h0M36.1 67.5h0M147.9 23.5h0M73.8 13.8h0M59.6 81.7h0M66.2 57.7h0M74.5 37.3h0M89.9 28.1h0M13.5 56.1h0M150.2 26.9h0M77.6 73.4h0M60.5 34.1h0M88.1 34.7h0M148.5 81h0M61 49.7h0M61.9 18.4h0M79.7 52.9h0M76.1 52.6h0M81 14h0M146.4 48.2h0M32.5 14.8h0M141.4 25.6h0M11.4 14.6h0M49.3 25.3h0M2.9 72.1h0M130.5 25.8h0M79.5 67.3h0M32 39.4h0M143.3 52.7h0M29.2 54.2h0M80.8 37.2h0M92.6 36.2h0M38.2 47.5h0M72.1 3.1h0M142.4 14.7h0M91.1 28.9h0M85.8 40.5h0M60 29h0M132.2 19.9h0M104 25.5h0M43.2 48.3h0M49.3 46.9h0M62.8 16.5h0M82.7 26.6h0M133.6 18.6h0M130 76h0M58.5 72.3h0M81.2 21.6h0M89.6 32.6h0M62.2 58.5h0M141 22.3h0M98 33.5h0M78.2 69.3h0M92.2 52h0M127.8 57.3h0M83.1 33.2h0M54.8 57.3h0M24.3 71.6h0M71.2 6h0M122.8 49.3h0M59.3 44.6h0M144.4 76.7h0M134.8 19.8h0M134.3 18.9h0M85.7 32.4h0M25.5 56.6h0M23.1 71.1h0M119.3 81.2h0M84.3 54.4h0M122.3 48.1h0M72 47.4h0M123.6 41.9h0M48.2 17.1h0M45.1 39.7h0M84 20.9h0M42.3 71.7h0M155.1 72.4h0M81.2 54h0M79.7 62.6h0M90.5 40.5h0M77.9 61.2h0M119.3 10.5h0M126.8 37.2h0M145.2 27.6h0M114.9 4.9h0M154.1 28.6h0M78.9 34.9h0M112.5 57.1h0M49.6 29.4h0M66.1 45.3h0M153.7 78.2h0M48.7 74.9h0M73 21.8h0M119.4 74.3h0M150.2 33.6h0M36 60.5h0M137 37.6h0M35.8 74.2h0M31.7 46.2h0M153.5 76.4h0M75.1 15.8h0M130 82.1h0M52 50.4h0M81.4 14.4h0M142 3.8h0M36.4 22h0M45.2 25.9h0M132.4 40.4h0M97.4 21h0M72.2 60.3h0M35.9 43.3h0M72 40.5h0M91 38.3h0M154.5 68.9h0M75.2 15.4h0M9.5 60.4h0M124.2 47.9h0M30 1h0M78.1 12.3h0M66 28.6h0M145 74.4h0M145.5 21.5h0M2.5 44.8h0M80.5 33h0M138.1 4.6h0M16.1 35.3h0M131.1 19.2h0M56.4 16.8h0M59.9 30.7h0M47.2 69h0M62.2 38.8h0M157.4 69.3h0M4.1 23.2h0M89.2 71.3h0M120.7 65h0M74.8 55.9h0M63.9 16.9h0M33.1 68.9h0M152.9 28.5h0M8 31.2h0M81.7 54.1h0M67.4 58h0M66 48.8h0M150 27h0M45.3 44.5h0M90.6 70h0M36 15.1h0M82 5.9h0M56.4 51.5h0M84.8 12.4h0M143 16.9h0M148 35.5h0M65.1 46.1h0M80 8.1h0M54.4 39.2h0M75.8 59.4h0M57.2 27.6h0M70.9 21.9h0M62.3 51.9h0M48.4 43.4h0M22.9 32.9h0M109.5 35.5h0M155.1 73.7h0M126.9 52.8h0M118.7 6.4h0M85.8 33.4h0M155.5 77.8h0M117.9 25.5h0M137.2 43.9h0M130.5 82.1h0M73.7 62.5h0M150.8 41.6h0M76.3 8.9h0M75.5 41.4h0M89.2 48.8h0M70.1 1.6h0M30.5 72.3h0M85 58.8h0M133 76.5h0M157.7 73.9h0M62.1 37.2h0M83.1 36.6h0M32.2 54.8h0M157.1 70h0M90.8 57.2h0M149.4 37.7h0M149.7 34.7h0M72.5 77.4h0M37.3 1.3h0M153.5 77.1h0M110.3 56.4h0M43.3 26.6h0M78.6 79.4h0M153.9 79.7h0M103.2 31.7h0M147.3 51.2h0M38.4 42.2h0M37.6 38.1h0M69.8 13.7h0M122.4 22h0M94.2 43.1h0M64.8 42.2h0M91.1 44.2h0M21 17.2h0M15.5 60.6h0M82.2 39.4h0M146.2 25.4h0M52.7 39.1h0M109 30.5h0M115 16.2h0M48.7 43.4h0M59.1 64.8h0M77.3 63.2h0M45.4 64.5h0M5.6 20.5h0M66.7 26.1h0M43.8 80.9h0M132 48.3h0M118.6 43.3h0M79.2 28.8h0M50.6 51.9h0M95.7 25.3h0M129.1 49.7h0M85.1 28.8h0M79.6 39.4h0M74.9 17.4h0M86.4 40.5h0M58.3 53.1h0M155.5 72.7h0M84.6 12.8h0M117.3 63.4h0M128.6 68h0M90.9 28.5h0M65.2 39.3h0M142.2 2.9h0M79 43.2h0M141.7 41.5h0M88.1 11.2h0M66.6 23.1h0M137 27.6h0M74.9 57.8h0M95.4 36.1h0M151.2 21h0M125.2 46.6h0" stroke="#2c37aa" stroke-width="1.48" stroke-linecap="round" fill="none"/><path d="M83 46.3h0M156.4 77.8h0M84.9 37.9h0M128.3 39.9h0M86.7 35.7h0M44 64.7h0M79.7 3.5h0M94.3 14h0M54.9 36.7h0M73.3 31.7h0M87.8 54.9h0M90.6 59h0M140.3 19.4h0M73.7 63.1h0M56.7 40.4h0M153.7 79.9h0M72.9 79.5h0M153 77.1h0M97 40.1h0M155.7 75.4h0M134.2 51.8h0M144 27h0M63 28h0M73.9 17.9h0M6 80.9h0M148.7 58.2h0M146.5 16.3h0M148.4 47.1h0M116.9 65.5h0M27.5 47.8h0M73.6 55.6h0M62.8 37.4h0M60.8 21.2h0M126.1 34.5h0M90.2 23h0M66.6 41.5h0M107.1 72.3h0M92.7 50.2h0M80.3 13.7h0M121.2 4.7h0M148.5 79.3h0M95.6 61.5h0M62.9 20.5h0M148.6 12.7h0M34.7 71.1h0M154 82.1h0M90.3 21.8h0M2.7 65.6h0M53 28.5h0M92.8 4.5h0M22.5 76.6h0M139.8 45.8h0M4.8 69.6h0M138.4 48.5h0M111.3 45.3h0M86.3 66.6h0M64.7 11.3h0M70.3 16.5h0M129.6 2.3h0M62.9 25.6h0M122.3 47.3h0M86.6 51.2h0M153.9 40.7h0M18.9 28.5h0M144.3 6.7h0M95.8 57.6h0M70.2 7.5h0M13.3 34.3h0M70.8 30.9h0M90.7 16h0M51.4 48.5h0M80.5 52.5h0M77.4 7.3h0M46.1 51.7h0M128.3 25h0M77.5 45.9h0M83.5 39.3h0M51.3 29.7h0M153.8 51.1h0M149 17.5h0M131 58.5h0M129.1 66.4h0M94.3 42.2h0M69.3 46h0M117.4 68.6h0M90.8 53.5h0M25.3 0.4h0M83.1 44.6h0M141.9 50.6h0M59.7 15.7h0M126 5.7h0M64.3 26.3h0M70.9 65.8h0M3.4 21.5h0M122.7 57h0M52.6 25.6h0M65.8 12.4h0M125.8 35.1h0M67.3 7.8h0M86.7 58.8h0M133.1 36.8h0M122.4 40.6h0M109 7.3h0M156.7 69.9h0M88.2 76.6h0M65.8 63.5h0M80.1 72h0M85.6 67.3h0M66.5 43.5h0M150.7 78.3h0M117.2 67.3h0M74.8 51.5h0M127.1 67.1h0M154.6 32.7h0M117.3 65.7h0M130.4 23.1h0M44 60.8h0M155.9 38.3h0M65.6 20.4h0M76.5 38h0M95 37.3h0M126.1 67.5h0M69.6 52.9h0M51.6 72.7h0M114.1 51h0M91.5 36h0M116.1 62.1h0M34.7 73.5h0M89.5 44.1h0M130.9 21h0M153.6 59.8h0M59.6 72.3h0M34.9 3.7h0M143.5 20.6h0M9.4 59.3h0M57.9 20.5h0M21.7 82h0M24.8 73.4h0M64.7 28.5h0M118.4 47.6h0M26.8 17.6h0M118.3 74.2h0M88.2 44h0M149.3 77h0M52.6 59.7h0M146.3 17.1h0M116.5 69.1h0M59.5 8.2h0M114.4 52.9h0M83.7 45.3h0M133.9 79h0M87.2 48.1h0M50.5 81.6h0M55.6 28.3h0M112.6 9.3h0M53.8 46.4h0M78.5 7.2h0M84.2 15h0M119.9 57.2h0M151.5 28.5h0M113.5 38.5h0M77.1 71.3h0M95.6 9.2h0M152.6 43.2h0M102 60.1h0M157.5 70.9h0M138.6 52.6h0M136.7 77.2h0M8 72.2h0M73.8 20.6h0M82.4 60h0M36.5 29.7h0M90.2 59.7h0M55.5 42h0M55.6 61.7h0M69.5 56.3h0M32.4 26h0M30.5 20.1h0M144.7 30h0M41.2 60.7h0M155.5 79.9h0M68.1 8.7h0M32 41.1h0M34 24.9h0M57.2 49h0M152.9 25.4h0M83.2 12.4h0M73.4 44.5h0M84.7 18.1h0M79.3 61.1h0M131.2 4.9h0M92.2 19.2h0M92.9 32.5h0M61.3 52.9h0M137.1 38.1h0M63.1 11.7h0M22 39.6h0M49.9 10.7h0M93.8 23.6h0M8.9 61.3h0M67.3 47.8h0M138.6 2.8h0M90.6 22.3h0M88.4 52.5h0M157.5 52.4h0M67.8 48h0M124.5 48.6h0M41.6 7.2h0M75 16.9h0M124.4 42h0M51.4 35.2h0M0.6 21.4h0M135.7 24.8h0M148.5 75.3h0M128.8 41.7h0M77.4 15.4h0M57.2 39.4h0M38.7 2.4h0M134.1 52.2h0M80.3 81.8h0M125.2 65.3h0M144.2 22.9h0M142 7.8h0M67.2 21.5h0M76.7 50.4h0M119.4 40.2h0" stroke="#1f2886" stroke-width="1.48" stroke-linecap="round" fill="none"/><path d="M70.7 51.3h0M95.7 3.9h0M142.2 50h0M74.8 8.4h0M70.4 46.8h0M130.6 60.5h0M78.1 30.1h0M130.7 28.5h0M126.4 34.6h0M112.5 51.7h0M94.7 58.2h0M143.5 36.5h0M127.4 69.8h0M115.9 62.2h0M66.4 65.8h0M88.7 10.3h0M13.9 81h0M117.8 51.8h0M92.8 17.6h0M118.5 64.6h0M48 12.4h0M33.6 25h0M90.3 25.6h0M151.8 77h0M72.8 75.6h0M115.2 58.9h0M137.5 18.7h0M152.3 27.5h0M41.7 49.7h0M83.1 44.6h0M68.3 4h0M88.4 64.3h0M29.6 73h0M4.9 76.8h0M7 22.5h0M89.6 35.6h0M25.4 24.2h0M90.1 65.5h0M115.4 46.1h0M143.3 47.4h0M64 51.1h0M137.9 38.9h0M139 8.5h0M78.8 19.3h0M63.3 58.5h0M135.7 28.8h0M132 49.6h0M47.6 6.5h0M95.1 41h0M29.4 40.5h0M69.6 33.5h0M70.8 19.6h0M145.8 50.1h0M64.1 15.5h0M144.9 43.2h0M86.2 34.2h0M73.9 12.7h0M76.2 65.6h0M55.8 20.3h0M55.8 27.8h0M85.3 71.8h0M65.3 9.5h0M26.8 8.8h0M55.2 22.5h0M70.1 25h0M62.8 59h0M89.9 13.2h0M53.7 17h0M135.9 53.1h0M157.7 68.7h0M114.5 53.6h0M151.5 18h0M21.7 65.8h0M130.6 46.6h0M93.1 54.9h0M118.7 61.4h0M75.9 33.2h0M85 11.5h0M120.4 70.1h0M17.6 18.3h0M63.4 35.4h0M64.4 15.7h0M146.7 51.7h0M45.8 59.8h0M52.6 28.7h0M0.3 51.1h0M79.7 73.5h0M72.1 17.4h0M87.1 12.7h0M52.8 20.4h0M53.7 51h0M72.3 39.5h0M146.5 76h0M150 47h0M154.2 5.3h0M76.9 66.3h0M36.7 0.3h0M52.7 21.1h0M147.9 80.7h0M3.6 63h0M72.3 52.5h0M56.7 40.3h0M156.4 25.7h0M36.3 1.2h0M95.7 60.3h0M62.3 31.2h0M114.3 0.1h0M67.4 10.4h0M124.2 5h0M135.6 44h0M148.5 72.1h0M74 24.6h0M155.1 7.2h0M19.1 33.6h0M75.4 57.6h0M132.4 20.5h0M69.1 36.6h0M125.8 8h0M67.2 42.4h0M83.2 41.2h0M88 64.8h0M137.3 22.2h0M52.8 38.8h0M87.8 74.8h0M63.7 50.2h0M59.5 40.6h0M64.2 15.5h0M71.1 16.3h0M148.3 73.5h0M57.3 24h0M61.3 17.8h0M142 15.6h0M93 39.3h0M53.4 38.9h0M151.1 60.6h0M76.9 8.3h0M51.8 34.9h0M61.3 46.8h0M76.5 58.3h0M138.2 36.2h0M37.9 70.2h0M27.5 37.4h0M67.5 52h0M145.2 55.8h0M56.1 72.7h0M25.8 33.2h0M65.4 14.2h0M137.2 38.2h0M75.7 50.1h0M23.2 78.5h0M85.8 14.4h0M37.9 62.9h0M93.8 36.2h0M72.4 8.7h0M66.4 49.8h0M68.3 24.8h0M70.1 80.8h0M31.8 53.5h0M65.2 39h0M136.8 47.4h0M20.1 4.6h0M154.3 34.2h0M39.3 51.8h0M150.1 30.4h0M82.4 25.8h0M146.5 17.2h0M88 72.7h0M89.2 31h0M140.4 39.1h0M116.6 48.8h0M60.6 5h0M122.7 67.5h0M75.4 21.8h0M138.1 42h0M83.5 31h0M49.7 34.9h0M86.3 34.6h0M118 48.7h0M61.2 22.1h0M130.7 3.2h0M136.9 17.7h0M37.5 28.3h0M37.5 56.7h0M117.7 46.3h0M29.1 52.8h0M14.1 73.2h0M78 13.1h0M52.9 4.8h0M78.9 65h0M77.8 57.1h0M20.4 77.7h0M71.7 75.4h0M67.8 52h0M72.6 27.8h0M84.5 18.3h0M147.7 47.2h0M72.6 46.7h0M88.9 13h0M115.8 0.1h0M73.9 48.7h0M137.9 32.4h0M136.6 33.1h0M78.1 62.4h0M44.2 64h0M82.4 68.7h0M78.4 22.6h0M19.1 64.6h0M88.9 37.3h0M121.6 10.5h0M87.2 43.8h0M145.9 71.6h0M22.3 29.1h0M115.1 58h0M87 67.2h0M154 68.6h0M55.8 23.4h0M71.6 52.6h0M97.1 9.6h0M61.4 47.1h0M23.5 53.6h0M76.6 69.1h0M145.3 0.6h0M56.5 39.5h0M82.1 15.5h0M130.9 41.4h0M66.5 43.4h0M70.6 25.8h0M92.6 29.9h0M58.1 53.5h0M77 15.1h0M67.2 23.9h0" stroke="#323fb8" stroke-width="1.48" stroke-linecap="round" fill="none"/><path d="M123.6 59.6h0M68.3 52.7h0M64.9 59.5h0M150.1 65.9h0M74.3 19.7h0M69.1 58h0M57.9 49.6h0M153.7 80.5h0M144.9 75.1h0M85.7 30.6h0M144.4 38h0M15.8 74.8h0M123.2 49.8h0M114.2 6h0M41.2 61.1h0M65 11.5h0M124.5 6.1h0M81.3 12.2h0M68.7 57.3h0M15.4 4.7h0M134.3 35.7h0M131.7 18.9h0M149.7 43.8h0M144.4 79.7h0M145.2 3.9h0M40.1 15.5h0M57 33.8h0M151.6 33.1h0M151.2 39.7h0M143.7 78.8h0M12 31.7h0M128.9 23.2h0M56.5 45.8h0M93.9 50.8h0M111.9 24.1h0M82.3 27.1h0M84.7 54.4h0M23 11.5h0M49.6 23.5h0M67.4 73.6h0M93.2 61.6h0M144.7 7.6h0M70 25.2h0M154.9 78.6h0M63.1 22.3h0M117.3 69h0M152.1 41.7h0M18.8 3.2h0M79.4 59.2h0M149.9 81.2h0M54.1 32.5h0M72.2 60.8h0M31.9 46.8h0M149.8 28.6h0M141.7 21.7h0M119.9 77.2h0M128.9 25.1h0M102.6 51.9h0M74.7 59.7h0M146.6 20.7h0M78.9 56.1h0M4.8 37.2h0M120 64.5h0M58.6 37.8h0M42.1 19.9h0M29.6 27.7h0M112 55.9h0M44 41h0M82.7 24.1h0M152.5 71.7h0M74.3 76.6h0M116.8 62.9h0M52.5 41.1h0M147.9 71.1h0M75.1 50.7h0M137.6 35.4h0M118.9 46h0M67.9 10.7h0M45.8 16.6h0M48.7 36.7h0M76.6 30.2h0M64.4 56.6h0M130.1 34.3h0M62.8 25.3h0M2.8 33.1h0M68.5 46.8h0M80.6 70.6h0M79.8 15.7h0M145.1 24.9h0M74.2 2.4h0M151.4 22.1h0M130.8 29.4h0M124 69.8h0M114.1 56.9h0M118.7 56.5h0M39 21.2h0M131.2 22.8h0M89.2 44.6h0M58.3 61.8h0M91.8 66.8h0M71.9 81h0M131.9 32.9h0M152.9 74.7h0M53.6 62.1h0M147.3 73h0M143.1 46.8h0M77.6 72.9h0M142.2 28.3h0M61.8 45.6h0M155.3 75.8h0M114.7 62.8h0M113.4 1.6h0M103.9 74.3h0M125.1 39h0M115.6 59.5h0M82 7.2h0M69.3 59.8h0M128.6 62.8h0M138.9 17.1h0M129.5 45.2h0M2.3 76.7h0M59.9 17.8h0M141.1 27.3h0M24.2 53h0M75.1 43.5h0M47.9 71.5h0M135.7 5.1h0M64 13h0M89.2 46h0M78.3 53.2h0M63.9 6.6h0M149 19.9h0M40.1 76.5h0M146.9 31.3h0M83.8 29h0M149.2 19.6h0M86.7 30.2h0M30.1 81.9h0M145.7 75.7h0M68.3 14.5h0M73.3 44.9h0M89 34h0M140.6 9.1h0M46.8 36.1h0M51.6 28.7h0M131.4 7.4h0M141.4 53.3h0M82.5 25.7h0M72.9 79.4h0M57.4 43.3h0M22.1 57.5h0M133 55.3h0M44.1 0.4h0M73.3 17.5h0M145.1 28.3h0M35.1 77.9h0M90.3 21h0M67.9 79.4h0M137.2 0.1h0M116 48.9h0M133.4 27h0M68.2 54.3h0M56.3 22.9h0M110.5 12.4h0M68.3 17.3h0M86.3 6.5h0M130.1 43.1h0M73.7 17.8h0M94.2 34.3h0M38.6 3h0M72.4 59.3h0M144 47.9h0M120.5 41.8h0M58.8 41.8h0M78.8 21.5h0M69.4 24.5h0M140.7 80.2h0M152.4 71.8h0M121.9 8.1h0M29 71.5h0M149.4 40.9h0M71.9 42.6h0M29.3 73h0M129.3 47.3h0M23.1 17.5h0M131.2 24.5h0M156.9 77h0M70.5 25.1h0M65.5 63.5h0M140.9 7.1h0M128.8 54h0M52.6 18h0M78.6 36.2h0M118.2 62.1h0M85.3 52.8h0M63.8 49.7h0M67.8 49.5h0M93.1 27.9h0M34 18.2h0M88.1 29.1h0M78.1 46.9h0M27.6 1.7h0M63.1 5.2h0M69.8 8.9h0M71.3 3.3h0M147.8 73h0M151.9 45.6h0M157.2 11.9h0M18.6 30.5h0M119 58.7h0M63.8 45.5h0M19.1 17.2h0M62.2 11.2h0M12.5 40.8h0M91.8 49.8h0M152.9 81.7h0M134.5 33.2h0M138.8 32.9h0M53.4 33.9h0M89.6 24.9h0M68.4 28.7h0M44.5 51.1h0M7 44.8h0" stroke="#1c2476" stroke-width="1.48" stroke-linecap="round" fill="none"/></g></defs>
<g transform="translate(14.2 430.4)" clip-path="url(#gclip)">
<rect x="0" y="0" width="157.9" height="82.6" fill="#201d23"/>
<use href="#fld"/>
<path d="M56.2 30.7h0M62.8 33.5h0M66.1 54.9h0M80.4 15.5h0M62 53.6h0M93.6 28.4h0M73.3 50.1h0M58.4 11.7h0M96.7 37.3h0M82.7 39.5h0M98.1 6.8h0M78.5 55.1h0M75.4 10.9h0M69 9.9h0M58.7 31.1h0M94.3 50h0M69 59.6h0M85.5 6.3h0" stroke="#b8d8b0" stroke-width="1" stroke-linecap="round" fill="none"/>
<path d="M132.1 55.8h0M150 63h0M140.2 66.7h0M134.1 72.9h0M157 66.3h0M120.5 49.6h0" stroke="#b8d8b0" stroke-width="1" stroke-linecap="round" fill="none"/>
</g>
<text x="167.6" y="438.59" font-size="7.3" text-anchor="end" fill="#f2f2f2">CD68</text>
<text x="15.3" y="505.89" font-size="7.3" fill="#e6e6e6">50 µm</text><line x1="15.6" y1="508.1" x2="24" y2="508.1" stroke="#f0f0f0" stroke-width="1"/>
<g transform="translate(175.9 430.4)" clip-path="url(#gclip)">
<rect x="0" y="0" width="157.9" height="82.6" fill="#201d23"/>
<use href="#fld"/>
<path d="M98.3 44.6h0M82.5 21.8h0M81.6 7.6h0M96.6 20.3h0M62 26.2h0M85.8 37.8h0M63.1 25.6h0M95 45.8h0M91.6 20.6h0M86.8 5.2h0M78.6 25.5h0M84.1 14.4h0M80.7 26h0M60.1 33.4h0" stroke="#22b060" stroke-width="1.1" stroke-linecap="round" fill="none"/>
</g>
<text x="329.3" y="438.59" font-size="7.3" text-anchor="end" fill="#2bc06a">LY6E</text>
<text x="177" y="505.89" font-size="7.3" fill="#e6e6e6">50 µm</text><line x1="177.3" y1="508.1" x2="185.7" y2="508.1" stroke="#f0f0f0" stroke-width="1"/>
<g transform="translate(337.1 430.4)" clip-path="url(#gclip)">
<rect x="0" y="0" width="157.9" height="82.6" fill="#201d23"/>
<use href="#fld"/>
<rect x="0" y="0" width="157.9" height="82.6" fill="#201d23" fill-opacity="0.12"/>
<path d="M69.8 43.2h0M86.5 58h0M113.6 55h0M69.7 70.8h0M76.9 13.1h0M81.6 20h0M60.7 45.8h0M57.7 53h0M95.2 58h0M8.4 9.3h0M50 38.9h0M141.6 66.8h0M61.2 14.3h0M113.2 43.3h0M54.3 42.1h0M90.3 31h0M148.6 43.1h0M119.5 52.5h0M79.2 13.8h0M42.6 15.4h0M153 79.4h0M79.6 70.3h0M153.7 0.1h0M148.7 8.7h0M155.9 9.8h0M111.2 1.2h0M95.4 48.9h0M147.1 7.3h0M85.5 67.2h0M3.6 77.3h0M155.2 55.8h0M129.5 22h0M115.6 57.7h0M125.5 36h0M91.4 29.7h0M75.7 49.6h0M76.1 68h0M39.6 61.1h0M136 29.5h0M94.4 46.8h0M140.1 36.3h0M145.4 49.5h0M135.7 59.6h0M152.3 78.7h0M96.4 30.2h0M94.8 63.1h0M72.6 49.1h0M98.6 62.5h0M148.9 77.2h0M16.8 40.8h0M49.3 28.2h0M22.3 33.9h0M133 32.4h0M18 81.8h0M53.3 23.4h0M73.7 53.7h0M25 34.8h0M15 47.6h0M137 76.4h0M92.3 36.7h0M139.4 21.2h0M151.1 68.5h0M10 34.6h0M119.7 41.6h0M67.7 20.2h0M115.5 37.9h0M85.2 14.3h0M93.5 37.4h0M130.5 5.1h0M93.3 31.5h0M112.3 59.8h0M136.8 23h0M67.6 42.9h0M146.7 26.4h0M81 20.7h0M49.5 73.5h0M71.9 43.2h0M50.4 45.1h0M50 46.7h0M79.6 52.9h0M80 59.1h0M42.4 43.7h0M40.3 47.5h0M136 17.5h0M123 56.9h0M122.5 46.7h0M61.7 10.9h0M4.1 59.5h0M149.2 82.2h0M52.2 26.4h0M75.7 46.2h0M73.4 23.4h0M88 52.5h0M148.3 74.8h0M112.2 0.6h0M67.1 54.2h0M116.9 47.4h0M87.8 51.6h0M35.6 63h0M152.5 75.2h0M71.2 59.3h0M53.7 48.2h0M59.2 6.5h0M94.2 39.3h0M148.2 35.5h0M10.4 53h0M87.7 46h0M145.7 42.6h0M104 55.8h0M153.4 71.2h0M118.1 0.1h0M141.4 20.2h0M4.4 65.7h0M2.5 51.3h0M87 33.7h0M126.3 34.1h0M88.8 72.5h0M21.6 46.6h0M125.5 5.4h0M152 30.4h0M85.8 47.1h0M121 51.2h0M92.7 46.4h0M111.4 0.3h0M149.2 36.6h0M28.1 14.1h0M40.6 70.7h0M51.8 28h0M113.8 60.3h0M15.3 46.3h0M64.7 30.1h0M145.9 17.6h0M15.9 24.8h0M106.2 4.2h0M74.8 60.1h0M2.1 34.7h0M148.2 15h0M49.3 38.5h0M153.4 82.5h0M153.8 40.6h0M112.4 22.4h0M72.9 25.2h0M86 18.8h0M7.6 25.2h0M14.9 10h0M24 11.6h0M53.9 38.6h0M122.8 49.6h0M71.1 56.2h0M32.7 61.5h0M51.5 18.1h0M45.2 35.7h0M73.6 19.7h0M147.3 48.3h0M39.1 67.3h0M137.1 44.1h0M130 31.2h0M125.2 64.8h0M71.2 55.2h0M74.5 80h0M155.1 71.1h0M127 38.5h0M54.9 44.1h0M84.2 59.7h0M84.9 41h0M4 50.2h0M155.1 23.5h0M124.8 46.1h0M90.1 29.5h0M88.2 35.5h0M92.4 59.3h0M8.7 56h0M80.2 59.4h0M63.7 30.5h0M44.9 67h0M77.5 64.8h0M145.2 19.7h0M81.1 37.4h0M111.8 38.3h0M65.9 35.7h0M78.8 8.9h0M81.4 5.1h0M27.3 37.7h0M153.2 69.9h0M89.3 28.4h0M91.5 41.9h0M63 8.3h0M84.3 18h0M73.3 61.1h0M83.2 7.6h0M83.6 30.2h0M112.2 7.1h0M92.6 37.5h0M113.4 45.8h0M87.9 17.1h0M67.5 16.6h0M75.8 30.2h0M27.7 63.8h0M145.4 29.3h0M138.4 21.7h0M94.7 35.8h0M144.8 59.8h0M69.1 39.9h0M132.3 26.6h0M74 6.4h0M90.8 23.9h0M118.1 1.9h0M138.4 60.8h0M78.2 29h0M71.5 51.1h0M52.1 31.1h0M89.5 68.4h0M15.1 17.3h0M72 77.1h0M30 30.5h0M23.7 37h0M58.4 39h0M129.6 4.1h0M81.7 62.1h0M27.7 51.4h0M91.8 11.9h0M154.4 26.7h0M39.3 41.4h0M73.2 47.1h0M150.1 22h0M95.4 34.2h0M44.8 68.8h0M147.1 75.2h0M51.2 19.6h0M137.4 81.1h0M19.7 75.6h0M141 48.6h0M50.6 47.3h0M147.7 76.9h0M89.7 55.1h0M120.2 82.5h0M88.9 52.6h0M124.4 71.1h0M122.5 70.2h0M26.6 39.6h0M153.4 35h0M54.3 28.7h0M146.7 79.7h0M57 20.4h0M112.4 44.6h0M66.9 9.9h0M74.8 79.6h0M85.5 41.8h0M46.8 77.1h0M71.7 32.9h0M139.3 6.9h0M5.2 35.3h0M52.4 18.7h0M76.4 14.7h0M131.7 8.4h0M38.6 67.3h0M124.2 58.1h0M64.7 10.1h0M140.7 50.5h0M8.2 47.1h0M89.8 54.1h0M83.3 18.4h0M54.1 20.2h0M157.4 17.6h0M56.6 15.8h0M117.5 54.9h0M86.5 66.6h0M31.9 79.3h0M72.8 5.4h0M138.8 4.1h0M75.3 12.7h0M127.3 20.2h0M150.2 20.4h0M60.3 34.9h0M136.5 78.7h0M28.9 54.6h0M49.9 56.8h0M77.4 13.9h0M64.4 73.3h0M72.8 38h0M138.2 26.4h0M115.7 53.9h0M94.9 17.2h0M76 26.6h0M38.4 29.9h0M8.2 18.4h0M120.4 45.4h0M118.9 49.3h0M15 2.2h0M29.9 77h0M46.5 77.8h0M82.8 57.9h0M57.8 11.6h0M99 41h0M92.8 41.3h0M9.5 40.9h0M68 61.2h0M132.6 68.2h0M83.5 15.3h0M10.4 29.4h0M123.1 81.4h0M93 41.7h0M55.6 17.5h0M13.9 56.4h0M57.7 17.3h0M119.7 64.8h0M154.9 76.1h0M93.4 34.8h0M43.8 12.8h0M94.8 61.3h0M49.2 66.8h0M88.5 21.3h0M63.2 11.8h0M22.1 46.5h0M152.7 24.4h0M140.6 79.8h0M127.1 38.9h0M33.1 58.1h0M52.5 7.4h0M80.1 65.4h0M101.8 73.4h0M10.8 68.2h0M62.8 10.8h0M117 64.4h0M78.7 14.6h0M137.6 50.9h0M69.5 21.5h0M88.2 45.6h0M73.9 38.9h0M151.9 79.3h0M25.5 63.8h0M54 50.6h0M90.1 59.8h0M53.8 23.9h0M84.3 58.8h0M88.9 76.2h0M19.7 22.7h0M93.8 34.4h0M62.2 9.4h0M125.4 57.2h0M74.1 77.3h0M118 7.8h0M94.2 33.8h0M52.4 31.7h0M151.9 26h0M115.6 9.8h0M60.5 13.3h0M23.8 71.3h0M43.3 50.8h0M131 58.9h0M127.3 29.3h0M90.3 78.3h0M115.8 61.7h0M16.2 74.1h0M54.7 29.2h0M69.3 44.5h0M45.2 39h0M79.7 32.5h0M152.8 41.2h0M83.8 14.6h0M68.3 62.9h0M57.1 14.2h0M83.4 63.3h0M87.6 49.5h0M53.4 44.5h0M144.2 21.7h0M67.1 15.8h0M146.7 2.2h0M153.2 79.6h0M138.3 35.8h0M62.4 55.5h0M53.3 72.1h0M70.4 5.4h0M57.1 40.9h0M134 6.3h0M42.9 22.5h0M86.9 9.8h0M88.4 18.1h0M52.5 55.4h0M156.1 3.9h0M71.5 19.7h0M60.9 40.1h0M65.7 29.6h0M126.4 51.3h0M37.2 68.9h0M78 57.6h0M82.2 50.1h0M1.5 10.9h0M93.8 20.2h0M128.4 2.8h0M157.2 74.8h0M57.9 3.7h0M145.6 5.5h0M157.4 78.2h0M125.4 46.7h0M84.4 52.4h0M69.6 52h0M54.3 41.1h0M121.4 54.2h0M139.3 45.1h0M74.4 18.7h0M90.3 21.1h0M153.4 74.6h0M87.4 36.6h0M147.9 47.4h0M90.9 22.4h0M127.6 39.8h0M57.4 17.7h0M74.2 16.1h0M89.8 14.1h0M54.9 29.6h0M83.5 78.8h0M149.5 32.4h0M79.4 72.1h0M134 10.1h0M82.1 46.3h0M73 13.4h0M112.9 32.8h0M112.4 6.2h0M91.6 62.4h0" stroke="#96203a" stroke-width="1.2" stroke-linecap="round" stroke-opacity="0.85" fill="none"/>
<path d="M59.6 58.5h0M90.8 37.4h0M87.5 22h0M52.9 12.3h0M58.6 34h0M68 32.3h0M53.7 25.5h0M68 32.6h0M98.9 49.8h0M63.1 42.7h0M90.6 6.9h0M74.6 45.8h0M77.4 21.2h0M56.3 10.7h0" stroke="#40e0d0" stroke-width="1" stroke-linecap="round" fill="none"/>
<path d="M10.4 71.7h0M24.7 65h0M52.2 36.5h0M136 61.8h0M32.1 79.9h0M92 47.6h0M67 49.7h0M149.3 66.4h0" stroke="#e0d020" stroke-width="1" stroke-linecap="round" fill="none"/>
</g>
<text x="490.5" y="438.59" font-size="7.3" text-anchor="end" fill="#f2f2f2">Merge</text>
<text x="338.2" y="505.89" font-size="7.3" fill="#e6e6e6">50 µm</text><line x1="338.5" y1="508.1" x2="346.9" y2="508.1" stroke="#f0f0f0" stroke-width="1"/>
<g transform="translate(14.2 517.6)" clip-path="url(#gclip)">
<rect x="0" y="0" width="157.9" height="82.6" fill="#201d23"/>
<use href="#fld"/>
<path d="M49.1 67.3h0M10.8 64.5h0M94.5 69.5h0M131.8 56.1h0M148 49.8h0M33.3 28.1h0M24.4 69.3h0M55.9 36.3h0M5.8 60.4h0M138.2 48.8h0M12 61.4h0M23.6 78.1h0" stroke="#e0d020" stroke-width="1.1" stroke-linecap="round" fill="none"/>
</g>
<text x="167.6" y="525.79" font-size="7.3" text-anchor="end" fill="#d9c51e">SPP1</text>
<text x="15.3" y="593.09" font-size="7.3" fill="#e6e6e6">50 µm</text><line x1="15.6" y1="595.3" x2="24" y2="595.3" stroke="#f0f0f0" stroke-width="1"/>
<g transform="translate(175.9 517.6)" clip-path="url(#gclip)">
<rect x="0" y="0" width="157.9" height="82.6" fill="#201d23"/>
<use href="#fld"/>
<path d="M94.2 34.9h0M23.4 22.1h0M132.1 28.2h0M89.8 20h0M65.8 28.4h0M41.2 70.1h0M92.2 51.6h0M95.5 9h0M90 19.9h0M87.8 23.1h0M104.9 6.1h0M83.9 29.8h0M12.3 44.9h0M130 66.7h0M156.1 69.8h0M126.6 63.6h0M149 82.2h0M54.4 22.7h0M74.1 56.3h0M28.5 24.6h0M15.9 75.6h0M1.2 20.2h0M67.1 14.7h0M150.9 29.5h0M80.6 22.9h0M86.4 27.5h0M94.6 35.8h0M123.6 9.1h0M125.7 33.4h0M107 16.6h0M79 77.6h0M145.1 51.4h0M137.8 27.1h0M78.9 78.7h0M64.9 8.8h0M132.9 40.7h0M153.5 1.9h0M18 13.7h0M63 30.2h0M149.4 41h0M2.8 59.1h0M54.1 70.4h0M60.6 60.7h0M88 37.5h0M82.1 71.4h0M90.1 39.7h0M71.2 12.7h0M3.7 69.3h0M122.7 67.5h0M56.6 29.8h0M156.4 16.3h0M114.5 72.3h0M3 53.8h0M151.2 76.6h0M81.7 80.6h0M149.2 73h0M9.2 51.5h0M66.9 6.4h0M145.9 12.2h0M132.8 29.6h0M8.7 12.9h0M6.4 34h0M44.9 6h0M7.9 50.1h0M53.4 28.3h0M88.7 37.4h0M122.1 68.9h0M146.4 30.2h0M125.8 10.5h0M51.9 39.6h0M82.5 44h0M73 65.7h0M75.9 11.9h0M57.4 76.1h0M15.3 25.7h0M81.4 38.4h0M25 13.4h0M69 62.7h0M58.8 18.6h0M47.9 16.5h0M128.1 39.1h0M151.8 21.8h0M140.6 38.9h0M93.5 41.9h0M75.5 78.8h0M37.6 6.3h0M83.8 15.8h0M83.7 22h0M61.2 31.3h0M116.6 54.4h0M26.3 11.7h0M129.2 30.6h0M67.4 50.6h0M43 13.1h0M85.8 55.4h0M73.8 52.7h0M33.5 11.9h0M66.4 62h0M15.2 73.1h0M57.8 19.4h0M52.1 17.3h0M72.6 65.2h0M113.5 59.5h0M130.9 21.6h0M61 38.3h0M136.6 46.6h0M90.4 17.8h0M150 60.3h0M139.4 36.8h0M64.8 26.6h0M150.6 29.3h0M67.6 60.8h0M87.3 47.7h0M153.1 37.2h0M147.1 74h0M85.7 51.4h0M72.8 72.2h0M128.8 61.1h0M30.8 69.2h0M139 3.6h0M126 43.7h0M149.8 25.4h0M23.7 7.6h0M125.4 75.2h0M87.9 33.6h0M145.7 50.4h0M33.1 78.6h0M110 6.4h0M149.6 38.2h0M84.9 55.4h0M153 75.5h0M152.2 74.2h0M92.5 13.6h0M89.5 27h0M70.3 23.8h0M73.7 49h0M156.3 80.8h0M94.9 61.9h0M85.9 68.8h0M79.3 76.8h0M65.6 25.9h0M54.7 35.1h0M71.1 4.1h0M119.3 7.2h0M152.9 79.7h0M89 81.4h0M89.8 70.1h0M76.4 58.5h0M51.4 30h0M138.4 40.4h0M52.4 38.1h0M57.2 35.4h0M76.2 47.3h0M95.3 46h0M122.6 66.7h0M134 25.6h0M81 34.8h0M2.8 4.3h0M104.6 61.7h0M53.2 43.6h0M114.6 3.3h0M147.8 66.4h0M152.3 68.2h0M2.4 0.6h0M89.8 54.4h0M148.1 75h0M134.1 50.2h0M50.7 44.1h0M136.1 38.5h0M70.6 67.5h0M132.7 49.7h0M83.2 58h0M33 81.1h0M87.4 7h0M151.7 77.6h0M137.7 16.3h0M154 28.3h0M153.9 80.5h0M77.6 19.8h0M15.8 18.6h0M139 47.8h0M150.6 78.1h0M47.6 59.6h0M19.6 16.5h0M147.8 13.6h0M143.4 49.9h0M72.9 9.5h0M78.7 51h0M26.2 18.6h0M88.5 53.9h0M32 61.9h0M152.5 70.8h0M127.3 46.5h0M52.9 66.9h0M69.8 59.3h0M146.4 81.1h0M126.7 38.1h0M53.2 18.7h0M32.5 18.4h0M59.1 29.3h0M11.1 55.4h0M93.4 31.4h0M142.3 25.4h0M141.6 46.6h0M128.5 60.5h0M51.1 71.8h0M101 7.2h0M140.1 47h0M142.5 3.8h0M92.9 16.6h0M19.1 77.6h0M95.6 50.2h0M118.3 44.7h0M125.5 46.7h0M9.1 70h0M52.7 31.4h0M91.1 11.3h0M20 15.6h0M81.1 49.5h0M89.9 60.3h0M109.9 40.2h0M99.9 71.8h0M134.7 22.6h0M105.2 23.6h0M79.1 11.8h0M131.4 4h0M71.8 12.6h0M141.3 32.8h0M61.4 26.3h0M61.6 15.4h0M71.1 35h0M5.5 73.2h0M125.6 17.8h0M67.5 37.3h0M34.2 2.3h0M113.5 48.7h0M95.4 46.4h0M148.8 18.5h0M101.7 48.3h0M28.4 26.5h0M121.7 58.1h0M86.4 51.7h0M93.7 43.7h0M71 36.7h0M131.2 43.2h0M59.8 32.3h0M78.2 68.9h0M81.2 58.2h0M122.4 44.8h0M146.1 79.9h0M86.2 32.3h0M145.8 51.3h0M67 0.9h0M37 11.6h0M114.1 57.6h0M89.7 22.4h0M87.2 39.8h0M105.5 33.5h0M16.9 37.7h0M156 71.9h0" stroke="#8c1a2a" stroke-width="1.1" stroke-linecap="round" stroke-opacity="0.85" fill="none"/>
<path d="M43.5 1.1h0M18.1 5.7h0M31 6.1h0M39.4 4.1h0M38.5 4.4h0M35.3 3.1h0M28.3 7.1h0M42.7 1.5h0M29.6 5.9h0M16.6 5.6h0M41.8 1.7h0M39.7 5.8h0M26.4 0.4h0M41.4 0.4h0M22.3 4.7h0M38.9 7.8h0M18.7 7.5h0M40.9 4.2h0M31.4 4.5h0M33.2 1.4h0M42.4 0.9h0M37.6 0.1h0M38.5 2.3h0M37.4 6.4h0M37.2 3.6h0M37.4 7.5h0M39.6 6.8h0M30 2.2h0M34.7 4.9h0M19.9 0.1h0" stroke="#a0202c" stroke-width="1.4" stroke-linecap="round" fill="none"/>
</g>
<text x="329.3" y="525.79" font-size="7.3" text-anchor="end" fill="#e8303c">SIRPα</text>
<text x="177" y="593.09" font-size="7.3" fill="#e6e6e6">50 µm</text><line x1="177.3" y1="595.3" x2="185.7" y2="595.3" stroke="#f0f0f0" stroke-width="1"/>
<rect x="388.9" y="438.6" width="41.2" height="21.8" fill="none" stroke="#f4f4f4" stroke-width="0.8" stroke-dasharray="1.2 1"/>
<line x1="388.9" y1="460.4" x2="337.6" y2="512.6" stroke="#f0f0f0" stroke-width="0.7" stroke-dasharray="1.2 1"/>
<line x1="430.1" y1="460.4" x2="494.6" y2="512.6" stroke="#f0f0f0" stroke-width="0.7" stroke-dasharray="1.2 1"/>
<path d="M415 481.2L412.6 486.4L415 485L417.4 486.4Z" fill="#ffffff"/>
<g transform="translate(337.1 517.6)" clip-path="url(#gclip)">
<rect x="0" y="0" width="157.9" height="82.6" fill="#18131a"/>
<g filter="url(#nblur)">
<ellipse cx="4.39" cy="21.59" rx="3.27" ry="3.85" transform="rotate(69.27 4.39 21.59)" fill="#28309c"/>
<ellipse cx="11.19" cy="-1.34" rx="3.16" ry="3.9" transform="rotate(9.84 11.19 -1.34)" fill="#242b90"/>
<ellipse cx="143.4" cy="73.06" rx="3.48" ry="4.59" transform="rotate(93.79 143.4 73.06)" fill="#2c34a6"/>
<ellipse cx="3.36" cy="58.41" rx="3.22" ry="4.46" transform="rotate(7.25 3.36 58.41)" fill="#2c34a6"/>
<ellipse cx="158.04" cy="83.83" rx="3.24" ry="4.59" transform="rotate(40.69 158.04 83.83)" fill="#2c34a6"/>
<ellipse cx="10.78" cy="78.53" rx="3.56" ry="4.67" transform="rotate(56.27 10.78 78.53)" fill="#3038ac"/>
<ellipse cx="86.56" cy="46.74" rx="3.52" ry="3.9" transform="rotate(140.16 86.56 46.74)" fill="#222886"/>
<ellipse cx="136.66" cy="62.56" rx="3.5" ry="4.08" transform="rotate(153.66 136.66 62.56)" fill="#242b90"/>
<ellipse cx="51.92" cy="56.05" rx="3.65" ry="4.75" transform="rotate(20.28 51.92 56.05)" fill="#3038ac"/>
<ellipse cx="56.94" cy="66.93" rx="3.6" ry="4.06" transform="rotate(96.76 56.94 66.93)" fill="#222886"/>
<ellipse cx="130.8" cy="77.44" rx="3.69" ry="4.21" transform="rotate(177.27 130.8 77.44)" fill="#3038ac"/>
<ellipse cx="16.89" cy="64.21" rx="3.81" ry="4.09" transform="rotate(161.07 16.89 64.21)" fill="#242b90"/>
<ellipse cx="62.1" cy="17.34" rx="3.55" ry="4.38" transform="rotate(157.72 62.1 17.34)" fill="#34307e"/>
<ellipse cx="121.14" cy="53.75" rx="3.92" ry="4.25" transform="rotate(118.22 121.14 53.75)" fill="#242b90"/>
<ellipse cx="-0.07" cy="14.98" rx="3.57" ry="4.77" transform="rotate(125.91 -0.07 14.98)" fill="#242b90"/>
<ellipse cx="3.56" cy="36.41" rx="3.47" ry="4.38" transform="rotate(168.96 3.56 36.41)" fill="#242b90"/>
<ellipse cx="69.16" cy="24.74" rx="3.65" ry="4.34" transform="rotate(81.65 69.16 24.74)" fill="#34307e"/>
<ellipse cx="65.8" cy="61.2" rx="3.99" ry="4.5" transform="rotate(149.15 65.8 61.2)" fill="#222886"/>
<ellipse cx="117.31" cy="45.06" rx="3.75" ry="3.81" transform="rotate(148.64 117.31 45.06)" fill="#222886"/>
<ellipse cx="84.02" cy="61.24" rx="3.77" ry="3.96" transform="rotate(7.41 84.02 61.24)" fill="#3038ac"/>
<ellipse cx="-0.57" cy="70.37" rx="3.54" ry="4.48" transform="rotate(10.58 -0.57 70.37)" fill="#2c34a6"/>
<ellipse cx="36.14" cy="32.36" rx="3.36" ry="4.02" transform="rotate(140.36 36.14 32.36)" fill="#222886"/>
<ellipse cx="31.5" cy="38.95" rx="3.71" ry="4.62" transform="rotate(171.05 31.5 38.95)" fill="#242b90"/>
<ellipse cx="113.28" cy="75.09" rx="3.69" ry="4.78" transform="rotate(153.47 113.28 75.09)" fill="#28309c"/>
<ellipse cx="60.58" cy="27.76" rx="3.89" ry="3.93" transform="rotate(5.4 60.58 27.76)" fill="#222886"/>
<ellipse cx="98.78" cy="76.73" rx="3.99" ry="4.7" transform="rotate(132.92 98.78 76.73)" fill="#3038ac"/>
<ellipse cx="121.01" cy="81.5" rx="3.75" ry="4.59" transform="rotate(25.22 121.01 81.5)" fill="#34307e"/>
<ellipse cx="49.1" cy="30.08" rx="3.32" ry="4.13" transform="rotate(95.96 49.1 30.08)" fill="#242b90"/>
<ellipse cx="39.21" cy="58.4" rx="3.86" ry="4.86" transform="rotate(126.04 39.21 58.4)" fill="#3038ac"/>
<ellipse cx="41.37" cy="12.56" rx="3.07" ry="3.89" transform="rotate(52.92 41.37 12.56)" fill="#34307e"/>
<ellipse cx="74.03" cy="71.4" rx="3.26" ry="4.41" transform="rotate(85.45 74.03 71.4)" fill="#3038ac"/>
<ellipse cx="141.34" cy="23.84" rx="3.72" ry="4.84" transform="rotate(90.27 141.34 23.84)" fill="#2c34a6"/>
<ellipse cx="142.1" cy="4.92" rx="3.61" ry="4.54" transform="rotate(117.94 142.1 4.92)" fill="#28309c"/>
<ellipse cx="86.66" cy="70.11" rx="3.2" ry="4.89" transform="rotate(81.29 86.66 70.11)" fill="#222886"/>
<ellipse cx="44.21" cy="68.12" rx="3.07" ry="4.29" transform="rotate(162.85 44.21 68.12)" fill="#242b90"/>
<ellipse cx="30.97" cy="84.7" rx="3.63" ry="4.2" transform="rotate(61.75 30.97 84.7)" fill="#222886"/>
<ellipse cx="19.03" cy="74.19" rx="3.46" ry="4.99" transform="rotate(91.91 19.03 74.19)" fill="#3038ac"/>
<ellipse cx="34.34" cy="73.4" rx="3.35" ry="4.6" transform="rotate(174.44 34.34 73.4)" fill="#222886"/>
<ellipse cx="107.78" cy="46.59" rx="3.48" ry="4.18" transform="rotate(9.16 107.78 46.59)" fill="#242b90"/>
<ellipse cx="160.47" cy="69.19" rx="3.14" ry="4.88" transform="rotate(105.16 160.47 69.19)" fill="#222886"/>
<ellipse cx="31.14" cy="-1.57" rx="3.61" ry="4.75" transform="rotate(131.34 31.14 -1.57)" fill="#2c34a6"/>
<ellipse cx="23.1" cy="6.21" rx="3.39" ry="4.71" transform="rotate(83.01 23.1 6.21)" fill="#3038ac"/>
<ellipse cx="124.02" cy="65.93" rx="3.95" ry="4.98" transform="rotate(58.64 124.02 65.93)" fill="#2c34a6"/>
<ellipse cx="155.37" cy="75.39" rx="3.8" ry="4.96" transform="rotate(68.33 155.37 75.39)" fill="#3038ac"/>
<ellipse cx="20.65" cy="35.83" rx="3.56" ry="4.22" transform="rotate(23.95 20.65 35.83)" fill="#242b90"/>
<ellipse cx="1.63" cy="4.2" rx="3.71" ry="3.99" transform="rotate(108.73 1.63 4.2)" fill="#3038ac"/>
<ellipse cx="152.01" cy="50.63" rx="3.43" ry="4.34" transform="rotate(51.39 152.01 50.63)" fill="#2c34a6"/>
<ellipse cx="74.12" cy="44.42" rx="3.19" ry="4.79" transform="rotate(75.63 74.12 44.42)" fill="#28309c"/>
<ellipse cx="74.62" cy="53.56" rx="3.81" ry="4.5" transform="rotate(40.37 74.62 53.56)" fill="#242b90"/>
<ellipse cx="15.52" cy="46.86" rx="3.5" ry="4.19" transform="rotate(129.45 15.52 46.86)" fill="#222886"/>
<ellipse cx="45.25" cy="20.43" rx="3.94" ry="4.33" transform="rotate(85.62 45.25 20.43)" fill="#242b90"/>
<ellipse cx="142.42" cy="82.43" rx="3.44" ry="4.39" transform="rotate(160.55 142.42 82.43)" fill="#2c34a6"/>
<ellipse cx="-0.62" cy="46.56" rx="3.39" ry="4.62" transform="rotate(34.14 -0.62 46.56)" fill="#34307e"/>
<ellipse cx="129.11" cy="48.43" rx="3.04" ry="4.98" transform="rotate(15.06 129.11 48.43)" fill="#222886"/>
<ellipse cx="60.7" cy="78.95" rx="3.13" ry="4.97" transform="rotate(140.23 60.7 78.95)" fill="#28309c"/>
<ellipse cx="46.08" cy="1.02" rx="3.86" ry="4.7" transform="rotate(68.26 46.08 1.02)" fill="#242b90"/>
<ellipse cx="16.16" cy="23.45" rx="3.86" ry="4.77" transform="rotate(149.08 16.16 23.45)" fill="#222886"/>
<ellipse cx="95.85" cy="68.76" rx="3.39" ry="4.04" transform="rotate(111.63 95.85 68.76)" fill="#3038ac"/>
<ellipse cx="152.28" cy="6.03" rx="3.33" ry="4.95" transform="rotate(131.38 152.28 6.03)" fill="#222886"/>
<ellipse cx="29.11" cy="18.28" rx="3.39" ry="4.97" transform="rotate(131.74 29.11 18.28)" fill="#3038ac"/>
<ellipse cx="25.75" cy="45.28" rx="3.99" ry="4.72" transform="rotate(51.25 25.75 45.28)" fill="#242b90"/>
<ellipse cx="15.57" cy="10.85" rx="3.95" ry="4.65" transform="rotate(93.38 15.57 10.85)" fill="#28309c"/>
<ellipse cx="151.98" cy="59.82" rx="3.74" ry="4.32" transform="rotate(172.46 151.98 59.82)" fill="#2c34a6"/>
<ellipse cx="93.24" cy="52.06" rx="3.33" ry="4.46" transform="rotate(107.69 93.24 52.06)" fill="#242b90"/>
<ellipse cx="53.13" cy="83.78" rx="3.09" ry="4.73" transform="rotate(20.86 53.13 83.78)" fill="#34307e"/>
<ellipse cx="151.37" cy="68.31" rx="3.39" ry="4.26" transform="rotate(101.99 151.37 68.31)" fill="#3038ac"/>
<ellipse cx="73.96" cy="5.19" rx="3.66" ry="4.04" transform="rotate(140.9 73.96 5.19)" fill="#3038ac"/>
<ellipse cx="26.29" cy="62.66" rx="3.52" ry="4.87" transform="rotate(44.47 26.29 62.66)" fill="#28309c"/>
<ellipse cx="150.21" cy="25.11" rx="3.1" ry="4.2" transform="rotate(109.46 150.21 25.11)" fill="#2c34a6"/>
<ellipse cx="145.71" cy="35.76" rx="3.23" ry="4.29" transform="rotate(172.27 145.71 35.76)" fill="#34307e"/>
<ellipse cx="57.58" cy="1.69" rx="3.75" ry="4.37" transform="rotate(167.16 57.58 1.69)" fill="#3038ac"/>
<ellipse cx="153.33" cy="-2.2" rx="3.25" ry="4.33" transform="rotate(21.14 153.33 -2.2)" fill="#28309c"/>
<ellipse cx="113.52" cy="17.48" rx="3.72" ry="4.04" transform="rotate(166.56 113.52 17.48)" fill="#28309c"/>
<ellipse cx="138.64" cy="51.29" rx="3.2" ry="4.38" transform="rotate(125 138.64 51.29)" fill="#3038ac"/>
<ellipse cx="51.78" cy="12.53" rx="3.6" ry="4.13" transform="rotate(11.24 51.78 12.53)" fill="#222886"/>
<ellipse cx="104.69" cy="61.64" rx="3.05" ry="3.95" transform="rotate(140.86 104.69 61.64)" fill="#28309c"/>
<ellipse cx="12.5" cy="54.83" rx="3.23" ry="4.52" transform="rotate(83.13 12.5 54.83)" fill="#222886"/>
<ellipse cx="87.1" cy="78.71" rx="3.1" ry="4.14" transform="rotate(64.49 87.1 78.71)" fill="#34307e"/>
<ellipse cx="22.29" cy="-2.22" rx="3.78" ry="4.44" transform="rotate(154.72 22.29 -2.22)" fill="#28309c"/>
<ellipse cx="145.81" cy="44.13" rx="3.62" ry="3.82" transform="rotate(22.64 145.81 44.13)" fill="#34307e"/>
<ellipse cx="156.79" cy="35.29" rx="3.89" ry="3.88" transform="rotate(128.6 156.79 35.29)" fill="#222886"/>
<ellipse cx="10.87" cy="30.69" rx="3.9" ry="4.02" transform="rotate(171.79 10.87 30.69)" fill="#28309c"/>
<ellipse cx="63" cy="37.14" rx="3.47" ry="3.91" transform="rotate(47.86 63 37.14)" fill="#34307e"/>
<ellipse cx="33.21" cy="7.41" rx="3.99" ry="4.09" transform="rotate(120.42 33.21 7.41)" fill="#3038ac"/>
<ellipse cx="117.22" cy="60.92" rx="3.56" ry="4.87" transform="rotate(105.24 117.22 60.92)" fill="#3038ac"/>
<ellipse cx="60.32" cy="46.51" rx="3.18" ry="4.16" transform="rotate(86.86 60.32 46.51)" fill="#28309c"/>
<ellipse cx="130.66" cy="22.69" rx="3.12" ry="4.11" transform="rotate(35.01 130.66 22.69)" fill="#2c34a6"/>
<ellipse cx="65.54" cy="-0.78" rx="3.32" ry="4.61" transform="rotate(133.02 65.54 -0.78)" fill="#34307e"/>
<ellipse cx="44.62" cy="80.97" rx="3.47" ry="4.07" transform="rotate(67.76 44.62 80.97)" fill="#2c34a6"/>
<ellipse cx="154.29" cy="13.97" rx="3.48" ry="4.51" transform="rotate(179.01 154.29 13.97)" fill="#28309c"/>
<ellipse cx="47.65" cy="43.01" rx="3.31" ry="4.1" transform="rotate(123.11 47.65 43.01)" fill="#3038ac"/>
<ellipse cx="62.83" cy="9.34" rx="3.96" ry="4.88" transform="rotate(107.9 62.83 9.34)" fill="#3038ac"/>
<ellipse cx="77.04" cy="83.45" rx="3.87" ry="4.14" transform="rotate(32.03 77.04 83.45)" fill="#3038ac"/>
<ellipse cx="98.93" cy="85.43" rx="3.72" ry="4.02" transform="rotate(62.83 98.93 85.43)" fill="#28309c"/>
<ellipse cx="101.16" cy="29.99" rx="3.71" ry="4.21" transform="rotate(159.96 101.16 29.99)" fill="#3038ac"/>
<ellipse cx="-1.57" cy="84.34" rx="3.05" ry="4.1" transform="rotate(93.55 -1.57 84.34)" fill="#28309c"/>
<ellipse cx="79.25" cy="20.02" rx="3.47" ry="4.52" transform="rotate(79.87 79.25 20.02)" fill="#3038ac"/>
<ellipse cx="23.78" cy="28.49" rx="3.78" ry="4.14" transform="rotate(105.09 23.78 28.49)" fill="#222886"/>
<ellipse cx="18.76" cy="85.02" rx="3.95" ry="4.81" transform="rotate(27.22 18.76 85.02)" fill="#34307e"/>
<ellipse cx="7.63" cy="48.25" rx="3.14" ry="4.05" transform="rotate(63.33 7.63 48.25)" fill="#3038ac"/>
<ellipse cx="107.48" cy="84.19" rx="3.88" ry="4.64" transform="rotate(145.82 107.48 84.19)" fill="#34307e"/>
<ellipse cx="84.21" cy="-2.56" rx="3.31" ry="4.14" transform="rotate(52.3 84.21 -2.56)" fill="#3038ac"/>
<ellipse cx="159.68" cy="57.72" rx="3.09" ry="4.6" transform="rotate(53.26 159.68 57.72)" fill="#222886"/>
<ellipse cx="135.38" cy="32.65" rx="3.26" ry="4.1" transform="rotate(53.49 135.38 32.65)" fill="#34307e"/>
<ellipse cx="159.78" cy="21.23" rx="3.14" ry="4.19" transform="rotate(35.73 159.78 21.23)" fill="#242b90"/>
<ellipse cx="7.24" cy="10.67" rx="3.61" ry="4.61" transform="rotate(73.92 7.24 10.67)" fill="#3038ac"/>
<ellipse cx="50.3" cy="75.37" rx="3.19" ry="4.19" transform="rotate(30.73 50.3 75.37)" fill="#34307e"/>
<ellipse cx="106.02" cy="71.9" rx="3.57" ry="4.1" transform="rotate(158.64 106.02 71.9)" fill="#2c34a6"/>
<ellipse cx="43.23" cy="50.41" rx="3.05" ry="3.89" transform="rotate(37.07 43.23 50.41)" fill="#2c34a6"/>
<ellipse cx="72.05" cy="34" rx="3.62" ry="4.52" transform="rotate(69.95 72.05 34)" fill="#242b90"/>
<ellipse cx="30.33" cy="55.53" rx="3.89" ry="4.33" transform="rotate(36.61 30.33 55.53)" fill="#28309c"/>
<ellipse cx="90.67" cy="25.78" rx="3.76" ry="4.07" transform="rotate(125.43 90.67 25.78)" fill="#34307e"/>
<ellipse cx="54.18" cy="37.54" rx="3.68" ry="4.53" transform="rotate(9.3 54.18 37.54)" fill="#3038ac"/>
<ellipse cx="121.77" cy="18.83" rx="3.77" ry="4.91" transform="rotate(61.14 121.77 18.83)" fill="#34307e"/>
<ellipse cx="35.68" cy="46.39" rx="3.21" ry="4.45" transform="rotate(170.81 35.68 46.39)" fill="#2c34a6"/>
</g>
<path d="M143.3 42.4h0M10.1 47.7h0M2.6 58.9h0M133.9 24.2h0M66.9 37h0M76.5 27.4h0M56 14.4h0M132.7 49.4h0M77.5 23.3h0M137.4 39.9h0M99.4 44.7h0M120.8 22.9h0M157.7 30.3h0M31.5 66h0M110.9 55.6h0M35.8 7.3h0M126.7 27.6h0M110.5 37.9h0M75.3 60.8h0M22.5 77h0M134.2 6.2h0M6.3 79.6h0M22.8 44.4h0M108.8 70.9h0M116.5 56.1h0M135.1 17.9h0M126.5 8.8h0M50.7 76.1h0M150.3 66.5h0M63.6 64.5h0M107.9 25.1h0M67.7 42h0M84.2 27.8h0M69.4 71h0M44.8 75.5h0M65.4 38.2h0M17.4 35.2h0M96.3 40.3h0M116.7 50.5h0M42 3.7h0M129.7 41.7h0M123 42.7h0M59.5 28.1h0M32.6 65.2h0M60.4 50.2h0M94.1 76.2h0M1.7 70.7h0M152.6 15.6h0M64.3 4.3h0M18 81.6h0M131.2 82.1h0M94.1 24.4h0M78.1 8h0M129.8 76.7h0M66.1 39.9h0M29.3 26.3h0M107.8 0.6h0M80.5 19.7h0M149.9 45.7h0M43.5 26.5h0M136.2 77.4h0M109.9 34h0M114.1 3.2h0M87.8 74.5h0M79.8 77.5h0M45.4 72.3h0M24.8 74.4h0M126.5 56.3h0M1.3 62.2h0M74.5 36.5h0M100.4 49.5h0M116.9 30.6h0M131.5 34h0M148 23.8h0M98.3 49.6h0M35.5 57.8h0M100.5 78h0M144.3 22.6h0M39 22.9h0M55.1 67.4h0M23.7 35h0M82 10.7h0M58.1 27.3h0M64.5 71.2h0M66.3 7.4h0M137.3 50h0M47.2 56h0M47.7 79.3h0M108.2 57.6h0M130.4 31.4h0M124.4 67.9h0M126.2 24.3h0M3.2 71.6h0M136.6 39.6h0M53.9 10.7h0M31.3 8.1h0M76.2 41.9h0M113.3 30.5h0M99.2 50.4h0M54.4 1.2h0M77.9 36h0M92.2 61.5h0M131.5 68.1h0M8.2 32.6h0M58.3 5.7h0M29.3 51.2h0M83 64.5h0M88.8 28.8h0M127.4 24.9h0M52.6 13.8h0M40.3 31.1h0M67.7 64h0M133.8 2.5h0M108.1 69.5h0M1 53.2h0M0.5 61.9h0M50.9 41.3h0M90.5 45h0M58.6 35h0M42.4 23.2h0M143.4 60.5h0M68.6 16.6h0M82.6 59.3h0M133.8 51.5h0M45.2 72.4h0M116 81.5h0M149.9 21.9h0M153.6 32.5h0M149.1 10.9h0M146.9 61.3h0M35 15.3h0M131.6 29.3h0M25.1 26h0M11.6 46.7h0M62.1 28.5h0M138.4 71.6h0M80.1 8.5h0M43.4 44.1h0M37.9 23.3h0M152.1 53.5h0M74.9 72.6h0M3.3 39.6h0M136.1 77.7h0M64.8 21.1h0M2.8 23.5h0M3.9 58.1h0M61.6 33.7h0M82.3 77.3h0M120.1 45.8h0M75.2 9h0M70.2 10.6h0M148.6 25.1h0M72.5 1.3h0M14.7 13.1h0M6.6 19.2h0M107.5 59h0M109.8 80.1h0M116 20h0M90.8 73.6h0M94.3 80.7h0M23.7 35.3h0M153 69.2h0M28 26.4h0M55.3 6.9h0M69.6 50.1h0M37.1 53.6h0M32.7 66h0M64.8 54.1h0M154 20.2h0M126.6 35.6h0M74.9 48.8h0M18.2 72.1h0M12 51.3h0M41.7 26.5h0M114.2 31.7h0M27.9 25.4h0M61 5.1h0M53.7 5.7h0M93.9 30.2h0M20 71.9h0M131.2 28.3h0M62.1 81.6h0M58.1 22.9h0M143.7 35.1h0M131.9 69.7h0M94.6 49.4h0M14.1 81.8h0M106.2 18.2h0M64.2 52.2h0M48.5 6.3h0M70.4 59.6h0M140.2 10.7h0M62.2 2.1h0M2.2 42.6h0M130.6 43.8h0M105 45.3h0M156.1 20.6h0M149.9 56.5h0M113.4 10.2h0M90.5 72.1h0M113.1 27.7h0M39.2 18.7h0M34.1 10h0M137.4 4.8h0M149.2 25.1h0M152.3 64.1h0M117.3 11.2h0M21.4 38.8h0M26.2 24.8h0M13.5 74.1h0M27 68.6h0M33.5 70.8h0M90.4 74h0M132.7 63.2h0M154.2 16.9h0M116.1 39.5h0M113.8 72.4h0M3.9 12.5h0M115 24h0M18.1 8.5h0M153.5 46.1h0M16.2 64.7h0M49 57.2h0M121.3 82.5h0M91.5 18.4h0M45.8 32.5h0M88.3 19.2h0M157.5 9.7h0M95 13.4h0M97 38.1h0M143.3 14.5h0M100 41.2h0M75.3 38.6h0M16.1 14.3h0M129.9 26h0M117.7 68.4h0M62.5 62.5h0M15.8 25.5h0M121.3 73.7h0M0.1 5.8h0M124.5 75h0M90.4 10.2h0M92.3 73.8h0M26.4 37.3h0M19 61.9h0M144.9 80.8h0M110.1 80.5h0M151.1 61.2h0M78.4 15.9h0M152.3 71.9h0M59.4 76.5h0M76 82.1h0M24.5 68.9h0M137.5 49h0M62.5 52.4h0M106.8 35h0M48.7 52.7h0M42.7 66.9h0M150.1 71.6h0M16.8 63.5h0M140.5 60.6h0M2.2 55.2h0M96.8 3.8h0M133.7 37.5h0M102 8.1h0M33.5 77.3h0M89.4 6.1h0M145.8 65.9h0M77.8 61.7h0M82.2 57.1h0M2.4 35.4h0M5.2 74.6h0M108.7 29.6h0M150.1 69.4h0M56.4 3.8h0M153.6 0.8h0M136.5 32.4h0M155 59.3h0M101.4 2.9h0M38.5 65.2h0M116.5 36.2h0M50.6 45h0M32 72.7h0M39.7 45h0M96.8 44h0M71.7 2.6h0M138 14.7h0M26.4 63.1h0M26.2 53.7h0M17.2 37.9h0M59.9 60.2h0M106.6 46.5h0M131.6 37.9h0M4.7 58.3h0M62.6 27.8h0M15.8 32.4h0M91.2 67.7h0M12.4 56.8h0M123.9 75.7h0M32.9 13.5h0M76.6 32.1h0M3.9 73.3h0M148.3 55h0M30.2 63.7h0M47.2 50.8h0M141.7 34.3h0M18.8 54.2h0M49.2 34.6h0M34.3 6.6h0M157.6 21h0M134.3 63.3h0M8.2 16h0M87.9 67h0M154.3 76.7h0M34.9 38.7h0M139.3 45.6h0M23.3 50.8h0M88.7 10h0M103 70.7h0M51.6 56.7h0M113.6 8.6h0M21.3 8.3h0M114.7 66.1h0M143.9 31.6h0M31.7 76.1h0M29.7 48.5h0M95 28.4h0M6.6 9.7h0M29.4 48.4h0M33 68.6h0M42.2 21.5h0M112.3 37h0M124.6 73h0M121.4 42.4h0M29.2 17h0M57.7 4h0M23.6 62.8h0M23.7 68.9h0M49.6 16.7h0M86.3 77.7h0M8.9 43.9h0M31 6.3h0M74.1 8.4h0M97.8 57.6h0M123.6 47.9h0M3.3 4.2h0M113.6 5.9h0M91.5 64.8h0M53.8 43.5h0M33.7 75.3h0M103.4 82.6h0M39.3 39.8h0M104.7 62.1h0M135.3 7.8h0M51.2 71.2h0M45.9 8.3h0M123.7 74.5h0M144.7 34.3h0M147.2 77.5h0M5.9 41.7h0M5.5 71.8h0M87.5 26h0M6 63.8h0M91.8 79.1h0M135.9 12.6h0M77.8 68.1h0M22.3 58.5h0M72.7 57.6h0M148.4 35.3h0M26.6 49.1h0M70.6 9.9h0M20.8 25.2h0M108.7 56.6h0M132.2 57.6h0M47.7 23.8h0M118.9 38.5h0M40.5 14h0M68.1 72.9h0M31.6 15.7h0M153.8 59.5h0M28.5 41.5h0M87.8 22.7h0M5.5 37.9h0M78.5 40.7h0M22.6 56.5h0M157.4 32.2h0M155.4 27.6h0M85 58.3h0M66.2 59.7h0M138.8 27.1h0M65.5 5.7h0M129.4 11.6h0M88.7 54.5h0M18.8 81.4h0M77.3 79.5h0M53.7 35.4h0M140.9 1.8h0M25.7 55.3h0M148.9 13.9h0M104.8 9h0M88.2 56.9h0M52.1 11.5h0M67.7 31.6h0M114.8 12.7h0M153.2 1.8h0M136.9 12.5h0M88.7 23.6h0M127.4 22.1h0M9.8 53h0M34.9 35.1h0M19.4 60.7h0M69.9 6h0M45.9 80.8h0M131.2 9.9h0M16.9 47.3h0M30.8 38.1h0M143.6 43h0M75.1 5.4h0M131.8 74.4h0M70.8 52.5h0M37.8 61h0M0.7 66.2h0M24.4 13.1h0M52 7.2h0M38 51h0M81.4 9h0M113.6 34.3h0M8.2 71.5h0M141.4 12.8h0M99.1 81h0M120.3 37.5h0M110.9 58.7h0M147.4 81.6h0M40.9 13h0M120.7 2.9h0M114.3 75.9h0M111.2 40.8h0M133.9 47.8h0M72.4 45.1h0M23.6 69.7h0M144.1 3.1h0M53.2 68.3h0M54 65.1h0M77.6 78.7h0M59.2 56.7h0M24.9 24.7h0M114.8 3.1h0M125.7 33.8h0M102.4 56.6h0M150 61.1h0M119 30.2h0M45.9 22.7h0M24.9 39.3h0M64.6 79.5h0M114.2 52.8h0M126.3 65.4h0M69.8 11.8h0M21.1 68.7h0M148.1 23.9h0M119.3 45.5h0M123 62.3h0M19.5 34.1h0M113.1 71.5h0M52.5 71.6h0M75.6 48.4h0M91.4 78.1h0M131.3 67.6h0M41.3 66.8h0M40.7 62.1h0M94.3 78.4h0M34.3 40.6h0M128.3 22.1h0M93.8 66h0M154.1 73.3h0M126.7 13.3h0M9.6 47.9h0M112.2 33.3h0M141.7 21h0M5.5 8.2h0M48.8 70.8h0M101.3 38.5h0M82.4 15h0M151.8 5.3h0M53.6 18.3h0M31.8 19.7h0M60.5 2.3h0M128.4 3.7h0M50.3 4.3h0M0.5 68h0M106.7 21.1h0M118.8 41.8h0M11.8 35.7h0M132 21.5h0M3.6 79.6h0M50.6 34.8h0M69.7 36.8h0M121.5 10.4h0M17.7 80.8h0M128 5.4h0M119.4 47.1h0" stroke="#a8182a" stroke-width="0.9" stroke-linecap="round" stroke-opacity="0.85" fill="none"/>
<ellipse cx="72" cy="18" rx="4" ry="1.8" fill="#4fd8c8" fill-opacity="0.9"/>
<ellipse cx="77" cy="20" rx="2.5" ry="1.5" fill="#7ff0e0" fill-opacity="0.9"/>
<ellipse cx="81" cy="21.5" rx="2.2" ry="1.3" fill="#4fd8c8" fill-opacity="0.9"/>
<ellipse cx="104" cy="10" rx="3" ry="2.2" fill="#48c8c0" fill-opacity="0.9"/>
<ellipse cx="109" cy="13" rx="2.5" ry="2" fill="#9ff0e8" fill-opacity="0.9"/>
<ellipse cx="118" cy="24.5" rx="2.5" ry="2.2" fill="#c8f4f0" fill-opacity="0.9"/>
<ellipse cx="115.5" cy="32" rx="1.2" ry="1.2" fill="#48c8c0" fill-opacity="0.9"/>
<ellipse cx="81" cy="46.5" rx="2.5" ry="2" fill="#d0f0ee" fill-opacity="0.9"/>
<ellipse cx="79.4" cy="45.5" rx="1.2" ry="1.2" fill="#48d8c8" fill-opacity="0.9"/>
<ellipse cx="140" cy="56" rx="3.5" ry="4.5" fill="#5ee0d8" fill-opacity="0.9"/>
<ellipse cx="141" cy="57" rx="2" ry="3" fill="#e8fffc" fill-opacity="0.9"/>
<ellipse cx="154" cy="77.5" rx="1.8" ry="2.5" fill="#58d0c8" fill-opacity="0.9"/>
<ellipse cx="118" cy="28" rx="1.4" ry="1.4" fill="#4fd8c8" fill-opacity="0.9"/>
<circle cx="46.7" cy="57.2" r="2.2" fill="#f0dc30"/>
<circle cx="63.7" cy="15.8" r="1.1" fill="#e8d030"/>
<circle cx="129.3" cy="76.5" r="1.8" fill="#f0dc30"/>
<circle cx="14" cy="60.7" r="2.3" fill="none" stroke="#c8b830" stroke-width="0.9"/>
</g>
<text x="338.6" y="556.79" font-size="7.3" fill="#f4f4f4">CD68+LY6E+SPP1+</text>
<text x="446.3" y="539.39" font-size="7.3" fill="#f4f4f4">CD68+LY6E+</text>
<text x="420.6" y="559.89" font-size="7.3" fill="#f4f4f4">CD68+LY6E+SIRPα+</text>
<text x="338.6" y="592.89" font-size="7.3" fill="#f4f4f4">10 µm</text>
<line x1="338.8" y1="595" x2="345" y2="595" stroke="#f4f4f4" stroke-width="1"/>
<path d="M400.3 539.6L406.5 540.6L403.5 542L403.3 545.3Z" fill="#ffffff"/>
<path d="M453.6 524.3L459.5 524.8L456.8 526.3L456.5 529.3Z" fill="#ffffff"/>
<path d="M475.3 561.3L478.2 565.2L481.1 561.3L478.2 562.6Z" fill="#e2582a"/>
<text x="515.2" y="429.79" font-size="13.5" font-weight="bold" fill="#000">h</text>
<text x="616.1" y="428.89" font-size="7.3" text-anchor="middle" fill="#222">INTERFERON ALPHA RESPONSE</text>
<line x1="564.72" y1="431" x2="564.72" y2="500.3" stroke="#e6e6ea" stroke-width="0.45"/>
<line x1="581.94" y1="431" x2="581.94" y2="500.3" stroke="#e6e6ea" stroke-width="0.45"/>
<line x1="599.16" y1="431" x2="599.16" y2="500.3" stroke="#e6e6ea" stroke-width="0.45"/>
<line x1="616.38" y1="431" x2="616.38" y2="500.3" stroke="#e6e6ea" stroke-width="0.45"/>
<line x1="633.6" y1="431" x2="633.6" y2="500.3" stroke="#e6e6ea" stroke-width="0.45"/>
<line x1="650.82" y1="431" x2="650.82" y2="500.3" stroke="#e6e6ea" stroke-width="0.45"/>
<line x1="668.04" y1="431" x2="668.04" y2="500.3" stroke="#e6e6ea" stroke-width="0.45"/>
<line x1="545.8" y1="431" x2="545.8" y2="500.3" stroke="#2a2a2a" stroke-width="0.75"/>
<line x1="545.8" y1="500.3" x2="685" y2="500.3" stroke="#2a2a2a" stroke-width="0.75"/>
<line x1="544.5" y1="448.5" x2="545.8" y2="448.5" stroke="#333" stroke-width="0.45"/>
<text x="543.2" y="450.99" font-size="7" text-anchor="end" fill="#333">0.50</text>
<line x1="544.5" y1="457.5" x2="545.8" y2="457.5" stroke="#333" stroke-width="0.45"/>
<text x="543.2" y="459.99" font-size="7" text-anchor="end" fill="#333">0.25</text>
<line x1="544.5" y1="466.4" x2="545.8" y2="466.4" stroke="#333" stroke-width="0.45"/>
<text x="543.2" y="468.88" font-size="7" text-anchor="end" fill="#333">0.00</text>
<line x1="544.5" y1="483.4" x2="545.8" y2="483.4" stroke="#333" stroke-width="0.45"/>
<text x="543.2" y="485.88" font-size="7" text-anchor="end" fill="#333">2</text>
<line x1="544.5" y1="490.7" x2="545.8" y2="490.7" stroke="#333" stroke-width="0.45"/>
<text x="543.2" y="493.19" font-size="7" text-anchor="end" fill="#333">0</text>
<line x1="544.5" y1="498.6" x2="545.8" y2="498.6" stroke="#333" stroke-width="0.45"/>
<text x="543.2" y="501.09" font-size="7" text-anchor="end" fill="#333">−2</text>
<line x1="581.94" y1="500.3" x2="581.94" y2="501.6" stroke="#333" stroke-width="0.45"/>
<text x="581.94" y="511.49" font-size="7" text-anchor="middle" fill="#333">2000</text>
<line x1="616.38" y1="500.3" x2="616.38" y2="501.6" stroke="#333" stroke-width="0.45"/>
<text x="616.38" y="511.49" font-size="7" text-anchor="middle" fill="#333">4000</text>
<line x1="650.82" y1="500.3" x2="650.82" y2="501.6" stroke="#333" stroke-width="0.45"/>
<text x="650.82" y="511.49" font-size="7" text-anchor="middle" fill="#333">6000</text>
<text transform="translate(519.6 458.2) rotate(-90)" x="0" y="2.59" font-size="7.3" text-anchor="middle" fill="#222">Running ES</text>
<line x1="547.2" y1="466" x2="547.2" y2="476.9" stroke="#c7323f" stroke-width="0.55"/>
<line x1="548.22" y1="466" x2="548.22" y2="476.9" stroke="#c7323f" stroke-width="0.55"/>
<line x1="549.15" y1="466" x2="549.15" y2="476.9" stroke="#c7323f" stroke-width="0.55"/>
<line x1="549.88" y1="466" x2="549.88" y2="476.9" stroke="#c7323f" stroke-width="0.55"/>
<line x1="551.26" y1="466" x2="551.26" y2="476.9" stroke="#c7323f" stroke-width="0.55"/>
<line x1="551.86" y1="466" x2="551.86" y2="476.9" stroke="#c7323f" stroke-width="0.55"/>
<line x1="552.92" y1="466" x2="552.92" y2="476.9" stroke="#c7323f" stroke-width="0.55"/>
<line x1="554.32" y1="466" x2="554.32" y2="476.9" stroke="#c7323f" stroke-width="0.55"/>
<line x1="555" y1="466" x2="555" y2="476.9" stroke="#c7323f" stroke-width="0.55"/>
<line x1="556.1" y1="466" x2="556.1" y2="476.9" stroke="#c7323f" stroke-width="0.55"/>
<line x1="557.25" y1="466" x2="557.25" y2="476.9" stroke="#c7323f" stroke-width="0.55"/>
<line x1="557.89" y1="466" x2="557.89" y2="476.9" stroke="#c7323f" stroke-width="0.55"/>
<line x1="558.83" y1="466" x2="558.83" y2="476.9" stroke="#c7323f" stroke-width="0.55"/>
<line x1="560.06" y1="466" x2="560.06" y2="476.9" stroke="#c7323f" stroke-width="0.55"/>
<line x1="561.07" y1="466" x2="561.07" y2="476.9" stroke="#c7323f" stroke-width="0.55"/>
<line x1="562.32" y1="466" x2="562.32" y2="476.9" stroke="#c7323f" stroke-width="0.55"/>
<line x1="563.06" y1="466" x2="563.06" y2="476.9" stroke="#c7323f" stroke-width="0.55"/>
<line x1="563.88" y1="466" x2="563.88" y2="476.9" stroke="#c7323f" stroke-width="0.55"/>
<line x1="564.58" y1="466" x2="564.58" y2="476.9" stroke="#c7323f" stroke-width="0.55"/>
<line x1="565.63" y1="466" x2="565.63" y2="476.9" stroke="#c7323f" stroke-width="0.55"/>
<line x1="567.06" y1="466" x2="567.06" y2="476.9" stroke="#c7323f" stroke-width="0.55"/>
<line x1="568.2" y1="466" x2="568.2" y2="476.9" stroke="#c7323f" stroke-width="0.55"/>
<line x1="569.42" y1="466" x2="569.42" y2="476.9" stroke="#c7323f" stroke-width="0.55"/>
<line x1="570.33" y1="466" x2="570.33" y2="476.9" stroke="#e8a0a6" stroke-width="0.55"/>
<line x1="571.87" y1="466" x2="571.87" y2="476.9" stroke="#c7323f" stroke-width="0.55"/>
<line x1="573.13" y1="466" x2="573.13" y2="476.9" stroke="#e8a0a6" stroke-width="0.55"/>
<line x1="574.23" y1="466" x2="574.23" y2="476.9" stroke="#e8a0a6" stroke-width="0.55"/>
<line x1="575.34" y1="466" x2="575.34" y2="476.9" stroke="#c7323f" stroke-width="0.55"/>
<line x1="576.36" y1="466" x2="576.36" y2="476.9" stroke="#c7323f" stroke-width="0.55"/>
<line x1="578.12" y1="466" x2="578.12" y2="476.9" stroke="#e8a0a6" stroke-width="0.55"/>
<line x1="579.34" y1="466" x2="579.34" y2="476.9" stroke="#e8a0a6" stroke-width="0.55"/>
<line x1="580.17" y1="466" x2="580.17" y2="476.9" stroke="#e8a0a6" stroke-width="0.55"/>
<line x1="581.96" y1="466" x2="581.96" y2="476.9" stroke="#e8a0a6" stroke-width="0.55"/>
<line x1="583.42" y1="466" x2="583.42" y2="476.9" stroke="#e8a0a6" stroke-width="0.55"/>
<line x1="584.86" y1="466" x2="584.86" y2="476.9" stroke="#c7323f" stroke-width="0.55"/>
<line x1="585.88" y1="466" x2="585.88" y2="476.9" stroke="#e8a0a6" stroke-width="0.55"/>
<line x1="586.77" y1="466" x2="586.77" y2="476.9" stroke="#e8a0a6" stroke-width="0.55"/>
<line x1="587.59" y1="466" x2="587.59" y2="476.9" stroke="#e8a0a6" stroke-width="0.55"/>
<line x1="588.94" y1="466" x2="588.94" y2="476.9" stroke="#c7323f" stroke-width="0.55"/>
<line x1="595.46" y1="466" x2="595.46" y2="476.9" stroke="#c7323f" stroke-width="0.5"/>
<line x1="596.73" y1="466" x2="596.73" y2="476.9" stroke="#c7323f" stroke-width="0.5"/>
<line x1="599.27" y1="466" x2="599.27" y2="476.9" stroke="#c7323f" stroke-width="0.5"/>
<line x1="601.39" y1="466" x2="601.39" y2="476.9" stroke="#c7323f" stroke-width="0.5"/>
<line x1="602.87" y1="466" x2="602.87" y2="476.9" stroke="#c7323f" stroke-width="0.5"/>
<line x1="604.56" y1="466" x2="604.56" y2="476.9" stroke="#c7323f" stroke-width="0.5"/>
<line x1="606.68" y1="466" x2="606.68" y2="476.9" stroke="#c7323f" stroke-width="0.5"/>
<line x1="608.16" y1="466" x2="608.16" y2="476.9" stroke="#c7323f" stroke-width="0.5"/>
<line x1="609.86" y1="466" x2="609.86" y2="476.9" stroke="#c7323f" stroke-width="0.5"/>
<line x1="611.55" y1="466" x2="611.55" y2="476.9" stroke="#c7323f" stroke-width="0.5"/>
<line x1="615.57" y1="466" x2="615.57" y2="476.9" stroke="#c7323f" stroke-width="0.5"/>
<line x1="621.5" y1="466" x2="621.5" y2="476.9" stroke="#c7323f" stroke-width="0.5"/>
<line x1="622.56" y1="466" x2="622.56" y2="476.9" stroke="#c7323f" stroke-width="0.5"/>
<line x1="623.62" y1="466" x2="623.62" y2="476.9" stroke="#c7323f" stroke-width="0.5"/>
<line x1="628.91" y1="466" x2="628.91" y2="476.9" stroke="#c7323f" stroke-width="0.5"/>
<line x1="633.14" y1="466" x2="633.14" y2="476.9" stroke="#c7323f" stroke-width="0.5"/>
<line x1="634.62" y1="466" x2="634.62" y2="476.9" stroke="#c7323f" stroke-width="0.5"/>
<line x1="636.32" y1="466" x2="636.32" y2="476.9" stroke="#c7323f" stroke-width="0.5"/>
<line x1="637.8" y1="466" x2="637.8" y2="476.9" stroke="#c7323f" stroke-width="0.5"/>
<line x1="639.49" y1="466" x2="639.49" y2="476.9" stroke="#c7323f" stroke-width="0.5"/>
<line x1="643.73" y1="466" x2="643.73" y2="476.9" stroke="#c7323f" stroke-width="0.5"/>
<line x1="645.84" y1="466" x2="645.84" y2="476.9" stroke="#c7323f" stroke-width="0.5"/>
<line x1="650.08" y1="466" x2="650.08" y2="476.9" stroke="#c7323f" stroke-width="0.5"/>
<line x1="659.6" y1="466" x2="659.6" y2="476.9" stroke="#c7323f" stroke-width="0.5"/>
<line x1="660.66" y1="466" x2="660.66" y2="476.9" stroke="#c7323f" stroke-width="0.5"/>
<line x1="662.35" y1="466" x2="662.35" y2="476.9" stroke="#c7323f" stroke-width="0.5"/>
<line x1="663.84" y1="466" x2="663.84" y2="476.9" stroke="#c7323f" stroke-width="0.5"/>
<line x1="664.89" y1="466" x2="664.89" y2="476.9" stroke="#c7323f" stroke-width="0.5"/>
<line x1="667.01" y1="466" x2="667.01" y2="476.9" stroke="#c7323f" stroke-width="0.5"/>
<line x1="668.07" y1="466" x2="668.07" y2="476.9" stroke="#c7323f" stroke-width="0.5"/>
<line x1="669.55" y1="466" x2="669.55" y2="476.9" stroke="#c7323f" stroke-width="0.5"/>
<line x1="671.24" y1="466" x2="671.24" y2="476.9" stroke="#c7323f" stroke-width="0.5"/>
<line x1="672.94" y1="466" x2="672.94" y2="476.9" stroke="#c7323f" stroke-width="0.5"/>
<line x1="673.78" y1="466" x2="673.78" y2="476.9" stroke="#c7323f" stroke-width="0.5"/>
<line x1="675.48" y1="466" x2="675.48" y2="476.9" stroke="#c7323f" stroke-width="0.5"/>
<line x1="677.17" y1="466" x2="677.17" y2="476.9" stroke="#c7323f" stroke-width="0.5"/>
<line x1="678.65" y1="466" x2="678.65" y2="476.9" stroke="#c7323f" stroke-width="0.5"/>
<line x1="680.14" y1="466" x2="680.14" y2="476.9" stroke="#c7323f" stroke-width="0.5"/>
<line x1="681.41" y1="466" x2="681.41" y2="476.9" stroke="#c7323f" stroke-width="0.5"/>
<line x1="682.89" y1="466" x2="682.89" y2="476.9" stroke="#c7323f" stroke-width="0.5"/>
<path d="M547 485.7L547 479.8L548.5 481.8L551 483.3L555 484.3L565 484.9L600 485.2L665 485.6L675 486.6L680 488.5L684.5 494L684.5 485.7Z" fill="#c3c7d1"/>
<line x1="547" y1="485.7" x2="684.5" y2="485.7" stroke="#c8ccd6" stroke-width="0.6"/>
<path d="M547.3 458.4 548.2 450 549.5 444 551.5 439.5 554 436.8 557 435 561 434 566.2 433.6 570 434.3 600 442.5 630 451 655 458.6 665 462 672.8 464.8 676 463.6 681 463.4 683.5 462 685 457.5" fill="none" stroke="#e0525a" stroke-width="0.75"/>
<text x="553.2" y="451.39" font-size="7.3" fill="#222">NES = 2.24</text>
<text x="553.2" y="459.99" font-size="7.3" fill="#222"><tspan font-style="italic">P</tspan> = 1.95E-08</text>
<text x="616.1" y="521.49" font-size="7.3" text-anchor="middle" fill="#222">INTERFERON GAMMA RESPONSE</text>
<line x1="564.72" y1="526.2" x2="564.72" y2="595.5" stroke="#e6e6ea" stroke-width="0.45"/>
<line x1="581.94" y1="526.2" x2="581.94" y2="595.5" stroke="#e6e6ea" stroke-width="0.45"/>
<line x1="599.16" y1="526.2" x2="599.16" y2="595.5" stroke="#e6e6ea" stroke-width="0.45"/>
<line x1="616.38" y1="526.2" x2="616.38" y2="595.5" stroke="#e6e6ea" stroke-width="0.45"/>
<line x1="633.6" y1="526.2" x2="633.6" y2="595.5" stroke="#e6e6ea" stroke-width="0.45"/>
<line x1="650.82" y1="526.2" x2="650.82" y2="595.5" stroke="#e6e6ea" stroke-width="0.45"/>
<line x1="668.04" y1="526.2" x2="668.04" y2="595.5" stroke="#e6e6ea" stroke-width="0.45"/>
<line x1="545.8" y1="526.2" x2="545.8" y2="595.5" stroke="#2a2a2a" stroke-width="0.75"/>
<line x1="545.8" y1="595.5" x2="685" y2="595.5" stroke="#2a2a2a" stroke-width="0.75"/>
<line x1="544.5" y1="543.7" x2="545.8" y2="543.7" stroke="#333" stroke-width="0.45"/>
<text x="543.2" y="546.19" font-size="7" text-anchor="end" fill="#333">0.50</text>
<line x1="544.5" y1="552.7" x2="545.8" y2="552.7" stroke="#333" stroke-width="0.45"/>
<text x="543.2" y="555.19" font-size="7" text-anchor="end" fill="#333">0.25</text>
<line x1="544.5" y1="561.6" x2="545.8" y2="561.6" stroke="#333" stroke-width="0.45"/>
<text x="543.2" y="564.09" font-size="7" text-anchor="end" fill="#333">0.00</text>
<line x1="544.5" y1="578.6" x2="545.8" y2="578.6" stroke="#333" stroke-width="0.45"/>
<text x="543.2" y="581.09" font-size="7" text-anchor="end" fill="#333">2</text>
<line x1="544.5" y1="585.9" x2="545.8" y2="585.9" stroke="#333" stroke-width="0.45"/>
<text x="543.2" y="588.38" font-size="7" text-anchor="end" fill="#333">0</text>
<line x1="544.5" y1="593.8" x2="545.8" y2="593.8" stroke="#333" stroke-width="0.45"/>
<text x="543.2" y="596.29" font-size="7" text-anchor="end" fill="#333">−2</text>
<line x1="581.94" y1="595.5" x2="581.94" y2="596.8" stroke="#333" stroke-width="0.45"/>
<text x="581.94" y="604.69" font-size="7" text-anchor="middle" fill="#333">2000</text>
<line x1="616.38" y1="595.5" x2="616.38" y2="596.8" stroke="#333" stroke-width="0.45"/>
<text x="616.38" y="604.69" font-size="7" text-anchor="middle" fill="#333">4000</text>
<line x1="650.82" y1="595.5" x2="650.82" y2="596.8" stroke="#333" stroke-width="0.45"/>
<text x="650.82" y="604.69" font-size="7" text-anchor="middle" fill="#333">6000</text>
<text transform="translate(519.6 553.4) rotate(-90)" x="0" y="2.59" font-size="7.3" text-anchor="middle" fill="#222">Running ES</text>
<line x1="546.6" y1="561.2" x2="546.6" y2="572.1" stroke="#2f7ab5" stroke-width="0.55"/>
<line x1="548.13" y1="561.2" x2="548.13" y2="572.1" stroke="#8fbfe0" stroke-width="0.55"/>
<line x1="549.58" y1="561.2" x2="549.58" y2="572.1" stroke="#8fbfe0" stroke-width="0.55"/>
<line x1="551.08" y1="561.2" x2="551.08" y2="572.1" stroke="#2f7ab5" stroke-width="0.55"/>
<line x1="551.85" y1="561.2" x2="551.85" y2="572.1" stroke="#2f7ab5" stroke-width="0.55"/>
<line x1="553.33" y1="561.2" x2="553.33" y2="572.1" stroke="#8fbfe0" stroke-width="0.55"/>
<line x1="554.38" y1="561.2" x2="554.38" y2="572.1" stroke="#2f7ab5" stroke-width="0.55"/>
<line x1="556.38" y1="561.2" x2="556.38" y2="572.1" stroke="#8fbfe0" stroke-width="0.55"/>
<line x1="558" y1="561.2" x2="558" y2="572.1" stroke="#2f7ab5" stroke-width="0.55"/>
<line x1="559.01" y1="561.2" x2="559.01" y2="572.1" stroke="#2f7ab5" stroke-width="0.55"/>
<line x1="559.76" y1="561.2" x2="559.76" y2="572.1" stroke="#2f7ab5" stroke-width="0.55"/>
<line x1="561.34" y1="561.2" x2="561.34" y2="572.1" stroke="#2f7ab5" stroke-width="0.55"/>
<line x1="563.04" y1="561.2" x2="563.04" y2="572.1" stroke="#8fbfe0" stroke-width="0.55"/>
<line x1="564.2" y1="561.2" x2="564.2" y2="572.1" stroke="#2f7ab5" stroke-width="0.55"/>
<line x1="565.66" y1="561.2" x2="565.66" y2="572.1" stroke="#2f7ab5" stroke-width="0.55"/>
<line x1="566.88" y1="561.2" x2="566.88" y2="572.1" stroke="#2f7ab5" stroke-width="0.55"/>
<line x1="568.33" y1="561.2" x2="568.33" y2="572.1" stroke="#8fbfe0" stroke-width="0.55"/>
<line x1="570.06" y1="561.2" x2="570.06" y2="572.1" stroke="#2f7ab5" stroke-width="0.55"/>
<line x1="571.33" y1="561.2" x2="571.33" y2="572.1" stroke="#8fbfe0" stroke-width="0.55"/>
<line x1="572.61" y1="561.2" x2="572.61" y2="572.1" stroke="#2f7ab5" stroke-width="0.55"/>
<line x1="573.42" y1="561.2" x2="573.42" y2="572.1" stroke="#2f7ab5" stroke-width="0.55"/>
<line x1="574.25" y1="561.2" x2="574.25" y2="572.1" stroke="#2f7ab5" stroke-width="0.55"/>
<line x1="574.99" y1="561.2" x2="574.99" y2="572.1" stroke="#2f7ab5" stroke-width="0.55"/>
<line x1="576.74" y1="561.2" x2="576.74" y2="572.1" stroke="#2f7ab5" stroke-width="0.55"/>
<line x1="578.36" y1="561.2" x2="578.36" y2="572.1" stroke="#8fbfe0" stroke-width="0.55"/>
<line x1="580.02" y1="561.2" x2="580.02" y2="572.1" stroke="#2f7ab5" stroke-width="0.55"/>
<line x1="581.02" y1="561.2" x2="581.02" y2="572.1" stroke="#2f7ab5" stroke-width="0.55"/>
<line x1="582.24" y1="561.2" x2="582.24" y2="572.1" stroke="#2f7ab5" stroke-width="0.55"/>
<line x1="584.06" y1="561.2" x2="584.06" y2="572.1" stroke="#2f7ab5" stroke-width="0.55"/>
<line x1="585.63" y1="561.2" x2="585.63" y2="572.1" stroke="#8fbfe0" stroke-width="0.55"/>
<line x1="587.42" y1="561.2" x2="587.42" y2="572.1" stroke="#2f7ab5" stroke-width="0.55"/>
<line x1="588.19" y1="561.2" x2="588.19" y2="572.1" stroke="#2f7ab5" stroke-width="0.55"/>
<line x1="595.06" y1="561.2" x2="595.06" y2="572.1" stroke="#2f7ab5" stroke-width="0.5"/>
<line x1="605.32" y1="561.2" x2="605.32" y2="572.1" stroke="#2f7ab5" stroke-width="0.5"/>
<line x1="606.67" y1="561.2" x2="606.67" y2="572.1" stroke="#2f7ab5" stroke-width="0.5"/>
<line x1="608.02" y1="561.2" x2="608.02" y2="572.1" stroke="#2f7ab5" stroke-width="0.5"/>
<line x1="609.37" y1="561.2" x2="609.37" y2="572.1" stroke="#2f7ab5" stroke-width="0.5"/>
<line x1="620.17" y1="561.2" x2="620.17" y2="572.1" stroke="#2f7ab5" stroke-width="0.5"/>
<line x1="621.52" y1="561.2" x2="621.52" y2="572.1" stroke="#2f7ab5" stroke-width="0.5"/>
<line x1="622.87" y1="561.2" x2="622.87" y2="572.1" stroke="#2f7ab5" stroke-width="0.5"/>
<line x1="633.68" y1="561.2" x2="633.68" y2="572.1" stroke="#2f7ab5" stroke-width="0.5"/>
<line x1="635.03" y1="561.2" x2="635.03" y2="572.1" stroke="#2f7ab5" stroke-width="0.5"/>
<line x1="637.19" y1="561.2" x2="637.19" y2="572.1" stroke="#2f7ab5" stroke-width="0.5"/>
<line x1="638.27" y1="561.2" x2="638.27" y2="572.1" stroke="#2f7ab5" stroke-width="0.5"/>
<line x1="647.99" y1="561.2" x2="647.99" y2="572.1" stroke="#2f7ab5" stroke-width="0.5"/>
<line x1="657.17" y1="561.2" x2="657.17" y2="572.1" stroke="#2f7ab5" stroke-width="0.5"/>
<line x1="662.03" y1="561.2" x2="662.03" y2="572.1" stroke="#2f7ab5" stroke-width="0.5"/>
<line x1="662.57" y1="561.2" x2="662.57" y2="572.1" stroke="#2f7ab5" stroke-width="0.5"/>
<line x1="670.13" y1="561.2" x2="670.13" y2="572.1" stroke="#2f7ab5" stroke-width="0.5"/>
<line x1="671.48" y1="561.2" x2="671.48" y2="572.1" stroke="#2f7ab5" stroke-width="0.5"/>
<line x1="672.83" y1="561.2" x2="672.83" y2="572.1" stroke="#2f7ab5" stroke-width="0.5"/>
<line x1="680.39" y1="561.2" x2="680.39" y2="572.1" stroke="#2f7ab5" stroke-width="0.5"/>
<path d="M547 580.9L547 575L548.5 577L551 578.5L555 579.5L565 580.1L600 580.4L665 580.8L675 581.8L680 583.7L684.5 589.2L684.5 580.9Z" fill="#c3c7d1"/>
<line x1="547" y1="580.9" x2="684.5" y2="580.9" stroke="#c8ccd6" stroke-width="0.6"/>
<path d="M546.4 560.2 547.2 550.2 548.5 542.2 550.5 535.7 553 532.2 556 530.7 560 528.6 567.5 528 575 529.5 600 535.7 630 544.2 655 552.5 667.4 559.1 676 560.8 681 561.8 683.6 558.2" fill="none" stroke="#4d9ad2" stroke-width="0.75"/>
<text x="553.2" y="551.59" font-size="7.3" fill="#222">NES = 1.94</text>
<text x="553.2" y="560.19" font-size="7.3" fill="#222"><tspan font-style="italic">P</tspan> = 3.65E-07</text>
<text x="613" y="613.09" font-size="7.3" text-anchor="middle" fill="#222">Rank in ordered dataset</text>
<text x="2" y="636.49" font-size="13.5" font-weight="bold" fill="#000">i</text>
<text x="119" y="636.79" font-size="7.3" text-anchor="middle" fill="#222">ESCC GSE145370</text>
<path d="M61 687L68 683L75 682L80 683.5L85 687L88 692L84 698L82 705L86 712L92 716L96 722L96 732L94 742L90 749L84 753L75 753L66 750L58 745L52 738L49 729L48 718L50 706L54 697Z" fill="#e2917a" fill-opacity="0.8"/>
<path d="M98.4 673.4L104 668L112 665.5L120 665.8L128 668L134 672L139 679L145 686L150 692L154 700L156 708L156 718L152 724L145 727L137 727L129 723L121 721L114 718L109 712L107 705L107 697L109 690L104 684L99 680Z" fill="#f4b68e" fill-opacity="0.8"/>
<path d="M141.5 676.3L149.4 667.1L160 663.1L169.1 661.2L174.4 658.5L181 657.9L184.9 663.1L183.6 669.7L184.9 678.9L188.8 689.4L188.8 696L184.9 702.6L183.6 707.8L186.5 712L186.9 719.6L178.3 721L175.7 728.8L170.4 731.5L165.2 728.8L160 721L157.3 710.4L154.7 697.3L149.4 689.4L141.5 684.2L139.6 680.2Z" fill="#8db896" fill-opacity="0.8"/>
<path d="M96.1 736.4L100 731L105 729L112 730L120 731L130 732L140 734L150 738L157 742L161 748L168 756L173 764L176 772L174 784L168 793L160 800L152 805L146 804L140 798L134 790L128 781L118 777L108 770L101 760L97 750Z" fill="#75a6dc" fill-opacity="0.8"/>
<path d="M63.4 755.1L72.7 752.8L84.4 757.5L93.7 766.8L103.1 769.1L112.4 771.5L114.7 780.8L107.7 786.7L96.1 785.5L86.7 780.8L75 778.5L68 771.5L63.4 764.5Z" fill="#9d92c8" fill-opacity="0.8"/>
<path d="M60.4 730.7h0M80.8 742.3h0M56.9 698.4h0M55.1 698h0M83.2 691.2h0M73.5 697.2h0M62.1 712.6h0M88.2 725.2h0M86.9 739.2h0M87.7 734.9h0M93.6 738.4h0M60.3 742.3h0M71.4 735.6h0M75.1 712.5h0M65.5 712.5h0M63.1 690.3h0M87.3 738.7h0M95.3 731.1h0M74.6 735.1h0M54.5 730.1h0M69.3 694.5h0M57.7 719.1h0M60.2 714.6h0M77.1 710.1h0M54.3 716.9h0M59.3 698.7h0M57.3 708h0M51.5 728.2h0M82.5 748.2h0M86.7 741.5h0M78.7 693.3h0M67.8 743.6h0M90.5 739h0M57.7 742.6h0M66 732.9h0M77 733.3h0M58.2 725.8h0M75.9 724h0M65.2 733.7h0M64.4 703h0M55.9 730.6h0M51.3 727.7h0M74.7 720.6h0M49.9 713.2h0M64.5 688.6h0M53.8 703.4h0M60.9 724.4h0M51.7 715.4h0M65.6 741.2h0M71.8 750.9h0M72.8 715.7h0M80.1 703.1h0M49.5 717.6h0M91.7 734.4h0M60.4 730.6h0M76.2 707.2h0M59.7 702.4h0M57.8 706.9h0M49.8 710.2h0M52.2 735.8h0M85.1 695.5h0M71.1 721.4h0M64 702.5h0M68.9 691.7h0M62.6 709.6h0M65.3 713.4h0M50.1 720h0M54.2 739.1h0M63.5 745.4h0M74.2 690.9h0M71 708.4h0M64.6 738.9h0M58.3 733h0M80 748.4h0M73 747.4h0M69.1 722.7h0M77.8 741.6h0M54.6 719.9h0M87 719.9h0M62.3 688.2h0M82.9 689.6h0M82.4 743.5h0M68.4 726.2h0M88 732.8h0M61.9 736.1h0M53.3 703.9h0M60.9 737.7h0M63.9 748.5h0M59.9 742.4h0M71.2 700.6h0M70.1 746h0M73.8 695.8h0M66 715.8h0M57.2 722.7h0M76.3 703.8h0M90.5 717.3h0M73 741.3h0M58.3 734.9h0M79.2 712.4h0M50.6 717.5h0M71.4 725.2h0M59.7 719.7h0M81.6 712.3h0M91.9 734.6h0M92.7 740h0M87.9 730.4h0M82.6 729.4h0M76.4 700.3h0M54.4 733.6h0M76.6 686h0M78.8 725.3h0M72.6 737h0M87.1 717.4h0M75.5 711.4h0M80.3 746.8h0M80.8 708.6h0M51.7 716h0M67.9 739.8h0M69.5 711.1h0M75.1 735.2h0M55 705h0M62.1 696.5h0M51.2 709.5h0M58.2 693.3h0M75.1 744.7h0M79.7 732.3h0M81.6 738.6h0M50.6 726.1h0M72.9 719h0M85.5 694.4h0M81.9 712.3h0M68.2 699.4h0M61.5 723.1h0M74.6 746.4h0M61.4 732.8h0M52.7 728.3h0M62.7 689.3h0M69.2 689.4h0M81.8 722.9h0M68.2 732.4h0M59.2 705.5h0M52.9 738.6h0M87.3 713.8h0M68.2 691.9h0M59.7 692.7h0M65.4 735.4h0M83.8 689.6h0M83.6 722h0M78.2 749h0M86.3 724.6h0M85 716.9h0M74.5 740h0M77.7 708.7h0M64.3 712.5h0M61.8 721.4h0M67.2 741.2h0M76.5 721.6h0M85.6 713.3h0M73.7 735.3h0M82.7 734.8h0M90.8 721.6h0M74.6 695.4h0M59.6 712.8h0M71.9 745.8h0M50 706.8h0M83.5 714.6h0M85 712.6h0M75.2 686h0M67.3 739h0M83.3 722h0M68.3 684.8h0M81.6 713.7h0M82.8 725.4h0M67.3 744.1h0M76.2 713.8h0M92.9 718.4h0M72.4 686.3h0M86.3 727.4h0M59.5 690.1h0M68.2 748.4h0M89.8 715h0M57.7 733.9h0M72 750.4h0M55.1 738.4h0M75.1 702.9h0M81.4 750.3h0M80 717.1h0M77 699.7h0M70.4 690.3h0M82.6 686.7h0M73.3 694.7h0M75 686h0M49.3 726.4h0M82.5 745.1h0M80.5 752.7h0M54.8 726.6h0M78.5 694.5h0M54.7 699.1h0M73.1 737.9h0M82.1 722.6h0M51.7 733.3h0M72.6 694h0M77.7 699.4h0M62.8 714h0M84.1 689.6h0M69.2 698.7h0M80.2 739.9h0M60.7 733.1h0M70.3 697.5h0M61.2 720.2h0M86.7 724.7h0M75.8 712h0M59.6 713.3h0M81.2 701.2h0M69.2 687h0M65.5 726h0M79.9 745.8h0M56.4 722.4h0M90.2 715.2h0M82.3 715.1h0M82.4 750h0M64.3 734.3h0M64.6 745h0M84.7 742.9h0M89.9 724.3h0M75.5 687.3h0M76 730.8h0M61.7 739.7h0M68 696h0M57.3 723h0M66.4 685.3h0M70.7 730.5h0M68.5 687h0M77.4 696.9h0M53.9 725.8h0M56 705.3h0M86.3 734.7h0M83.7 712.5h0M55.4 735.3h0M84.9 729.8h0M59.9 743.5h0M72.7 696.6h0M65.1 745.4h0M87.9 741.8h0M83.4 695.5h0M51.2 733.9h0M59.6 689.4h0M62.1 721.8h0M51.1 712.1h0M79.2 743.4h0M64 694h0M52.4 728.5h0M67.1 695.5h0M72.7 690.8h0M80.7 750.5h0M70.4 711.9h0M67.1 708h0M67.8 694.7h0M62.2 731h0M71 686.8h0M64.9 740.9h0M77.6 726.4h0M65.1 723.2h0M67.9 718.7h0M92.5 739.7h0M82.5 690.8h0M71.5 718.9h0M57.9 722.2h0M69.1 708h0M57.1 702.2h0M66 702.4h0M64.2 743.3h0M60.6 695h0M63.1 688.1h0M55.1 698.5h0M79.3 748h0M60.4 702.8h0M76.2 684.1h0M52.3 722.7h0M70.3 706.9h0M67.9 683.4h0M60.5 694.6h0M67.9 694.2h0M57.8 735.9h0M63.9 720.5h0M68.7 687.7h0M68.3 725.4h0M67.1 737.7h0M69.4 702.9h0M91 722.5h0M60.3 746.2h0M71 724.8h0M70.5 743h0M83.1 713.4h0M65.5 736.8h0M88.2 724.8h0M89.9 719.5h0M67.9 704.5h0M60.9 692.9h0M92.3 721.2h0M68.4 739.2h0M89.1 735.9h0M62.1 712.3h0M79.2 685.6h0M71 718h0M89.9 747h0M51.7 712.2h0M74.5 703.7h0M59.6 737.7h0M58.1 721.3h0M49 714.8h0M91.9 717.9h0M62.2 703.2h0M83.2 723.2h0M69.4 731.1h0M52.8 709.6h0M90.2 746.8h0M71.3 737.5h0M90.5 719h0M80.2 706.2h0M73.3 685h0M78.4 726.2h0M65.1 696.9h0M75 705.2h0M77.7 749.9h0M70.5 700.1h0M52 726.1h0M81.4 730.2h0M79 732h0M76.3 705.3h0M72.9 694.4h0M66.5 706.8h0M70.2 710.8h0M58.5 694h0M78.4 692.4h0M64.3 689.3h0M74.9 723.7h0M72.5 749.3h0M72.6 707.9h0M58 723.3h0M83.7 717.7h0M66.7 699.8h0M76.1 732.5h0M63.6 693.2h0M50.7 725.8h0M92 731h0M80.3 743h0M67.8 712.4h0M60.5 741h0M81.1 719.2h0M85.4 746.8h0M70.4 732.7h0M59.6 713.4h0M79.8 702.9h0M80.1 686.3h0M67.8 727.3h0M89.5 718.3h0M79.9 729.1h0M79.1 714h0M63.2 691.1h0M90.6 737h0M79.3 735.5h0M63.1 694.5h0M73.6 715.2h0M79.1 744h0M66.8 708.5h0M81.8 744.7h0M75.2 724.2h0M90.8 747.4h0M52.6 721.2h0M72 751.5h0M70 712.3h0M74.7 697.3h0M64.1 690.7h0M77.2 694.7h0M74.8 745.2h0M58.3 694.5h0M75.7 731.1h0M56.6 717.7h0M75 717.5h0M63.1 713.7h0M60 729.9h0M73.5 746.5h0M54.9 730h0M93.4 731.8h0M95.8 728h0M58.4 721.4h0M67.9 720.7h0M95.6 731.6h0M71.9 749.5h0M65.8 716.4h0M79 717.7h0M80.3 747.9h0M78.7 707.6h0M50.5 715.1h0M75.8 701.4h0M75.7 683.1h0M60.1 716.2h0M71.1 732.1h0M59.1 701.9h0M55.2 726.2h0M64.8 723.8h0M86 751.1h0M58 717.9h0M53.9 724.8h0M74.2 696.8h0M83.7 687.9h0M71.4 701.5h0M66.3 732.6h0M62.6 740.8h0M48.6 721.5h0M71 720h0M70.7 744.3h0M58.4 692.4h0M59.9 741.2h0M73.5 685.3h0M72.4 694.2h0M80.8 693h0M75.1 705.4h0M71.1 749.5h0M73.1 751.2h0M82.6 698.1h0M60.1 740h0M85.3 692.2h0M75.2 745.3h0M54.8 700.9h0M77.1 750.5h0M79.4 736.2h0M87.5 715.7h0M66 738.7h0M77.8 744.8h0M64.5 691.1h0M76.1 704.4h0M63.1 718h0M83 730.4h0M70.1 728.2h0M78.1 746.9h0M80.8 742.2h0M59.6 742.4h0M48.7 725.2h0M61.2 693.5h0M83.7 691.7h0M80.7 687.8h0M58 710.1h0M75.4 728.8h0M65.3 743.5h0M66.9 725.5h0M79.4 745h0M64.8 727.5h0M81.1 693.4h0M65.7 713.4h0M76.8 719.6h0M54.6 696.4h0M63.8 688.2h0M85 745.6h0M83.2 697.6h0M76.2 684.3h0M58.1 700.1h0M76.7 723.3h0M74 693.4h0M72.1 735.1h0M69.6 743.8h0M50.2 724.9h0M80.4 687.1h0M62.7 723.3h0M75.9 709.2h0M52.8 733.4h0M64.1 712.3h0M86.5 748.6h0M61.7 705.7h0M85.2 714h0M91.1 723.1h0M80.7 694.7h0M67.9 683.4h0M64.1 697.5h0M55.4 731.4h0M67.4 717.9h0M87.4 731.4h0M58.2 735h0M80.8 723.8h0M72.1 747h0M76.8 686.3h0M88.3 728.8h0M60.8 736.9h0M92.7 734.1h0M70.9 740.7h0M67.4 718.8h0M78.9 728.7h0M72.9 708.5h0M83.2 721.6h0M58 723h0M70 738.4h0M81.7 751.9h0M84.7 718.4h0M80.2 702.8h0M74.6 752.4h0M53.8 712.2h0M68.7 732.7h0M57.1 730.5h0M51.9 727.8h0M83.9 721.3h0M60.9 707.7h0M75 749.8h0M71.2 739.8h0M76.8 740.9h0M77.9 691.5h0M58.9 701.6h0M58.6 724h0M68.1 708h0M71.3 696.8h0M79.8 688.5h0M80 707.4h0M54.4 733.5h0M59.6 705.3h0M61.5 726.7h0M88.7 719.6h0M91.8 718.2h0M74.4 745.9h0M57.9 731.7h0M53.4 721.9h0M80 685h0M71.2 708.6h0M80.4 709.9h0M79.7 745.8h0M92.7 739.7h0M81.9 750.3h0M68.6 683.5h0M67.2 691.5h0M50.5 731.7h0M56.3 733.2h0M67 726.5h0M83.7 730.1h0M57.3 742.6h0M50.6 713.2h0M70.7 713.2h0M79.4 731.5h0M64.4 733.9h0M66.9 711.2h0M52.8 722.2h0M82.8 750.1h0M69.3 720.9h0M78.7 736.2h0M79.9 749.9h0M69.2 720.9h0M56.1 718.4h0M72.6 707.3h0M75.9 742.8h0M66.8 723.6h0M75.5 713.9h0M73.5 711.1h0M91.1 717.5h0M93.4 740.3h0M53.4 723.6h0M71.6 692.8h0M90.1 740h0M54.9 728.5h0M84.4 716.2h0M81.5 750.9h0M85.2 740.8h0M58.2 734.9h0M52.8 736.5h0M81 710.4h0M75.9 750.3h0M80.8 703.1h0M94.3 737.5h0M62.5 711.6h0M64.5 713.5h0M65 702.9h0M85.8 689.8h0M55.6 739.5h0M83.7 692.9h0M68.3 686.2h0M88.6 744.3h0M62.2 721.4h0M74.4 738.5h0M64.9 737.5h0M86.4 728.8h0M50.5 714h0M68.2 744.7h0M68.1 700.4h0M57.1 732.9h0M52.9 715.7h0M73.4 749.8h0M65.2 712.4h0M85.2 689.4h0M81.3 702.7h0M77.1 707.7h0M56.2 742.6h0M65.8 697h0M64.8 711.4h0M69.4 700.2h0M60.5 693.4h0M70.7 711.4h0M58.3 694h0M82 693.3h0M74.1 705.6h0M66.2 736.8h0M89.7 739.3h0M80.6 716.8h0M68.5 747.8h0M64.1 711.3h0M80.9 720.7h0M87.7 735h0M81.6 748h0M73.2 744.5h0M73.7 745.8h0M72.4 706.4h0M69.1 702.2h0M62.6 734.5h0M67.2 718.7h0M81.2 710.9h0M75.2 746.6h0M88.5 730.8h0M86.6 692.8h0M68.6 742.5h0M94.5 732.6h0M80 748.2h0M55.8 725.4h0M63.1 719.2h0M53.8 718.3h0M76.1 701.6h0M70.9 721.6h0M78 701.9h0M91.9 736.5h0M76.6 717.4h0M81.1 697.9h0M69.9 683.7h0M50.6 724.6h0M73.4 742.1h0M78.6 734.6h0M80.2 710.1h0M83 694.5h0M94.6 725.7h0M69 730.1h0M69.2 703.4h0M78.3 750.6h0M76.3 745.1h0M66.8 750h0M92.5 735.9h0M75.1 714.7h0M87.2 723.2h0M87.9 722.2h0M58.6 718.6h0M71.8 710.9h0M75 724.7h0M55.4 706.7h0M83.5 725.5h0M66.9 705.9h0M91.4 716.1h0M58.1 729.8h0M49 709.2h0M57.7 743.1h0M46.1 709.9h0M88.2 688.1h0M82.4 695.9h0M86 752.8h0M85.9 690.4h0M49.7 719.9h0M48.7 714.7h0M90.9 715h0M96 728.7h0M99.5 728.4h0M81 705.9h0M48.4 709.5h0M50.1 719.8h0M75.9 681.1h0M81.8 702.9h0M69.6 753.1h0M50.6 700.8h0M95.5 738.9h0M89.4 691h0M91.3 717.7h0M83 701.9h0M53.9 742h0M67.6 684.2h0M53.8 740.4h0M84.6 692.5h0M88 714.6h0M82.4 684.3h0M48.9 715h0M97.9 719.8h0M55.1 691.3h0M92.7 734.1h0M69.1 680.8h0M88.9 748.4h0M96.7 734.4h0M64.6 686.8h0M80.4 754.2h0M74.5 684.1h0M81.9 709.2h0M83.5 695.2h0M65 751.1h0M88.4 708.2h0M80.8 683.6h0M81.7 703.3h0M75 752.8h0M81.3 755.4h0M52.8 695.4h0M77.3 752.2h0M81.7 753.9h0M63.7 744.8h0M98.9 729.2h0M67.6 684.2h0M85.6 686.2h0M94.9 744.9h0M96.5 725h0M53.5 699.2h0M81.2 703.2h0M84.3 751.9h0M61.7 688.4h0M88.1 695.4h0M92.2 714.4h0M62 687.9h0M50.7 741.5h0M54.8 696.4h0M61 686.9h0M78.6 683.9h0M46.9 715.2h0M71.8 753.5h0M97.9 734.5h0M48.9 716.7h0M55 700.6h0M58.2 744.9h0M83.8 686.5h0M64.1 749.1h0M82.5 704.5h0M69.1 682.8h0M59 684.5h0M97.4 723.7h0M94.7 719.5h0M64.1 747.3h0M84.6 696.9h0M86.9 696.6h0M87.1 692.3h0M83.6 749.6h0M47.8 729.9h0M50.1 727.7h0M95.7 726.8h0M77.2 684.7h0M60.9 688.2h0M94.3 744.1h0M78.5 682.6h0M57.9 743.6h0M84.8 687.3h0M84.5 700.1h0M82.8 697.3h0M64.3 745.2h0M76.3 685.8h0M80.9 684.1h0M83.7 697.3h0M52 702.8h0M92.5 742.3h0M50.3 728.3h0M67.1 680.8h0M51 724.8h0M66.5 749.9h0M47.9 727h0M63.8 685.4h0M93.3 719.6h0M54.4 701.1h0M84.9 693.3h0M82.9 691.6h0M84.1 698.8h0M74.3 754.4h0M54 742.8h0M82.3 686.1h0M66 685.4h0M87.6 689.5h0M87.4 753.1h0M51.9 728.7h0M88.4 715.1h0M84.9 707.7h0M50.9 698.3h0M80.9 682.5h0M85.9 692.6h0M70 748.8h0M54.3 705.8h0M95.9 723h0M95.3 722.8h0M83.7 751.4h0M48.6 726.3h0M94.7 741.1h0M88.5 691.5h0M47.3 725.5h0M95.2 719.8h0M88.5 748.4h0M52.3 734.5h0M47.3 719.4h0M71.2 750.2h0M96.7 742.1h0M61.1 746.6h0M81 684.8h0M63.5 687.1h0M87.3 709.7h0M82.9 687.2h0M50 713.1h0M98.6 733.1h0M49.3 717h0M91.3 747.7h0M77.4 683.1h0M93.2 715h0M97 723.8h0M58.9 690.4h0M87.5 751h0M48.1 722.7h0M92.2 742.8h0M64.6 684.7h0M94.1 734.5h0M78.5 682.8h0M89.5 751.9h0M95.2 730.2h0M63.9 750.9h0M69.8 751.2h0M67 752.1h0M84.8 752.5h0M49.6 713.9h0M83.1 754.3h0M86.4 695.1h0M95.9 729.6h0M87.5 709.9h0M87.3 748.9h0M86.5 686.2h0M76.8 754.3h0M97.2 740.5h0M53.4 740.4h0M85.6 684.5h0M72.8 680.9h0M96.9 729.5h0M64 749.8h0M85.3 709.8h0M79.1 754.3h0M56.9 700h0M89.6 751.9h0M64.6 688h0M95.9 742.8h0M62.5 683.1h0M81.7 688.9h0M54.4 740.2h0M65.9 748.5h0M48.2 716.5h0M70.4 682.5h0M61.7 746h0M68.1 749.8h0M84.8 691.7h0M89.7 747.6h0M87.6 752.8h0M95.9 730.7h0M87.2 691.7h0M79.6 754.4h0M95.1 742.8h0" stroke="#e2917a" stroke-width="1.1" stroke-linecap="round" fill="none"/>
<path d="M72.2 721.1h0M75.4 725.8h0M67.7 683.4h0M66.8 707h0M75 749.6h0M69 746.9h0M57.1 700.6h0M89.8 738.2h0M61.4 730.4h0M72.3 744.1h0M88.5 742.8h0M69.5 728.7h0M57.6 695.6h0M72.4 743h0M51.2 732.6h0M55.3 727h0M75.6 712.3h0M49.9 710.4h0M82.6 742.8h0M64.8 687.6h0M62.4 730.7h0M74.5 724.5h0M55.2 707.2h0M81.9 728.6h0M65.4 703.2h0M72.2 703.9h0M68.2 697.5h0M63.7 746.6h0M67.1 726.6h0M69.2 696.7h0M71.9 705.2h0M62.1 689.7h0M57.4 692.5h0M80.4 684.1h0M73.3 735.6h0M81.8 752.6h0M64.1 714.2h0M81.2 695.9h0M84.2 744.6h0M70.5 696h0M66.4 729.4h0M62.8 736.5h0M55.8 703.2h0M72.5 727h0M66.9 735.6h0M74.9 739.8h0M50.7 715.4h0M66.7 709.6h0M88.4 729.3h0M60.2 722.4h0M73 696.7h0M91 719h0M54.5 710.1h0M74.2 743.8h0M80.5 745.1h0M54.9 703.8h0M61.1 734.3h0M82.7 736h0M64.5 705.6h0M74.5 726.8h0M64.9 712.9h0M83.6 742h0M77.4 700.6h0M91.3 740.5h0M74.3 727.7h0M63.1 714h0M93.9 735.3h0M71.1 695.4h0M91.9 742.6h0M81 752.2h0M70.4 746.4h0M77 730.1h0M70.6 715.7h0M86.3 726.3h0M70.2 738.9h0M76.8 748.2h0M65.3 694.1h0M70.3 698h0M65.2 748.9h0M49.1 714.1h0M53 737.3h0M82 720.6h0M88 719.7h0M60.5 727.9h0M80.5 737.2h0M54.6 703.3h0M49.9 714.9h0M82.5 737.3h0M65.4 745.8h0M61.9 703.9h0M61.1 709.3h0M72.8 732.2h0M61.4 698.4h0M95.4 733h0M60.3 744.9h0M54.2 709.3h0M81.8 723.3h0M69.6 738.9h0M78.9 686.1h0M80.3 685.2h0M79.1 713.6h0M73.3 721h0M73.9 694.9h0M65.4 702.7h0M49.2 727.6h0M89.3 738.4h0M58.5 725.5h0M84.5 722h0M57 725.2h0M50.3 723.1h0M77.3 695.4h0M82.7 746.5h0M80.2 685.6h0M61.7 717.7h0M57.1 729.1h0M83 730.1h0M77.3 749.7h0M63.4 737.5h0M82.9 719.6h0M69.6 720.3h0M63.3 729h0M75.3 746.7h0M81.1 725.3h0M73.3 699.7h0M65.1 702.1h0M63.1 692h0M56.9 725.5h0M84.1 721.3h0M73.9 704.7h0M61.3 694.8h0M52.6 727.3h0M64.2 705.8h0M54.7 737.7h0M73.6 739.6h0M63 707.4h0M76.2 741.9h0M75.7 720.3h0M64.2 736.7h0M51.4 727.4h0M78.5 686.6h0M88.5 722.6h0M59.4 737.5h0M62.9 698.6h0M76.8 698.5h0M86.4 736.5h0M57.9 699.2h0M64.6 695.3h0M79.3 714.2h0M76.3 749.4h0M59.8 695.3h0M69.6 729.5h0M65.2 724.3h0M65.9 716.5h0M50.4 719.7h0M73.8 684.1h0M80.4 751.5h0M56.4 699.9h0M77 749.9h0M81.5 715.6h0M65.7 719.5h0M73.2 692.7h0M89 740.4h0M60.3 733h0M95.1 729.1h0M75.2 733.2h0M59.2 701h0M57.1 717.6h0M80.8 729.9h0M54.3 720.7h0M82.1 709.5h0" stroke="#ffffff" stroke-width="1" stroke-linecap="round" stroke-opacity="0.8" fill="none"/>
<path d="M115.5 701.7h0M136.9 721.4h0M124.2 692.9h0M117 685.3h0M121.6 707.6h0M137.7 724.6h0M118.4 680.1h0M108.7 680.8h0M154.2 705.9h0M108.3 674.8h0M108.6 680.7h0M145.9 691.3h0M145.3 699.7h0M134.8 678h0M127.2 680.2h0M140.4 699.4h0M123.6 699.5h0M149 708.1h0M104.8 669h0M151.3 708.5h0M153.6 718.6h0M147.7 692.5h0M122.4 705.3h0M122.7 701.5h0M125.3 718.9h0M120.7 691.3h0M127.5 694.6h0M121.9 676.1h0M110.3 679.7h0M151.2 716.2h0M105.9 685.9h0M142.3 687.3h0M144.7 710.5h0M109.8 680.9h0M105.9 671.4h0M110.4 690.7h0M119.5 701.8h0M106 673.7h0M112.4 706.6h0M148.2 717.5h0M115.4 714.3h0M126.1 719.5h0M128.9 673.3h0M149.8 710.2h0M130.1 685.2h0M120.5 673.8h0M120.2 670.2h0M140.1 711.6h0M125.2 709h0M129.4 695.5h0M119.6 685.7h0M126.2 697.4h0M125 713.1h0M151.8 716.7h0M104.7 672.3h0M149.9 694.2h0M139.7 725.1h0M117.1 707.3h0M129.9 696.1h0M130 693.7h0M143.5 693.9h0M134.5 721.3h0M144.2 689.4h0M138.2 720.5h0M122.3 685.4h0M123.6 710.6h0M155.3 706.3h0M114.1 666.9h0M113.6 711.5h0M108.7 702.6h0M110.4 680h0M133 671.5h0M107.9 683.4h0M122.9 673.9h0M115.6 680.6h0M104.2 672.7h0M121.4 697.9h0M141.1 712.9h0M129.1 715.6h0M124.2 717.3h0M138.8 698.9h0M141.5 691.1h0M129.8 669.7h0M107 668.4h0M142.3 702.2h0M119.7 679.8h0M113.4 666.3h0M152 707h0M153.8 717.8h0M140.3 689.1h0M129.4 682.1h0M136.6 698h0M116.5 709.7h0M124.1 673.7h0M134 717.4h0M117.4 691.6h0M124.9 693.7h0M117.6 676.4h0M149.7 704.8h0M144.3 696.6h0M137.2 689.3h0M125.5 721.5h0M132 701.6h0M131.7 673.5h0M146.7 706.4h0M112.6 703.5h0M110.8 669.2h0M112.4 671.3h0M138.8 688.2h0M110.1 699.3h0M105.3 672.7h0M153 700.8h0M131.9 691.1h0M138.9 680h0M112.1 707h0M141.3 700.2h0M147 696.4h0M123 689.8h0M130.2 679.2h0M143.3 723.2h0M103.1 679.9h0M112.9 700.1h0M111.1 668.7h0M116.3 693.8h0M129.1 706.1h0M119.8 671.6h0M141.4 724.4h0M124.4 679.1h0M142.1 718.5h0M126.1 688.5h0M120.2 679.9h0M108.7 700.4h0M106 684h0M133.8 710.8h0M124.4 717.4h0M135.2 683.2h0M141.4 692.9h0M121.5 682.3h0M109.2 686.3h0M111.1 678.9h0M104.6 672.6h0M131.4 695h0M111.2 667.4h0M115.8 698.7h0M151.8 697.8h0M109.5 701.7h0M111.2 698.4h0M103.3 682.5h0M113.7 668.6h0M114 691.9h0M143 723.1h0M115.1 667.1h0M139.9 687.9h0M120.9 668.8h0M99.6 677.9h0M150.4 706.2h0M129.8 690.9h0M149.8 723.8h0M113.2 679.4h0M128.9 692.3h0M121.9 668.1h0M113 716.6h0M107.8 697.3h0M133.1 693.4h0M141 707h0M108.7 703h0M130.2 696.1h0M115 698.3h0M133.8 677.7h0M131.3 706.9h0M125.6 702.5h0M138 705.9h0M122.6 693.1h0M134.5 705.9h0M108.2 704.3h0M127.5 705.7h0M108.4 698.9h0M131.6 705.3h0M146.8 717.5h0M100.4 671.8h0M121.3 704.1h0M146 693.5h0M125.2 720.6h0M142.4 719.7h0M114.1 709.3h0M102.6 679.7h0M103.5 677.7h0M135.6 689.5h0M114.4 682.3h0M129.8 702.9h0M154.7 704.1h0M115.7 695.3h0M141.2 695.7h0M121.9 683.3h0M122.4 689.1h0M146.1 723h0M113 668.9h0M109.5 700.3h0M124.5 695.4h0M120.1 710.7h0M103.4 672h0M124.5 709.1h0M146.4 723.4h0M107.5 674.4h0M118 711.6h0M117.1 692.5h0M124.8 686.5h0M148.3 692.5h0M132.3 710h0M112.9 672.7h0M123 680h0M117 683.9h0M130 705.4h0M129.2 685.9h0M149 695.8h0M139.6 700.7h0M132 680.9h0M126.8 672.6h0M116 673.4h0M115 681.8h0M123.9 682.8h0M143.7 691.7h0M121.5 699.7h0M107.5 706.6h0M105.9 670.5h0M150.3 699.9h0M112.8 672.1h0M142.6 714.8h0M123.6 706.7h0M111.9 713.3h0M109.6 687.2h0M138.8 689.1h0M122.6 706.5h0M154.5 711.2h0M130.5 676.3h0M137.6 687.6h0M151.9 701.3h0M120.3 690.1h0M149.5 710.2h0M132.9 718.2h0M124.1 677.6h0M131.2 706.5h0M112.4 679.5h0M127.4 676.9h0M117.1 667.8h0M154.9 715.9h0M114.1 686.8h0M146.3 707.1h0M115.8 689h0M135.9 706.4h0M103.1 680.4h0M115.2 680.7h0M127.9 693.9h0M133.2 679h0M122.2 710.2h0M105.9 682.6h0M121.5 687.3h0M124.1 717.4h0M109.6 694.9h0M130.7 688.5h0M137.6 724.9h0M137.8 710.8h0M118 695.6h0M130.1 702.2h0M133.2 688.8h0M138.2 703.7h0M120.2 672.3h0M121.2 700.2h0M126.5 715.9h0M116.9 666.2h0M149.5 703.5h0M111.1 703.3h0M112.6 707.6h0M147.6 706.5h0M155.5 711.3h0M119.5 711.7h0M134.2 705.1h0M124.4 703.2h0M150.6 719.8h0M127.9 704.3h0M116.5 698.8h0M132.3 708.2h0M112.8 716h0M137.7 684.3h0M119.3 702.5h0M150.7 703.6h0M126.6 686.4h0M142.2 683.7h0M119.2 710.4h0M104 674.8h0M132.1 695.7h0M110.8 704.3h0M113 679.3h0M125.3 692.8h0M125.6 698.3h0M115.4 685.1h0M120.3 665.9h0M154.8 719.1h0M120.3 698.4h0M128.7 688.6h0M117.2 716.2h0M139.4 716.7h0M132.6 718.4h0M109.7 710.2h0M126.8 707.2h0M140.5 721.6h0M107.3 687.2h0M127.9 697.3h0M106.1 684h0M148.2 722.2h0M151.2 701h0M107.9 702.5h0M123.5 681.3h0M131 679.2h0M143.9 693.8h0M120.1 717.3h0M132.3 690.4h0M113.4 666.7h0M117.5 679h0M151.5 718.2h0M119.8 693.3h0M124.2 716.6h0M119.1 700h0M120.4 702.6h0M118.2 683h0M119.3 697.8h0M129.1 677.5h0M138 691.1h0M138.9 706.7h0M140.2 684.8h0M107.5 672h0M113.8 687.9h0M136.1 679.5h0M127 700.7h0M123.3 696.9h0M126 689.3h0M110.4 704.4h0M109.2 697.2h0M113.2 709h0M129.7 686.7h0M149.2 714.8h0M139 699.1h0M138 713.2h0M110.1 711.9h0M115.9 717.9h0M152.1 722.4h0M112.6 677.6h0M114.7 697.3h0M125.1 673.3h0M124.1 698.7h0M101.2 675.9h0M141.2 700.8h0M118 713.5h0M112.9 683.9h0M121 676.9h0M140.9 720.6h0M113.1 678.5h0M124.2 691.5h0M117 706.4h0M123.9 712.9h0M127.5 669.5h0M114.1 702.9h0M125.6 720.1h0M116.7 672.3h0M109.9 694.4h0M112.8 704.7h0M145.8 725.5h0M128.4 716.9h0M109.2 679.8h0M152.5 705.6h0M133.5 715.5h0M118.2 684h0M144 715.4h0M124 703.1h0M111.5 680.9h0M108.8 688h0M119 712.5h0M146.2 706.4h0M129 689.5h0M115.5 707.4h0M131.1 714.3h0M136.6 700.2h0M122.7 675.8h0M143.1 720.3h0M137.6 687.3h0M127 715.1h0M128.2 694.5h0M115.8 693.2h0M142.4 715.7h0M137.3 685.5h0M111.5 672.7h0M105 674h0M131.3 684.1h0M121.1 704.1h0M112.8 667h0M142.6 684.7h0M122.5 688.2h0M102.4 677.2h0M122.2 680.2h0M131.4 695.7h0M142.6 694.9h0M147 725h0M119.8 700.6h0M115.1 700h0M137.1 712.7h0M130.2 684.2h0M102.7 673.8h0M112.2 704.3h0M146.4 705h0M149.6 725h0M140.3 720.1h0M132.7 701.4h0M135.8 719.8h0M155.5 708.1h0M131.5 717.7h0M110 701.9h0M133.9 700.3h0M114.2 678.1h0M145.3 724.3h0M140.1 700.3h0M119.3 719.8h0M127.7 709.2h0M110.7 666.4h0M106.1 676.8h0M103 682.1h0M145.6 715.8h0M126.5 707.4h0M113.3 671h0M123.4 720.7h0M121.6 706h0M125.9 716.3h0M141.7 720.9h0M130.8 696.7h0M150 723.7h0M143.7 694.3h0M122.9 689h0M145.6 710h0M151 698.3h0M136.6 721.7h0M118.5 698h0M149.4 709.4h0M131.7 712.3h0M135.1 685.4h0M121.6 687.4h0M140.2 713.2h0M146.3 699.3h0M109 682.9h0M123 690h0M131.5 689.4h0M109.9 701.8h0M133.4 695.1h0M147.6 722.6h0M136.8 679.2h0M122.7 703.4h0M131.6 680.2h0M120.7 677.5h0M114 685.6h0M133.1 724.5h0M125.3 675.2h0M135.1 708.4h0M130.8 677.5h0M148.5 696.7h0M130.6 691.8h0M142.3 725.1h0M121.9 713.4h0M137.7 704.5h0M126.4 669.6h0M118.6 712.7h0M120 684.5h0M145.9 692.3h0M145.6 704.8h0M133.4 683.3h0M103 680.4h0M106.8 680.7h0M109.4 704h0M115.2 689.4h0M132.4 715.8h0M145.9 718.3h0M134.6 700h0M113.6 666.9h0M116.1 704.7h0M109.3 709.3h0M105.4 684.5h0M109.2 706.6h0M127.6 691.9h0M131.5 681.3h0M130.9 678.5h0M118.7 675.7h0M116.7 705.8h0M145.8 692.2h0M138.1 723.1h0M115.4 693.3h0M149.1 714.4h0M133.7 708.6h0M118.7 719.7h0M151.7 715.5h0M132.1 679.2h0M144.4 700.7h0M124.9 697h0M145 688.5h0M146.1 690.2h0M129.4 676.4h0M137 698.3h0M138.3 720.3h0M102.8 679.7h0M140.3 702h0M136.5 718.6h0M124.3 718.9h0M121.5 674.2h0M151.2 718.3h0M132.7 700.8h0M138.6 694.6h0M144.2 717.2h0M141.8 702.3h0M153.6 709.1h0M116.1 702.8h0M123.6 679.3h0M125.9 690.9h0M124 674.4h0M131.8 708.6h0M115.1 667.1h0M153.9 700.1h0M137.6 685.4h0M127.1 684.2h0M115.7 676.5h0M133.8 689.8h0M155.4 715.7h0M131.2 693.4h0M126.7 709.8h0M111 666.2h0M144.5 689.2h0M101.3 681.1h0M140.8 724h0M114.9 716.5h0M145.3 716.1h0M154.8 707h0M139.6 721.5h0M120.8 682.6h0M136 682.4h0M130.8 678.4h0M116.7 706.4h0M116.6 717.9h0M126.1 683.6h0M148.3 723h0M134.2 713.9h0M111.2 677.9h0M132.5 702.5h0M141 699.7h0M123.7 713.4h0M140.2 715.4h0M134.3 696.7h0M124.6 687.1h0M111.1 679.5h0M130.7 682.3h0M142.2 690h0M154.6 703.4h0M109.5 711.2h0M135.7 705.6h0M132.3 690.1h0M111.4 685.2h0M133.5 679.1h0M135.8 699.7h0M112.2 680.9h0M114.3 703.8h0M149.7 712.5h0M121.1 706.3h0M108.2 683.5h0M110.1 682.7h0M121.8 683.2h0M122.3 712.9h0M149.9 717.3h0M116.9 699.6h0M135.3 688.8h0M121.1 719.3h0M119.2 668.7h0M107 680.4h0M132.1 703.5h0M122.6 682.7h0M125.8 702.8h0M142.9 693.1h0M129.3 682.1h0M107.5 706.3h0M152.5 721.3h0M153.6 717.1h0M144.7 719.3h0M107.4 674.4h0M138.4 710.6h0M145.9 723.5h0M114.6 688.3h0M152.2 712.6h0M123.1 691.8h0M125.8 681.1h0M145.4 696.8h0M144.8 716.9h0M111.9 693.2h0M134.4 678.3h0M128.9 694.5h0M153.1 706.1h0M138.3 697.2h0M132.7 704.1h0M113.8 675.5h0M121.6 692.2h0M144.3 685.3h0M123.4 715.3h0M145.7 702.2h0M129.5 675.1h0M153 708.6h0M107.4 673.3h0M136.1 715.9h0M129 684.5h0M127.4 703.6h0M126.9 678h0M118.6 693.5h0M114.9 683.8h0M120.2 688.9h0M122 696.6h0M109.5 692.4h0M117.2 704h0M127 677.1h0M109.4 667.5h0M104.2 677.2h0M137.9 723.4h0M137.1 684.6h0M113.4 701.1h0M138.7 721.9h0M131.3 713.5h0M114.3 680.5h0M121.8 706.1h0M141.1 684.5h0M103.8 671.9h0M139.6 692.6h0M117.9 686h0M113.4 687.1h0M120 671h0M141.6 718.7h0M125.3 704.6h0M144 690.1h0M127.8 670.4h0M112.2 696.6h0M148 708.9h0M111.2 709.7h0M115.9 695.2h0M105.5 676.4h0M155.7 711.6h0M128.8 681.5h0M131.9 697.8h0M124 682.1h0M115.3 707.6h0M116 665.8h0M143.6 684.7h0M146 686.5h0M136.4 675.5h0M108.4 702.7h0M113.5 663.1h0M127.3 722.1h0M134.6 671.3h0M141.3 729.4h0M110.2 714.6h0M137.9 682.7h0M97.1 672.7h0M106.3 702.6h0M152.8 715.9h0M103.4 685.2h0M128.2 667.4h0M107.5 696.7h0M143.3 687.7h0M117.5 666.6h0M106.5 694.8h0M128.6 673.3h0M156.6 718.1h0M106.7 689.4h0M112.3 718.8h0M104.3 689.6h0M130.3 670.4h0M111.3 688.2h0M135 727.3h0M95.8 680.8h0M156.1 719.2h0M100.1 676.7h0M126.3 720.6h0M100.6 668.6h0M97.9 673.2h0M101.1 683.6h0M122.3 720.9h0M149.5 724.5h0M98.6 679.1h0M130.7 669.3h0M117.9 665.5h0M134 672.8h0M112.2 718h0M114.9 665.3h0M120.2 717.5h0M142.5 683.8h0M117 720.1h0M98.6 676.5h0M135 724h0M154.8 704.1h0M99.4 680h0M121.2 720.2h0M141.5 724.8h0M139.7 678.7h0M133 724.6h0M108.8 712h0M153.5 719.4h0M116.8 716.2h0M114.7 717.4h0M109.3 667.1h0M152.3 703.1h0M152.3 701.7h0M125.3 669.6h0M106.9 700.6h0M134.5 673.7h0M110.5 665.2h0M155.4 696.9h0M136.8 724.1h0M114.1 667.8h0M145.1 725.4h0M108.2 715.5h0M143.5 688.1h0M102.5 682.8h0M157.4 713.2h0M118.2 716.9h0M104.9 699.5h0M117.2 719.6h0M106.5 695.7h0M149.2 724.6h0M95.8 674.8h0M157 719.9h0M100.1 681.3h0M154.1 712.5h0M147.9 687.5h0M131.8 669.5h0M123.9 721.8h0M151.8 725.5h0M135.2 727.1h0M114.4 715.5h0M108.7 696h0M147.1 722.6h0M99.6 670.8h0M141.9 728.7h0M107.8 700.4h0M111.1 711h0M139 728.1h0M143.6 684.1h0M127 720.6h0M142.6 727.2h0M121.3 718.7h0M108 668.4h0M123.7 668.2h0M105.4 695.7h0M109.2 690.2h0M105.7 667.9h0M133.4 675.1h0M101.6 668.2h0M146.4 686.8h0M136.7 727.2h0M108 708.7h0M125.5 721h0M121.2 665.2h0M157.2 713.3h0M98.2 669.2h0M108.8 707h0M147 688.7h0M106.9 688.5h0M120.2 663.5h0M158.5 705.4h0M151 709h0M120.8 664h0M148.4 726h0M136.3 678.5h0M134.2 725h0M113.9 717.8h0M154.9 711.2h0M133.5 669h0M155 706.3h0M104.5 688.3h0M137.2 678h0M140.5 679.9h0M129.5 723.5h0M126.1 723.4h0M119.5 666.4h0M124.4 665.5h0M109.3 707.3h0M120.5 721.6h0M110.4 711.5h0M105.2 684.5h0M116.4 667.1h0M107.3 705.1h0M147.8 690.2h0M151.3 694.4h0M105.9 695.9h0M108.7 712h0M137.9 674.5h0M122.3 664.2h0M157.1 709.4h0M135.4 725.9h0M123.6 722.5h0M156.2 703.3h0M114.6 717.8h0M103.3 670.6h0M115.9 663.4h0M98.1 681.7h0M106.2 683.2h0M108.6 711.3h0M149.9 689.1h0M109 686.6h0M153.1 695.4h0M102.3 681.4h0M116.9 665.6h0M106.7 694.2h0M104.9 702.1h0M153.4 697.8h0M98.3 674.4h0M139.1 729.4h0M147.1 725.8h0M112.2 719h0M122.1 665.7h0M136.2 673.1h0M124.5 722.5h0M128.3 721.5h0M104 668.2h0M122.5 723.6h0M138.4 726.7h0M104.2 665.4h0M125.7 724.9h0M128.7 669.2h0M142.8 727.5h0M101.3 678.7h0M116.1 665.5h0M141.7 727.1h0M117 667.3h0M143.5 687.4h0M107 700.1h0M111.1 692.2h0M136.1 725.5h0M127.8 722.2h0M115.3 722.2h0M106.6 691.3h0M126.8 723h0M111.4 717.4h0M121.5 720.6h0M111.2 715.8h0M143.2 729h0M141.4 728.5h0M100 678.5h0M115.9 719.3h0M107 697.5h0M148.5 723.8h0M136.4 675.1h0M135.7 673.3h0" stroke="#f4b68e" stroke-width="1.1" stroke-linecap="round" fill="none"/>
<path d="M118.1 701.5h0M110.4 712.7h0M129.3 688.8h0M132 683.7h0M131.8 704.2h0M145.6 711.2h0M129.1 715.2h0M139.5 687.9h0M149.1 717.6h0M142.3 695.6h0M129.6 672.8h0M133.1 719.4h0M133.3 719.9h0M111.2 690.9h0M111.6 669.9h0M139.3 704.4h0M127.5 670.4h0M123.1 670h0M145.4 713.1h0M122.3 667.8h0M133.6 674.2h0M111.8 695.1h0M131.7 704h0M144.4 705.3h0M128 714.6h0M151.8 720.7h0M137.7 720.5h0M115.8 716.3h0M120.4 701.2h0M121.1 670.9h0M145.1 693.7h0M120.3 673.8h0M145.6 715.6h0M118.2 704.4h0M146.4 722.6h0M150.2 713h0M131.2 718.4h0M107.8 707.2h0M134.4 683.5h0M135.7 725.3h0M130 699.9h0M98.9 675.6h0M117.4 703.5h0M123.5 699.6h0M143.7 693.1h0M124.5 706.2h0M142.9 717.9h0M136.4 694.7h0M142.2 713.1h0M117.4 718.3h0M110.6 704.7h0M151.9 707.3h0M113.8 670.5h0M127.5 691.4h0M139.2 704h0M150.2 717.1h0M128.3 677.4h0M143.1 724.8h0M114.8 668.6h0M129.7 700.1h0M117.6 668.3h0M128.2 707.2h0M138.5 684.9h0M105.7 674h0M120.5 709.1h0M113.7 669.9h0M129.5 716.3h0M108.7 706.3h0M101.2 674.3h0M123.7 676.9h0M140 682.4h0M105.9 677.7h0M102.4 682.2h0M139.2 697.6h0M130.8 722.1h0M145.6 711.9h0M137.2 676.7h0M121.6 718.7h0M139.8 724.1h0M134 695.6h0M142.6 689.2h0M122.4 678.3h0M139.4 686.1h0M148.4 703.7h0M146 724.2h0M135.1 674.6h0M152.8 707.5h0M122.9 712.1h0M134.1 686.2h0M127.9 681.4h0M144.9 687.9h0M133.1 707h0M113.9 689.8h0M130.4 694.6h0M120.4 711.2h0M104.5 678.3h0M110.2 678.3h0M100.6 677.6h0M145.6 722.6h0M105.9 673.9h0M109.7 677.6h0M134.7 677.1h0M119.9 670.3h0M115.7 706.5h0M109.2 690.6h0M112.5 705.3h0M128.8 689.6h0M107.2 678.3h0M128.1 676.7h0M129.9 685.4h0M109 697.1h0M132.7 682.1h0M117.9 719.6h0M106.9 681.3h0M117.9 691.8h0M133 699.4h0M152.2 709.8h0M135.2 717.4h0M120.9 682.7h0M135.9 712.5h0M146.8 704.5h0M136.2 701.1h0M153.4 711h0M109.6 709h0M107.5 674.1h0M122.8 672.1h0M146.7 692.2h0M135.2 725.7h0M138 691.9h0M101.5 672.9h0M105.7 681.8h0M111.9 686.4h0M128.6 670.6h0M133.3 676.2h0M154.6 714.2h0M136.2 699h0M137.4 714.3h0M117.9 685.4h0M116.9 702.1h0M125.8 671.3h0M114 698.1h0M154.8 703.4h0M121.3 710.6h0M118.6 689.3h0M117.7 671.7h0M120.6 699.1h0M135.2 706.5h0M122.7 670.8h0M111.6 700.1h0M117.8 679.4h0M120.1 685.9h0M145 707.6h0M120.9 708.7h0M139.4 700.6h0M144.9 695.1h0M149.7 709.7h0M139.1 704.4h0M118.1 683.7h0M111.5 695.1h0M146 722.5h0M141.8 686.2h0M110.9 703.9h0M145.9 715.2h0M147.9 714.3h0M127.6 688.2h0M107.7 683.7h0M126.3 715.4h0M123.4 682.7h0M140.5 726h0M148.9 719.1h0" stroke="#ffffff" stroke-width="1" stroke-linecap="round" stroke-opacity="0.8" fill="none"/>
<path d="M158.1 700.5h0M169 680.2h0M166.8 670.6h0M182 667.2h0M172.9 685.2h0M175.6 725.4h0M144.9 685.6h0M161.9 711.1h0M156.2 681.5h0M166.6 728.1h0M165.3 705.4h0M178.2 689.2h0M166.6 696.7h0M183.7 679.9h0M164.1 684.1h0M164.3 693.6h0M159.1 704.4h0M187.1 686h0M155.1 681h0M167.5 693.5h0M168 677.1h0M187.3 689.8h0M155.2 695.2h0M168.6 700.8h0M173.9 688.3h0M180.8 685.9h0M160 677.6h0M176.1 721.7h0M151.1 669.1h0M155 667.1h0M161.9 710.3h0M162.8 676.7h0M171 696.3h0M183.6 691.5h0M171.4 696.4h0M173 663.8h0M180.3 697h0M173.7 716.1h0M166.6 728.7h0M171.6 726.3h0M170.7 712.5h0M187 698h0M183.7 675.2h0M162.2 670.6h0M175.9 658.9h0M170.5 697.5h0M178.8 696.8h0M178 664h0M167.8 673.5h0M171.8 665.7h0M164.8 669.3h0M165.4 687h0M172 678.8h0M168.7 676.1h0M145.5 673.5h0M161.3 695.5h0M175.1 662.6h0M164.7 709.2h0M185.1 680.7h0M174.4 665.1h0M169.8 683.6h0M162.3 719.7h0M172.4 714.9h0M152.5 674.7h0M157.4 691.4h0M147.1 685.8h0M175.1 688.3h0M143.9 685.5h0M158.2 666.7h0M156.4 688.3h0M156.4 666.9h0M179.5 720.6h0M160.7 715.8h0M170.5 731.3h0M165.9 719.9h0M170.6 671.5h0M171.9 695.9h0M146.1 678.4h0M160.9 694h0M172.7 725.7h0M172 695.1h0M161.6 668.7h0M169.1 719.4h0M171.4 691.8h0M148.6 684.3h0M182.8 689.1h0M174.2 668h0M175.6 699.1h0M180.2 683.5h0M163.3 711.6h0M142.4 682.2h0M164.4 722.3h0M165.9 678.8h0M164 726.7h0M168.4 675.3h0M175.5 687.4h0M165.1 672.5h0M180.7 706.2h0M152.8 684.3h0M164 677.2h0M167.6 704.2h0M166.8 666.6h0M179.8 701.7h0M178.4 703.2h0M159.2 678.3h0M169.9 724h0M182.6 710.7h0M164.2 702h0M160.6 666.2h0M163.1 725.2h0M159.6 663.7h0M181.7 694.6h0M154.7 694.6h0M165.4 695.2h0M182.8 713.8h0M158.9 707.3h0M185.8 686.3h0M173.9 673.6h0M172.7 686.8h0M167.7 729h0M163.2 666.7h0M175.5 725.2h0M166.7 699h0M166.2 664h0M151 686.6h0M186.2 713.8h0M161.3 718.4h0M178.1 719.8h0M183.3 688.3h0M169.4 714.6h0M147.7 669.4h0M161.4 670.8h0M168.9 677.7h0M164.4 668h0M186.9 690.1h0M176.9 661h0M180.1 689.1h0M164.4 690.3h0M149 678.2h0M167.2 671.4h0M152.2 680.3h0M181.4 660.7h0M153.1 671.6h0M174.6 729.3h0M176.4 702.8h0M165.1 705.9h0M158.6 693h0M158.1 667.9h0M141.4 682.4h0M170.8 722.2h0M181.1 698.7h0M175.4 680.1h0M165.5 705.1h0M180.2 670.4h0M149.2 671.2h0M179.5 676h0M167.1 681.7h0M158.6 673.6h0M180.6 705.3h0M187.4 695.1h0M180.5 691.8h0M181.6 714.2h0M167 681.9h0M178.7 666.4h0M171.7 678.5h0M143.4 678.8h0M176.1 727.5h0M182.8 712.1h0M177.9 670.9h0M156.6 670.8h0M169.6 675.5h0M182.9 713.6h0M159.1 693.4h0M165 695.9h0M162.7 664.3h0M168.8 702.7h0M178.7 681h0M182.8 660.7h0M172.4 712.4h0M143 680.2h0M167 716h0M183.9 695h0M156.8 695.6h0M185 681.4h0M174.8 706.5h0M156.6 699.2h0M170.9 683.5h0M178.2 691.7h0M172.3 718.3h0M172 680.3h0M182 711.4h0M153.9 668.4h0M175.5 706.6h0M146.8 673.5h0M156.1 693.8h0M169.1 717.1h0M169.9 731h0M150 676.9h0M164 697.8h0M186.9 698.4h0M175.9 671.1h0M182.1 696.4h0M166.8 696.1h0M157.4 669.7h0M176.1 681.2h0M165.5 701.1h0M145 685h0M178.4 717.1h0M149.8 678.8h0M155.6 678.7h0M180 660.7h0M158.6 710.3h0M181.1 699.2h0M164.3 699.4h0M174.1 701.8h0M172.5 706.5h0M175.2 681.8h0M181.8 662.6h0M162.2 669.1h0M178 683.3h0M176.7 695.4h0M177.9 676.1h0M171.3 726.6h0M164.7 709.8h0M175.7 680.3h0M149 674.2h0M181.4 706.1h0M187.6 694.4h0M181.7 699.2h0M154.1 687.5h0M179.6 718h0M165.1 722.7h0M184.6 683.3h0M176.6 660.1h0M180.1 700.7h0M158.7 691h0M187 685.5h0M182.1 669.7h0M168.4 715.6h0M163.7 666.3h0M165.3 722.5h0M168.5 681.4h0M150.6 686.8h0M166.2 680h0M177.1 699.1h0M145.6 671.9h0M159.2 705.8h0M167.8 700.9h0M173.8 682.5h0M167.5 712.3h0M156.6 690.2h0M170.7 689.1h0M164.5 727.6h0M155.6 698.7h0M167.2 680.3h0M183.2 667.3h0M181.1 699.3h0M169.7 706.4h0M149.6 667.5h0M163.3 721.4h0M173.7 696.5h0M151.8 689.9h0M162.8 697.7h0M175.3 666.5h0M179.9 695.7h0M164.7 713.9h0M170.6 708.7h0M163.5 693.2h0M164.8 689.6h0M187.7 691.2h0M166.9 665.4h0M185.6 712.5h0M144 683.7h0M167.4 692.8h0M169.1 695h0M152.1 672h0M172.4 729.5h0M169 670.6h0M176.6 685.6h0M142.6 676.2h0M148.1 688.5h0M147.7 679.4h0M167.7 661.5h0M181.9 672.5h0M162 681.3h0M182.3 691.3h0M171.6 721.3h0M161.5 718.8h0M169.8 679.4h0M161.5 674.7h0M162.2 693.2h0M168.7 723h0M156.8 674.9h0M169.2 682.1h0M165 685.7h0M157 674.7h0M157 698.9h0M174.6 660.6h0M175.6 718.4h0M180.4 707.7h0M158.9 666.7h0M152.9 688.6h0M169.8 714.2h0M184.5 698.9h0M162.1 700.9h0M183.5 692.5h0M179.4 702h0M166.8 707h0M180.6 701h0M149.9 667.9h0M182.6 673h0M164 678.8h0M162.2 706.1h0M163 699.9h0M157.9 665.8h0M168.9 676.1h0M160.1 705.5h0M180.9 720h0M169.8 663.9h0M149.6 671.6h0M178.5 698.8h0M181.1 715h0M176.8 698.9h0M174.2 717.6h0M173.9 676.7h0M160.9 700.9h0M185.8 694h0M167.6 696.3h0M169.8 730.2h0M183.3 664.3h0M157.1 688.6h0M166.7 682.1h0M150.6 678.1h0M171.9 697h0M177.5 686.4h0M181.7 693.1h0M161.2 670.9h0M159.1 695.2h0M169.1 701.5h0M156.8 673h0M176.8 717.2h0M167.9 726.9h0M177.8 712.5h0M183.4 686.4h0M161.7 681.3h0M158.6 715.4h0M178.2 693.7h0M183.6 674.2h0M166.6 683.8h0M184.6 719h0M165.6 662.9h0M168.3 715.6h0M172.7 708.8h0M145.7 677.2h0M155.4 666.6h0M171.4 690.3h0M162.8 719.7h0M159.2 667.9h0M173.7 704.1h0M183.3 688.9h0M170.6 672.6h0M155.4 671.4h0M169.6 712.6h0M166.7 671.2h0M181.5 717.9h0M181.2 701.1h0M183.5 682.5h0M169.9 703h0M147.4 682.1h0M179.2 672.7h0M153.9 695.8h0M165.7 687h0M168.9 712.1h0M171.6 678.9h0M161.4 689.9h0M184.2 694.6h0M164.2 721.9h0M174.4 659.4h0M177.7 661.9h0M165 672.9h0M167.8 694.3h0M173.4 699.6h0M165.4 710h0M183.8 708.9h0M188.7 690.7h0M156.9 670.2h0M172.8 676.7h0M160.7 719.2h0M151.8 690.2h0M151.4 679h0M159.3 702.9h0M185.4 701.6h0M183.3 667.1h0M160.2 700.1h0M185.4 712.8h0M174.5 689.8h0M169.6 711.9h0M169.7 696.8h0M165.9 721.2h0M162 707.3h0M168.8 666.4h0M180.6 718.5h0M177.1 701h0M182.2 693.7h0M158.9 678.9h0M148.9 678.8h0M159.8 708.2h0M151.3 676.4h0M166.8 707.5h0M162.1 675h0M174.3 689.1h0M175.1 677h0M177 669h0M161.9 706.7h0M180.8 713.5h0M162.2 681.4h0M168.9 714.2h0M176.5 663.2h0M171.5 726.1h0M176.8 724h0M174.2 688.1h0M169.5 730.1h0M156.1 678.7h0M166.7 669.5h0M176.8 682.1h0M178.2 709.9h0M171 667.5h0M174.3 670.3h0M171.7 726.7h0M183 710.7h0M184.9 685.8h0M176.1 719.8h0M164 709.6h0M167.8 688.6h0M148.6 685.9h0M167.4 711.8h0M160.9 704.8h0M163 707.9h0M176.7 722.9h0M148.6 673.5h0M157 682.2h0M174.1 682.1h0M169.1 663.6h0M149 678.1h0M178.6 694.1h0M153.1 666.6h0M161 663.8h0M163.9 726h0M176.3 709.4h0M177.6 689.5h0M169.7 713.4h0M160.3 710.4h0M181.1 718.8h0M176.5 685.4h0M162.1 677.7h0M176.7 687.5h0M160.4 691.9h0M171.9 694.7h0M185.6 681.5h0M162.1 701.9h0M184.2 676.6h0M168.1 677.7h0M158.9 688.9h0M154.5 693.6h0M158.7 670h0M168.7 726.2h0M179.3 679.4h0M160.3 685.4h0M164.9 708.3h0M169.3 667h0M166 700.8h0M168.8 672.1h0M180.2 660.3h0M183 664.9h0M184.9 694.6h0M145.7 675.6h0M169 695.9h0M172.4 690.6h0M176.2 708h0M180.8 683.6h0M175.4 701.5h0M182.4 687.3h0M166 720.3h0M181.8 680.5h0M180.1 719.6h0M167.6 724.5h0M161.9 698.2h0M143.6 684h0M144.8 680.3h0M177.3 669.5h0M182.6 665h0M179.1 671.1h0M149.9 681.5h0M175.1 724.7h0M161.7 677.8h0M183.7 667.9h0M171.6 720.1h0M181.1 682.9h0M171.9 674.9h0M180.2 665.6h0M157.1 671h0M178.3 675.1h0M154.6 665.4h0M163.2 715.8h0M166.4 709.5h0M171.9 726.6h0M166.8 674h0M161.1 669.6h0M174.3 689.4h0M179.7 680.4h0M171.3 699.7h0M187.8 697.4h0M162.6 669h0M174.4 722h0M170.9 713.2h0M173.7 673.3h0M160.2 707.1h0M178.9 704.7h0M146.9 681h0M182.5 665.4h0M167.2 693.8h0M154.4 688.7h0M142.4 679.2h0M182.1 671.9h0M184.3 682.3h0M160.9 716h0M156.5 670.5h0M180.6 695.1h0M183.4 685.4h0M178.6 679.6h0M165.3 725.8h0M143.5 684.5h0M174.5 680.3h0M176.3 673.6h0M157.4 685.6h0M144.1 682h0M176.6 678.7h0M142.9 676.9h0M183.1 692.8h0M166.4 678.4h0M181.1 716.9h0M172.8 723.9h0M165.2 676.2h0M169.4 674.6h0M171.8 730.3h0M153.4 694.3h0M168.8 719.2h0M164.4 719.4h0M182.7 666.2h0M166.7 713.8h0M156.8 702.5h0M174.7 688.2h0M164.5 674.9h0M163.1 688.6h0M179.1 692.4h0M164.9 697.6h0M155.5 664.9h0M186.2 690.1h0M151.4 685.6h0M152.8 672.9h0M181.5 694.6h0M166.6 729.3h0M151.5 687.4h0M165.7 709.8h0M184.8 686.8h0M180.6 692.7h0M169.9 705.4h0M157.4 695.1h0M153.1 670.3h0M187.8 696.2h0M161.4 712.3h0M163.4 684.8h0M176.1 686.3h0M156.1 688.4h0M174.5 661.2h0M180.6 710.3h0M155.2 688.1h0M163.1 664.9h0M160.8 708.1h0M162 675h0M179.7 704.2h0M166.1 705.5h0M167.3 696.8h0M171.8 706h0M181.7 702.9h0M167.2 685.1h0M153.6 689.9h0M182.2 708.2h0M173.4 703.2h0M161.8 674.8h0M165.3 681.6h0M181.4 661.3h0M173.9 706h0M175.6 670.1h0M158.5 706.5h0M154.4 667.1h0M170.2 709.7h0M179.2 693.4h0M172.5 713.5h0M184.2 684.8h0M154.8 686.3h0M158.9 695.6h0M174.5 671.3h0M166.2 681.7h0M165.2 704.3h0M157.9 676.8h0M175.4 708.2h0M154.7 665.4h0M147.1 674.9h0M174.7 712.5h0M158.8 667.8h0M178 681.7h0M187.5 686.1h0M170.6 686h0M169.4 676.5h0M160.9 700.3h0M140.5 679.9h0M163.9 670.2h0M176.3 690.5h0M165 725h0M154.5 668.7h0M157.9 710.9h0M181 660h0M166.5 663.6h0M174 715.2h0M169 688.2h0M153.3 691.6h0M181.1 694.4h0M182.2 699.1h0M155.2 694.9h0M164.6 718.5h0M173 687h0M179.8 690.4h0M155.1 665.3h0M179.1 716.3h0M178.7 669.7h0M180.2 676.4h0M179.5 675.1h0M175.3 723.1h0M164.8 675.8h0M174.5 672.3h0M168.8 669.2h0M142.3 684.1h0M173.5 726.8h0M157.8 677.3h0M162 694.5h0M180.5 700.9h0M166.2 705h0M158 697.4h0M176.8 671.2h0M188.3 711.2h0M164.7 728.5h0M179.3 656.9h0M165 730.1h0M186.7 718.5h0M142.1 674.4h0M163.8 724.7h0M175.1 657.5h0M139.1 677.6h0M175.6 730.3h0M147 689.3h0M171.5 731.5h0M182.9 658.3h0M184.1 669.5h0M185 721.8h0M139.7 681.7h0M143.7 680.7h0M141.8 676.2h0M188 700.1h0M186.1 683.2h0M185 669.9h0M140.2 677.8h0M187 690.9h0M171.1 732.5h0M179.1 657.6h0M137.1 680.5h0M158.9 702.9h0M173.4 732.9h0M179 659.1h0M149.1 689.3h0M139.8 677.5h0M141.7 679.5h0M171 734.7h0M185.8 703.6h0M180.8 659.6h0M169.6 731.7h0M143 674.5h0M172.6 662.3h0M176.6 728.3h0M178.1 657.2h0M159 718.7h0M168.2 659.6h0M183.5 711.8h0M173.5 657.9h0M184.8 675.1h0M182.6 719.5h0M140.7 679.6h0M142.9 676.2h0M158.2 715.7h0M172.3 732.2h0M185.8 673.1h0M144.9 691.8h0M140.2 681.7h0M158.5 720.2h0M175.4 723.9h0M184.5 705.2h0M160.4 717.1h0M185.3 674.1h0M170 731.8h0M185.1 710.9h0M184.6 703.9h0M184.5 670.8h0M163.7 728.9h0M142.2 675.4h0M142 683.4h0M183.3 709.7h0M186.5 693.6h0M186.8 718.3h0M187.4 698.6h0M138.9 684.1h0M189.3 685.6h0M166.7 726.1h0M188.1 698h0M149.2 690.4h0M184.5 699.9h0M178.1 724.1h0M162 718.1h0M188.6 713.9h0M155 708.4h0M163.5 726.3h0M189.2 693.8h0M155.9 709.3h0M161.8 663.2h0M141 678.7h0M188.6 719.5h0M140 681.6h0M183.5 710.2h0M184.5 707.9h0M166.4 656.9h0M185.4 686.3h0M159.8 718.9h0M180.7 659.3h0M188.9 686.7h0M172.2 660.1h0M183 707.3h0M160 726.4h0M178.2 660.2h0M138.6 678.7h0M186.2 714.6h0M142.8 673.8h0M143.2 683.2h0M184.8 678.5h0M183.3 661.7h0M187.5 710.8h0M167 731.8h0M160.1 720.9h0M182.6 721.9h0M185.8 707.8h0M182.6 666.9h0M147.9 665.3h0M185.4 682.7h0M184.6 665.2h0M139.9 681.3h0M163.4 721.4h0M155.4 719.3h0M191.7 690.5h0M184.5 674.2h0M143.5 681.9h0M184.6 712.4h0M159.6 727.2h0M187.1 680.1h0M183.5 660.6h0M150.7 693.1h0M151.3 694.9h0M187 664.6h0M158.5 701.3h0M178.7 657.8h0M155 703.5h0M168.2 659.2h0M187.1 674.2h0M182.5 674.9h0M174.7 729h0M167.5 655h0M158.1 716.8h0M184.4 669.2h0M176 725.4h0M143 675.6h0M176.9 657.6h0M175.8 657.5h0M168.7 731.9h0M186.1 702.5h0M180.5 720.8h0M157.3 660.6h0M176.4 726.3h0M174 659.3h0M142.5 685.6h0M142 682.1h0M183.6 661.3h0M182.6 658.6h0M185 705.8h0M152.3 695.4h0M161.5 660.5h0M182 668.7h0M153.3 696.5h0M178.8 720.6h0M152.6 662.2h0M140.9 684.6h0M183.3 675.1h0M185.3 664.2h0M163.3 662.7h0M165 726.1h0M186.8 721.3h0M147 670.9h0M170.4 730.3h0M145.3 667.2h0M178 719.9h0M184.5 664.2h0M190.1 689.7h0M162.1 660.3h0M138 678.1h0M189 692.1h0M157.8 664.9h0M187.8 702.8h0M160.5 728h0M165.9 664h0M149.2 665h0M183.3 661.9h0M163.3 727.7h0M179.5 723.9h0M185.9 714.4h0M154.7 705.2h0M183.2 674h0M142.2 683.9h0M180.6 656.2h0M150.9 691.2h0M171.5 731h0M190.7 692.3h0M170 661.1h0M155.9 700.6h0M190.4 688.8h0M188.8 697.4h0M183.9 668.8h0M174.7 659.3h0M146.9 689.8h0M148.1 690.6h0M187.6 719.2h0M182.7 669.9h0M148.4 692.7h0M154 699.4h0M185.1 678.1h0" stroke="#8db896" stroke-width="1.1" stroke-linecap="round" fill="none"/>
<path d="M158.5 692.8h0M167.2 674.4h0M188.2 694.1h0M161.9 686.3h0M180.9 661.7h0M163.9 667.5h0M170.5 687.4h0M162 682.2h0M159.6 706.5h0M184.4 664.8h0M150.9 669.3h0M172.2 672.7h0M180.5 682.2h0M143.5 683.6h0M173.7 691h0M181.9 663.2h0M164.7 673.2h0M173 703h0M174.1 729.5h0M179.4 718.5h0M158 710h0M183.1 699.7h0M156.2 695.7h0M169.2 718h0M143.3 678.3h0M166.5 675.5h0M165.2 702h0M149.4 683.9h0M167 665.9h0M165.1 715.9h0M162.4 693.9h0M174 694.9h0M183.3 684.1h0M169.1 713.7h0M185.6 716.2h0M183 684.8h0M184 694.4h0M186.4 685.7h0M173.1 662.3h0M150.2 687.4h0M172 701.5h0M159.5 686.2h0M169.5 673.6h0M170 682.2h0M181.5 712.4h0M171.1 710.2h0M174.9 681.8h0M167.6 716.8h0M160.4 693.3h0M169.3 682.1h0M171.9 723.2h0M143.1 681.3h0M167 688.8h0M173 717.7h0M162.3 710.6h0M182.1 694.7h0M184.3 675.6h0M162.2 681.9h0M173.7 659.9h0M180.4 719.3h0M165.5 672.6h0M172.3 670.4h0M167.6 723h0M183.5 693.8h0M181.4 683.8h0M179.5 674.2h0M180.9 700.5h0M170.1 718.4h0M174.1 692.3h0M185.5 714.7h0M162.2 712.3h0M144.7 682.7h0M167.7 727.6h0M176.1 705.7h0M147.9 670.5h0M145.7 684.8h0M164.4 716.8h0M153.9 688h0M185.1 688.8h0M155 678.4h0M174.2 709.5h0M181.7 720.4h0M154.4 686.4h0M170.4 700.7h0M163.9 714h0M170.4 670h0M183.9 686.3h0M168.1 676.6h0M169 717.6h0M167.6 691.1h0M157.2 675.7h0M172.8 678.1h0M174.6 695.8h0M157.5 686h0M177.9 709.1h0M169.8 713.6h0M183.3 675h0M161.4 705.3h0M167.9 669h0M168.1 716.5h0M160.1 694.7h0M164.5 691.4h0M182.9 712.6h0M183.7 712.9h0M181.9 718h0M172.9 666.2h0M160.6 673.7h0M161.3 690.2h0M142 676.5h0M159 712.5h0M164.4 721.6h0M172.8 693.2h0M169 729h0M173.7 676h0M149.3 677.7h0M184.3 715.8h0M182.7 667.7h0M165.6 717.6h0M159.1 680.3h0M157.4 692.9h0M177.6 674.7h0M171 692.5h0M145.3 686.7h0M176.1 725.5h0M162.1 684.7h0M154.3 669.6h0M158 664.7h0M144.3 676.7h0M151.8 678.1h0M172.8 675.6h0M184.7 695.4h0M168.1 667.7h0M176 690.5h0M173.7 728.5h0M179.6 701.3h0M155.8 674.5h0M170.1 685h0M167.2 705.6h0M182.3 684.8h0M171.1 705h0M180.1 673.5h0M162.6 671.1h0M166.7 686.3h0M168.7 697.3h0M168.8 663.2h0M168.5 688.3h0M171 727.4h0M165.5 703.4h0M156 692.5h0M145 680.4h0M157.7 667.6h0M181.4 695h0M168.7 683.5h0M169.2 681.8h0M187.9 697.4h0M183 667.6h0M167.7 683.2h0M178.5 708.8h0M177 676.7h0M161.5 678.7h0M186.2 696.6h0M171.6 677.4h0M171.2 697.7h0M174.8 676h0M149.1 676.6h0M177.4 710.7h0M155.5 666.4h0M187.6 691.6h0M177 713.9h0M158.4 671h0" stroke="#ffffff" stroke-width="1" stroke-linecap="round" stroke-opacity="0.8" fill="none"/>
<path d="M114.4 753.6h0M157.2 763.3h0M146.1 739h0M102.3 745.5h0M131.7 762.8h0M174 779.7h0M142 737.5h0M140.4 795.4h0M131.4 785.4h0M123.9 754h0M112.5 730.8h0M172.8 766.2h0M122.2 770.3h0M152.8 796.6h0M114.4 758.8h0M109 746.7h0M157.8 776.5h0M135.1 762.3h0M169.2 783.1h0M130 761.3h0M135.7 776.5h0M129.4 773.6h0M159.2 755h0M155.3 757.6h0M114.8 750.5h0M148.2 789.3h0M140.5 764.2h0M111.2 755.7h0M142.3 798h0M136.7 770.6h0M155.5 770.9h0M163.7 785.8h0M101.7 760.9h0M138.5 791h0M101 753.8h0M150.7 760.1h0M145.3 786.1h0M172 783.8h0M143.1 773.3h0M164.8 767.4h0M161.4 793.9h0M131.1 734.7h0M105.6 752.7h0M110.8 742.6h0M118.4 756.8h0M172.2 776.5h0M159 795.6h0M126.5 778.1h0M150.9 802.4h0M153.9 770.6h0M123.6 731.8h0M143.6 782.4h0M114.4 740.4h0M137.1 793.4h0M160.2 777h0M106.2 738.7h0M142.4 785.3h0M119.7 750.7h0M166.1 759.7h0M130.6 784.4h0M151.6 788.4h0M130.6 738.2h0M106.3 753.3h0M99.3 735.7h0M138.7 755.5h0M141.4 773.7h0M110.4 742.6h0M170.1 765.9h0M112.1 734.2h0M139.3 764.4h0M151.3 739.6h0M151.5 775.7h0M99.5 750.6h0M158.1 750.9h0M161.8 791.9h0M143.7 785.6h0M146.9 755h0M138.8 779.6h0M118.4 764.5h0M129.2 744.7h0M122.4 735.3h0M121.1 776.4h0M135 776.6h0M112.4 730.9h0M150.6 749.9h0M147.2 794h0M159.2 762.8h0M149 780.1h0M137.1 754.2h0M132.3 742.5h0M131.8 739.8h0M136.3 759.4h0M134.6 789.9h0M161.7 794.4h0M124.1 732.1h0M156.9 759.8h0M132.8 735.9h0M122.1 745.8h0M159.6 764.9h0M117 746.3h0M151.8 746h0M155.5 776.9h0M123.9 758.5h0M141 746.4h0M168.2 787.6h0M142.9 747.4h0M172.9 763.9h0M108.9 746h0M162.1 763.1h0M133.4 772.5h0M136.8 757.8h0M154.4 788.7h0M107 730.7h0M128.3 757.4h0M154.6 758.4h0M163.9 765.9h0M121.1 754.4h0M118.5 767.9h0M146.1 781h0M155.8 776.5h0M117.4 773.9h0M145.9 787.2h0M147.3 797.6h0M156.7 767.1h0M159.2 790.3h0M144.8 775.6h0M149 766.2h0M146.9 754.9h0M151.2 758.2h0M163.8 759.4h0M131.7 755.4h0M131.9 774.5h0M138.1 741.8h0M119.5 735.4h0M128.4 776.1h0M163 793.9h0M138.7 750.8h0M123.6 736h0M132.5 747.1h0M150.9 800.9h0M166.5 761.4h0M127.5 738.3h0M160.1 767.9h0M101.2 750.6h0M100 743.5h0M132 762.2h0M107.9 758.9h0M124.2 766.8h0M107.3 759.6h0M107 755.3h0M161 772.3h0M145.7 761.6h0M137.4 735.4h0M154.2 785h0M117.5 753.6h0M148.2 795.5h0M163.4 773.6h0M132.5 785h0M142.8 741.6h0M110.5 752.5h0M148.8 756.8h0M133.9 738.4h0M167 780.2h0M131.2 778.5h0M158.9 774.9h0M156.7 754.2h0M136.4 788.2h0M155.6 742.4h0M146 781.8h0M167.6 786.9h0M152.6 763.3h0M118.1 752.1h0M163.7 773.3h0M118 765.2h0M170.4 769.6h0M120.3 754h0M119.3 769.9h0M133.4 737.2h0M98.5 746.1h0M145.5 779.3h0M155.5 796.6h0M165 791.9h0M101.2 752.2h0M101.9 736.8h0M125.7 740.2h0M117.6 749.8h0M150 769.2h0M116.5 740.9h0M146.8 781.2h0M108.7 743.6h0M155.4 766.4h0M145.7 791h0M146.8 792.4h0M166.9 772.6h0M159 780.6h0M146.2 755.6h0M124.3 734.3h0M122.2 769.2h0M118.5 742.5h0M138.9 761.2h0M133.2 750.9h0M100 741.1h0M139.7 747.1h0M118.7 771.4h0M109.8 743.1h0M121.5 736.9h0M149.9 758.1h0M127 733.4h0M111.7 740.3h0M107.9 734.5h0M166.5 786.2h0M171.1 773.9h0M166.4 789h0M154.1 755.7h0M112.9 762.1h0M103.1 752.6h0M152.7 751.8h0M125 738.4h0M136.2 771.9h0M145.5 773.4h0M141.6 756.6h0M130.5 782h0M117.3 733.1h0M105.2 747.8h0M164.3 781.9h0M116.1 746.2h0M161.3 779h0M156.7 799.9h0M174.3 776.3h0M146.5 758.2h0M112.2 745.5h0M151.6 787.6h0M102.4 746.5h0M148 761.2h0M148.5 791.4h0M104.1 758.8h0M128 747.8h0M161.7 769.3h0M150.9 780.5h0M117.7 736.8h0M153.7 757.5h0M148.6 764.3h0M138.1 741.2h0M171 768.1h0M147.4 773h0M112.1 745h0M145.6 794.1h0M144.4 773.5h0M155.8 760.4h0M161.8 757.2h0M143 758h0M126.9 763.3h0M160.3 775h0M130.4 742.8h0M167.3 784.6h0M134.9 741.7h0M140.9 796.4h0M168.2 772.7h0M106.8 735.9h0M119.8 764.1h0M146.3 794.2h0M160 762.6h0M117.7 774.1h0M113.5 735.7h0M113.2 739.7h0M112 735.8h0M120.1 764.8h0M152.1 779.4h0M153.3 800.1h0M129.4 760.1h0M129.2 738.3h0M119.3 761h0M145.4 791.6h0M144.8 754.1h0M99.8 742.4h0M155.7 787.3h0M118.5 761.6h0M168.9 772.5h0M135 770.4h0M143.9 775.4h0M154.6 756.4h0M141.8 779.5h0M112.1 770h0M154.3 762h0M147.6 758h0M140.3 784h0M99.1 735.2h0M144.3 767.1h0M139.8 785.8h0M158.7 760.7h0M108.6 758.6h0M122.2 732.4h0M127.5 779.8h0M139.8 775.7h0M149.4 789h0M123.3 762.3h0M102.4 733h0M98.3 741.9h0M131.4 747.3h0M117.3 769.1h0M136.2 742.4h0M147.1 763.4h0M117.8 760.9h0M135.8 737.9h0M142.5 753.7h0M152.7 759.3h0M115.9 774h0M145.9 796.8h0M139.5 755.1h0M97.1 741.6h0M146.6 796.7h0M150.2 740.1h0M139.8 781.4h0M146.2 753.3h0M164.5 759.7h0M135 761.9h0M151.1 785.9h0M171.7 768h0M160.1 758.4h0M110.5 761.3h0M117.7 776.5h0M134.9 738.8h0M158.7 761.4h0M167.4 767.7h0M136.2 770.2h0M128.3 747.3h0M117.5 740.7h0M146.2 799.1h0M115 741.5h0M151.5 745.1h0M138.8 740.6h0M105.1 735.3h0M133.4 767h0M142.1 766.4h0M132.1 780.5h0M103.6 731.5h0M120.8 747.1h0M169.6 768h0M162.2 760.6h0M143.4 795.1h0M119.5 732.5h0M146 774.1h0M129.4 744.8h0M125.2 749.9h0M142.3 747.5h0M122.2 743.9h0M107.3 742.9h0M101.5 750.7h0M154.6 763.5h0M103 744.1h0M153.2 747h0M151.2 789.1h0M109.9 740.4h0M99.2 753.1h0M159.4 783.4h0M112.1 761.1h0M131.7 783.7h0M157.9 780.2h0M167.7 778.3h0M152.2 799.9h0M158.7 797.1h0M119.7 763.1h0M127.2 733h0M173.1 770h0M158.8 799h0M108.2 729.6h0M131.8 760.1h0M119.5 754.2h0M135.4 752.9h0M164.4 784.6h0M155.2 783.7h0M148.5 771.9h0M147.3 783.8h0M135.7 748.8h0M117.4 755.6h0M151.2 741.2h0M130.3 768.6h0M156.9 792.7h0M159.2 753.1h0M130 774.1h0M129.1 732.6h0M134.4 734h0M131.6 786.3h0M167.3 778.8h0M151.5 799.1h0M115.7 755h0M151.1 792.7h0M122.1 756.3h0M141.7 764.2h0M142.4 735.2h0M123.2 765.6h0M129.9 762.5h0M100.3 731.2h0M138.5 756.3h0M136.9 747.7h0M159 757.8h0M155.7 741.4h0M139.2 778.7h0M157.8 746.1h0M142.8 739.6h0M142.7 761.7h0M154.6 773.5h0M168.2 780.3h0M100.5 739.4h0M172 781.1h0M139.3 777.3h0M163.3 765.5h0M147.7 748.9h0M144.3 750.3h0M151.9 791.9h0M147.6 745.6h0M114.5 769.6h0M159.6 783.1h0M148.3 778.8h0M130.9 772h0M105.3 744.1h0M112.1 738.8h0M144 742.3h0M125.5 754.2h0M136.6 760.9h0M150.7 742.2h0M105.4 744.1h0M155.7 767.4h0M145.8 796.2h0M118.6 737.5h0M148.1 793h0M141.2 776.3h0M162.2 773.5h0M115.7 743.2h0M137.6 779.5h0M140.6 772.6h0M132.5 753.1h0M124.5 767h0M143.9 757.9h0M127.7 770.5h0M109.1 766.4h0M154.3 787.3h0M133.2 743.7h0M130.7 780.1h0M124.2 733.6h0M153.5 797.8h0M108.8 753h0M131.6 779.8h0M172.6 764.4h0M160.3 791.3h0M156.9 755.6h0M115.3 758.2h0M121.4 760.6h0M108.2 730h0M144.1 768h0M174.5 769h0M167.7 766.2h0M160.2 788.3h0M155.7 781h0M149.8 793.9h0M158.7 757.1h0M101.4 737.7h0M142.7 735.1h0M119.8 775.5h0M150.1 785.3h0M128.1 748.9h0M142.3 786.3h0M129.4 735.3h0M103.8 752.7h0M139.5 795.1h0M122.3 738.1h0M171.3 764.8h0M147.4 791.5h0M136.5 762.4h0M148.2 746.4h0M140.4 784.9h0M147.6 755h0M157.3 793.8h0M134.1 753.4h0M147.1 783h0M162.9 791.2h0M96.3 738.5h0M133.5 749.3h0M159.9 757.3h0M142.2 784h0M118.3 774h0M162.1 775.5h0M106.3 757.3h0M158.5 782.7h0M129.2 749h0M118.2 746.7h0M136.8 758.4h0M106.6 730.2h0M123.9 742.7h0M136.6 759.2h0M125.6 775.7h0M146.5 763.3h0M148 737.9h0M151.6 798h0M138.8 790.3h0M143.8 735.8h0M139.9 770.4h0M135.1 742.2h0M110.5 766.2h0M123.8 777.6h0M141 736.6h0M108.5 745.5h0M171.6 784.4h0M120.9 773.6h0M135.7 760.8h0M145.2 774.9h0M149.6 788.3h0M135.9 758.9h0M152.4 762.4h0M113.9 762.7h0M149.8 800.7h0M99.1 750.2h0M132 744h0M162.3 778.4h0M101.9 744.3h0M164.8 752.6h0M150.6 796.8h0M151.6 780.8h0M129.9 754.5h0M130.2 735.8h0M159.2 750.3h0M147.8 788.1h0M151.9 763.2h0M170 786.4h0M136.5 743.4h0M130.5 781.6h0M110.3 763.3h0M147.5 763.3h0M149.4 803.4h0M151.9 761.5h0M117 744h0M163.5 780.6h0M142.6 749h0M98.5 742.6h0M143.5 742.1h0M127.8 762.9h0M140.7 796.7h0M160.9 778.6h0M160 763.6h0M142.2 741.1h0M156 764.3h0M101.5 730.8h0M143.6 745.2h0M164.7 760.7h0M165.9 775.1h0M163.4 764.6h0M156.2 749.9h0M166.5 772.5h0M149.4 759h0M157.8 770.6h0M130.7 771.7h0M98 747.1h0M156.5 750.2h0M157.2 794h0M134.1 751.5h0M136.3 784.2h0M137.2 792.3h0M151 744.8h0M145.5 778h0M150.1 793h0M163.4 789.3h0M164.7 786.2h0M172 765.2h0M125.2 760.8h0M154.2 774.9h0M118 734.1h0M142.1 777.2h0M149.3 742.3h0M120.6 777.3h0M101.4 759.9h0M137.6 770.4h0M115.5 754.6h0M156.5 794.6h0M151.7 748.7h0M136.3 792.3h0M132.9 739.3h0M132.2 776.9h0M154.4 792.4h0M119.2 737.8h0M141.3 795.3h0M129.5 756.2h0M160.8 776h0M134.2 770.2h0M101.9 759.2h0M116.4 751.9h0M148.6 754h0M144.2 800h0M153.1 798h0M97.9 740h0M159.1 760.5h0M109.1 736.9h0M123.4 759.5h0M131.6 753.2h0M102.3 760.6h0M133.5 748.7h0M135.4 759.6h0M134.6 735.6h0M152.2 778.1h0M137.6 748.4h0M157.6 762.2h0M160.4 776.6h0M161.4 787.8h0M152.5 789.4h0M117.2 767.4h0M117.4 774.4h0M141.1 779.2h0M150.7 800.1h0M116 733.1h0M119.2 748.9h0M142.4 758h0M145.1 776.9h0M116.4 753.2h0M161.2 750.6h0M114.6 743h0M156.9 796.3h0M112.8 732.7h0M119.5 766.3h0M103.8 760.1h0M156.8 797.4h0M135.9 750.7h0M102.3 752.6h0M129.4 744.7h0M150.2 803.1h0M135.2 744.9h0M132.2 781.2h0M163.5 771h0M151.5 786.2h0M140.7 737.3h0M105.3 761.3h0M145.5 737.3h0M122.6 745.4h0M143.6 754.2h0M131.3 763.7h0M162.8 766.6h0M157.4 774.1h0M105.4 755h0M170.9 768.6h0M159.7 799.5h0M119.7 745.4h0M171.1 771.5h0M148.3 749.7h0M115.6 734.8h0M147 781.2h0M145 775.8h0M167.9 775.1h0M155.2 784.7h0M142.3 767.1h0M145.8 757.3h0M114.3 732.9h0M142.1 778.5h0M98 729.7h0M129.1 784.3h0M173.2 789.5h0M116.9 731.1h0M169.2 755.9h0M110.1 769.2h0M95.4 742.4h0M146.4 803.5h0M110.4 729.7h0M99.3 733.5h0M107.9 728.7h0M103.8 730.2h0M127 731.7h0M92.6 748.5h0M95.4 740.2h0M175.4 777.9h0M147.1 802.1h0M130.2 730.6h0M158 742.5h0M95.6 747.2h0M159.4 742.9h0M161.5 797.2h0M139.9 800.2h0M171.7 758.9h0M167.7 792.6h0M170.4 788.5h0M113.3 774.4h0M146.3 803h0M95.4 748.5h0M163.5 799.6h0M130.4 783.1h0M122.2 779.4h0M108.1 730.3h0M169.9 788.6h0M100 758h0M166.4 756.5h0M174.9 778.6h0M137.7 796.3h0M109.1 769.6h0M136.7 788h0M126.1 733.1h0M115 774.3h0M100 753.8h0M119.3 773.6h0M106.8 773.1h0M133.4 788.7h0M97.2 733.2h0M96.9 758.4h0M172.7 790.1h0M142.5 733.9h0M97.3 732.3h0M108.2 769.9h0M134.8 732h0M161.8 749.5h0M163.6 795.9h0M174.8 781.8h0M157.9 741.4h0M94.5 738.9h0M141 796.9h0M96.1 751h0M103.7 761.3h0M132.5 782.8h0M134 790.2h0M97.3 734.6h0M176.7 781.5h0M146.6 736.3h0M110.7 727.2h0M120.7 775.8h0M155 741.3h0M157.8 742.8h0M148.5 803.9h0M175.3 771.2h0M108.9 729.4h0M176.6 762.8h0M119.5 731.8h0M172.8 766.9h0M133.9 787.8h0M162.8 746h0M101.3 733.2h0M158.2 746.4h0M118.3 778.8h0M152.9 806h0M125.7 777.9h0M100.4 733.7h0M166.7 754.6h0M121.9 780.6h0M97.9 735.3h0M97.5 754.3h0M102.4 731.7h0M168.9 761.5h0M169.2 758.3h0M173.4 764.8h0M127.7 777.6h0M162 748.6h0M110.6 773.7h0M146.6 801.3h0M100.3 762.2h0M103.5 759.7h0M170 790.8h0M152 743.2h0M154.2 802h0M133.9 791.2h0M154.6 739h0M99.6 761.1h0M98.8 729.5h0M139.1 794.9h0M174.9 768.5h0M142.4 799h0M116.3 731h0M132.5 732.3h0M145 798.8h0M110.1 730.8h0M97.8 735.7h0M103.2 729.2h0M96.1 756.2h0M151.3 803.5h0M113.7 773.7h0M141.1 734.7h0M143.3 802.8h0M166.6 791.8h0M166.3 795h0M112.2 772.8h0M148.4 802.3h0M145 736.3h0M127.4 781.4h0M150.5 804.2h0M139.9 732.7h0M98.4 755.8h0M147.2 737.2h0M100 731.4h0M132.3 786.8h0M98.3 748.3h0M98.5 735.6h0M109.5 730.9h0M171.6 788.9h0M160.7 799h0M130.5 735.1h0M157.7 741.4h0M176.2 774.4h0M95.4 737.2h0M101.6 758.4h0M135.1 787.5h0M117.6 727.3h0M144.3 736.7h0M170.7 783h0M127.2 730.8h0M163.3 745.8h0M94.8 738.6h0M152 805.1h0M145.2 738.4h0M150.2 803.9h0M173.1 782.1h0M97.3 745.4h0M142 737.3h0M153.9 801.8h0M171.2 760.3h0M103.2 761.1h0M134.6 786.7h0M171.9 789.7h0M174.9 776.1h0M96.6 745.4h0M99.1 759.5h0M150.7 802.2h0M103.7 761h0M130.6 731.9h0M124.8 730.6h0M105.1 726.9h0M172.8 784.5h0M99.5 731.9h0M149.7 806.1h0M132 789h0M148.4 803.5h0M174.2 769h0M144.4 799.1h0M150.5 801.5h0M166.8 755h0M147.4 739.2h0M159.3 742.4h0M159.1 799.2h0M160.6 799.5h0M111.7 769.4h0M154.7 739.5h0M162.4 749.1h0M101.2 763h0M173.8 765.5h0M127.9 729.3h0M144.8 736.2h0M175.1 777h0M103.1 731.9h0M174.3 768.2h0M151.1 739.3h0M174.3 783.4h0M161 798.3h0M98.7 732.7h0M133.9 732.5h0M174.9 782.8h0M121.9 776.5h0M170.5 790.6h0M143.4 803.5h0M97.9 732.3h0" stroke="#75a6dc" stroke-width="1.1" stroke-linecap="round" fill="none"/>
<path d="M143.7 778.7h0M122.4 777.9h0M161.7 785h0M149.8 752.3h0M100.3 742.1h0M154.2 745.6h0M139.5 796.6h0M116.8 755.8h0M112 756.3h0M137.8 761.5h0M142.4 770h0M145.2 765.2h0M139.5 744.1h0M133.5 772.7h0M133.2 743.3h0M100.7 753.7h0M102.4 749.6h0M139.1 764.5h0M165.4 768.8h0M131.2 734.6h0M144.2 744.8h0M167.3 757h0M157.8 782.6h0M99.3 753.3h0M164.9 770.2h0M128 755.2h0M155.4 763.7h0M114.6 743.4h0M146.3 750.2h0M150.4 798.7h0M158.6 799.4h0M149.3 765.8h0M113.8 746.5h0M110.4 732.3h0M145.3 789.1h0M102.1 734.5h0M172.5 783.9h0M172.8 781h0M111.4 744.2h0M115.9 773.2h0M108.2 747.1h0M157.1 786.2h0M147.3 745.5h0M155.5 795.6h0M153.2 756h0M102.9 730.8h0M166 765.4h0M125.7 750.7h0M146.5 758.9h0M131 752.6h0M156.5 797.5h0M115.2 764.9h0M149.9 746.6h0M120.5 748.1h0M147.7 748.1h0M105 756.9h0M139.7 753.6h0M143.8 792.7h0M102.4 730.8h0M129.4 782.4h0M172.8 769.2h0M149.6 761.6h0M118.8 771.5h0M99 733.4h0M99 739.4h0M168.8 764.6h0M166.2 767.6h0M142.4 766.2h0M134.4 772.4h0M168.2 758.7h0M127.5 764.4h0M100.5 742.7h0M157.7 792.2h0M131.1 767.3h0M115.2 734.9h0M134.8 768.3h0M152.1 795h0M106.4 733.8h0M113.6 759h0M115.9 733.6h0M158.7 797.6h0M164.4 767.1h0M100.4 756.2h0M108.4 769.9h0M142.3 755.7h0M166.3 791.4h0M134.7 747h0M158.7 748.4h0M136.4 749.9h0M149.7 764.5h0M115.1 768.3h0M142.6 736.3h0M106 753h0M150.9 798.8h0M126.1 742h0M114.2 735.9h0M114.7 741.4h0M143.5 778.4h0M139.7 737.7h0M124.5 777.1h0M152.6 755h0M138.7 779.6h0M173 764.8h0M124.1 759.6h0M164 791.7h0M154 790.9h0M107.6 746.4h0M138.3 745.6h0M137.9 738.4h0M119.6 735.8h0M104.7 760.9h0M132.1 744.9h0M159.2 748.9h0M148.7 749.9h0M141 736.9h0M134.5 786.1h0M136.9 792.9h0M160.4 781.8h0M139.3 763.2h0M169.2 765.2h0M110.2 770.1h0M137.5 745.8h0M162.1 792.4h0M131.7 744h0M153.6 768h0M120 738.3h0M147.5 747.4h0M127.4 755.9h0M118.2 777.1h0M159 751.9h0M120.6 759.9h0M148.9 741.1h0M140.6 795.5h0M101 734.4h0M104.8 744.6h0M155.6 772.1h0M120.3 739.5h0M154.8 758.3h0M133.9 755.2h0M153.5 797.3h0M138.7 771.5h0M134.8 776.1h0M126 737.5h0M160.6 768.4h0M166.7 782.6h0M122.5 757.3h0M172.7 774.1h0M158.8 778.4h0M140.9 778.4h0M167.9 756.3h0M133.5 771.7h0M125.5 755.8h0M152.2 745h0M128.2 733h0M136.8 763h0M112.5 771.3h0M117.1 743.3h0M121.6 748.1h0M112.4 754.3h0M158.3 750.4h0M152.6 795.6h0M163.3 773.9h0M108.5 768.1h0M124.6 735.5h0M103.4 762.5h0M108.5 755.2h0M141.8 764.2h0M122.7 734.9h0M135.2 749.3h0M152.6 762h0" stroke="#ffffff" stroke-width="1" stroke-linecap="round" stroke-opacity="0.8" fill="none"/>
<path d="M75.9 766.9h0M91.3 781.8h0M77.3 763.8h0M81.1 768.1h0M74.6 765.7h0M106.3 778.4h0M105.8 775.8h0M85.4 763.5h0M93.2 767.9h0M86.6 767.2h0M86.3 760.3h0M78 761.5h0M107 779.6h0M68 764.3h0M98.6 771h0M72.5 773.2h0M88.5 779.8h0M101.4 785.1h0M81.9 766h0M90.3 769.5h0M72.1 757.4h0M79.4 766.8h0M67.7 762.9h0M91.7 781.5h0M75.4 767.7h0M66.3 759.3h0M101.5 769.9h0M93.3 772.1h0M73.8 758.8h0M110.8 773h0M103.9 775.5h0M71.3 765.4h0M79 756.9h0M89.1 768.5h0M105.2 777.3h0M106.9 775.7h0M91.3 781.4h0M99.1 782.5h0M109.3 775.2h0M84.5 773.6h0M83.5 770.9h0M106.3 785.6h0M76.6 769.6h0M92.9 776.8h0M103.2 780.2h0M110.4 774.5h0M71.5 768.5h0M104.1 772.2h0M98.5 773.5h0M98 777.4h0M93 778.2h0M70.1 771.6h0M69.6 764.6h0M105.6 781.6h0M68.3 764h0M110.4 771.4h0M105.4 777.4h0M98.4 778.5h0M103.7 773.6h0M69.8 769h0M110.4 777h0M79.5 770.3h0M87.5 774.7h0M64.9 764.1h0M89.2 771.9h0M98 777.7h0M104.5 770.1h0M78.2 766.5h0M87.1 778.4h0M78.4 758.1h0M109.2 781.4h0M83.5 764.5h0M98.4 769.9h0M90.6 777.8h0M82.2 774h0M85.3 771.8h0M82.2 779.3h0M109 783.5h0M106.1 773.5h0M70.1 755.6h0M89.1 778.2h0M68 770.5h0M101.6 772h0M103.1 784.6h0M101.8 776.2h0M103.8 772.8h0M100.9 775.1h0M105 770.9h0M108.2 776.6h0M76.1 762.2h0M107.8 772.1h0M93.1 773.8h0M102.5 783.4h0M88.6 763.4h0M65.4 763.6h0M106.6 779.3h0M88.8 779.3h0M110.3 784h0M99.3 771.4h0M100.7 773.3h0M75.4 761.4h0M96 770.7h0M66.8 762.2h0M97.5 768.1h0M91.6 771.6h0M78.1 761.8h0M74.5 754h0M107.2 770.5h0M103.8 776.4h0M68.6 754.6h0M89.7 778.2h0M68.1 761.7h0M65.8 765.3h0M88.7 775.7h0M71.8 755.8h0M71.4 753.8h0M90.5 776.9h0M85.8 763.3h0M71.6 774.8h0M101 780.7h0M91.6 770.5h0M103.4 773.3h0M77.4 765.3h0M63.8 755.9h0M86.1 767.8h0M73.8 765.9h0M84.2 769.5h0M80.5 765.9h0M88.1 777.3h0M78.6 775.2h0M68.5 765.2h0M85.4 761.8h0M101.7 775.8h0M82.8 778.5h0M91.4 778.4h0M108 773.1h0M108 771.5h0M77 766h0M95.7 784.8h0M86 766.4h0M74.7 762.8h0M109.3 783.7h0M84.9 764h0M91.4 767.2h0M91.2 770.9h0M85.7 761.9h0M98.1 774.6h0M73.2 757.3h0M74.7 775.4h0M70.4 756.3h0M86.9 766.3h0M83.9 777.3h0M88.3 771.6h0M106 785.6h0M83.4 760.9h0M104.6 783.8h0M104.4 778.1h0M75.3 775h0M73.3 763.9h0M74.3 776.6h0M66.4 763.4h0M94.5 779.6h0M98 776.4h0M108.7 772.5h0M72.2 768.3h0M107.1 782.7h0M109 779.7h0M84.3 773.9h0M67.5 767.6h0M76.2 755.4h0M68.5 766.6h0M92.2 781.5h0M100.9 770.8h0M91.6 776.9h0M85.9 778.5h0M73.3 771.4h0M72.1 761h0M97.6 783.5h0M97.7 769h0M67.6 763.8h0M105.3 774.8h0M78.4 770.7h0M100.1 774.2h0M70.2 766.8h0M78.1 769.6h0M98.1 784.7h0M82.8 759.8h0M102.9 783.3h0M97.1 780.5h0M69.7 761h0M71.7 766h0M75.8 773.8h0M90.3 773.7h0M111.5 780.9h0M64.5 759.1h0M69.4 758.4h0M84.5 767h0M72.8 770.1h0M77.9 778.1h0M85.3 762.3h0M80.2 777.8h0M77.5 770.9h0M89.6 772.2h0M102.8 780.2h0M112.3 779.9h0M103 775.2h0M68.6 761.8h0M107.3 786.6h0M70.8 755h0M109 785.4h0M97.8 772.4h0M75.1 765.1h0M84.4 777.4h0M109.9 778.2h0M91.4 774.3h0M94.9 774.8h0M99.4 769.5h0M63.5 761.4h0M66.4 766.6h0M78.2 767.8h0M77.1 758.6h0M87.4 767.7h0M100.2 770.1h0M86 762.8h0M71.8 756.5h0M109 782.3h0M76.2 763h0M74.9 763.5h0M76 761.1h0M80.4 772.4h0M103.1 777.5h0M75.6 771.8h0M91.7 775.7h0M108.4 775.3h0M63.8 757h0M97.9 770.6h0M68.5 754.1h0M95.2 784h0M101 775.4h0M82.6 770h0M111.7 772.8h0M80.9 766.3h0M80.6 763.1h0M83.1 758h0M76.7 755.6h0M105.4 780.3h0M82.1 759.3h0M77.9 760.7h0M71.9 768.7h0M68.5 772h0M94.6 783.2h0M97.5 784.4h0M80.3 762.2h0M70.5 754.1h0M99.3 772.6h0M86 767.4h0M107 784h0M68.6 755.5h0M75.9 773h0M70.9 772.7h0M80.7 756.1h0M83 774.3h0M101 776.4h0M83.7 761.3h0M102.3 784.1h0M100.6 783.1h0M73 770.3h0M96.6 781.7h0M77.3 762.5h0M82 760.4h0M67.3 755.4h0M66 765.7h0M73.9 767.5h0M89.5 779.2h0M92.6 772.3h0M104.7 780.6h0M71.9 761.3h0M72.4 757.5h0M63.7 760.7h0M74.1 753.4h0M74.2 775h0M81.2 758.4h0M74.3 757.3h0M93.5 782.8h0M111.1 776.5h0M75.5 765.2h0M86.1 779.6h0M103.5 770.6h0M72.5 775.4h0M89.9 779.4h0M74.3 757.7h0M99.3 783.9h0M92.6 771.5h0M76.6 771.3h0M85.3 760.5h0M83.3 764.6h0M74.1 767.5h0M105.8 775.5h0M99 783.9h0M91 768.5h0M77.4 774.6h0M71.1 772.7h0M108.8 780.2h0M106 772.7h0M87.1 763.1h0M83.4 765.2h0M70 759.6h0M96.6 778h0M83.4 775.6h0M90.5 766.4h0M90.5 774.5h0M109.2 778.6h0M97.9 776.3h0M97.5 784.9h0M76.5 755.8h0M110 780.2h0M94.7 774.4h0M81.5 770h0M100.9 784.7h0M112.1 780.9h0M107.8 772h0M92.2 769.4h0M112.3 780.7h0M93.3 768.8h0M78.3 775.6h0M67.5 767.6h0M97.2 778.3h0M90.1 773.5h0M91 774.1h0M100.5 781.9h0M70.5 755h0M90.4 773.4h0M70.8 755.2h0M94.3 779.5h0M108.8 784.2h0M80.9 761.5h0M76.5 772h0M92.8 772.4h0M81.7 758.2h0M75.7 761.9h0M77.4 772.2h0M91.5 773.7h0M78.1 773.1h0M97.5 770.6h0M85.7 775.9h0M71.6 765.7h0M92.6 772.6h0M64.5 758.7h0M97.9 784.2h0M97.1 771.1h0M90.7 775.8h0M79.1 767.4h0M82.4 776.7h0M72 766h0M104.3 784.2h0M82.3 766.2h0M79.3 766.1h0M85.4 779.9h0M81.3 778.4h0M102.3 779.6h0M74.9 774.7h0M96.4 784h0M81.2 774.5h0M76.8 766.6h0M113 781.8h0M113.1 777.7h0M97.1 768.8h0M78.8 769.3h0M84.3 769.8h0M65.3 766.8h0M69.8 759.7h0M82.8 762.2h0M87.7 769.8h0M94.1 778.4h0M95.2 767.6h0M79.4 758.3h0M102.2 772.8h0M81.7 777h0M77.5 774.5h0M77.8 768.9h0M79.5 768.4h0M111.7 771.4h0M75.8 773.7h0M65.5 766.6h0M103.8 774.5h0M105.9 786.2h0M75.6 777.8h0M67.8 767.3h0M91 777.2h0M88.7 775.3h0M74.2 770.7h0M76.9 776.2h0M69.1 771.4h0M69.8 763.8h0M83.7 764.2h0M89.7 763.2h0M97.4 772h0M88.7 779.5h0M104.3 770.7h0M103.4 771.2h0M89.1 772.8h0M107 785.9h0M74.1 771.1h0M79.3 766.2h0M74.3 755.8h0M80.2 776.8h0M75.8 772.4h0M110.1 774.3h0M91.5 776.7h0M73.8 756h0M80.8 765.9h0M66.5 766.1h0M68.1 768.2h0M76.8 761.3h0M100.1 776.5h0M73.4 775.2h0M107.8 778.7h0M92.3 765.9h0M79 761.6h0M65 755.7h0M90.4 774h0M74.5 777h0M99.5 784.8h0M110.3 779.8h0M84.5 764.8h0M100.1 777.5h0M101.9 783.8h0M86.3 778.3h0M108.8 774.1h0M89.8 772.6h0M69.6 754.6h0M93.3 775.8h0M90.6 780.8h0M100.6 781.8h0M100.2 778.8h0M100.6 777.8h0M65.7 766.3h0M78.7 772.5h0M64.3 756.9h0M83.9 762.1h0M75.2 768.2h0M92.3 780.9h0M66.4 757.3h0M83.8 774.9h0M67.9 762.2h0M100.6 779.1h0M85.7 780.4h0M92.5 772h0M89.1 772.4h0M79.7 759.2h0M111.3 777.2h0M73.8 773.3h0M89.3 778.7h0M105.7 781.3h0M83.1 767h0M102.8 774.7h0M75.5 757.7h0M95.6 781h0M80 777.1h0M72.1 763.3h0M98.5 785.2h0M87.1 771.3h0M103.6 774.3h0M111.1 775.3h0M76.3 765.4h0M79.6 766.6h0M109.1 775.3h0M67.5 768.3h0M108.6 778.8h0M76.6 756.6h0M97.2 784h0M110 775.1h0M81.6 772.1h0M72.4 768.1h0M74.9 760.5h0M106.3 784.6h0M79.1 775h0M83.8 764.8h0M75 763.7h0M67.7 770h0M84.9 769.8h0M88.2 780.9h0M79.7 763.5h0M103.8 772.6h0M68.1 760.4h0M100.5 780.9h0M83.9 758.7h0M71 764h0M83.9 763.5h0M80.1 769.2h0M72 760.9h0M112.4 774.6h0M79.2 761.6h0M78.5 774.2h0M73.5 775.2h0M69.3 769.7h0M93.4 779.6h0M102.8 771.9h0M93.4 770.5h0M83.6 771.9h0M81.3 759.2h0M93.5 771.4h0M88.2 779.5h0M77.2 770.4h0M85.7 780.6h0M97.8 780.9h0M96.6 778.1h0M73.4 760.4h0M93.5 784.2h0M79.5 765.1h0M74 760.4h0M84.6 779.8h0M71.8 761.5h0M68.2 769.4h0M69.2 754.4h0M89 772.6h0M63.8 756h0M99.8 784.9h0M70.6 763.5h0M79.2 758.4h0M80.2 766.4h0M79.5 760h0M77.6 774.9h0M86.4 778.3h0M77.9 762.5h0M107.1 772.1h0M103.9 785.5h0M102.3 773.4h0M90.5 780.1h0M82.3 759.6h0M85.8 769.8h0M85 773.8h0M64.1 761.3h0M110.7 777h0M101.4 772.5h0M109.4 779.3h0M84 775.3h0M81.5 761.9h0M78.8 773.3h0M100.5 780h0M64.4 764h0M109.3 780.2h0M72.4 768.3h0M110.9 780h0M77.5 769.6h0M108.7 770.8h0M68.2 766.9h0M83.6 777.6h0M113.3 777.8h0M88.7 776.9h0M105.8 784.1h0M102.3 780.3h0M112.3 773.9h0M67.7 770.4h0M77.3 758.9h0M77.7 776.7h0M65.7 765.5h0M112.4 771.5h0M96.8 774.1h0M82.5 773.9h0M68.9 760.1h0M80.7 768.3h0M92.7 776.2h0M100.5 769h0M88.6 769.4h0M96.7 777.1h0M74.4 765.1h0M80.6 762.9h0M103.1 785.7h0M77.9 764.3h0M96.6 779.2h0M105.9 773.8h0M67.3 762.3h0M97.9 782.2h0M101.2 773.9h0M71.7 771.8h0M90.8 780.8h0M91.4 782.8h0M66.2 764.3h0M71.5 754.8h0M97 785.4h0M70.6 766.1h0M65.5 759.9h0M88.4 779.1h0M110.7 774.4h0M97.7 772.1h0M102.3 776.3h0M94.5 769.7h0M99.5 777.3h0M103.2 779.4h0M76.4 767h0M74.1 765.1h0M88.7 776.6h0M86.4 761.1h0M97.4 772.4h0M96.6 768.8h0M104.8 780h0M85.4 771.2h0M82.1 761.7h0M97.4 780.5h0M106.8 778.1h0M82.5 776.8h0M87.1 768h0M74.3 767.8h0M111.6 779.4h0M76.3 756.7h0M72.3 759.6h0M67.3 766.8h0M90.5 770.7h0M82.8 773.3h0M111.8 779.5h0M82.6 778.5h0M91.8 777.9h0M77.6 771.8h0M90.5 768.8h0M100.4 775.3h0M80.9 779.4h0M79.1 772.8h0M76.4 769.7h0M79.7 774.1h0M91.6 769.9h0M111.3 778.3h0M72.2 766.2h0M84.7 762.8h0M109.9 774.5h0M84.2 771h0M95.9 782.4h0M114.4 780.3h0M95.2 775.8h0M78.2 777.8h0M106.2 777.5h0M74 763.1h0M67.4 758.8h0M74.6 777.5h0M95.1 777.7h0M70.9 764.5h0M66.9 758.2h0M108.7 774.4h0M112.6 781.1h0M105.3 774.8h0M79 774.1h0M81.6 773.2h0M84.3 762.8h0M90.1 767.1h0M76.7 762.8h0M96.9 772h0M67.1 759.9h0M86.1 759.7h0M75.2 770.1h0M66.9 766.4h0M75.2 753.4h0M108.2 769.6h0M63.6 756.1h0M63.9 768.5h0M82.4 783.2h0M91.9 767.2h0M82.2 756.9h0M114.8 774.5h0M103.1 787.1h0M113.9 776.9h0M63.4 756.5h0M114.1 773.8h0M101.5 784.1h0M112.8 783.5h0M112.2 770.4h0M110.8 784.2h0M90.3 768h0M64.1 763.2h0M78.7 780.6h0M107.6 790.4h0M72.4 751.6h0M67.1 773.8h0M85.6 781.6h0M92.3 782.2h0M98.1 768.5h0M111.7 781.1h0M82.7 781.3h0M111.6 767.4h0M65.7 759.5h0M100.1 767.6h0M65.1 767.4h0M64.4 758.9h0M82.4 780.5h0M65.5 762.8h0M91.1 761.5h0M99.1 784.1h0M69.4 771.9h0M97.8 768.4h0M62 761.2h0M71.1 778.6h0M110.9 785.5h0M102.6 784.8h0M62.7 759.7h0M97.2 784.3h0M74.2 754.8h0M68.2 768h0M69.1 771.7h0M111.2 771.1h0M64 761.9h0M107.2 785.6h0M102.3 771h0M86.6 782.2h0M85.8 758.5h0M81 779.3h0M108.8 770.8h0M69.6 753.5h0M90.2 783.6h0M65.4 766.8h0M77.7 780.3h0M86.6 759.8h0M63.7 756.2h0M114.8 775.9h0M76.5 778.5h0M76.5 778.9h0M108.3 787h0M61.9 764.4h0M91 763.2h0M66.3 753.6h0M106.5 783.9h0M94.5 786.8h0M68.3 769.3h0M115.5 778.4h0M91.2 781.8h0M114 777.8h0M69.8 754.2h0M108.8 772.2h0M65.3 770.6h0M105.6 788.4h0M90.9 765.8h0M109.3 785.5h0M65.1 755.3h0M79.8 777.7h0M100.8 767.5h0M91.6 764.3h0M80.4 779h0M92.3 785h0M60.8 756h0M111 785.4h0M90.2 763.1h0M63.7 759h0M95 782h0M104.4 768.3h0M79.8 779.3h0M67.4 757.2h0M109 784.3h0M61.4 761.1h0M68.2 772h0M85.2 779.6h0M86.6 781.8h0M73.7 752.8h0M76.7 780.2h0M102.3 769.5h0M85.9 781.7h0M113 772.7h0M100.1 769.8h0M68.5 753.2h0M67.1 775.3h0M66.3 774.3h0M114 781.9h0M66.2 772.8h0M103.6 769.3h0M67.9 771.5h0M81.5 759.5h0M63 767.2h0M70.8 770.3h0M63.6 768.9h0M70 755.8h0M92.1 763.2h0M63.5 754.3h0M89.7 766.2h0M61.9 763.4h0M77.1 781h0M94.9 785.8h0M104.5 765.9h0M92.2 784.3h0M96.6 769.5h0M76.6 754.3h0M78.7 781.7h0M61.2 754.6h0M114.3 775.9h0M89.3 758.5h0M98.6 784.6h0M110.2 769.1h0M90.7 766.7h0M70.9 751.5h0M64.3 760.2h0M59.2 765.9h0M72.3 749.7h0M71.1 752.7h0M70.7 751.8h0M70.1 773.2h0M64.2 760.5h0M64 767.5h0M108.5 768.5h0M86.9 778.3h0M114.3 773h0M110.3 770h0M99.8 767.9h0M107.7 786.4h0M68.1 754.1h0M68.6 774.5h0M98.4 766.3h0M93.9 767.2h0M95.5 784.4h0M59.8 759.1h0M62.2 757.2h0M88 780h0M68.6 772.1h0M118.3 778.9h0M107.8 768.1h0M109.4 769.4h0M66 768.2h0M66.7 754.8h0M102.8 783.7h0M68 753.4h0M96.9 787h0M112.6 782.6h0M63.3 756h0M69.5 775.3h0M109.2 783.9h0M98 786h0M85 780.7h0M90.3 766.7h0M94.9 767.7h0M66.6 768.4h0M91.4 762.7h0M102.8 771.3h0M83.1 759.2h0M104.5 771.8h0M98.5 768.5h0M113.5 777.6h0M62.6 765.9h0M66.9 752.8h0M62.5 761.1h0M63.8 764.7h0M101.3 768.2h0M87.5 759.5h0M96.6 768.7h0M78.3 757.5h0M110.8 771.7h0M114.3 779.5h0M111.3 782.4h0M109.3 774.8h0M113.4 774h0M88.9 781.6h0M96.9 766.1h0M111.4 781.7h0M112.4 784.1h0M69.8 778.8h0M98.9 785.1h0" stroke="#9d92c8" stroke-width="1.1" stroke-linecap="round" fill="none"/>
<path d="M101.6 776.6h0M94.8 768h0M79.7 778.3h0M111.5 775.7h0M67.7 761.7h0M91.2 767.4h0M111.6 782.1h0M79.2 773.1h0M75.2 767.4h0M94.8 782.8h0M106.1 777.5h0M101.9 781.7h0M102.5 781.4h0M111.6 777.5h0M86.7 763.5h0M73.2 771.4h0M90 770.3h0M83.8 759.9h0M110.5 774.6h0M84.7 778.7h0M104.5 778.7h0M85.4 759.4h0M76.4 759.3h0M100.8 784.5h0M90.3 765.1h0M89.4 766.1h0M64.5 763.9h0M64.2 762.4h0M106.2 771.5h0M95.7 785h0M71.8 754.9h0M76.6 763.4h0M97.3 783.7h0M104.4 783.3h0M80.1 779.3h0M71.2 759.3h0M69.9 766.6h0M75.5 760.2h0M90 781.1h0M105.1 781.4h0M87.2 778.7h0M74.1 758.7h0M92 778.2h0M74.2 754.7h0M86.6 764.8h0M96 785.1h0M86.7 762.1h0M84.2 776.9h0M108.8 781.4h0M80.3 765.1h0M72.6 774.1h0M70.1 756.2h0M79 763.4h0M92.1 769.5h0M69 771.9h0M73.6 756.5h0M92.8 768.4h0M71.6 761.2h0M94.2 774.6h0M78.4 774.1h0M100.8 779.8h0M82.1 779.5h0M103.9 785h0M73.4 763.7h0M73.1 766.8h0M85.6 772.6h0M72.6 774.5h0M92.2 771.3h0M76.8 771.4h0M73.6 761.1h0M82.1 775.6h0M74.1 777.4h0M107.9 784.2h0M72.2 770h0M75.9 764.5h0M101.3 771.8h0M82.4 762.6h0M90.1 772.4h0M101.4 784.3h0M91.4 768.1h0M85 773.3h0M71 753.9h0M76.9 776.2h0M100.6 771.7h0M84.7 776.6h0M95.8 781.5h0M105.9 774.1h0M76.1 774h0M92.3 778.7h0M89.1 772.6h0M90.1 771.2h0M65.4 755h0M96.7 775.5h0M100.3 782.4h0M84.2 770.2h0M78.8 762.2h0M70.5 761.3h0M66.2 758.1h0M82.4 773.6h0M84.2 766.4h0M105.3 781.6h0M85.6 762.9h0M71.5 765.8h0M97.3 774.6h0M98.1 781.4h0M107.1 777.9h0M96.8 775h0M100.3 774.3h0M85.6 765.9h0M105.8 772.4h0M64.2 764.7h0M108.9 780.5h0M67.1 769.8h0M80.1 756.7h0M70.1 757.5h0M102.4 782.9h0M104.5 785.9h0M83.7 768.2h0M82.5 779.2h0M109.7 774h0M80.1 758.1h0M103.6 775.3h0M103.9 780.1h0M87.5 764.6h0M65.8 761.7h0M71.6 757.6h0M75.8 764.5h0M94.1 776.1h0M82.9 774.2h0M108.7 777.9h0M72.5 756.4h0M77.6 776.7h0M75.3 763.7h0M106.5 779.9h0M82.7 764.2h0M75.4 765.6h0M87.3 777.3h0M100 770h0M70.9 753.8h0M64.5 763h0M84.6 766.1h0M83.5 758.9h0M71.6 757.2h0M74.2 767.7h0M101.1 784.2h0M99.2 773.6h0M73.9 762.1h0M73.4 757.7h0M72.2 772.5h0M104 778.2h0M107.2 773.2h0M89.4 770.7h0M106 774.9h0M103.6 784.6h0M100.9 769.8h0M97.2 781.4h0M103.7 776.4h0M76.3 765.7h0M87.9 764.6h0M71.7 760.4h0M85.4 777.1h0M109.3 779.6h0M89.1 763.9h0M82.2 768.3h0M74.1 764.3h0M84.9 767.3h0M81.6 761h0M70.9 758.3h0M83.6 777.8h0M79.3 757.1h0" stroke="#ffffff" stroke-width="1" stroke-linecap="round" stroke-opacity="0.8" fill="none"/>
<path d="M93.9 700.5h0M91.2 699h0M91.5 689.5h0M99.9 689.1h0M95.2 695h0M95.7 690.6h0M90.4 697.2h0M91.5 689.3h0M90.9 692.8h0M91.6 689.1h0M94.3 695.7h0M98.8 698.3h0M90.3 694.3h0M96.3 694.3h0M96.7 699.6h0M97.8 700.1h0M93.4 700.5h0M95.4 690.3h0M97.3 690.3h0M94.6 689.1h0M94.3 701h0M93.7 690.6h0M97.3 697.5h0M98 698.9h0M95.8 702.4h0M90.3 697.5h0M94.7 698.4h0M97.9 697.7h0M95 701h0M98.5 701.1h0M96.2 693h0M87.2 691.8h0M91.5 700.7h0M97.7 697.3h0M88 692.2h0M87.7 698.7h0M96.2 690.2h0M93.5 695.6h0M94.4 695.1h0M93.3 689.9h0M93 699.1h0M90.6 689.5h0M91.1 700.3h0M88.2 694.8h0M89.5 690.2h0M94.8 696.1h0M88 700.8h0M94.3 694.1h0M94.6 689.3h0M96.1 695.3h0M95.6 696.6h0M87.8 695.4h0M90.9 691.2h0M87.2 690.7h0M98.2 694.5h0M94.6 690.6h0M99.8 694.8h0M94.5 692.4h0M91.9 696.9h0M98.1 692.1h0M98.3 698.6h0M91 700.6h0M89.6 692.4h0M92.4 699.6h0M91 690.3h0M88.5 695.9h0M93.7 693.8h0M89.3 697.5h0M92 697.1h0M94 694.5h0M98.4 714.5h0M95.1 716h0M101 709.6h0M99.1 704.8h0M100.4 704.2h0M94.8 711.1h0M92.5 708.3h0M97.7 715.4h0M97.9 711.9h0M96.4 708.1h0M101.7 713.5h0M100 714.3h0M92.4 708.7h0M96.1 714.7h0M98.5 708.2h0M92.4 704.8h0M99.8 711.9h0M94.4 705.8h0M98.8 703.3h0M96.5 714.2h0M95.4 715.8h0M100.7 705.3h0M99.2 711.6h0M100.2 715.9h0M94.1 708.7h0M97.1 712.1h0M99.7 707.9h0M100.7 715.1h0M94.7 705.1h0M97.2 711.8h0M101.1 706.4h0M96.3 709.3h0M97.6 708h0M98.7 710.5h0M97.9 714.6h0M95.2 713.5h0M101.3 707.1h0M101.9 710.5h0M99.6 707.3h0M97.5 705.3h0M100.5 705.1h0M96 704.4h0M98.3 711.5h0M99.2 704.7h0M96 703.6h0M94.2 708.9h0M96.6 710.7h0M97.9 711.9h0M96.4 703.3h0M93 707.2h0M106.7 718.3h0M103.3 725.7h0M98.8 719h0M105.1 731.7h0M100.6 714.8h0M96.1 715.6h0M99.3 729.6h0M97.4 730.8h0M102.8 728.6h0M105.3 724.8h0M105.1 731.8h0M100.3 718.9h0M96.6 727.1h0M106.3 725.4h0M107 728.8h0M97.1 719.7h0M103.6 722.9h0M103.1 716.9h0M107 722.6h0M96.3 716.3h0M96.4 729.2h0M96 714.9h0M105.3 727h0M106.8 721.3h0M101.6 720.8h0M107.2 723h0M99 734.6h0M101.4 725.3h0M101.5 717h0M106.2 716.5h0M107.3 716h0M101.4 715h0M106.3 715.5h0M101.9 720.3h0M106.7 729.2h0M106 719.1h0M101.2 720h0M99.8 727.9h0M102.3 714.2h0M100.6 717h0M105.5 730.1h0M104.4 724.2h0M97 724h0M100.4 734.9h0M101.8 732.7h0M84.9 708.3h0M95.7 707h0M87.2 709.7h0M93.2 705.7h0M91.2 709.7h0M87.5 710.6h0M94.1 707.8h0M94.7 711.7h0M88.5 711h0M90.4 708.9h0M84.1 705.1h0M93.7 706.7h0M85.4 711.4h0M84.9 709.4h0M86.6 705h0M86.4 708.5h0M95.7 707.9h0M89.1 707.6h0M94.2 711.2h0M92.9 705.2h0M92.3 705.3h0M93.3 706h0M87.4 706.2h0M93 710.5h0M89.9 707.4h0M155.9 735.3h0M157.7 737.6h0M150.2 741.5h0M151.4 742.2h0M153.1 738.9h0M158.1 731.2h0M150.4 740.1h0M153.4 733h0M157.1 738.7h0M161.7 741.9h0M154 732.3h0M150.8 738.6h0M152.2 731.1h0M151.8 736.4h0M157.2 734.3h0M153.5 731.2h0M156.7 735.3h0M152.8 738.9h0M152.1 732.5h0M154.3 738.9h0M161 733.3h0M155.8 737.9h0M153.4 742.5h0M159.7 732.6h0M161.5 743.1h0M135.3 725.6h0M106.6 714.3h0M130.7 718.1h0M107.5 724.8h0M137.9 722.1h0M127.6 720.9h0M103.5 715.9h0M119.1 728.4h0M104.9 716.9h0M117.8 726.5h0M135.3 715.1h0M126.2 730.3h0M124.7 726.1h0M108.8 723.2h0M117.1 713.1h0M118.2 713.2h0M133.8 717h0M122.4 717.6h0M125.3 719h0M126.3 728.6h0M111.9 730.9h0M112.1 727.2h0M107.3 717.9h0M134.8 731.1h0M104.4 712.6h0M139.1 721.7h0M113.5 724h0M113.7 715.1h0M119.6 719.1h0M116.3 719.9h0M139.8 722.8h0M137 716.5h0M118.9 731.7h0M120.1 724.1h0M111.3 714.2h0M114.8 716.4h0M133.6 730.4h0M120.3 720.6h0M124.4 716.1h0M109.5 723.6h0" stroke="#75a6dc" stroke-width="1" stroke-linecap="round" fill="none"/>
<line x1="40.3" y1="652" x2="40.3" y2="813.2" stroke="#2a2a2a" stroke-width="0.8"/>
<line x1="40.3" y1="813.2" x2="196.4" y2="813.2" stroke="#2a2a2a" stroke-width="0.8"/>
<line x1="38.9" y1="654.7" x2="40.3" y2="654.7" stroke="#333" stroke-width="0.5"/>
<text x="36.4" y="657.26" font-size="7.2" text-anchor="end" fill="#333">5.0</text>
<line x1="38.9" y1="692" x2="40.3" y2="692" stroke="#333" stroke-width="0.5"/>
<text x="36.4" y="694.56" font-size="7.2" text-anchor="end" fill="#333">2.5</text>
<line x1="38.9" y1="729.2" x2="40.3" y2="729.2" stroke="#333" stroke-width="0.5"/>
<text x="36.4" y="731.76" font-size="7.2" text-anchor="end" fill="#333">0.0</text>
<line x1="38.9" y1="766.3" x2="40.3" y2="766.3" stroke="#333" stroke-width="0.5"/>
<text x="36.4" y="768.86" font-size="7.2" text-anchor="end" fill="#333">−2.5</text>
<line x1="38.9" y1="803.4" x2="40.3" y2="803.4" stroke="#333" stroke-width="0.5"/>
<text x="36.4" y="805.96" font-size="7.2" text-anchor="end" fill="#333">−5.0</text>
<line x1="77.2" y1="813.2" x2="77.2" y2="814.6" stroke="#333" stroke-width="0.5"/>
<text x="77.2" y="824.76" font-size="7.2" text-anchor="middle" fill="#333">−4</text>
<line x1="119.2" y1="813.2" x2="119.2" y2="814.6" stroke="#333" stroke-width="0.5"/>
<text x="119.2" y="824.76" font-size="7.2" text-anchor="middle" fill="#333">0</text>
<line x1="161.2" y1="813.2" x2="161.2" y2="814.6" stroke="#333" stroke-width="0.5"/>
<text x="161.2" y="824.76" font-size="7.2" text-anchor="middle" fill="#333">4</text>
<text x="119.2" y="833.16" font-size="7.2" text-anchor="middle" fill="#333">UMAP_1</text>
<text transform="translate(14.3 742.6) rotate(-90)" x="0" y="2.56" font-size="7.2" text-anchor="middle" fill="#333">UMAP_2</text>
<circle cx="213.9" cy="709.3" r="3.0" fill="#75a6dc"/>
<text x="220" y="711.86" font-size="7.2" fill="#222">Macro−C1</text>
<circle cx="213.9" cy="722.08" r="3.0" fill="#e2917a"/>
<text x="220" y="724.64" font-size="7.2" fill="#222">Macro−C2</text>
<circle cx="213.9" cy="734.86" r="3.0" fill="#8db896"/>
<text x="220" y="737.42" font-size="7.2" fill="#222">Macro−C3</text>
<circle cx="213.9" cy="747.64" r="3.0" fill="#f4b68e"/>
<text x="220" y="750.2" font-size="7.2" fill="#222">Macro−C4</text>
<circle cx="213.9" cy="760.42" r="3.0" fill="#9d92c8"/>
<text x="220" y="762.98" font-size="7.2" fill="#222">Macro−C5</text>
<text x="285.4" y="633.59" font-size="13.5" font-weight="bold" fill="#000">j</text>
<path d="M325.5 699.3C325.8 699.26 327.1 699.36 327.3 699.04C327.5 698.72 326.9 698.19 326.7 697.38C326.5 696.57 326.17 695.79 326.1 694.19C326.03 692.59 325.98 689.72 326.3 687.8C326.62 685.88 327.22 684.39 328 682.69C328.78 680.98 329.83 679.28 331 677.57C332.17 675.87 333.75 674.17 335 672.46C336.25 670.76 337.75 668.73 338.5 667.35C339.25 665.97 339.58 665.22 339.5 664.15C339.42 663.09 338.83 662.13 338 660.96C337.17 659.79 335.83 658.4 334.5 657.13C333.17 655.85 331.25 654.36 330 653.29C328.75 652.23 327.63 651.59 327 650.74C326.37 649.88 326.45 649.24 326.2 648.18C325.95 647.12 325.73 644.35 325.5 644.35C325.27 644.35 325.05 647.12 324.8 648.18C324.55 649.24 324.63 649.88 324 650.74C323.37 651.59 322.25 652.23 321 653.29C319.75 654.36 317.83 655.85 316.5 657.13C315.17 658.4 313.83 659.79 313 660.96C312.17 662.13 311.58 663.09 311.5 664.15C311.42 665.22 311.75 665.97 312.5 667.35C313.25 668.73 314.75 670.76 316 672.46C317.25 674.17 318.83 675.87 320 677.57C321.17 679.28 322.22 680.98 323 682.69C323.78 684.39 324.38 685.88 324.7 687.8C325.02 689.72 324.97 692.59 324.9 694.19C324.83 695.79 324.5 696.57 324.3 697.38C324.1 698.19 323.5 698.72 323.7 699.04C323.9 699.36 325.2 699.26 325.5 699.3Z" fill="#6fa4d9" stroke="#3a3a3a" stroke-width="0.5" stroke-linejoin="round"/>
<path d="M357.1 699.3C359.43 699.26 369.43 699.26 371.1 699.04C372.77 698.83 368.77 698.51 367.1 698.02C365.43 697.53 362.6 696.85 361.1 696.1C359.6 695.36 358.63 694.29 358.1 693.55C357.57 692.8 357.48 692.38 357.9 691.63C358.32 690.89 359.4 690.14 360.6 689.08C361.8 688.01 363.6 686.73 365.1 685.24C366.6 683.75 368.55 681.83 369.6 680.13C370.65 678.43 371.48 676.72 371.4 675.02C371.32 673.31 370.23 671.61 369.1 669.91C367.97 668.2 365.93 666.28 364.6 664.79C363.27 663.3 362.15 662.24 361.1 660.96C360.05 659.68 358.97 658.4 358.3 657.13C357.63 655.85 357.5 653.29 357.1 653.29C356.7 653.29 356.57 655.85 355.9 657.13C355.23 658.4 354.15 659.68 353.1 660.96C352.05 662.24 350.93 663.3 349.6 664.79C348.27 666.28 346.23 668.2 345.1 669.91C343.97 671.61 342.88 673.31 342.8 675.02C342.72 676.72 343.55 678.43 344.6 680.13C345.65 681.83 347.6 683.75 349.1 685.24C350.6 686.73 352.4 688.01 353.6 689.08C354.8 690.14 355.88 690.89 356.3 691.63C356.72 692.38 356.63 692.8 356.1 693.55C355.57 694.29 354.6 695.36 353.1 696.1C351.6 696.85 348.77 697.53 347.1 698.02C345.43 698.51 341.43 698.83 343.1 699.04C344.77 699.26 354.77 699.26 357.1 699.3Z" fill="#e08c74" stroke="#3a3a3a" stroke-width="0.5" stroke-linejoin="round"/>
<path d="M388.7 699.3C391.02 699.26 401.1 699.36 402.6 699.04C404.1 698.72 399.35 698.09 397.7 697.38C396.05 696.68 394 695.79 392.7 694.83C391.4 693.87 390.43 692.7 389.9 691.63C389.37 690.57 389.28 689.5 389.5 688.44C389.72 687.37 390.25 686.84 391.2 685.24C392.15 683.64 394.03 680.98 395.2 678.85C396.37 676.72 397.47 674.8 398.2 672.46C398.93 670.12 399.68 666.92 399.6 664.79C399.52 662.66 398.6 661.6 397.7 659.68C396.8 657.76 395.28 655.21 394.2 653.29C393.12 651.37 391.98 649.67 391.2 648.18C390.42 646.69 389.92 645.33 389.5 644.35C389.08 643.37 388.97 642.3 388.7 642.3C388.43 642.3 388.32 643.37 387.9 644.35C387.48 645.33 386.98 646.69 386.2 648.18C385.42 649.67 384.28 651.37 383.2 653.29C382.12 655.21 380.6 657.76 379.7 659.68C378.8 661.6 377.88 662.66 377.8 664.79C377.72 666.92 378.47 670.12 379.2 672.46C379.93 674.8 381.03 676.72 382.2 678.85C383.37 680.98 385.25 683.64 386.2 685.24C387.15 686.84 387.68 687.37 387.9 688.44C388.12 689.5 388.03 690.57 387.5 691.63C386.97 692.7 386 693.87 384.7 694.83C383.4 695.79 381.35 696.68 379.7 697.38C378.05 698.09 373.3 698.72 374.8 699.04C376.3 699.36 386.38 699.26 388.7 699.3Z" fill="#86b595" stroke="#3a3a3a" stroke-width="0.5" stroke-linejoin="round"/>
<path d="M420.3 699.3C422.1 699.26 429.93 699.36 431.1 699.04C432.27 698.72 428.6 698.09 427.3 697.38C426 696.68 424.3 695.79 423.3 694.83C422.3 693.87 421.67 692.46 421.3 691.63C420.93 690.8 420.77 690.69 421.1 689.84C421.43 688.99 422.18 687.93 423.3 686.52C424.42 685.11 426.22 683.54 427.8 681.41C429.38 679.28 431.63 676.21 432.8 673.74C433.97 671.27 434.8 668.71 434.8 666.58C434.8 664.45 433.88 662.75 432.8 660.96C431.72 659.17 429.8 657.34 428.3 655.85C426.8 654.36 424.97 653.08 423.8 652.01C422.63 650.95 421.88 650.46 421.3 649.46C420.72 648.46 420.63 646.01 420.3 646.01C419.97 646.01 419.88 648.46 419.3 649.46C418.72 650.46 417.97 650.95 416.8 652.01C415.63 653.08 413.8 654.36 412.3 655.85C410.8 657.34 408.88 659.17 407.8 660.96C406.72 662.75 405.8 664.45 405.8 666.58C405.8 668.71 406.63 671.27 407.8 673.74C408.97 676.21 411.22 679.28 412.8 681.41C414.38 683.54 416.18 685.11 417.3 686.52C418.42 687.93 419.17 688.99 419.5 689.84C419.83 690.69 419.67 690.8 419.3 691.63C418.93 692.46 418.3 693.87 417.3 694.83C416.3 695.79 414.6 696.68 413.3 697.38C412 698.09 408.33 698.72 409.5 699.04C410.67 699.36 418.5 699.26 420.3 699.3Z" fill="#f4b386" stroke="#3a3a3a" stroke-width="0.5" stroke-linejoin="round"/>
<path d="M451.9 699.3C453.33 699.26 459.58 699.36 460.5 699.04C461.42 698.72 458.42 698.09 457.4 697.38C456.38 696.68 455.18 695.83 454.4 694.83C453.62 693.83 452.7 692.55 452.7 691.38C452.7 690.2 453.28 689.46 454.4 687.8C455.52 686.14 457.82 683.54 459.4 681.41C460.98 679.28 462.73 677.15 463.9 675.02C465.07 672.89 466.32 670.54 466.4 668.63C466.48 666.71 465.48 665.22 464.4 663.52C463.32 661.81 461.32 659.89 459.9 658.4C458.48 656.91 456.98 655.63 455.9 654.57C454.82 653.5 454.07 652.93 453.4 652.01C452.73 651.1 452.4 649.07 451.9 649.07C451.4 649.07 451.07 651.1 450.4 652.01C449.73 652.93 448.98 653.5 447.9 654.57C446.82 655.63 445.32 656.91 443.9 658.4C442.48 659.89 440.48 661.81 439.4 663.52C438.32 665.22 437.32 666.71 437.4 668.63C437.48 670.54 438.73 672.89 439.9 675.02C441.07 677.15 442.82 679.28 444.4 681.41C445.98 683.54 448.28 686.14 449.4 687.8C450.52 689.46 451.1 690.2 451.1 691.38C451.1 692.55 450.18 693.83 449.4 694.83C448.62 695.83 447.42 696.68 446.4 697.38C445.38 698.09 442.38 698.72 443.3 699.04C444.22 699.36 450.47 699.26 451.9 699.3Z" fill="#9891c4" stroke="#3a3a3a" stroke-width="0.5" stroke-linejoin="round"/>
<line x1="306.6" y1="639.6" x2="306.6" y2="701.9" stroke="#2a2a2a" stroke-width="0.75"/>
<line x1="306.6" y1="701.9" x2="471.6" y2="701.9" stroke="#2a2a2a" stroke-width="0.75"/>
<line x1="305.3" y1="699.3" x2="306.6" y2="699.3" stroke="#333" stroke-width="0.45"/>
<text x="303.8" y="701.86" font-size="7.2" text-anchor="end" fill="#333">0</text>
<line x1="305.3" y1="686.52" x2="306.6" y2="686.52" stroke="#333" stroke-width="0.45"/>
<text x="303.8" y="689.08" font-size="7.2" text-anchor="end" fill="#333">1</text>
<line x1="305.3" y1="673.74" x2="306.6" y2="673.74" stroke="#333" stroke-width="0.45"/>
<text x="303.8" y="676.3" font-size="7.2" text-anchor="end" fill="#333">2</text>
<line x1="305.3" y1="660.96" x2="306.6" y2="660.96" stroke="#333" stroke-width="0.45"/>
<text x="303.8" y="663.52" font-size="7.2" text-anchor="end" fill="#333">3</text>
<line x1="305.3" y1="648.18" x2="306.6" y2="648.18" stroke="#333" stroke-width="0.45"/>
<text x="303.8" y="650.74" font-size="7.2" text-anchor="end" fill="#333">4</text>
<line x1="325.5" y1="701.9" x2="325.5" y2="703.2" stroke="#333" stroke-width="0.45"/>
<text transform="translate(327.7 708.8) rotate(-45)" x="0" y="2.63" font-size="7.4" text-anchor="end" fill="#222">Macro−C1</text>
<line x1="357.1" y1="701.9" x2="357.1" y2="703.2" stroke="#333" stroke-width="0.45"/>
<text transform="translate(359.3 708.8) rotate(-45)" x="0" y="2.63" font-size="7.4" text-anchor="end" fill="#222">Macro−C2</text>
<line x1="388.7" y1="701.9" x2="388.7" y2="703.2" stroke="#333" stroke-width="0.45"/>
<text transform="translate(390.9 708.8) rotate(-45)" x="0" y="2.63" font-size="7.4" text-anchor="end" fill="#222">Macro−C3</text>
<line x1="420.3" y1="701.9" x2="420.3" y2="703.2" stroke="#333" stroke-width="0.45"/>
<text transform="translate(422.5 708.8) rotate(-45)" x="0" y="2.63" font-size="7.4" text-anchor="end" fill="#222">Macro−C4</text>
<line x1="451.9" y1="701.9" x2="451.9" y2="703.2" stroke="#333" stroke-width="0.45"/>
<text transform="translate(454.1 708.8) rotate(-45)" x="0" y="2.63" font-size="7.4" text-anchor="end" fill="#222">Macro−C5</text>
<text x="384.5" y="636.56" font-size="7.2" text-anchor="middle" fill="#222">CD68</text>
<text transform="translate(289.2 670.8) rotate(-90)" x="0" y="2.56" font-size="7.2" text-anchor="middle" fill="#222">Expression level</text>
<path d="M521.8 699.3C524.12 699.26 534.37 699.36 535.7 699.04C537.03 698.72 531.37 698.09 529.8 697.38C528.23 696.68 527.03 695.57 526.3 694.83C525.57 694.08 525.4 693.66 525.4 692.91C525.4 692.16 525.8 691.42 526.3 690.35C526.8 689.29 527.77 688.22 528.4 686.52C529.03 684.82 529.73 682.26 530.1 680.13C530.47 678 530.68 675.87 530.6 673.74C530.52 671.61 530.1 669.27 529.6 667.35C529.1 665.43 528.32 663.73 527.6 662.24C526.88 660.75 526.07 659.68 525.3 658.4C524.53 657.13 523.5 655.53 523 654.57C522.5 653.61 522.5 653.48 522.3 652.65C522.1 651.82 521.97 649.59 521.8 649.59C521.63 649.59 521.5 651.82 521.3 652.65C521.1 653.48 521.1 653.61 520.6 654.57C520.1 655.53 519.07 657.13 518.3 658.4C517.53 659.68 516.72 660.75 516 662.24C515.28 663.73 514.5 665.43 514 667.35C513.5 669.27 513.08 671.61 513 673.74C512.92 675.87 513.13 678 513.5 680.13C513.87 682.26 514.57 684.82 515.2 686.52C515.83 688.22 516.8 689.29 517.3 690.35C517.8 691.42 518.2 692.16 518.2 692.91C518.2 693.66 518.03 694.08 517.3 694.83C516.57 695.57 515.37 696.68 513.8 697.38C512.23 698.09 506.57 698.72 507.9 699.04C509.23 699.36 519.48 699.26 521.8 699.3Z" fill="#6fa4d9" stroke="#3a3a3a" stroke-width="0.5" stroke-linejoin="round"/>
<path d="M553.4 699.3C555.82 699.26 566.57 699.36 567.9 699.04C569.23 698.72 563.32 698.09 561.4 697.38C559.48 696.68 557.63 695.68 556.4 694.83C555.17 693.98 554.3 693.23 554 692.27C553.7 691.31 554.28 690.46 554.6 689.08C554.92 687.69 555.63 685.45 555.9 683.96C556.17 682.47 556.25 681.62 556.2 680.13C556.15 678.64 555.9 676.93 555.6 675.02C555.3 673.1 554.68 670.54 554.4 668.63C554.12 666.71 554.07 666.2 553.9 663.52C553.73 660.83 553.57 652.53 553.4 652.53C553.23 652.53 553.07 660.83 552.9 663.52C552.73 666.2 552.68 666.71 552.4 668.63C552.12 670.54 551.5 673.1 551.2 675.02C550.9 676.93 550.65 678.64 550.6 680.13C550.55 681.62 550.63 682.47 550.9 683.96C551.17 685.45 551.88 687.69 552.2 689.08C552.52 690.46 553.1 691.31 552.8 692.27C552.5 693.23 551.63 693.98 550.4 694.83C549.17 695.68 547.32 696.68 545.4 697.38C543.48 698.09 537.57 698.72 538.9 699.04C540.23 699.36 550.98 699.26 553.4 699.3Z" fill="#e08c74" stroke="#3a3a3a" stroke-width="0.5" stroke-linejoin="round"/>
<path d="M585 699.3C587.33 699.26 597.67 699.36 599 699.04C600.33 698.72 594.75 698.09 593 697.38C591.25 696.68 589.63 695.79 588.5 694.83C587.37 693.87 586.68 693.02 586.2 691.63C585.72 690.25 585.7 688.44 585.6 686.52C585.5 684.6 585.4 682.26 585.6 680.13C585.8 678 586.48 675.87 586.8 673.74C587.12 671.61 587.55 669.48 587.5 667.35C587.45 665.22 586.82 663.09 586.5 660.96C586.18 658.83 585.85 657.79 585.6 654.57C585.35 651.35 585.2 641.66 585 641.66C584.8 641.66 584.65 651.35 584.4 654.57C584.15 657.79 583.82 658.83 583.5 660.96C583.18 663.09 582.55 665.22 582.5 667.35C582.45 669.48 582.88 671.61 583.2 673.74C583.52 675.87 584.2 678 584.4 680.13C584.6 682.26 584.5 684.6 584.4 686.52C584.3 688.44 584.28 690.25 583.8 691.63C583.32 693.02 582.63 693.87 581.5 694.83C580.37 695.79 578.75 696.68 577 697.38C575.25 698.09 569.67 698.72 571 699.04C572.33 699.36 582.67 699.26 585 699.3Z" fill="#86b595" stroke="#3a3a3a" stroke-width="0.5" stroke-linejoin="round"/>
<path d="M616.6 699.3C619.03 699.26 629.87 699.36 631.2 699.04C632.53 698.72 626.45 698.09 624.6 697.38C622.75 696.68 621.32 695.79 620.1 694.83C618.88 693.87 617.68 693.02 617.3 691.63C616.92 690.25 617.55 688.44 617.8 686.52C618.05 684.6 618.58 681.83 618.8 680.13C619.02 678.43 619.17 678 619.1 676.3C619.03 674.59 618.68 672.04 618.4 669.91C618.12 667.78 617.62 665.43 617.4 663.52C617.18 661.6 617.23 660.43 617.1 658.4C616.97 656.38 616.77 651.38 616.6 651.38C616.43 651.38 616.23 656.38 616.1 658.4C615.97 660.43 616.02 661.6 615.8 663.52C615.58 665.43 615.08 667.78 614.8 669.91C614.52 672.04 614.17 674.59 614.1 676.3C614.03 678 614.18 678.43 614.4 680.13C614.62 681.83 615.15 684.6 615.4 686.52C615.65 688.44 616.28 690.25 615.9 691.63C615.52 693.02 614.32 693.87 613.1 694.83C611.88 695.79 610.45 696.68 608.6 697.38C606.75 698.09 600.67 698.72 602 699.04C603.33 699.36 614.17 699.26 616.6 699.3Z" fill="#f4b386" stroke="#3a3a3a" stroke-width="0.5" stroke-linejoin="round"/>
<path d="M648.2 699.3C649.02 699.26 652.6 699.47 653.1 699.04C653.6 698.62 651.82 697.77 651.2 696.74C650.58 695.72 649.8 694.19 649.4 692.91C649 691.63 648.42 690.57 648.8 689.08C649.18 687.58 650.47 685.88 651.7 683.96C652.93 682.05 654.7 679.92 656.2 677.57C657.7 675.23 659.6 672.46 660.7 669.91C661.8 667.35 662.88 664.37 662.8 662.24C662.72 660.11 661.55 658.83 660.2 657.13C658.85 655.42 656.37 653.5 654.7 652.01C653.03 650.52 651.15 649.14 650.2 648.18C649.25 647.22 649.33 647.11 649 646.26C648.67 645.41 648.47 643.07 648.2 643.07C647.93 643.07 647.73 645.41 647.4 646.26C647.07 647.11 647.15 647.22 646.2 648.18C645.25 649.14 643.37 650.52 641.7 652.01C640.03 653.5 637.55 655.42 636.2 657.13C634.85 658.83 633.68 660.11 633.6 662.24C633.52 664.37 634.6 667.35 635.7 669.91C636.8 672.46 638.7 675.23 640.2 677.57C641.7 679.92 643.47 682.05 644.7 683.96C645.93 685.88 647.22 687.58 647.6 689.08C647.98 690.57 647.4 691.63 647 692.91C646.6 694.19 645.82 695.72 645.2 696.74C644.58 697.77 642.8 698.62 643.3 699.04C643.8 699.47 647.38 699.26 648.2 699.3Z" fill="#9891c4" stroke="#3a3a3a" stroke-width="0.5" stroke-linejoin="round"/>
<line x1="502.7" y1="639.6" x2="502.7" y2="701.9" stroke="#2a2a2a" stroke-width="0.75"/>
<line x1="502.7" y1="701.9" x2="667.7" y2="701.9" stroke="#2a2a2a" stroke-width="0.75"/>
<line x1="501.4" y1="699.3" x2="502.7" y2="699.3" stroke="#333" stroke-width="0.45"/>
<text x="499.9" y="701.86" font-size="7.2" text-anchor="end" fill="#333">0</text>
<line x1="501.4" y1="686.52" x2="502.7" y2="686.52" stroke="#333" stroke-width="0.45"/>
<text x="499.9" y="689.08" font-size="7.2" text-anchor="end" fill="#333">1</text>
<line x1="501.4" y1="673.74" x2="502.7" y2="673.74" stroke="#333" stroke-width="0.45"/>
<text x="499.9" y="676.3" font-size="7.2" text-anchor="end" fill="#333">2</text>
<line x1="501.4" y1="660.96" x2="502.7" y2="660.96" stroke="#333" stroke-width="0.45"/>
<text x="499.9" y="663.52" font-size="7.2" text-anchor="end" fill="#333">3</text>
<line x1="501.4" y1="648.18" x2="502.7" y2="648.18" stroke="#333" stroke-width="0.45"/>
<text x="499.9" y="650.74" font-size="7.2" text-anchor="end" fill="#333">4</text>
<line x1="521.8" y1="701.9" x2="521.8" y2="703.2" stroke="#333" stroke-width="0.45"/>
<text transform="translate(524 708.8) rotate(-45)" x="0" y="2.63" font-size="7.4" text-anchor="end" fill="#222">Macro−C1</text>
<line x1="553.4" y1="701.9" x2="553.4" y2="703.2" stroke="#333" stroke-width="0.45"/>
<text transform="translate(555.6 708.8) rotate(-45)" x="0" y="2.63" font-size="7.4" text-anchor="end" fill="#222">Macro−C2</text>
<line x1="585" y1="701.9" x2="585" y2="703.2" stroke="#333" stroke-width="0.45"/>
<text transform="translate(587.2 708.8) rotate(-45)" x="0" y="2.63" font-size="7.4" text-anchor="end" fill="#222">Macro−C3</text>
<line x1="616.6" y1="701.9" x2="616.6" y2="703.2" stroke="#333" stroke-width="0.45"/>
<text transform="translate(618.8 708.8) rotate(-45)" x="0" y="2.63" font-size="7.4" text-anchor="end" fill="#222">Macro−C4</text>
<line x1="648.2" y1="701.9" x2="648.2" y2="703.2" stroke="#333" stroke-width="0.45"/>
<text transform="translate(650.4 708.8) rotate(-45)" x="0" y="2.63" font-size="7.4" text-anchor="end" fill="#222">Macro−C5</text>
<text x="582.5" y="636.56" font-size="7.2" text-anchor="middle" fill="#222">LY6E</text>
<text transform="translate(485.3 670.8) rotate(-90)" x="0" y="2.56" font-size="7.2" text-anchor="middle" fill="#222">Expression level</text>
<path d="M325.3 814.8C327.68 814.77 338.1 814.9 339.6 814.65C341.1 814.4 335.85 813.89 334.3 813.29C332.75 812.69 331.27 811.78 330.3 811.02C329.33 810.27 328.87 809.64 328.5 808.76C328.13 807.88 328.17 807.25 328.1 805.74C328.03 804.23 328.03 801.34 328.1 799.7C328.17 798.06 328.17 797.81 328.5 795.92C328.83 794.04 329.72 790.89 330.1 788.38C330.48 785.86 330.72 782.96 330.8 780.82C330.88 778.69 330.93 777.43 330.6 775.54C330.27 773.65 329.43 771.51 328.8 769.5C328.17 767.49 327.28 764.84 326.8 763.46C326.32 762.08 326.15 762.08 325.9 761.19C325.65 760.31 325.5 758.17 325.3 758.17C325.1 758.17 324.95 760.31 324.7 761.19C324.45 762.08 324.28 762.08 323.8 763.46C323.32 764.84 322.43 767.49 321.8 769.5C321.17 771.51 320.33 773.65 320 775.54C319.67 777.43 319.72 778.69 319.8 780.82C319.88 782.96 320.12 785.86 320.5 788.38C320.88 790.89 321.77 794.04 322.1 795.92C322.43 797.81 322.43 798.06 322.5 799.7C322.57 801.34 322.57 804.23 322.5 805.74C322.43 807.25 322.47 807.88 322.1 808.76C321.73 809.64 321.27 810.27 320.3 811.02C319.33 811.78 317.85 812.69 316.3 813.29C314.75 813.89 309.5 814.4 311 814.65C312.5 814.9 322.92 814.77 325.3 814.8Z" fill="#6fa4d9" stroke="#3a3a3a" stroke-width="0.5" stroke-linejoin="round"/>
<path d="M356.9 814.8C359.17 814.77 369.17 814.84 370.5 814.65C371.83 814.46 366.67 814.08 364.9 813.67C363.13 813.25 361.1 812.72 359.9 812.16C358.7 811.59 358.12 811.09 357.7 810.27C357.28 809.45 357.43 809.01 357.4 807.25C357.37 805.49 357.47 802.22 357.5 799.7C357.53 797.18 357.6 794.67 357.6 792.15C357.6 789.63 357.53 787.12 357.5 784.6C357.47 782.08 357.43 779.57 357.4 777.05C357.37 774.53 357.38 772.02 357.3 769.5C357.22 766.98 357.03 761.95 356.9 761.95C356.77 761.95 356.58 766.98 356.5 769.5C356.42 772.02 356.43 774.53 356.4 777.05C356.37 779.57 356.33 782.08 356.3 784.6C356.27 787.12 356.2 789.63 356.2 792.15C356.2 794.67 356.27 797.18 356.3 799.7C356.33 802.22 356.43 805.49 356.4 807.25C356.37 809.01 356.52 809.45 356.1 810.27C355.68 811.09 355.1 811.59 353.9 812.16C352.7 812.72 350.67 813.25 348.9 813.67C347.13 814.08 341.97 814.46 343.3 814.65C344.63 814.84 354.63 814.77 356.9 814.8Z" fill="#e08c74" stroke="#3a3a3a" stroke-width="0.5" stroke-linejoin="round"/>
<path d="M388.5 814.8C390.83 814.77 400.83 814.9 402.5 814.65C404.17 814.4 399.83 813.89 398.5 813.29C397.17 812.69 395.67 811.91 394.5 811.02C393.33 810.14 392.28 809.01 391.5 808C390.72 807 390.13 806.12 389.8 804.98C389.47 803.85 389.42 802.72 389.5 801.21C389.58 799.7 389.93 798.06 390.3 795.92C390.67 793.79 391.5 790.89 391.7 788.38C391.9 785.86 391.7 783.34 391.5 780.82C391.3 778.31 390.83 775.79 390.5 773.27C390.17 770.76 389.83 768.37 389.5 765.72C389.17 763.08 388.83 757.42 388.5 757.42C388.17 757.42 387.83 763.08 387.5 765.72C387.17 768.37 386.83 770.76 386.5 773.27C386.17 775.79 385.7 778.31 385.5 780.82C385.3 783.34 385.1 785.86 385.3 788.38C385.5 790.89 386.33 793.79 386.7 795.92C387.07 798.06 387.42 799.7 387.5 801.21C387.58 802.72 387.53 803.85 387.2 804.98C386.87 806.12 386.28 807 385.5 808C384.72 809.01 383.67 810.14 382.5 811.02C381.33 811.91 379.83 812.69 378.5 813.29C377.17 813.89 372.83 814.4 374.5 814.65C376.17 814.9 386.17 814.77 388.5 814.8Z" fill="#86b595" stroke="#3a3a3a" stroke-width="0.5" stroke-linejoin="round"/>
<path d="M420.1 814.8C422.53 814.77 433.37 814.84 434.7 814.65C436.03 814.46 429.95 814.08 428.1 813.67C426.25 813.25 424.73 812.72 423.6 812.16C422.47 811.59 421.75 811.09 421.3 810.27C420.85 809.45 420.95 809.01 420.9 807.25C420.85 805.49 420.95 802.22 421 799.7C421.05 797.18 421.18 794.67 421.2 792.15C421.22 789.63 421.15 787.12 421.1 784.6C421.05 782.08 420.98 779.57 420.9 777.05C420.82 774.53 420.73 772.27 420.6 769.5C420.47 766.73 420.27 760.44 420.1 760.44C419.93 760.44 419.73 766.73 419.6 769.5C419.47 772.27 419.38 774.53 419.3 777.05C419.22 779.57 419.15 782.08 419.1 784.6C419.05 787.12 418.98 789.63 419 792.15C419.02 794.67 419.15 797.18 419.2 799.7C419.25 802.22 419.35 805.49 419.3 807.25C419.25 809.01 419.35 809.45 418.9 810.27C418.45 811.09 417.73 811.59 416.6 812.16C415.47 812.72 413.95 813.25 412.1 813.67C410.25 814.08 404.17 814.46 405.5 814.65C406.83 814.84 417.67 814.77 420.1 814.8Z" fill="#f4b386" stroke="#3a3a3a" stroke-width="0.5" stroke-linejoin="round"/>
<rect x="437.7" y="814.2" width="28" height="1.2" fill="#a9b0ab"/>
<line x1="451.7" y1="814.8" x2="451.7" y2="765.72" stroke="#3a3a3a" stroke-width="0.5"/>
<line x1="306.6" y1="754.6" x2="306.6" y2="817.3" stroke="#2a2a2a" stroke-width="0.75"/>
<line x1="306.6" y1="817.3" x2="471.6" y2="817.3" stroke="#2a2a2a" stroke-width="0.75"/>
<line x1="305.3" y1="814.8" x2="306.6" y2="814.8" stroke="#333" stroke-width="0.45"/>
<text x="303.8" y="817.36" font-size="7.2" text-anchor="end" fill="#333">0</text>
<line x1="305.3" y1="799.7" x2="306.6" y2="799.7" stroke="#333" stroke-width="0.45"/>
<text x="303.8" y="802.26" font-size="7.2" text-anchor="end" fill="#333">2</text>
<line x1="305.3" y1="784.6" x2="306.6" y2="784.6" stroke="#333" stroke-width="0.45"/>
<text x="303.8" y="787.16" font-size="7.2" text-anchor="end" fill="#333">4</text>
<line x1="305.3" y1="769.5" x2="306.6" y2="769.5" stroke="#333" stroke-width="0.45"/>
<text x="303.8" y="772.06" font-size="7.2" text-anchor="end" fill="#333">6</text>
<line x1="325.3" y1="817.3" x2="325.3" y2="818.6" stroke="#333" stroke-width="0.45"/>
<text transform="translate(327.5 824.2) rotate(-45)" x="0" y="2.63" font-size="7.4" text-anchor="end" fill="#222">Macro−C1</text>
<line x1="356.9" y1="817.3" x2="356.9" y2="818.6" stroke="#333" stroke-width="0.45"/>
<text transform="translate(359.1 824.2) rotate(-45)" x="0" y="2.63" font-size="7.4" text-anchor="end" fill="#222">Macro−C2</text>
<line x1="388.5" y1="817.3" x2="388.5" y2="818.6" stroke="#333" stroke-width="0.45"/>
<text transform="translate(390.7 824.2) rotate(-45)" x="0" y="2.63" font-size="7.4" text-anchor="end" fill="#222">Macro−C3</text>
<line x1="420.1" y1="817.3" x2="420.1" y2="818.6" stroke="#333" stroke-width="0.45"/>
<text transform="translate(422.3 824.2) rotate(-45)" x="0" y="2.63" font-size="7.4" text-anchor="end" fill="#222">Macro−C4</text>
<line x1="451.7" y1="817.3" x2="451.7" y2="818.6" stroke="#333" stroke-width="0.45"/>
<text transform="translate(453.9 824.2) rotate(-45)" x="0" y="2.63" font-size="7.4" text-anchor="end" fill="#222">Macro−C5</text>
<text x="387.8" y="750.66" font-size="7.2" text-anchor="middle" fill="#222">SPP1</text>
<text transform="translate(289.2 785.8) rotate(-90)" x="0" y="2.56" font-size="7.2" text-anchor="middle" fill="#222">Expression level</text>
<path d="M521.6 816.2C523.93 816.15 534.43 816.2 535.6 815.88C536.77 815.57 530.52 814.91 528.6 814.3C526.68 813.7 525.07 812.86 524.1 812.25C523.13 811.64 522.8 811.46 522.8 810.67C522.8 809.88 523.47 808.69 524.1 807.51C524.73 806.33 525.97 804.88 526.6 803.56C527.23 802.24 527.82 800.93 527.9 799.61C527.98 798.29 527.57 797.11 527.1 795.66C526.63 794.21 525.77 792.5 525.1 790.92C524.43 789.34 523.58 787.76 523.1 786.18C522.62 784.6 522.38 783.02 522.2 781.44C522.02 779.86 522.1 778.81 522 776.7C521.9 774.59 521.73 768.8 521.6 768.8C521.47 768.8 521.3 774.59 521.2 776.7C521.1 778.81 521.18 779.86 521 781.44C520.82 783.02 520.58 784.6 520.1 786.18C519.62 787.76 518.77 789.34 518.1 790.92C517.43 792.5 516.57 794.21 516.1 795.66C515.63 797.11 515.22 798.29 515.3 799.61C515.38 800.93 515.97 802.24 516.6 803.56C517.23 804.88 518.47 806.33 519.1 807.51C519.73 808.69 520.4 809.88 520.4 810.67C520.4 811.46 520.07 811.64 519.1 812.25C518.13 812.86 516.52 813.7 514.6 814.3C512.68 814.91 506.43 815.57 507.6 815.88C508.77 816.2 519.27 816.15 521.6 816.2Z" fill="#6fa4d9" stroke="#3a3a3a" stroke-width="0.5" stroke-linejoin="round"/>
<path d="M553.2 816.2C555.53 816.15 566.2 816.2 567.2 815.88C568.2 815.57 561.12 814.91 559.2 814.3C557.28 813.7 556.57 812.99 555.7 812.25C554.83 811.51 554.22 811.06 554 809.88C553.78 808.7 554.22 806.72 554.4 805.14C554.58 803.56 554.93 801.98 555.1 800.4C555.27 798.82 555.42 797.24 555.4 795.66C555.38 794.08 555.23 792.5 555 790.92C554.77 789.34 554.23 787.76 554 786.18C553.77 784.6 553.73 783.42 553.6 781.44C553.47 779.47 553.33 774.33 553.2 774.33C553.07 774.33 552.93 779.47 552.8 781.44C552.67 783.42 552.63 784.6 552.4 786.18C552.17 787.76 551.63 789.34 551.4 790.92C551.17 792.5 551.02 794.08 551 795.66C550.98 797.24 551.13 798.82 551.3 800.4C551.47 801.98 551.82 803.56 552 805.14C552.18 806.72 552.62 808.7 552.4 809.88C552.18 811.06 551.57 811.51 550.7 812.25C549.83 812.99 549.12 813.7 547.2 814.3C545.28 814.91 538.2 815.57 539.2 815.88C540.2 816.2 550.87 816.15 553.2 816.2Z" fill="#e08c74" stroke="#3a3a3a" stroke-width="0.5" stroke-linejoin="round"/>
<rect x="570.8" y="815.6" width="28" height="1.2" fill="#a9b0ab"/>
<line x1="584.8" y1="816.2" x2="584.8" y2="759.32" stroke="#3a3a3a" stroke-width="0.5"/>
<path d="M616.4 816.2C618.75 816.15 629.5 816.2 630.5 815.88C631.5 815.57 624.42 814.91 622.4 814.3C620.38 813.7 619.27 812.86 618.4 812.25C617.53 811.64 617.4 811.86 617.2 810.67C617 809.49 617.08 807.12 617.2 805.14C617.32 803.17 617.75 800.66 617.9 798.82C618.05 796.98 618.12 795.66 618.1 794.08C618.08 792.5 617.98 790.92 617.8 789.34C617.62 787.76 617.17 786.71 617 784.6C616.83 782.49 616.9 780.62 616.8 776.7C616.7 772.78 616.53 761.06 616.4 761.06C616.27 761.06 616.1 772.78 616 776.7C615.9 780.62 615.97 782.49 615.8 784.6C615.63 786.71 615.18 787.76 615 789.34C614.82 790.92 614.72 792.5 614.7 794.08C614.68 795.66 614.75 796.98 614.9 798.82C615.05 800.66 615.48 803.17 615.6 805.14C615.72 807.12 615.8 809.49 615.6 810.67C615.4 811.86 615.27 811.64 614.4 812.25C613.53 812.86 612.42 813.7 610.4 814.3C608.38 814.91 601.3 815.57 602.3 815.88C603.3 816.2 614.05 816.15 616.4 816.2Z" fill="#f4b386" stroke="#3a3a3a" stroke-width="0.5" stroke-linejoin="round"/>
<path d="M648 816.2C650.43 816.15 661.43 816.2 662.6 815.88C663.77 815.57 657.02 815.04 655 814.3C652.98 813.57 651.55 812.59 650.5 811.46C649.45 810.33 648.82 808.83 648.7 807.51C648.58 806.19 649.28 805.01 649.8 803.56C650.32 802.11 651.4 800.14 651.8 798.82C652.2 797.5 652.25 796.98 652.2 795.66C652.15 794.34 651.95 792.5 651.5 790.92C651.05 789.34 649.98 787.5 649.5 786.18C649.02 784.86 648.78 784.6 648.6 783.02C648.42 781.44 648.5 779.07 648.4 776.7C648.3 774.33 648.13 768.8 648 768.8C647.87 768.8 647.7 774.33 647.6 776.7C647.5 779.07 647.58 781.44 647.4 783.02C647.22 784.6 646.98 784.86 646.5 786.18C646.02 787.5 644.95 789.34 644.5 790.92C644.05 792.5 643.85 794.34 643.8 795.66C643.75 796.98 643.8 797.5 644.2 798.82C644.6 800.14 645.68 802.11 646.2 803.56C646.72 805.01 647.42 806.19 647.3 807.51C647.18 808.83 646.55 810.33 645.5 811.46C644.45 812.59 643.02 813.57 641 814.3C638.98 815.04 632.23 815.57 633.4 815.88C634.57 816.2 645.57 816.15 648 816.2Z" fill="#9891c4" stroke="#3a3a3a" stroke-width="0.5" stroke-linejoin="round"/>
<line x1="502.7" y1="755.6" x2="502.7" y2="818.6" stroke="#2a2a2a" stroke-width="0.75"/>
<line x1="502.7" y1="818.6" x2="667.7" y2="818.6" stroke="#2a2a2a" stroke-width="0.75"/>
<line x1="501.4" y1="816.2" x2="502.7" y2="816.2" stroke="#333" stroke-width="0.45"/>
<text x="499.9" y="818.76" font-size="7.2" text-anchor="end" fill="#333">0</text>
<line x1="501.4" y1="800.4" x2="502.7" y2="800.4" stroke="#333" stroke-width="0.45"/>
<text x="499.9" y="802.96" font-size="7.2" text-anchor="end" fill="#333">1</text>
<line x1="501.4" y1="784.6" x2="502.7" y2="784.6" stroke="#333" stroke-width="0.45"/>
<text x="499.9" y="787.16" font-size="7.2" text-anchor="end" fill="#333">2</text>
<line x1="501.4" y1="768.8" x2="502.7" y2="768.8" stroke="#333" stroke-width="0.45"/>
<text x="499.9" y="771.36" font-size="7.2" text-anchor="end" fill="#333">3</text>
<line x1="521.6" y1="818.6" x2="521.6" y2="819.9" stroke="#333" stroke-width="0.45"/>
<text transform="translate(523.8 825.5) rotate(-45)" x="0" y="2.63" font-size="7.4" text-anchor="end" fill="#222">Macro−C1</text>
<line x1="553.2" y1="818.6" x2="553.2" y2="819.9" stroke="#333" stroke-width="0.45"/>
<text transform="translate(555.4 825.5) rotate(-45)" x="0" y="2.63" font-size="7.4" text-anchor="end" fill="#222">Macro−C2</text>
<line x1="584.8" y1="818.6" x2="584.8" y2="819.9" stroke="#333" stroke-width="0.45"/>
<text transform="translate(587 825.5) rotate(-45)" x="0" y="2.63" font-size="7.4" text-anchor="end" fill="#222">Macro−C3</text>
<line x1="616.4" y1="818.6" x2="616.4" y2="819.9" stroke="#333" stroke-width="0.45"/>
<text transform="translate(618.6 825.5) rotate(-45)" x="0" y="2.63" font-size="7.4" text-anchor="end" fill="#222">Macro−C4</text>
<line x1="648" y1="818.6" x2="648" y2="819.9" stroke="#333" stroke-width="0.45"/>
<text transform="translate(650.2 825.5) rotate(-45)" x="0" y="2.63" font-size="7.4" text-anchor="end" fill="#222">Macro−C5</text>
<text x="584.2" y="749.66" font-size="7.2" text-anchor="middle" fill="#222">SIRPA</text>
<text transform="translate(485.3 786.8) rotate(-90)" x="0" y="2.56" font-size="7.2" text-anchor="middle" fill="#222">Expression level</text>
</svg>
</body></html>
